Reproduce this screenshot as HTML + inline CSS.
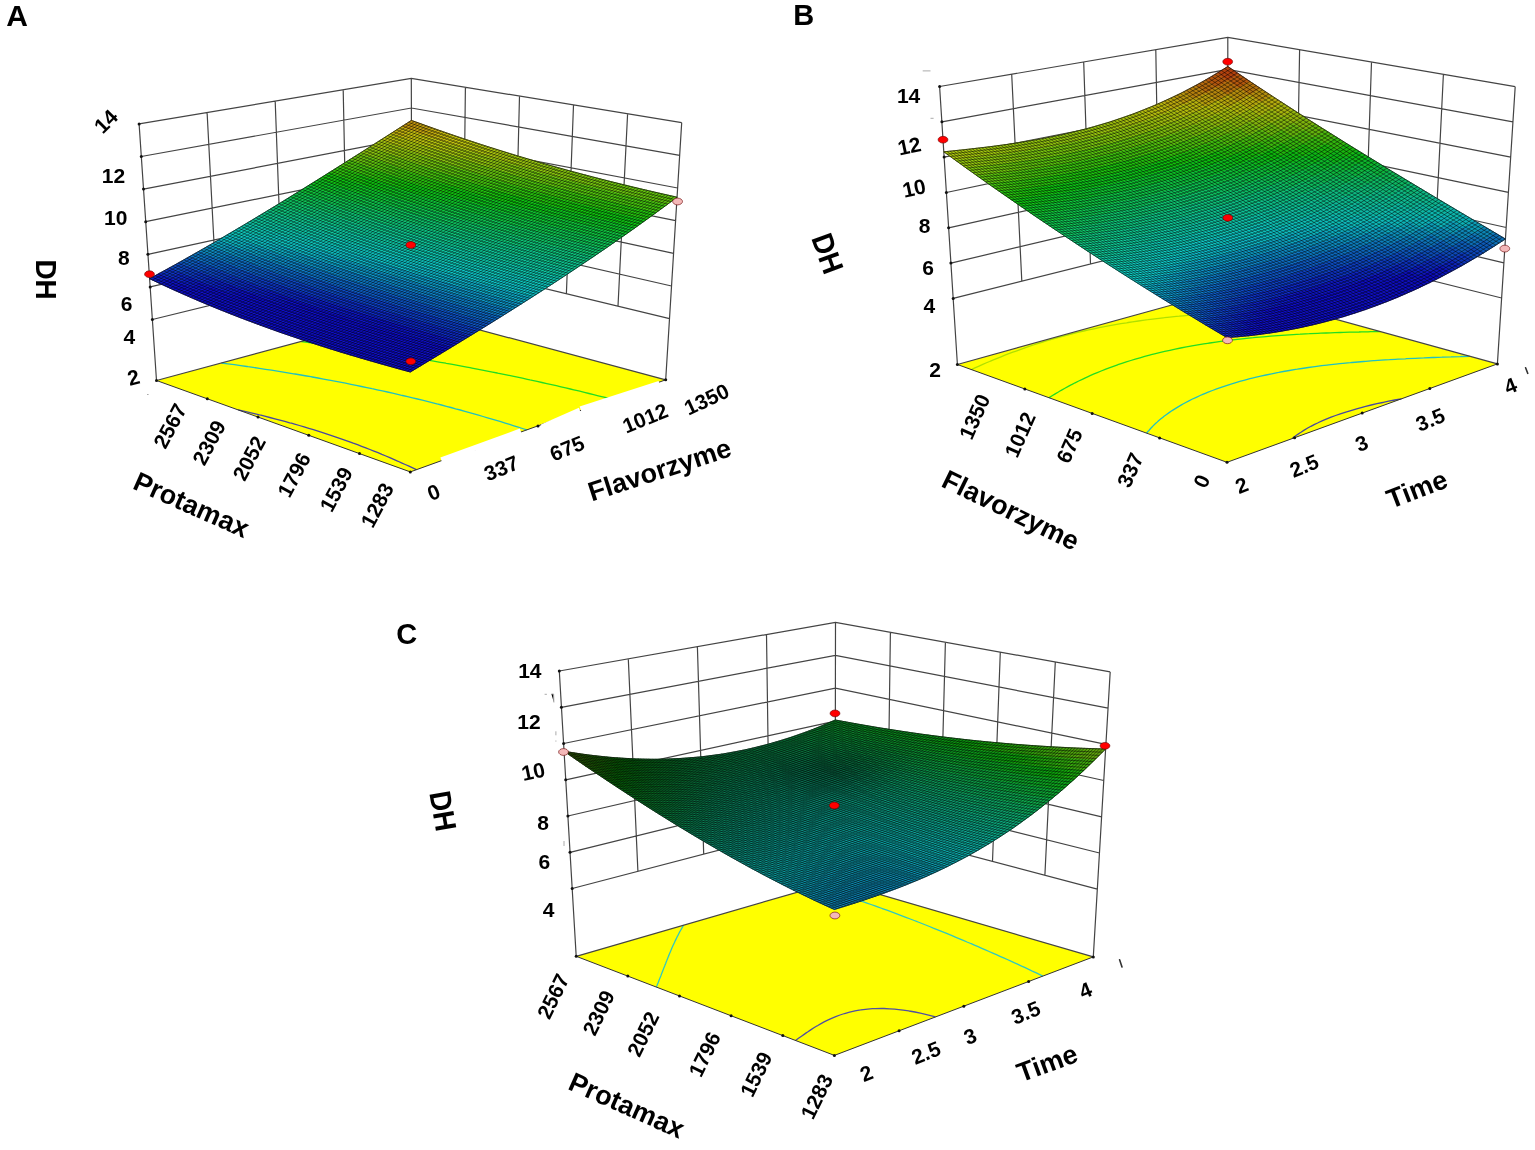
<!DOCTYPE html>
<html><head><meta charset="utf-8"><style>
html,body{margin:0;padding:0;background:#fff;}
body{width:1535px;height:1150px;overflow:hidden;position:relative;}
svg{position:absolute;left:0;top:0;}
.t{font-family:"Liberation Sans",Arial,sans-serif;font-weight:bold;fill:#000;}
</style></head><body>
<svg width="1535" height="1150" viewBox="0 0 1535 1150">
<polygon points="410.3,471.9 156.5,380.5 411.9,311.7 665.7,379.8" fill="#ffff00"/>
<path d="M238.2,409.9 L238.3,409.9 L243.7,411.1 L249,412.4 L254.3,413.6 L259.5,414.9 L260.9,415.2 L264.7,416.2 L269.8,417.5 L274.9,418.8 L279.9,420.1 L284.8,421.4 L289.7,422.8 L291.4,423.2 L294.6,424.1 L299.4,425.5 L304.1,426.9 L308.8,428.3 L313.4,429.7 L318,431.2 L322.6,432.6 L327.1,434.1 L331.6,435.6 L336,437.1 L340.4,438.6 L344.7,440.1 L349,441.6 L353.2,443.2 L357.5,444.7 L361.6,446.3 L365.8,447.9 L369.9,449.5 L373.9,451.1 L378,452.7 L381.9,454.4 L385.9,456 L389.8,457.7 L393.7,459.4 L397.6,461.1 L398.6,461.5 L401.4,462.8 L405.2,464.5 L409,466.2 L412.7,467.9 L416.4,469.7" fill="none" stroke="#4848a0" stroke-width="1.3"/>
<path d="M221.4,363 L227.9,363.9 L234.3,364.7 L234.5,364.7 L240.7,365.6 L246.9,366.5 L248.1,366.7 L253.1,367.4 L259.3,368.3 L262.4,368.8 L265.4,369.3 L271.4,370.2 L277.4,371.1 L277.5,371.1 L283.4,372.1 L289.3,373.1 L293.6,373.8 L295.1,374 L300.9,375 L306.6,376 L310.8,376.7 L312.3,377 L317.9,378 L323.5,379.1 L329.1,380.1 L329.4,380.1 L334.6,381.1 L340.1,382.2 L345.5,383.2 L349.9,384.1 L350.9,384.3 L356.2,385.4 L361.5,386.5 L366.8,387.6 L372,388.7 L373.2,388.9 L377.2,389.8 L382.4,390.9 L387.5,392 L392.6,393.2 L397.6,394.3 L400.8,395.1 L402.6,395.5 L407.6,396.6 L412.5,397.8 L417.5,399 L422.3,400.2 L427.2,401.4 L432,402.6 L436.8,403.8 L437.1,403.9 L441.5,405 L446.3,406.3 L451,407.5 L455.6,408.8 L460.3,410 L464.9,411.3 L469.5,412.6 L474,413.9 L478.5,415.2 L483,416.5 L487.5,417.8 L492,419.1 L496.4,420.4 L500.8,421.7 L505.2,423.1 L509.6,424.4 L513.9,425.8 L518.2,427.1 L522.5,428.5 L526.8,429.9" fill="none" stroke="#22c0c0" stroke-width="1.3"/>
<path d="M301.2,341.5 L307.5,342.3 L309.1,342.5 L313.7,343.1 L319.9,343.9 L323.2,344.3 L326.1,344.7 L332.2,345.5 L337.9,346.3 L338.2,346.3 L344.2,347.2 L350.2,348 L353.4,348.4 L356.1,348.8 L362,349.7 L367.9,350.5 L369.6,350.8 L373.7,351.4 L379.4,352.3 L385.1,353.2 L386.8,353.4 L390.8,354 L396.5,354.9 L402.1,355.8 L405.1,356.3 L407.7,356.7 L413.2,357.6 L418.7,358.6 L424.2,359.5 L424.7,359.6 L429.6,360.4 L435,361.3 L440.4,362.3 L445.8,363.2 L446.2,363.3 L451.1,364.2 L456.4,365.2 L461.6,366.1 L466.8,367.1 L470,367.7 L472,368.1 L477.2,369.1 L482.3,370.1 L487.4,371.1 L492.5,372.1 L497.3,373 L497.6,373.1 L502.6,374.1 L507.6,375.1 L512.6,376.2 L517.5,377.2 L522.4,378.2 L527.3,379.3 L530,379.9 L532.2,380.3 L537.1,381.4 L541.9,382.5 L546.7,383.6 L551.5,384.6 L556.3,385.7 L561,386.8 L565.7,387.9 L570.4,389 L573.8,389.8 L575.1,390.1 L579.8,391.2 L584.4,392.4 L589,393.5 L593.6,394.6 L598.2,395.8 L602.8,396.9 L607.4,398 L611.9,399.2" fill="none" stroke="#22dd22" stroke-width="1.3"/>
<path d="M139.1,123.9 L411.3,78.4 L681.7,122.6 M141.3,156.5 L411.4,108 L679.7,155.3 M143.5,189.1 L411.5,137.7 L677.6,188 M145.7,221.7 L411.5,167.3 L675.6,220.6 M147.9,254.3 L411.6,197 L673.6,253.3 M150.2,286.9 L411.7,226.6 L671.5,286 M152.4,319.5 L411.8,256.2 L669.5,318.7 M156.5,380.5 L411.9,311.7 L665.7,379.8 M156.5,380.5 L139.1,123.9 M665.7,379.8 L681.7,122.6 M217.2,303.7 L207.1,112.5 M282.1,287.9 L275.2,101.2 M346.9,272.1 L343.2,89.8 M411.8,256.2 L411.3,78.4 M618,306.2 L627.6,113.8 M566.4,293.7 L573.5,104.9 M514.9,281.2 L519.5,96.1 M463.3,268.7 L465.4,87.2" fill="none" stroke="#444" stroke-width="1.2"/>
<path d="M156.5,380.5 L410.3,471.9 L665.7,379.8" fill="none" stroke="#333" stroke-width="1"/>
<g fill="#111"><circle cx="139.1" cy="123.9" r="1.5"/><circle cx="141.3" cy="156.5" r="1.5"/><circle cx="143.5" cy="189.1" r="1.5"/><circle cx="145.7" cy="221.7" r="1.5"/><circle cx="147.9" cy="254.3" r="1.5"/><circle cx="150.2" cy="286.9" r="1.5"/><circle cx="152.4" cy="319.5" r="1.5"/><circle cx="156.5" cy="380.5" r="1.5"/><circle cx="410.3" cy="471.9" r="1.5"/><circle cx="359.5" cy="453.6" r="1.5"/><circle cx="308.8" cy="435.3" r="1.5"/><circle cx="258" cy="417.1" r="1.5"/><circle cx="207.3" cy="398.8" r="1.5"/><circle cx="474.2" cy="448.9" r="1.5"/><circle cx="538" cy="425.9" r="1.5"/><circle cx="601.9" cy="402.8" r="1.5"/><circle cx="665.7" cy="379.8" r="1.5"/></g>
<polygon points="411.4,130.8 401.1,127 411.4,120.4 421.7,124.1" fill="#c3950e" stroke="#c3950e" stroke-width=".8"/>
<polygon points="401,137.5 390.8,133.6 401.1,127 411.4,130.8" fill="#c3b30e" stroke="#c3b30e" stroke-width=".8"/>
<polygon points="421.6,134.6 411.4,130.8 421.7,124.1 432,127.8" fill="#c3a10e" stroke="#c3a10e" stroke-width=".8"/>
<polygon points="431.9,138.2 421.6,134.6 432,127.8 442.2,131.4" fill="#c3ad0e" stroke="#c3ad0e" stroke-width=".8"/>
<polygon points="411.3,141.2 401,137.5 411.4,130.8 421.6,134.6" fill="#c3bf0e" stroke="#c3bf0e" stroke-width=".8"/>
<polygon points="390.8,144.1 380.5,140.1 390.8,133.6 401,137.5" fill="#b8c20e" stroke="#b8c20e" stroke-width=".8"/>
<polygon points="442.1,141.8 431.9,138.2 442.2,131.4 452.5,135" fill="#c3b80e" stroke="#c3b80e" stroke-width=".8"/>
<polygon points="421.6,145 411.3,141.2 421.6,134.6 431.9,138.2" fill="#bdc30e" stroke="#bdc30e" stroke-width=".8"/>
<polygon points="401,147.9 390.8,144.1 401,137.5 411.3,141.2" fill="#aec30e" stroke="#aec30e" stroke-width=".8"/>
<polygon points="380.5,150.6 370.2,146.7 380.5,140.1 390.8,144.1" fill="#a0c20e" stroke="#a0c20e" stroke-width=".8"/>
<polygon points="431.8,148.6 421.6,145 431.9,138.2 442.1,141.8" fill="#b5c30e" stroke="#b5c30e" stroke-width=".8"/>
<polygon points="411.3,151.7 401,147.9 411.3,141.2 421.6,145" fill="#a6c30e" stroke="#a6c30e" stroke-width=".8"/>
<polygon points="452.4,145.3 442.1,141.8 452.5,135 462.7,138.4" fill="#c3c20e" stroke="#c3c20e" stroke-width=".8"/>
<polygon points="390.8,154.5 380.5,150.6 390.8,144.1 401,147.9" fill="#97c20e" stroke="#97c20e" stroke-width=".8"/>
<polygon points="370.3,157.2 360,153.2 370.2,146.7 380.5,150.6" fill="#89c20e" stroke="#89c20e" stroke-width=".8"/>
<polygon points="462.6,148.8 452.4,145.3 462.7,138.4 473,141.8" fill="#bdc40e" stroke="#bdc40e" stroke-width=".8"/>
<polygon points="380.5,161.1 370.3,157.2 380.5,150.6 390.8,154.5" fill="#7ec20e" stroke="#7ec20e" stroke-width=".8"/>
<polygon points="442,152.2 431.8,148.6 442.1,141.8 452.4,145.3" fill="#adc30e" stroke="#adc30e" stroke-width=".8"/>
<polygon points="421.5,155.4 411.3,151.7 421.6,145 431.8,148.6" fill="#9dc30e" stroke="#9dc30e" stroke-width=".8"/>
<polygon points="401,158.3 390.8,154.5 401,147.9 411.3,151.7" fill="#8ec30e" stroke="#8ec30e" stroke-width=".8"/>
<polygon points="360.1,163.7 349.8,159.6 360,153.2 370.3,157.2" fill="#6cc20e" stroke="#6cc20e" stroke-width=".8"/>
<polygon points="472.8,152.2 462.6,148.8 473,141.8 483.2,145.2" fill="#b6c40e" stroke="#b6c40e" stroke-width=".8"/>
<polygon points="452.3,155.7 442,152.2 452.4,145.3 462.6,148.8" fill="#a5c30e" stroke="#a5c30e" stroke-width=".8"/>
<polygon points="431.7,159 421.5,155.4 431.8,148.6 442,152.2" fill="#95c30e" stroke="#95c30e" stroke-width=".8"/>
<polygon points="411.2,162.1 401,158.3 411.3,151.7 421.5,155.4" fill="#85c30e" stroke="#85c30e" stroke-width=".8"/>
<polygon points="390.7,165 380.5,161.1 390.8,154.5 401,158.3" fill="#72c30e" stroke="#72c30e" stroke-width=".8"/>
<polygon points="370.3,167.7 360.1,163.7 370.3,157.2 380.5,161.1" fill="#60c20e" stroke="#60c20e" stroke-width=".8"/>
<polygon points="349.9,170.2 339.6,166.1 349.8,159.6 360.1,163.7" fill="#4ec20e" stroke="#4ec20e" stroke-width=".8"/>
<polygon points="462.5,159.1 452.3,155.7 462.6,148.8 472.8,152.2" fill="#9ec40e" stroke="#9ec40e" stroke-width=".8"/>
<polygon points="441.9,162.5 431.7,159 442,152.2 452.3,155.7" fill="#8dc30e" stroke="#8dc30e" stroke-width=".8"/>
<polygon points="380.5,171.6 370.3,167.7 380.5,161.1 390.7,165" fill="#54c30e" stroke="#54c30e" stroke-width=".8"/>
<polygon points="339.7,176.6 329.5,172.4 339.6,166.1 349.9,170.2" fill="#31c20e" stroke="#31c20e" stroke-width=".8"/>
<polygon points="483.1,155.5 472.8,152.2 483.2,145.2 493.4,148.4" fill="#afc40e" stroke="#afc40e" stroke-width=".8"/>
<polygon points="421.4,165.7 411.2,162.1 421.5,155.4 431.7,159" fill="#7bc30e" stroke="#7bc30e" stroke-width=".8"/>
<polygon points="401,168.8 390.7,165 401,158.3 411.2,162.1" fill="#67c30e" stroke="#67c30e" stroke-width=".8"/>
<polygon points="360.1,174.2 349.9,170.2 360.1,163.7 370.3,167.7" fill="#42c20e" stroke="#42c20e" stroke-width=".8"/>
<polygon points="493.3,158.7 483.1,155.5 493.4,148.4 503.7,151.6" fill="#a9c40e" stroke="#a9c40e" stroke-width=".8"/>
<polygon points="431.6,169.3 421.4,165.7 431.7,159 441.9,162.5" fill="#71c30e" stroke="#71c30e" stroke-width=".8"/>
<polygon points="411.2,172.5 401,168.8 411.2,162.1 421.4,165.7" fill="#5cc30e" stroke="#5cc30e" stroke-width=".8"/>
<polygon points="472.7,162.5 462.5,159.1 472.8,152.2 483.1,155.5" fill="#97c40e" stroke="#97c40e" stroke-width=".8"/>
<polygon points="452.2,166 441.9,162.5 452.3,155.7 462.5,159.1" fill="#86c40e" stroke="#86c40e" stroke-width=".8"/>
<polygon points="390.7,175.4 380.5,171.6 390.7,165 401,168.8" fill="#49c30e" stroke="#49c30e" stroke-width=".8"/>
<polygon points="370.3,178.1 360.1,174.2 370.3,167.7 380.5,171.6" fill="#36c30e" stroke="#36c30e" stroke-width=".8"/>
<polygon points="349.9,180.6 339.7,176.6 349.9,170.2 360.1,174.2" fill="#25c20e" stroke="#25c20e" stroke-width=".8"/>
<polygon points="329.6,183 319.3,178.8 329.5,172.4 339.7,176.6" fill="#14c20e" stroke="#14c20e" stroke-width=".8"/>
<polygon points="421.4,176.1 411.2,172.5 421.4,165.7 431.6,169.3" fill="#52c30e" stroke="#52c30e" stroke-width=".8"/>
<polygon points="503.5,161.9 493.3,158.7 503.7,151.6 513.9,154.8" fill="#a3c40e" stroke="#a3c40e" stroke-width=".8"/>
<polygon points="482.9,165.8 472.7,162.5 483.1,155.5 493.3,158.7" fill="#91c40e" stroke="#91c40e" stroke-width=".8"/>
<polygon points="462.4,169.4 452.2,166 462.5,159.1 472.7,162.5" fill="#7dc40e" stroke="#7dc40e" stroke-width=".8"/>
<polygon points="441.9,172.8 431.6,169.3 441.9,162.5 452.2,166" fill="#67c40e" stroke="#67c40e" stroke-width=".8"/>
<polygon points="400.9,179.1 390.7,175.4 401,168.8 411.2,172.5" fill="#3ec30e" stroke="#3ec30e" stroke-width=".8"/>
<polygon points="380.5,182 370.3,178.1 380.5,171.6 390.7,175.4" fill="#2bc30e" stroke="#2bc30e" stroke-width=".8"/>
<polygon points="360.1,184.6 349.9,180.6 360.1,174.2 370.3,178.1" fill="#19c30e" stroke="#19c30e" stroke-width=".8"/>
<polygon points="339.8,187.1 329.6,183 339.7,176.6 349.9,180.6" fill="#0ec212" stroke="#0ec212" stroke-width=".8"/>
<polygon points="319.4,189.3 309.2,185.1 319.3,178.8 329.6,183" fill="#0ec21f" stroke="#0ec21f" stroke-width=".8"/>
<polygon points="493.1,169 482.9,165.8 493.3,158.7 503.5,161.9" fill="#8bc40e" stroke="#8bc40e" stroke-width=".8"/>
<polygon points="472.6,172.7 462.4,169.4 472.7,162.5 482.9,165.8" fill="#74c40e" stroke="#74c40e" stroke-width=".8"/>
<polygon points="411.1,182.8 400.9,179.1 411.2,172.5 421.4,176.1" fill="#34c30e" stroke="#34c30e" stroke-width=".8"/>
<polygon points="370.3,188.5 360.1,184.6 370.3,178.1 380.5,182" fill="#0ec30e" stroke="#0ec30e" stroke-width=".8"/>
<polygon points="350,191.1 339.8,187.1 349.9,180.6 360.1,184.6" fill="#0ec31b" stroke="#0ec31b" stroke-width=".8"/>
<polygon points="513.7,165 503.5,161.9 513.9,154.8 524.1,157.8" fill="#9dc40e" stroke="#9dc40e" stroke-width=".8"/>
<polygon points="452,176.3 441.9,172.8 452.2,166 462.4,169.4" fill="#5ec40e" stroke="#5ec40e" stroke-width=".8"/>
<polygon points="431.6,179.6 421.4,176.1 431.6,169.3 441.9,172.8" fill="#48c40e" stroke="#48c40e" stroke-width=".8"/>
<polygon points="390.7,185.8 380.5,182 390.7,175.4 400.9,179.1" fill="#20c30e" stroke="#20c30e" stroke-width=".8"/>
<polygon points="329.6,193.5 319.4,189.3 329.6,183 339.8,187.1" fill="#0ec228" stroke="#0ec228" stroke-width=".8"/>
<polygon points="309.3,195.6 299.1,191.4 309.2,185.1 319.4,189.3" fill="#0ec235" stroke="#0ec235" stroke-width=".8"/>
<polygon points="523.9,168.1 513.7,165 524.1,157.8 534.3,160.8" fill="#98c50e" stroke="#98c50e" stroke-width=".8"/>
<polygon points="503.3,172.1 493.1,169 503.5,161.9 513.7,165" fill="#84c40e" stroke="#84c40e" stroke-width=".8"/>
<polygon points="462.2,179.7 452,176.3 462.4,169.4 472.6,172.7" fill="#55c40e" stroke="#55c40e" stroke-width=".8"/>
<polygon points="441.8,183.1 431.6,179.6 441.9,172.8 452,176.3" fill="#3fc40e" stroke="#3fc40e" stroke-width=".8"/>
<polygon points="400.9,189.5 390.7,185.8 400.9,179.1 411.1,182.8" fill="#17c30e" stroke="#17c30e" stroke-width=".8"/>
<polygon points="339.8,197.5 329.6,193.5 339.8,187.1 350,191.1" fill="#0ec332" stroke="#0ec332" stroke-width=".8"/>
<polygon points="319.5,199.8 309.3,195.6 319.4,189.3 329.6,193.5" fill="#0ec23e" stroke="#0ec23e" stroke-width=".8"/>
<polygon points="482.7,176 472.6,172.7 482.9,165.8 493.1,169" fill="#6cc40e" stroke="#6cc40e" stroke-width=".8"/>
<polygon points="421.3,186.4 411.1,182.8 421.4,176.1 431.6,179.6" fill="#2ac40e" stroke="#2ac40e" stroke-width=".8"/>
<polygon points="380.5,192.3 370.3,188.5 380.5,182 390.7,185.8" fill="#0ec316" stroke="#0ec316" stroke-width=".8"/>
<polygon points="360.2,195 350,191.1 360.1,184.6 370.3,188.5" fill="#0ec324" stroke="#0ec324" stroke-width=".8"/>
<polygon points="299.2,201.9 289,197.6 299.1,191.4 309.3,195.6" fill="#0ec24a" stroke="#0ec24a" stroke-width=".8"/>
<polygon points="451.9,186.5 441.8,183.1 452,176.3 462.2,179.7" fill="#37c40e" stroke="#37c40e" stroke-width=".8"/>
<polygon points="534.1,171.1 523.9,168.1 534.3,160.8 544.5,163.8" fill="#93c50e" stroke="#93c50e" stroke-width=".8"/>
<polygon points="513.5,175.2 503.3,172.1 513.7,165 523.9,168.1" fill="#7dc50e" stroke="#7dc50e" stroke-width=".8"/>
<polygon points="492.9,179.2 482.7,176 493.1,169 503.3,172.1" fill="#65c40e" stroke="#65c40e" stroke-width=".8"/>
<polygon points="472.4,183 462.2,179.7 472.6,172.7 482.7,176" fill="#4dc40e" stroke="#4dc40e" stroke-width=".8"/>
<polygon points="431.5,189.9 421.3,186.4 431.6,179.6 441.8,183.1" fill="#22c40e" stroke="#22c40e" stroke-width=".8"/>
<polygon points="411.1,193.1 400.9,189.5 411.1,182.8 421.3,186.4" fill="#0ec40e" stroke="#0ec40e" stroke-width=".8"/>
<polygon points="390.7,196.1 380.5,192.3 390.7,185.8 400.9,189.5" fill="#0ec31e" stroke="#0ec31e" stroke-width=".8"/>
<polygon points="370.4,198.9 360.2,195 370.3,188.5 380.5,192.3" fill="#0ec32c" stroke="#0ec32c" stroke-width=".8"/>
<polygon points="350,201.5 339.8,197.5 350,191.1 360.2,195" fill="#0ec33a" stroke="#0ec33a" stroke-width=".8"/>
<polygon points="329.7,203.9 319.5,199.8 329.6,193.5 339.8,197.5" fill="#0ec347" stroke="#0ec347" stroke-width=".8"/>
<polygon points="309.4,206.1 299.2,201.9 309.3,195.6 319.5,199.8" fill="#0ec254" stroke="#0ec254" stroke-width=".8"/>
<polygon points="289.2,208.1 279,203.8 289,197.6 299.2,201.9" fill="#0ec260" stroke="#0ec260" stroke-width=".8"/>
<polygon points="544.3,174 534.1,171.1 544.5,163.8 554.7,166.7" fill="#8ec50e" stroke="#8ec50e" stroke-width=".8"/>
<polygon points="503.1,182.3 492.9,179.2 503.3,172.1 513.5,175.2" fill="#5dc50e" stroke="#5dc50e" stroke-width=".8"/>
<polygon points="441.7,193.3 431.5,189.9 441.8,183.1 451.9,186.5" fill="#19c40e" stroke="#19c40e" stroke-width=".8"/>
<polygon points="400.9,199.7 390.7,196.1 400.9,189.5 411.1,193.1" fill="#0ec425" stroke="#0ec425" stroke-width=".8"/>
<polygon points="380.5,202.6 370.4,198.9 380.5,192.3 390.7,196.1" fill="#0ec434" stroke="#0ec434" stroke-width=".8"/>
<polygon points="319.6,210.2 309.4,206.1 319.5,199.8 329.7,203.9" fill="#0ec35d" stroke="#0ec35d" stroke-width=".8"/>
<polygon points="279.1,214.2 268.9,209.9 279,203.8 289.2,208.1" fill="#0ec274" stroke="#0ec274" stroke-width=".8"/>
<polygon points="523.7,178.3 513.5,175.2 523.9,168.1 534.1,171.1" fill="#76c50e" stroke="#76c50e" stroke-width=".8"/>
<polygon points="482.6,186.2 472.4,183 482.7,176 492.9,179.2" fill="#46c50e" stroke="#46c50e" stroke-width=".8"/>
<polygon points="462.1,189.9 451.9,186.5 462.2,179.7 472.4,183" fill="#2fc40e" stroke="#2fc40e" stroke-width=".8"/>
<polygon points="421.3,196.6 411.1,193.1 421.3,186.4 431.5,189.9" fill="#0ec415" stroke="#0ec415" stroke-width=".8"/>
<polygon points="360.2,205.3 350,201.5 360.2,195 370.4,198.9" fill="#0ec342" stroke="#0ec342" stroke-width=".8"/>
<polygon points="339.9,207.9 329.7,203.9 339.8,197.5 350,201.5" fill="#0ec350" stroke="#0ec350" stroke-width=".8"/>
<polygon points="299.4,212.3 289.2,208.1 299.2,201.9 309.4,206.1" fill="#0ec369" stroke="#0ec369" stroke-width=".8"/>
<polygon points="554.5,176.9 544.3,174 554.7,166.7 564.9,169.5" fill="#89c50e" stroke="#89c50e" stroke-width=".8"/>
<polygon points="533.9,181.2 523.7,178.3 534.1,171.1 544.3,174" fill="#70c50e" stroke="#70c50e" stroke-width=".8"/>
<polygon points="492.8,189.4 482.6,186.2 492.9,179.2 503.1,182.3" fill="#3fc50e" stroke="#3fc50e" stroke-width=".8"/>
<polygon points="472.3,193.1 462.1,189.9 472.4,183 482.6,186.2" fill="#27c50e" stroke="#27c50e" stroke-width=".8"/>
<polygon points="431.4,200.1 421.3,196.6 431.5,189.9 441.7,193.3" fill="#0ec41c" stroke="#0ec41c" stroke-width=".8"/>
<polygon points="370.4,209.1 360.2,205.3 370.4,198.9 380.5,202.6" fill="#0ec44a" stroke="#0ec44a" stroke-width=".8"/>
<polygon points="350.1,211.8 339.9,207.9 350,201.5 360.2,205.3" fill="#0ec358" stroke="#0ec358" stroke-width=".8"/>
<polygon points="289.3,218.5 279.1,214.2 289.2,208.1 299.4,212.3" fill="#0ec37e" stroke="#0ec37e" stroke-width=".8"/>
<polygon points="269.1,220.3 258.9,215.9 268.9,209.9 279.1,214.2" fill="#0ec287" stroke="#0ec287" stroke-width=".8"/>
<polygon points="513.3,185.4 503.1,182.3 513.5,175.2 523.7,178.3" fill="#57c50e" stroke="#57c50e" stroke-width=".8"/>
<polygon points="451.8,196.7 441.7,193.3 451.9,186.5 462.1,189.9" fill="#11c40e" stroke="#11c40e" stroke-width=".8"/>
<polygon points="411,203.3 400.9,199.7 411.1,193.1 421.3,196.6" fill="#0ec42c" stroke="#0ec42c" stroke-width=".8"/>
<polygon points="390.7,206.3 380.5,202.6 390.7,196.1 400.9,199.7" fill="#0ec43c" stroke="#0ec43c" stroke-width=".8"/>
<polygon points="329.8,214.2 319.6,210.2 329.7,203.9 339.9,207.9" fill="#0ec366" stroke="#0ec366" stroke-width=".8"/>
<polygon points="309.5,216.5 299.4,212.3 309.4,206.1 319.6,210.2" fill="#0ec372" stroke="#0ec372" stroke-width=".8"/>
<polygon points="360.2,215.6 350.1,211.8 360.2,205.3 370.4,209.1" fill="#0ec460" stroke="#0ec460" stroke-width=".8"/>
<polygon points="564.7,179.7 554.5,176.9 564.9,169.5 575.1,172.3" fill="#84c50e" stroke="#84c50e" stroke-width=".8"/>
<polygon points="544,184.2 533.9,181.2 544.3,174 554.5,176.9" fill="#6ac50e" stroke="#6ac50e" stroke-width=".8"/>
<polygon points="523.5,188.4 513.3,185.4 523.7,178.3 533.9,181.2" fill="#50c50e" stroke="#50c50e" stroke-width=".8"/>
<polygon points="502.9,192.5 492.8,189.4 503.1,182.3 513.3,185.4" fill="#38c50e" stroke="#38c50e" stroke-width=".8"/>
<polygon points="482.5,196.3 472.3,193.1 482.6,186.2 492.8,189.4" fill="#20c50e" stroke="#20c50e" stroke-width=".8"/>
<polygon points="462,200 451.8,196.7 462.1,189.9 472.3,193.1" fill="#0ec511" stroke="#0ec511" stroke-width=".8"/>
<polygon points="441.6,203.5 431.4,200.1 441.7,193.3 451.8,196.7" fill="#0ec522" stroke="#0ec522" stroke-width=".8"/>
<polygon points="421.2,206.8 411,203.3 421.3,196.6 431.4,200.1" fill="#0ec433" stroke="#0ec433" stroke-width=".8"/>
<polygon points="400.9,209.9 390.7,206.3 400.9,199.7 411,203.3" fill="#0ec442" stroke="#0ec442" stroke-width=".8"/>
<polygon points="380.5,212.8 370.4,209.1 380.5,202.6 390.7,206.3" fill="#0ec452" stroke="#0ec452" stroke-width=".8"/>
<polygon points="340,218.1 329.8,214.2 339.9,207.9 350.1,211.8" fill="#0ec46e" stroke="#0ec46e" stroke-width=".8"/>
<polygon points="319.7,220.5 309.5,216.5 319.6,210.2 329.8,214.2" fill="#0ec37b" stroke="#0ec37b" stroke-width=".8"/>
<polygon points="299.5,222.7 289.3,218.5 299.4,212.3 309.5,216.5" fill="#0ec386" stroke="#0ec386" stroke-width=".8"/>
<polygon points="279.3,224.6 269.1,220.3 279.1,214.2 289.3,218.5" fill="#0ec38f" stroke="#0ec38f" stroke-width=".8"/>
<polygon points="259.1,226.4 248.9,222 258.9,215.9 269.1,220.3" fill="#0ec298" stroke="#0ec298" stroke-width=".8"/>
<polygon points="574.8,182.4 564.7,179.7 575.1,172.3 585.3,175" fill="#7fc50e" stroke="#7fc50e" stroke-width=".8"/>
<polygon points="554.2,187 544,184.2 554.5,176.9 564.7,179.7" fill="#64c50e" stroke="#64c50e" stroke-width=".8"/>
<polygon points="533.6,191.4 523.5,188.4 533.9,181.2 544,184.2" fill="#4bc50e" stroke="#4bc50e" stroke-width=".8"/>
<polygon points="513.1,195.5 502.9,192.5 513.3,185.4 523.5,188.4" fill="#32c50e" stroke="#32c50e" stroke-width=".8"/>
<polygon points="472.2,203.2 462,200 472.3,193.1 482.5,196.3" fill="#0ec517" stroke="#0ec517" stroke-width=".8"/>
<polygon points="411,213.4 400.9,209.9 411,203.3 421.2,206.8" fill="#0ec549" stroke="#0ec549" stroke-width=".8"/>
<polygon points="350.1,222 340,218.1 350.1,211.8 360.2,215.6" fill="#0ec475" stroke="#0ec475" stroke-width=".8"/>
<polygon points="309.6,226.7 299.5,222.7 309.5,216.5 319.7,220.5" fill="#0ec38d" stroke="#0ec38d" stroke-width=".8"/>
<polygon points="289.4,228.8 279.3,224.6 289.3,218.5 299.5,222.7" fill="#0ec396" stroke="#0ec396" stroke-width=".8"/>
<polygon points="249.1,232.4 238.9,227.9 248.9,222 259.1,226.4" fill="#0ec3a8" stroke="#0ec3a8" stroke-width=".8"/>
<polygon points="492.6,199.5 482.5,196.3 492.8,189.4 502.9,192.5" fill="#1ac50e" stroke="#1ac50e" stroke-width=".8"/>
<polygon points="451.7,206.8 441.6,203.5 451.8,196.7 462,200" fill="#0ec528" stroke="#0ec528" stroke-width=".8"/>
<polygon points="431.4,210.2 421.2,206.8 431.4,200.1 441.6,203.5" fill="#0ec539" stroke="#0ec539" stroke-width=".8"/>
<polygon points="390.7,216.5 380.5,212.8 390.7,206.3 400.9,209.9" fill="#0ec458" stroke="#0ec458" stroke-width=".8"/>
<polygon points="370.4,219.3 360.2,215.6 370.4,209.1 380.5,212.8" fill="#0ec467" stroke="#0ec467" stroke-width=".8"/>
<polygon points="329.9,224.5 319.7,220.5 329.8,214.2 340,218.1" fill="#0ec482" stroke="#0ec482" stroke-width=".8"/>
<polygon points="269.3,230.7 259.1,226.4 269.1,220.3 279.3,224.6" fill="#0ec39f" stroke="#0ec39f" stroke-width=".8"/>
<polygon points="585,185.2 574.8,182.4 585.3,175 595.5,177.7" fill="#7bc50e" stroke="#7bc50e" stroke-width=".8"/>
<polygon points="564.4,189.8 554.2,187 564.7,179.7 574.8,182.4" fill="#5fc60e" stroke="#5fc60e" stroke-width=".8"/>
<polygon points="543.8,194.3 533.6,191.4 544,184.2 554.2,187" fill="#45c60e" stroke="#45c60e" stroke-width=".8"/>
<polygon points="523.3,198.5 513.1,195.5 523.5,188.4 533.6,191.4" fill="#2cc50e" stroke="#2cc50e" stroke-width=".8"/>
<polygon points="502.8,202.6 492.6,199.5 502.9,192.5 513.1,195.5" fill="#14c50e" stroke="#14c50e" stroke-width=".8"/>
<polygon points="461.9,210.1 451.7,206.8 462,200 472.2,203.2" fill="#0ec52d" stroke="#0ec52d" stroke-width=".8"/>
<polygon points="441.5,213.6 431.4,210.2 441.6,203.5 451.7,206.8" fill="#0ec53f" stroke="#0ec53f" stroke-width=".8"/>
<polygon points="400.8,220 390.7,216.5 400.9,209.9 411,213.4" fill="#0ec55f" stroke="#0ec55f" stroke-width=".8"/>
<polygon points="340,228.3 329.9,224.5 340,218.1 350.1,222" fill="#0ec488" stroke="#0ec488" stroke-width=".8"/>
<polygon points="319.8,230.7 309.6,226.7 319.7,220.5 329.9,224.5" fill="#0ec493" stroke="#0ec493" stroke-width=".8"/>
<polygon points="299.6,232.9 289.4,228.8 299.5,222.7 309.6,226.7" fill="#0ec49d" stroke="#0ec49d" stroke-width=".8"/>
<polygon points="279.4,234.9 269.3,230.7 279.3,224.6 289.4,228.8" fill="#0ec3a6" stroke="#0ec3a6" stroke-width=".8"/>
<polygon points="259.3,236.7 249.1,232.4 259.1,226.4 269.3,230.7" fill="#0ec3af" stroke="#0ec3af" stroke-width=".8"/>
<polygon points="239.1,238.3 228.9,233.8 238.9,227.9 249.1,232.4" fill="#0ec3b7" stroke="#0ec3b7" stroke-width=".8"/>
<polygon points="482.3,206.4 472.2,203.2 482.5,196.3 492.6,199.5" fill="#0ec51c" stroke="#0ec51c" stroke-width=".8"/>
<polygon points="421.2,216.9 411,213.4 421.2,206.8 431.4,210.2" fill="#0ec54f" stroke="#0ec54f" stroke-width=".8"/>
<polygon points="380.5,223 370.4,219.3 380.5,212.8 390.7,216.5" fill="#0ec56e" stroke="#0ec56e" stroke-width=".8"/>
<polygon points="360.3,225.7 350.1,222 360.2,215.6 370.4,219.3" fill="#0ec47c" stroke="#0ec47c" stroke-width=".8"/>
<polygon points="574.6,192.6 564.4,189.8 574.8,182.4 585,185.2" fill="#5bc60e" stroke="#5bc60e" stroke-width=".8"/>
<polygon points="329.9,234.6 319.8,230.7 329.9,224.5 340,228.3" fill="#0ec499" stroke="#0ec499" stroke-width=".8"/>
<polygon points="249.3,242.7 239.1,238.3 249.1,232.4 259.3,236.7" fill="#0ec3bf" stroke="#0ec3bf" stroke-width=".8"/>
<polygon points="595.2,187.8 585,185.2 595.5,177.7 605.7,180.3" fill="#76c60e" stroke="#76c60e" stroke-width=".8"/>
<polygon points="554,197.1 543.8,194.3 554.2,187 564.4,189.8" fill="#40c60e" stroke="#40c60e" stroke-width=".8"/>
<polygon points="533.4,201.4 523.3,198.5 533.6,191.4 543.8,194.3" fill="#27c60e" stroke="#27c60e" stroke-width=".8"/>
<polygon points="512.9,205.6 502.8,202.6 513.1,195.5 523.3,198.5" fill="#0ec60e" stroke="#0ec60e" stroke-width=".8"/>
<polygon points="492.5,209.5 482.3,206.4 492.6,199.5 502.8,202.6" fill="#0ec620" stroke="#0ec620" stroke-width=".8"/>
<polygon points="472,213.3 461.9,210.1 472.2,203.2 482.3,206.4" fill="#0ec533" stroke="#0ec533" stroke-width=".8"/>
<polygon points="451.7,216.9 441.5,213.6 451.7,206.8 461.9,210.1" fill="#0ec544" stroke="#0ec544" stroke-width=".8"/>
<polygon points="431.3,220.3 421.2,216.9 431.4,210.2 441.5,213.6" fill="#0ec555" stroke="#0ec555" stroke-width=".8"/>
<polygon points="411,223.5 400.8,220 411,213.4 421.2,216.9" fill="#0ec565" stroke="#0ec565" stroke-width=".8"/>
<polygon points="390.7,226.6 380.5,223 390.7,216.5 400.8,220" fill="#0ec574" stroke="#0ec574" stroke-width=".8"/>
<polygon points="370.4,229.4 360.3,225.7 370.4,219.3 380.5,223" fill="#0ec583" stroke="#0ec583" stroke-width=".8"/>
<polygon points="350.2,232.1 340,228.3 350.1,222 360.3,225.7" fill="#0ec48e" stroke="#0ec48e" stroke-width=".8"/>
<polygon points="309.7,237 299.6,232.9 309.6,226.7 319.8,230.7" fill="#0ec4a4" stroke="#0ec4a4" stroke-width=".8"/>
<polygon points="289.6,239.1 279.4,234.9 289.4,228.8 299.6,232.9" fill="#0ec4ad" stroke="#0ec4ad" stroke-width=".8"/>
<polygon points="269.4,241 259.3,236.7 269.3,230.7 279.4,234.9" fill="#0ec3b6" stroke="#0ec3b6" stroke-width=".8"/>
<polygon points="229.1,244.2 219,239.7 228.9,233.8 239.1,238.3" fill="#0ebfc3" stroke="#0ebfc3" stroke-width=".8"/>
<polygon points="605.4,190.4 595.2,187.8 605.7,180.3 615.9,182.8" fill="#72c60e" stroke="#72c60e" stroke-width=".8"/>
<polygon points="584.8,195.2 574.6,192.6 585,185.2 595.2,187.8" fill="#56c60e" stroke="#56c60e" stroke-width=".8"/>
<polygon points="564.2,199.9 554,197.1 564.4,189.8 574.6,192.6" fill="#3bc60e" stroke="#3bc60e" stroke-width=".8"/>
<polygon points="543.6,204.3 533.4,201.4 543.8,194.3 554,197.1" fill="#22c60e" stroke="#22c60e" stroke-width=".8"/>
<polygon points="523.1,208.5 512.9,205.6 523.3,198.5 533.4,201.4" fill="#0ec612" stroke="#0ec612" stroke-width=".8"/>
<polygon points="502.6,212.6 492.5,209.5 502.8,202.6 512.9,205.6" fill="#0ec625" stroke="#0ec625" stroke-width=".8"/>
<polygon points="482.2,216.4 472,213.3 482.3,206.4 492.5,209.5" fill="#0ec637" stroke="#0ec637" stroke-width=".8"/>
<polygon points="441.4,223.6 431.3,220.3 441.5,213.6 451.7,216.9" fill="#0ec65a" stroke="#0ec65a" stroke-width=".8"/>
<polygon points="421.1,226.9 411,223.5 421.2,216.9 431.3,220.3" fill="#0ec56a" stroke="#0ec56a" stroke-width=".8"/>
<polygon points="400.8,230.1 390.7,226.6 400.8,220 411,223.5" fill="#0ec57a" stroke="#0ec57a" stroke-width=".8"/>
<polygon points="380.5,233 370.4,229.4 380.5,223 390.7,226.6" fill="#0ec588" stroke="#0ec588" stroke-width=".8"/>
<polygon points="340.1,238.4 329.9,234.6 340,228.3 350.2,232.1" fill="#0ec59f" stroke="#0ec59f" stroke-width=".8"/>
<polygon points="319.9,240.9 309.7,237 319.8,230.7 329.9,234.6" fill="#0ec4aa" stroke="#0ec4aa" stroke-width=".8"/>
<polygon points="279.6,245.2 269.4,241 279.4,234.9 289.6,239.1" fill="#0ec4bd" stroke="#0ec4bd" stroke-width=".8"/>
<polygon points="259.4,247 249.3,242.7 259.3,236.7 269.4,241" fill="#0ec1c4" stroke="#0ec1c4" stroke-width=".8"/>
<polygon points="239.3,248.6 229.1,244.2 239.1,238.3 249.3,242.7" fill="#0eb5c3" stroke="#0eb5c3" stroke-width=".8"/>
<polygon points="219.2,250 209,245.5 219,239.7 229.1,244.2" fill="#0ea8c3" stroke="#0ea8c3" stroke-width=".8"/>
<polygon points="461.8,220.1 451.7,216.9 461.9,210.1 472,213.3" fill="#0ec649" stroke="#0ec649" stroke-width=".8"/>
<polygon points="360.3,235.8 350.2,232.1 360.3,225.7 370.4,229.4" fill="#0ec594" stroke="#0ec594" stroke-width=".8"/>
<polygon points="299.7,243.1 289.6,239.1 299.6,232.9 309.7,237" fill="#0ec4b4" stroke="#0ec4b4" stroke-width=".8"/>
<polygon points="512.8,215.5 502.6,212.6 512.9,205.6 523.1,208.5" fill="#0ec629" stroke="#0ec629" stroke-width=".8"/>
<polygon points="249.4,252.9 239.3,248.6 249.3,242.7 259.4,247" fill="#0eaac4" stroke="#0eaac4" stroke-width=".8"/>
<polygon points="209.3,255.8 199.1,251.2 209,245.5 219.2,250" fill="#0e8fc3" stroke="#0e8fc3" stroke-width=".8"/>
<polygon points="615.6,193 605.4,190.4 615.9,182.8 626.1,185.3" fill="#6ec60e" stroke="#6ec60e" stroke-width=".8"/>
<polygon points="594.9,197.9 584.8,195.2 595.2,187.8 605.4,190.4" fill="#52c60e" stroke="#52c60e" stroke-width=".8"/>
<polygon points="574.3,202.6 564.2,199.9 574.6,192.6 584.8,195.2" fill="#37c60e" stroke="#37c60e" stroke-width=".8"/>
<polygon points="553.8,207.1 543.6,204.3 554,197.1 564.2,199.9" fill="#1dc60e" stroke="#1dc60e" stroke-width=".8"/>
<polygon points="533.2,211.4 523.1,208.5 533.4,201.4 543.6,204.3" fill="#0ec616" stroke="#0ec616" stroke-width=".8"/>
<polygon points="492.3,219.5 482.2,216.4 492.5,209.5 502.6,212.6" fill="#0ec63c" stroke="#0ec63c" stroke-width=".8"/>
<polygon points="471.9,223.2 461.8,220.1 472,213.3 482.2,216.4" fill="#0ec64e" stroke="#0ec64e" stroke-width=".8"/>
<polygon points="431.2,230.2 421.1,226.9 431.3,220.3 441.4,223.6" fill="#0ec670" stroke="#0ec670" stroke-width=".8"/>
<polygon points="410.9,233.5 400.8,230.1 411,223.5 421.1,226.9" fill="#0ec680" stroke="#0ec680" stroke-width=".8"/>
<polygon points="370.4,239.4 360.3,235.8 370.4,229.4 380.5,233" fill="#0ec599" stroke="#0ec599" stroke-width=".8"/>
<polygon points="350.2,242.2 340.1,238.4 350.2,232.1 360.3,235.8" fill="#0ec5a4" stroke="#0ec5a4" stroke-width=".8"/>
<polygon points="330,244.7 319.9,240.9 329.9,234.6 340.1,238.4" fill="#0ec5af" stroke="#0ec5af" stroke-width=".8"/>
<polygon points="309.8,247.1 299.7,243.1 309.7,237 319.9,240.9" fill="#0ec5ba" stroke="#0ec5ba" stroke-width=".8"/>
<polygon points="289.7,249.2 279.6,245.2 289.6,239.1 299.7,243.1" fill="#0ec4c3" stroke="#0ec4c3" stroke-width=".8"/>
<polygon points="269.6,251.2 259.4,247 269.4,241 279.6,245.2" fill="#0ebac4" stroke="#0ebac4" stroke-width=".8"/>
<polygon points="229.3,254.5 219.2,250 229.1,244.2 239.3,248.6" fill="#0e9cc3" stroke="#0e9cc3" stroke-width=".8"/>
<polygon points="451.6,226.8 441.4,223.6 451.7,216.9 461.8,220.1" fill="#0ec65f" stroke="#0ec65f" stroke-width=".8"/>
<polygon points="390.7,236.6 380.5,233 390.7,226.6 400.8,230.1" fill="#0ec58d" stroke="#0ec58d" stroke-width=".8"/>
<polygon points="605.1,200.5 594.9,197.9 605.4,190.4 615.6,193" fill="#4fc60e" stroke="#4fc60e" stroke-width=".8"/>
<polygon points="543.4,214.3 533.2,211.4 543.6,204.3 553.8,207.1" fill="#0ec619" stroke="#0ec619" stroke-width=".8"/>
<polygon points="360.3,245.8 350.2,242.2 360.3,235.8 370.4,239.4" fill="#0ec5a9" stroke="#0ec5a9" stroke-width=".8"/>
<polygon points="299.8,253.2 289.7,249.2 299.7,243.1 309.8,247.1" fill="#0ec0c5" stroke="#0ec0c5" stroke-width=".8"/>
<polygon points="219.4,260.2 209.3,255.8 219.2,250 229.3,254.5" fill="#0e84c4" stroke="#0e84c4" stroke-width=".8"/>
<polygon points="199.3,261.4 189.2,256.8 199.1,251.2 209.3,255.8" fill="#0e77c3" stroke="#0e77c3" stroke-width=".8"/>
<polygon points="625.8,195.5 615.6,193 626.1,185.3 636.3,187.8" fill="#6bc60e" stroke="#6bc60e" stroke-width=".8"/>
<polygon points="584.5,205.3 574.3,202.6 584.8,195.2 594.9,197.9" fill="#33c60e" stroke="#33c60e" stroke-width=".8"/>
<polygon points="563.9,209.9 553.8,207.1 564.2,199.9 574.3,202.6" fill="#19c60e" stroke="#19c60e" stroke-width=".8"/>
<polygon points="522.9,218.5 512.8,215.5 523.1,208.5 533.2,211.4" fill="#0ec62d" stroke="#0ec62d" stroke-width=".8"/>
<polygon points="502.5,222.5 492.3,219.5 502.6,212.6 512.8,215.5" fill="#0ec640" stroke="#0ec640" stroke-width=".8"/>
<polygon points="482.1,226.3 471.9,223.2 482.2,216.4 492.3,219.5" fill="#0ec652" stroke="#0ec652" stroke-width=".8"/>
<polygon points="461.7,230 451.6,226.8 461.8,220.1 471.9,223.2" fill="#0ec664" stroke="#0ec664" stroke-width=".8"/>
<polygon points="441.4,233.5 431.2,230.2 441.4,223.6 451.6,226.8" fill="#0ec675" stroke="#0ec675" stroke-width=".8"/>
<polygon points="421,236.8 410.9,233.5 421.1,226.9 431.2,230.2" fill="#0ec684" stroke="#0ec684" stroke-width=".8"/>
<polygon points="400.8,240 390.7,236.6 400.8,230.1 410.9,233.5" fill="#0ec691" stroke="#0ec691" stroke-width=".8"/>
<polygon points="380.5,243 370.4,239.4 380.5,233 390.7,236.6" fill="#0ec69d" stroke="#0ec69d" stroke-width=".8"/>
<polygon points="340.1,248.4 330,244.7 340.1,238.4 350.2,242.2" fill="#0ec5b5" stroke="#0ec5b5" stroke-width=".8"/>
<polygon points="319.9,250.9 309.8,247.1 319.9,240.9 330,244.7" fill="#0ec5bf" stroke="#0ec5bf" stroke-width=".8"/>
<polygon points="279.7,255.3 269.6,251.2 279.6,245.2 289.7,249.2" fill="#0eb0c4" stroke="#0eb0c4" stroke-width=".8"/>
<polygon points="259.6,257.1 249.4,252.9 259.4,247 269.6,251.2" fill="#0ea0c4" stroke="#0ea0c4" stroke-width=".8"/>
<polygon points="239.5,258.8 229.3,254.5 239.3,248.6 249.4,252.9" fill="#0e91c4" stroke="#0e91c4" stroke-width=".8"/>
<polygon points="635.9,197.9 625.8,195.5 636.3,187.8 646.5,190.2" fill="#68c60e" stroke="#68c60e" stroke-width=".8"/>
<polygon points="615.3,203 605.1,200.5 615.6,193 625.8,195.5" fill="#4bc60e" stroke="#4bc60e" stroke-width=".8"/>
<polygon points="594.7,207.9 584.5,205.3 594.9,197.9 605.1,200.5" fill="#30c60e" stroke="#30c60e" stroke-width=".8"/>
<polygon points="574.1,212.6 563.9,209.9 574.3,202.6 584.5,205.3" fill="#15c70e" stroke="#15c70e" stroke-width=".8"/>
<polygon points="553.5,217 543.4,214.3 553.8,207.1 563.9,209.9" fill="#0ec71d" stroke="#0ec71d" stroke-width=".8"/>
<polygon points="533.1,221.3 522.9,218.5 533.2,211.4 543.4,214.3" fill="#0ec730" stroke="#0ec730" stroke-width=".8"/>
<polygon points="512.6,225.4 502.5,222.5 512.8,215.5 522.9,218.5" fill="#0ec743" stroke="#0ec743" stroke-width=".8"/>
<polygon points="492.2,229.4 482.1,226.3 492.3,219.5 502.5,222.5" fill="#0ec756" stroke="#0ec756" stroke-width=".8"/>
<polygon points="471.8,233.1 461.7,230 471.9,223.2 482.1,226.3" fill="#0ec768" stroke="#0ec768" stroke-width=".8"/>
<polygon points="451.5,236.7 441.4,233.5 451.6,226.8 461.7,230" fill="#0ec679" stroke="#0ec679" stroke-width=".8"/>
<polygon points="431.2,240.1 421,236.8 431.2,230.2 441.4,233.5" fill="#0ec688" stroke="#0ec688" stroke-width=".8"/>
<polygon points="410.9,243.4 400.8,240 410.9,233.5 421,236.8" fill="#0ec695" stroke="#0ec695" stroke-width=".8"/>
<polygon points="390.6,246.5 380.5,243 390.7,236.6 400.8,240" fill="#0ec6a2" stroke="#0ec6a2" stroke-width=".8"/>
<polygon points="370.4,249.4 360.3,245.8 370.4,239.4 380.5,243" fill="#0ec6ae" stroke="#0ec6ae" stroke-width=".8"/>
<polygon points="350.2,252.1 340.1,248.4 350.2,242.2 360.3,245.8" fill="#0ec6b9" stroke="#0ec6b9" stroke-width=".8"/>
<polygon points="309.9,257.1 299.8,253.2 309.8,247.1 319.9,250.9" fill="#0eb9c5" stroke="#0eb9c5" stroke-width=".8"/>
<polygon points="289.8,259.3 279.7,255.3 289.7,249.2 299.8,253.2" fill="#0ea7c5" stroke="#0ea7c5" stroke-width=".8"/>
<polygon points="269.7,261.3 259.6,257.1 269.6,251.2 279.7,255.3" fill="#0e97c5" stroke="#0e97c5" stroke-width=".8"/>
<polygon points="249.6,263 239.5,258.8 249.4,252.9 259.6,257.1" fill="#0e88c4" stroke="#0e88c4" stroke-width=".8"/>
<polygon points="229.5,264.6 219.4,260.2 229.3,254.5 239.5,258.8" fill="#0e79c4" stroke="#0e79c4" stroke-width=".8"/>
<polygon points="209.5,266 199.3,261.4 209.3,255.8 219.4,260.2" fill="#0e6cc4" stroke="#0e6cc4" stroke-width=".8"/>
<polygon points="189.4,267.1 179.3,262.4 189.2,256.8 199.3,261.4" fill="#0e60c4" stroke="#0e60c4" stroke-width=".8"/>
<polygon points="330.1,254.7 319.9,250.9 330,244.7 340.1,248.4" fill="#0ec5c4" stroke="#0ec5c4" stroke-width=".8"/>
<polygon points="646.1,200.3 635.9,197.9 646.5,190.2 656.7,192.6" fill="#65c60e" stroke="#65c60e" stroke-width=".8"/>
<polygon points="625.4,205.5 615.3,203 625.8,195.5 635.9,197.9" fill="#49c60e" stroke="#49c60e" stroke-width=".8"/>
<polygon points="604.8,210.5 594.7,207.9 605.1,200.5 615.3,203" fill="#2dc70e" stroke="#2dc70e" stroke-width=".8"/>
<polygon points="543.2,224.1 533.1,221.3 543.4,214.3 553.5,217" fill="#0ec734" stroke="#0ec734" stroke-width=".8"/>
<polygon points="481.9,236.2 471.8,233.1 482.1,226.3 492.2,229.4" fill="#0ec76c" stroke="#0ec76c" stroke-width=".8"/>
<polygon points="279.8,265.3 269.7,261.3 279.7,255.3 289.8,259.3" fill="#0e8ec5" stroke="#0e8ec5" stroke-width=".8"/>
<polygon points="219.6,270.4 209.5,266 219.4,260.2 229.5,264.6" fill="#0e61c4" stroke="#0e61c4" stroke-width=".8"/>
<polygon points="179.5,272.6 169.4,267.9 179.3,262.4 189.4,267.1" fill="#0e4ac4" stroke="#0e4ac4" stroke-width=".8"/>
<polygon points="584.2,215.2 574.1,212.6 584.5,205.3 594.7,207.9" fill="#12c70e" stroke="#12c70e" stroke-width=".8"/>
<polygon points="563.7,219.8 553.5,217 563.9,209.9 574.1,212.6" fill="#0ec720" stroke="#0ec720" stroke-width=".8"/>
<polygon points="522.7,228.3 512.6,225.4 522.9,218.5 533.1,221.3" fill="#0ec747" stroke="#0ec747" stroke-width=".8"/>
<polygon points="502.3,232.3 492.2,229.4 502.5,222.5 512.6,225.4" fill="#0ec75a" stroke="#0ec75a" stroke-width=".8"/>
<polygon points="461.6,239.8 451.5,236.7 461.7,230 471.8,233.1" fill="#0ec77d" stroke="#0ec77d" stroke-width=".8"/>
<polygon points="441.3,243.3 431.2,240.1 441.4,233.5 451.5,236.7" fill="#0ec78c" stroke="#0ec78c" stroke-width=".8"/>
<polygon points="400.7,249.8 390.6,246.5 400.8,240 410.9,243.4" fill="#0ec6a6" stroke="#0ec6a6" stroke-width=".8"/>
<polygon points="380.5,252.8 370.4,249.4 380.5,243 390.6,246.5" fill="#0ec6b2" stroke="#0ec6b2" stroke-width=".8"/>
<polygon points="360.3,255.7 350.2,252.1 360.3,245.8 370.4,249.4" fill="#0ec6be" stroke="#0ec6be" stroke-width=".8"/>
<polygon points="340.2,258.4 330.1,254.7 340.1,248.4 350.2,252.1" fill="#0ec2c6" stroke="#0ec2c6" stroke-width=".8"/>
<polygon points="320,260.8 309.9,257.1 319.9,250.9 330.1,254.7" fill="#0eb1c6" stroke="#0eb1c6" stroke-width=".8"/>
<polygon points="299.9,263.2 289.8,259.3 299.8,253.2 309.9,257.1" fill="#0e9fc5" stroke="#0e9fc5" stroke-width=".8"/>
<polygon points="259.7,267.2 249.6,263 259.6,257.1 269.7,261.3" fill="#0e7ec5" stroke="#0e7ec5" stroke-width=".8"/>
<polygon points="239.6,268.9 229.5,264.6 239.5,258.8 249.6,263" fill="#0e6fc5" stroke="#0e6fc5" stroke-width=".8"/>
<polygon points="199.5,271.6 189.4,267.1 199.3,261.4 209.5,266" fill="#0e55c4" stroke="#0e55c4" stroke-width=".8"/>
<polygon points="421,246.7 410.9,243.4 421,236.8 431.2,240.1" fill="#0ec799" stroke="#0ec799" stroke-width=".8"/>
<polygon points="635.6,208 625.4,205.5 635.9,197.9 646.1,200.3" fill="#46c70e" stroke="#46c70e" stroke-width=".8"/>
<polygon points="573.8,222.5 563.7,219.8 574.1,212.6 584.2,215.2" fill="#0ec722" stroke="#0ec722" stroke-width=".8"/>
<polygon points="512.4,235.2 502.3,232.3 512.6,225.4 522.7,228.3" fill="#0ec75d" stroke="#0ec75d" stroke-width=".8"/>
<polygon points="471.7,242.9 461.6,239.8 471.8,233.1 481.9,236.2" fill="#0ec781" stroke="#0ec781" stroke-width=".8"/>
<polygon points="390.6,256.3 380.5,252.8 390.6,246.5 400.7,249.8" fill="#0ec7b6" stroke="#0ec7b6" stroke-width=".8"/>
<polygon points="370.4,259.2 360.3,255.7 370.4,249.4 380.5,252.8" fill="#0ec6c2" stroke="#0ec6c2" stroke-width=".8"/>
<polygon points="330.1,264.5 320,260.8 330.1,254.7 340.2,258.4" fill="#0eabc6" stroke="#0eabc6" stroke-width=".8"/>
<polygon points="269.8,271.2 259.7,267.2 269.7,261.3 279.8,265.3" fill="#0e76c5" stroke="#0e76c5" stroke-width=".8"/>
<polygon points="229.7,274.7 219.6,270.4 229.5,264.6 239.6,268.9" fill="#0e58c5" stroke="#0e58c5" stroke-width=".8"/>
<polygon points="209.7,276 199.5,271.6 209.5,266 219.6,270.4" fill="#0e4ac4" stroke="#0e4ac4" stroke-width=".8"/>
<polygon points="169.6,278.1 159.5,273.3 169.4,267.9 179.5,272.6" fill="#0e34c4" stroke="#0e34c4" stroke-width=".8"/>
<polygon points="656.3,202.7 646.1,200.3 656.7,192.6 666.9,194.9" fill="#63c60e" stroke="#63c60e" stroke-width=".8"/>
<polygon points="615,213 604.8,210.5 615.3,203 625.4,205.5" fill="#2ac70e" stroke="#2ac70e" stroke-width=".8"/>
<polygon points="594.4,217.8 584.2,215.2 594.7,207.9 604.8,210.5" fill="#0fc70e" stroke="#0fc70e" stroke-width=".8"/>
<polygon points="553.3,226.9 543.2,224.1 553.5,217 563.7,219.8" fill="#0ec736" stroke="#0ec736" stroke-width=".8"/>
<polygon points="532.9,231.2 522.7,228.3 533.1,221.3 543.2,224.1" fill="#0ec74a" stroke="#0ec74a" stroke-width=".8"/>
<polygon points="492.1,239.1 481.9,236.2 492.2,229.4 502.3,232.3" fill="#0ec76f" stroke="#0ec76f" stroke-width=".8"/>
<polygon points="451.4,246.5 441.3,243.3 451.5,236.7 461.6,239.8" fill="#0ec78f" stroke="#0ec78f" stroke-width=".8"/>
<polygon points="431.1,249.9 421,246.7 431.2,240.1 441.3,243.3" fill="#0ec79d" stroke="#0ec79d" stroke-width=".8"/>
<polygon points="410.8,253.2 400.7,249.8 410.9,243.4 421,246.7" fill="#0ec7aa" stroke="#0ec7aa" stroke-width=".8"/>
<polygon points="350.3,262 340.2,258.4 350.2,252.1 360.3,255.7" fill="#0ebec6" stroke="#0ebec6" stroke-width=".8"/>
<polygon points="310,267 299.9,263.2 309.9,257.1 320,260.8" fill="#0e98c6" stroke="#0e98c6" stroke-width=".8"/>
<polygon points="289.9,269.2 279.8,265.3 289.8,259.3 299.9,263.2" fill="#0e86c6" stroke="#0e86c6" stroke-width=".8"/>
<polygon points="249.7,273.1 239.6,268.9 249.6,263 259.7,267.2" fill="#0e66c5" stroke="#0e66c5" stroke-width=".8"/>
<polygon points="189.6,277.2 179.5,272.6 189.4,267.1 199.5,271.6" fill="#0e3ec4" stroke="#0e3ec4" stroke-width=".8"/>
<polygon points="666.5,205 656.3,202.7 666.9,194.9 677.1,197.2" fill="#61c60e" stroke="#61c60e" stroke-width=".8"/>
<polygon points="645.8,210.4 635.6,208 646.1,200.3 656.3,202.7" fill="#43c70e" stroke="#43c70e" stroke-width=".8"/>
<polygon points="625.1,215.5 615,213 625.4,205.5 635.6,208" fill="#27c70e" stroke="#27c70e" stroke-width=".8"/>
<polygon points="604.5,220.4 594.4,217.8 604.8,210.5 615,213" fill="#0ec710" stroke="#0ec710" stroke-width=".8"/>
<polygon points="584,225.1 573.8,222.5 584.2,215.2 594.4,217.8" fill="#0ec725" stroke="#0ec725" stroke-width=".8"/>
<polygon points="563.5,229.6 553.3,226.9 563.7,219.8 573.8,222.5" fill="#0ec739" stroke="#0ec739" stroke-width=".8"/>
<polygon points="543,233.9 532.9,231.2 543.2,224.1 553.3,226.9" fill="#0ec74d" stroke="#0ec74d" stroke-width=".8"/>
<polygon points="522.6,238.1 512.4,235.2 522.7,228.3 532.9,231.2" fill="#0ec760" stroke="#0ec760" stroke-width=".8"/>
<polygon points="502.2,242.1 492.1,239.1 502.3,232.3 512.4,235.2" fill="#0ec772" stroke="#0ec772" stroke-width=".8"/>
<polygon points="481.8,245.9 471.7,242.9 481.9,236.2 492.1,239.1" fill="#0ec784" stroke="#0ec784" stroke-width=".8"/>
<polygon points="461.5,249.6 451.4,246.5 461.6,239.8 471.7,242.9" fill="#0ec792" stroke="#0ec792" stroke-width=".8"/>
<polygon points="420.9,256.4 410.8,253.2 421,246.7 431.1,249.9" fill="#0ec7ad" stroke="#0ec7ad" stroke-width=".8"/>
<polygon points="400.7,259.6 390.6,256.3 400.7,249.8 410.8,253.2" fill="#0ec7ba" stroke="#0ec7ba" stroke-width=".8"/>
<polygon points="380.5,262.6 370.4,259.2 380.5,252.8 390.6,256.3" fill="#0ec7c6" stroke="#0ec7c6" stroke-width=".8"/>
<polygon points="360.3,265.5 350.3,262 360.3,255.7 370.4,259.2" fill="#0eb8c7" stroke="#0eb8c7" stroke-width=".8"/>
<polygon points="340.2,268.2 330.1,264.5 340.2,258.4 350.3,262" fill="#0ea4c7" stroke="#0ea4c7" stroke-width=".8"/>
<polygon points="320.1,270.7 310,267 320,260.8 330.1,264.5" fill="#0e91c6" stroke="#0e91c6" stroke-width=".8"/>
<polygon points="279.9,275.2 269.8,271.2 279.8,265.3 289.9,269.2" fill="#0e6ec6" stroke="#0e6ec6" stroke-width=".8"/>
<polygon points="259.8,277.1 249.7,273.1 259.7,267.2 269.8,271.2" fill="#0e5ec5" stroke="#0e5ec5" stroke-width=".8"/>
<polygon points="219.8,280.4 209.7,276 219.6,270.4 229.7,274.7" fill="#0e41c5" stroke="#0e41c5" stroke-width=".8"/>
<polygon points="199.8,281.7 189.6,277.2 199.5,271.6 209.7,276" fill="#0e34c5" stroke="#0e34c5" stroke-width=".8"/>
<polygon points="179.7,282.7 169.6,278.1 179.5,272.6 189.6,277.2" fill="#0e28c4" stroke="#0e28c4" stroke-width=".8"/>
<polygon points="159.7,283.5 149.6,278.7 159.5,273.3 169.6,278.1" fill="#0e1ec4" stroke="#0e1ec4" stroke-width=".8"/>
<polygon points="441.2,253.1 431.1,249.9 441.3,243.3 451.4,246.5" fill="#0ec7a0" stroke="#0ec7a0" stroke-width=".8"/>
<polygon points="300,273 289.9,269.2 299.9,263.2 310,267" fill="#0e7fc6" stroke="#0e7fc6" stroke-width=".8"/>
<polygon points="239.8,278.9 229.7,274.7 239.6,268.9 249.7,273.1" fill="#0e4fc5" stroke="#0e4fc5" stroke-width=".8"/>
<polygon points="594.1,227.7 584,225.1 594.4,217.8 604.5,220.4" fill="#0ec727" stroke="#0ec727" stroke-width=".8"/>
<polygon points="656,212.7 645.8,210.4 656.3,202.7 666.5,205" fill="#41c70e" stroke="#41c70e" stroke-width=".8"/>
<polygon points="635.3,217.9 625.1,215.5 635.6,208 645.8,210.4" fill="#25c70e" stroke="#25c70e" stroke-width=".8"/>
<polygon points="614.7,222.9 604.5,220.4 615,213 625.1,215.5" fill="#0ec712" stroke="#0ec712" stroke-width=".8"/>
<polygon points="573.6,232.3 563.5,229.6 573.8,222.5 584,225.1" fill="#0ec83b" stroke="#0ec83b" stroke-width=".8"/>
<polygon points="512.3,244.9 502.2,242.1 512.4,235.2 522.6,238.1" fill="#0ec875" stroke="#0ec875" stroke-width=".8"/>
<polygon points="471.6,252.6 461.5,249.6 471.7,242.9 481.8,245.9" fill="#0ec895" stroke="#0ec895" stroke-width=".8"/>
<polygon points="451.3,256.2 441.2,253.1 451.4,246.5 461.5,249.6" fill="#0ec8a3" stroke="#0ec8a3" stroke-width=".8"/>
<polygon points="410.8,262.8 400.7,259.6 410.8,253.2 420.9,256.4" fill="#0ec8bd" stroke="#0ec8bd" stroke-width=".8"/>
<polygon points="370.4,268.9 360.3,265.5 370.4,259.2 380.5,262.6" fill="#0eb3c7" stroke="#0eb3c7" stroke-width=".8"/>
<polygon points="310.1,276.8 300,273 310,267 320.1,270.7" fill="#0e79c7" stroke="#0e79c7" stroke-width=".8"/>
<polygon points="269.9,281.1 259.8,277.1 269.8,271.2 279.9,275.2" fill="#0e56c6" stroke="#0e56c6" stroke-width=".8"/>
<polygon points="249.9,283 239.8,278.9 249.7,273.1 259.8,277.1" fill="#0e46c6" stroke="#0e46c6" stroke-width=".8"/>
<polygon points="209.9,286 199.8,281.7 209.7,276 219.8,280.4" fill="#0e2ac5" stroke="#0e2ac5" stroke-width=".8"/>
<polygon points="189.9,287.2 179.7,282.7 189.6,277.2 199.8,281.7" fill="#0e1ec5" stroke="#0e1ec5" stroke-width=".8"/>
<polygon points="169.9,288.2 159.7,283.5 169.6,278.1 179.7,282.7" fill="#0e13c5" stroke="#0e13c5" stroke-width=".8"/>
<polygon points="553.1,236.7 543,233.9 553.3,226.9 563.5,229.6" fill="#0ec84f" stroke="#0ec84f" stroke-width=".8"/>
<polygon points="532.7,240.9 522.6,238.1 532.9,231.2 543,233.9" fill="#0ec863" stroke="#0ec863" stroke-width=".8"/>
<polygon points="491.9,248.8 481.8,245.9 492.1,239.1 502.2,242.1" fill="#0ec887" stroke="#0ec887" stroke-width=".8"/>
<polygon points="431,259.6 420.9,256.4 431.1,249.9 441.2,253.1" fill="#0ec8b0" stroke="#0ec8b0" stroke-width=".8"/>
<polygon points="390.6,266 380.5,262.6 390.6,256.3 400.7,259.6" fill="#0ec5c7" stroke="#0ec5c7" stroke-width=".8"/>
<polygon points="350.3,271.7 340.2,268.2 350.3,262 360.3,265.5" fill="#0e9fc7" stroke="#0e9fc7" stroke-width=".8"/>
<polygon points="330.2,274.3 320.1,270.7 330.1,264.5 340.2,268.2" fill="#0e8bc7" stroke="#0e8bc7" stroke-width=".8"/>
<polygon points="290,279 279.9,275.2 289.9,269.2 300,273" fill="#0e67c6" stroke="#0e67c6" stroke-width=".8"/>
<polygon points="229.9,284.6 219.8,280.4 229.7,274.7 239.8,278.9" fill="#0e38c5" stroke="#0e38c5" stroke-width=".8"/>
<polygon points="645.5,220.3 635.3,217.9 645.8,210.4 656,212.7" fill="#23c70e" stroke="#23c70e" stroke-width=".8"/>
<polygon points="624.9,225.4 614.7,222.9 625.1,215.5 635.3,217.9" fill="#0ec713" stroke="#0ec713" stroke-width=".8"/>
<polygon points="604.3,230.2 594.1,227.7 604.5,220.4 614.7,222.9" fill="#0ec829" stroke="#0ec829" stroke-width=".8"/>
<polygon points="583.7,234.9 573.6,232.3 584,225.1 594.1,227.7" fill="#0ec83e" stroke="#0ec83e" stroke-width=".8"/>
<polygon points="563.3,239.3 553.1,236.7 563.5,229.6 573.6,232.3" fill="#0ec852" stroke="#0ec852" stroke-width=".8"/>
<polygon points="542.8,243.6 532.7,240.9 543,233.9 553.1,236.7" fill="#0ec865" stroke="#0ec865" stroke-width=".8"/>
<polygon points="502,251.7 491.9,248.8 502.2,242.1 512.3,244.9" fill="#0ec889" stroke="#0ec889" stroke-width=".8"/>
<polygon points="481.7,255.5 471.6,252.6 481.8,245.9 491.9,248.8" fill="#0ec897" stroke="#0ec897" stroke-width=".8"/>
<polygon points="441.1,262.7 431,259.6 441.2,253.1 451.3,256.2" fill="#0ec8b3" stroke="#0ec8b3" stroke-width=".8"/>
<polygon points="420.9,266 410.8,262.8 420.9,256.4 431,259.6" fill="#0ec8c0" stroke="#0ec8c0" stroke-width=".8"/>
<polygon points="400.7,269.2 390.6,266 400.7,259.6 410.8,262.8" fill="#0ec3c8" stroke="#0ec3c8" stroke-width=".8"/>
<polygon points="360.4,275.1 350.3,271.7 360.3,265.5 370.4,268.9" fill="#0e9ac7" stroke="#0e9ac7" stroke-width=".8"/>
<polygon points="340.2,277.9 330.2,274.3 340.2,268.2 350.3,271.7" fill="#0e86c7" stroke="#0e86c7" stroke-width=".8"/>
<polygon points="300.1,282.8 290,279 300,273 310.1,276.8" fill="#0e61c7" stroke="#0e61c7" stroke-width=".8"/>
<polygon points="239.9,288.7 229.9,284.6 239.8,278.9 249.9,283" fill="#0e30c6" stroke="#0e30c6" stroke-width=".8"/>
<polygon points="199.9,291.6 189.9,287.2 199.8,281.7 209.9,286" fill="#0e14c5" stroke="#0e14c5" stroke-width=".8"/>
<polygon points="180,292.7 169.9,288.2 179.7,282.7 189.9,287.2" fill="#0e0ec5" stroke="#0e0ec5" stroke-width=".8"/>
<polygon points="522.4,247.8 512.3,244.9 522.6,238.1 532.7,240.9" fill="#0ec878" stroke="#0ec878" stroke-width=".8"/>
<polygon points="461.4,259.2 451.3,256.2 461.5,249.6 471.6,252.6" fill="#0ec8a5" stroke="#0ec8a5" stroke-width=".8"/>
<polygon points="380.5,272.3 370.4,268.9 380.5,262.6 390.6,266" fill="#0eaec8" stroke="#0eaec8" stroke-width=".8"/>
<polygon points="320.1,280.4 310.1,276.8 320.1,270.7 330.2,274.3" fill="#0e73c7" stroke="#0e73c7" stroke-width=".8"/>
<polygon points="280,285 269.9,281.1 279.9,275.2 290,279" fill="#0e4fc6" stroke="#0e4fc6" stroke-width=".8"/>
<polygon points="260,286.9 249.9,283 259.8,277.1 269.9,281.1" fill="#0e3fc6" stroke="#0e3fc6" stroke-width=".8"/>
<polygon points="219.9,290.3 209.9,286 219.8,280.4 229.9,284.6" fill="#0e21c6" stroke="#0e21c6" stroke-width=".8"/>
<polygon points="532.5,250.5 522.4,247.8 532.7,240.9 542.8,243.6" fill="#0ec87a" stroke="#0ec87a" stroke-width=".8"/>
<polygon points="390.6,275.5 380.5,272.3 390.6,266 400.7,269.2" fill="#0eaac8" stroke="#0eaac8" stroke-width=".8"/>
<polygon points="290.1,288.7 280,285 290,279 300.1,282.8" fill="#0e49c7" stroke="#0e49c7" stroke-width=".8"/>
<polygon points="230,294.4 219.9,290.3 229.9,284.6 239.9,288.7" fill="#0e19c6" stroke="#0e19c6" stroke-width=".8"/>
<polygon points="190.1,297.1 180,292.7 189.9,287.2 199.9,291.6" fill="#0e0ec6" stroke="#0e0ec6" stroke-width=".8"/>
<polygon points="635,227.8 624.9,225.4 635.3,217.9 645.5,220.3" fill="#0ec715" stroke="#0ec715" stroke-width=".8"/>
<polygon points="614.4,232.7 604.3,230.2 614.7,222.9 624.9,225.4" fill="#0ec82b" stroke="#0ec82b" stroke-width=".8"/>
<polygon points="593.9,237.4 583.7,234.9 594.1,227.7 604.3,230.2" fill="#0ec83f" stroke="#0ec83f" stroke-width=".8"/>
<polygon points="573.4,242 563.3,239.3 573.6,232.3 583.7,234.9" fill="#0ec854" stroke="#0ec854" stroke-width=".8"/>
<polygon points="552.9,246.3 542.8,243.6 553.1,236.7 563.3,239.3" fill="#0ec867" stroke="#0ec867" stroke-width=".8"/>
<polygon points="512.1,254.6 502,251.7 512.3,244.9 522.4,247.8" fill="#0ec88b" stroke="#0ec88b" stroke-width=".8"/>
<polygon points="491.8,258.4 481.7,255.5 491.9,248.8 502,251.7" fill="#0ec89a" stroke="#0ec89a" stroke-width=".8"/>
<polygon points="471.5,262.2 461.4,259.2 471.6,252.6 481.7,255.5" fill="#0ec8a8" stroke="#0ec8a8" stroke-width=".8"/>
<polygon points="451.2,265.7 441.1,262.7 451.3,256.2 461.4,259.2" fill="#0ec8b6" stroke="#0ec8b6" stroke-width=".8"/>
<polygon points="431,269.2 420.9,266 431,259.6 441.1,262.7" fill="#0ec8c3" stroke="#0ec8c3" stroke-width=".8"/>
<polygon points="410.8,272.4 400.7,269.2 410.8,262.8 420.9,266" fill="#0ec0c8" stroke="#0ec0c8" stroke-width=".8"/>
<polygon points="370.4,278.5 360.4,275.1 370.4,268.9 380.5,272.3" fill="#0e95c8" stroke="#0e95c8" stroke-width=".8"/>
<polygon points="350.3,281.3 340.2,277.9 350.3,271.7 360.4,275.1" fill="#0e81c8" stroke="#0e81c8" stroke-width=".8"/>
<polygon points="330.2,284 320.1,280.4 330.2,274.3 340.2,277.9" fill="#0e6dc7" stroke="#0e6dc7" stroke-width=".8"/>
<polygon points="310.1,286.4 300.1,282.8 310.1,276.8 320.1,280.4" fill="#0e5bc7" stroke="#0e5bc7" stroke-width=".8"/>
<polygon points="250,292.7 239.9,288.7 249.9,283 260,286.9" fill="#0e28c6" stroke="#0e28c6" stroke-width=".8"/>
<polygon points="210,295.9 199.9,291.6 209.9,286 219.9,290.3" fill="#0e0ec6" stroke="#0e0ec6" stroke-width=".8"/>
<polygon points="270,290.8 260,286.9 269.9,281.1 280,285" fill="#0e38c7" stroke="#0e38c7" stroke-width=".8"/>
<polygon points="604,240 593.9,237.4 604.3,230.2 614.4,232.7" fill="#0ec841" stroke="#0ec841" stroke-width=".8"/>
<polygon points="522.2,257.3 512.1,254.6 522.4,247.8 532.5,250.5" fill="#0ec98d" stroke="#0ec98d" stroke-width=".8"/>
<polygon points="441.1,272.2 431,269.2 441.1,262.7 451.2,265.7" fill="#0ec9c5" stroke="#0ec9c5" stroke-width=".8"/>
<polygon points="420.8,275.6 410.8,272.4 420.9,266 431,269.2" fill="#0ebcc9" stroke="#0ebcc9" stroke-width=".8"/>
<polygon points="220.1,300.1 210,295.9 219.9,290.3 230,294.4" fill="#0e0ec6" stroke="#0e0ec6" stroke-width=".8"/>
<polygon points="624.6,235.2 614.4,232.7 624.9,225.4 635,227.8" fill="#0ec82c" stroke="#0ec82c" stroke-width=".8"/>
<polygon points="583.5,244.6 573.4,242 583.7,234.9 593.9,237.4" fill="#0ec855" stroke="#0ec855" stroke-width=".8"/>
<polygon points="563.1,249 552.9,246.3 563.3,239.3 573.4,242" fill="#0ec969" stroke="#0ec969" stroke-width=".8"/>
<polygon points="542.6,253.2 532.5,250.5 542.8,243.6 552.9,246.3" fill="#0ec97c" stroke="#0ec97c" stroke-width=".8"/>
<polygon points="501.9,261.3 491.8,258.4 502,251.7 512.1,254.6" fill="#0ec99c" stroke="#0ec99c" stroke-width=".8"/>
<polygon points="481.6,265.1 471.5,262.2 481.7,255.5 491.8,258.4" fill="#0ec9aa" stroke="#0ec9aa" stroke-width=".8"/>
<polygon points="400.7,278.8 390.6,275.5 400.7,269.2 410.8,272.4" fill="#0ea6c8" stroke="#0ea6c8" stroke-width=".8"/>
<polygon points="380.5,281.8 370.4,278.5 380.5,272.3 390.6,275.5" fill="#0e91c8" stroke="#0e91c8" stroke-width=".8"/>
<polygon points="340.3,287.5 330.2,284 340.2,277.9 350.3,281.3" fill="#0e69c8" stroke="#0e69c8" stroke-width=".8"/>
<polygon points="320.2,290 310.1,286.4 320.1,280.4 330.2,284" fill="#0e56c8" stroke="#0e56c8" stroke-width=".8"/>
<polygon points="300.1,292.4 290.1,288.7 300.1,282.8 310.1,286.4" fill="#0e43c7" stroke="#0e43c7" stroke-width=".8"/>
<polygon points="280.1,294.6 270,290.8 280,285 290.1,288.7" fill="#0e32c7" stroke="#0e32c7" stroke-width=".8"/>
<polygon points="240.1,298.5 230,294.4 239.9,288.7 250,292.7" fill="#0e12c7" stroke="#0e12c7" stroke-width=".8"/>
<polygon points="200.1,301.5 190.1,297.1 199.9,291.6 210,295.9" fill="#0e0ec6" stroke="#0e0ec6" stroke-width=".8"/>
<polygon points="461.3,268.7 451.2,265.7 461.4,259.2 471.5,262.2" fill="#0ec9b8" stroke="#0ec9b8" stroke-width=".8"/>
<polygon points="360.4,284.7 350.3,281.3 360.4,275.1 370.4,278.5" fill="#0e7dc8" stroke="#0e7dc8" stroke-width=".8"/>
<polygon points="260.1,296.7 250,292.7 260,286.9 270,290.8" fill="#0e21c7" stroke="#0e21c7" stroke-width=".8"/>
<polygon points="210.2,305.7 200.1,301.5 210,295.9 220.1,300.1" fill="#0e0ec6" stroke="#0e0ec6" stroke-width=".8"/>
<polygon points="614.2,242.4 604,240 614.4,232.7 624.6,235.2" fill="#0ec842" stroke="#0ec842" stroke-width=".8"/>
<polygon points="593.6,247.1 583.5,244.6 593.9,237.4 604,240" fill="#0ec957" stroke="#0ec957" stroke-width=".8"/>
<polygon points="573.2,251.6 563.1,249 573.4,242 583.5,244.6" fill="#0ec96b" stroke="#0ec96b" stroke-width=".8"/>
<polygon points="552.7,255.9 542.6,253.2 552.9,246.3 563.1,249" fill="#0ec97e" stroke="#0ec97e" stroke-width=".8"/>
<polygon points="532.4,260.1 522.2,257.3 532.5,250.5 542.6,253.2" fill="#0ec98f" stroke="#0ec98f" stroke-width=".8"/>
<polygon points="512,264.1 501.9,261.3 512.1,254.6 522.2,257.3" fill="#0ec99d" stroke="#0ec99d" stroke-width=".8"/>
<polygon points="471.4,271.6 461.3,268.7 471.5,262.2 481.6,265.1" fill="#0ec9ba" stroke="#0ec9ba" stroke-width=".8"/>
<polygon points="451.1,275.2 441.1,272.2 451.2,265.7 461.3,268.7" fill="#0ec9c8" stroke="#0ec9c8" stroke-width=".8"/>
<polygon points="430.9,278.6 420.8,275.6 431,269.2 441.1,272.2" fill="#0eb9c9" stroke="#0eb9c9" stroke-width=".8"/>
<polygon points="410.7,281.9 400.7,278.8 410.8,272.4 420.8,275.6" fill="#0ea3c9" stroke="#0ea3c9" stroke-width=".8"/>
<polygon points="390.6,285 380.5,281.8 390.6,275.5 400.7,278.8" fill="#0e8ec9" stroke="#0e8ec9" stroke-width=".8"/>
<polygon points="370.4,288 360.4,284.7 370.4,278.5 380.5,281.8" fill="#0e79c9" stroke="#0e79c9" stroke-width=".8"/>
<polygon points="330.2,293.5 320.2,290 330.2,284 340.3,287.5" fill="#0e51c8" stroke="#0e51c8" stroke-width=".8"/>
<polygon points="310.2,296 300.1,292.4 310.1,286.4 320.2,290" fill="#0e3ec8" stroke="#0e3ec8" stroke-width=".8"/>
<polygon points="270.1,300.5 260.1,296.7 270,290.8 280.1,294.6" fill="#0e1bc7" stroke="#0e1bc7" stroke-width=".8"/>
<polygon points="230.2,304.2 220.1,300.1 230,294.4 240.1,298.5" fill="#0e0ec7" stroke="#0e0ec7" stroke-width=".8"/>
<polygon points="491.7,267.9 481.6,265.1 491.8,258.4 501.9,261.3" fill="#0ec9ac" stroke="#0ec9ac" stroke-width=".8"/>
<polygon points="350.3,290.9 340.3,287.5 350.3,281.3 360.4,284.7" fill="#0e65c8" stroke="#0e65c8" stroke-width=".8"/>
<polygon points="290.1,298.3 280.1,294.6 290.1,288.7 300.1,292.4" fill="#0e2cc8" stroke="#0e2cc8" stroke-width=".8"/>
<polygon points="250.1,302.4 240.1,298.5 250,292.7 260.1,296.7" fill="#0e0ec7" stroke="#0e0ec7" stroke-width=".8"/>
<polygon points="542.5,262.7 532.4,260.1 542.6,253.2 552.7,255.9" fill="#0ec990" stroke="#0ec990" stroke-width=".8"/>
<polygon points="420.8,285 410.7,281.9 420.8,275.6 430.9,278.6" fill="#0ea0c9" stroke="#0ea0c9" stroke-width=".8"/>
<polygon points="360.4,294.2 350.3,290.9 360.4,284.7 370.4,288" fill="#0e61c9" stroke="#0e61c9" stroke-width=".8"/>
<polygon points="320.2,299.5 310.2,296 320.2,290 330.2,293.5" fill="#0e3ac8" stroke="#0e3ac8" stroke-width=".8"/>
<polygon points="300.2,302 290.1,298.3 300.1,292.4 310.2,296" fill="#0e27c8" stroke="#0e27c8" stroke-width=".8"/>
<polygon points="260.2,306.3 250.1,302.4 260.1,296.7 270.1,300.5" fill="#0e0ec8" stroke="#0e0ec8" stroke-width=".8"/>
<polygon points="220.2,309.8 210.2,305.7 220.1,300.1 230.2,304.2" fill="#0e0ec7" stroke="#0e0ec7" stroke-width=".8"/>
<polygon points="603.8,249.6 593.6,247.1 604,240 614.2,242.4" fill="#0ec958" stroke="#0ec958" stroke-width=".8"/>
<polygon points="583.3,254.1 573.2,251.6 583.5,244.6 593.6,247.1" fill="#0ec96c" stroke="#0ec96c" stroke-width=".8"/>
<polygon points="562.9,258.5 552.7,255.9 563.1,249 573.2,251.6" fill="#0ec980" stroke="#0ec980" stroke-width=".8"/>
<polygon points="522.1,266.8 512,264.1 522.2,257.3 532.4,260.1" fill="#0ec99f" stroke="#0ec99f" stroke-width=".8"/>
<polygon points="501.8,270.7 491.7,267.9 501.9,261.3 512,264.1" fill="#0ec9ad" stroke="#0ec9ad" stroke-width=".8"/>
<polygon points="481.5,274.5 471.4,271.6 481.6,265.1 491.7,267.9" fill="#0ec9bc" stroke="#0ec9bc" stroke-width=".8"/>
<polygon points="461.2,278.1 451.1,275.2 461.3,268.7 471.4,271.6" fill="#0ec9c9" stroke="#0ec9c9" stroke-width=".8"/>
<polygon points="441,281.6 430.9,278.6 441.1,272.2 451.1,275.2" fill="#0eb7c9" stroke="#0eb7c9" stroke-width=".8"/>
<polygon points="400.6,288.2 390.6,285 400.7,278.8 410.7,281.9" fill="#0e8bc9" stroke="#0e8bc9" stroke-width=".8"/>
<polygon points="380.5,291.3 370.4,288 380.5,281.8 390.6,285" fill="#0e75c9" stroke="#0e75c9" stroke-width=".8"/>
<polygon points="340.3,296.9 330.2,293.5 340.3,287.5 350.3,290.9" fill="#0e4dc9" stroke="#0e4dc9" stroke-width=".8"/>
<polygon points="280.2,304.2 270.1,300.5 280.1,294.6 290.1,298.3" fill="#0e16c8" stroke="#0e16c8" stroke-width=".8"/>
<polygon points="240.2,308.1 230.2,304.2 240.1,298.5 250.1,302.4" fill="#0e0ec7" stroke="#0e0ec7" stroke-width=".8"/>
<polygon points="573,261.1 562.9,258.5 573.2,251.6 583.3,254.1" fill="#0ec981" stroke="#0ec981" stroke-width=".8"/>
<polygon points="552.6,265.4 542.5,262.7 552.7,255.9 562.9,258.5" fill="#0eca91" stroke="#0eca91" stroke-width=".8"/>
<polygon points="532.2,269.5 522.1,266.8 532.4,260.1 542.5,262.7" fill="#0ecaa0" stroke="#0ecaa0" stroke-width=".8"/>
<polygon points="491.6,277.3 481.5,274.5 491.7,267.9 501.8,270.7" fill="#0ecabd" stroke="#0ecabd" stroke-width=".8"/>
<polygon points="471.3,281 461.2,278.1 471.4,271.6 481.5,274.5" fill="#0ec8ca" stroke="#0ec8ca" stroke-width=".8"/>
<polygon points="451.1,284.6 441,281.6 451.1,275.2 461.2,278.1" fill="#0eb5ca" stroke="#0eb5ca" stroke-width=".8"/>
<polygon points="430.9,288 420.8,285 430.9,278.6 441,281.6" fill="#0e9eca" stroke="#0e9eca" stroke-width=".8"/>
<polygon points="410.7,291.3 400.6,288.2 410.7,281.9 420.8,285" fill="#0e88ca" stroke="#0e88ca" stroke-width=".8"/>
<polygon points="390.5,294.4 380.5,291.3 390.6,285 400.6,288.2" fill="#0e73ca" stroke="#0e73ca" stroke-width=".8"/>
<polygon points="290.2,307.9 280.2,304.2 290.1,298.3 300.2,302" fill="#0e11c8" stroke="#0e11c8" stroke-width=".8"/>
<polygon points="250.2,312 240.2,308.1 250.1,302.4 260.2,306.3" fill="#0e0ec8" stroke="#0e0ec8" stroke-width=".8"/>
<polygon points="593.4,256.7 583.3,254.1 593.6,247.1 603.8,249.6" fill="#0ec96d" stroke="#0ec96d" stroke-width=".8"/>
<polygon points="511.9,273.5 501.8,270.7 512,264.1 522.1,266.8" fill="#0ecaaf" stroke="#0ecaaf" stroke-width=".8"/>
<polygon points="370.4,297.4 360.4,294.2 370.4,288 380.5,291.3" fill="#0e5ec9" stroke="#0e5ec9" stroke-width=".8"/>
<polygon points="350.3,300.3 340.3,296.9 350.3,290.9 360.4,294.2" fill="#0e4ac9" stroke="#0e4ac9" stroke-width=".8"/>
<polygon points="330.3,303 320.2,299.5 330.2,293.5 340.3,296.9" fill="#0e36c9" stroke="#0e36c9" stroke-width=".8"/>
<polygon points="310.2,305.5 300.2,302 310.2,296 320.2,299.5" fill="#0e23c9" stroke="#0e23c9" stroke-width=".8"/>
<polygon points="270.2,310 260.2,306.3 270.1,300.5 280.2,304.2" fill="#0e0ec8" stroke="#0e0ec8" stroke-width=".8"/>
<polygon points="230.3,313.8 220.2,309.8 230.2,304.2 240.2,308.1" fill="#0e0ec7" stroke="#0e0ec7" stroke-width=".8"/>
<polygon points="340.3,306.3 330.3,303 340.3,296.9 350.3,300.3" fill="#0e33c9" stroke="#0e33c9" stroke-width=".8"/>
<polygon points="240.3,317.7 230.3,313.8 240.2,308.1 250.2,312" fill="#0e0ec8" stroke="#0e0ec8" stroke-width=".8"/>
<polygon points="583.1,263.6 573,261.1 583.3,254.1 593.4,256.7" fill="#0eca82" stroke="#0eca82" stroke-width=".8"/>
<polygon points="562.7,268 552.6,265.4 562.9,258.5 573,261.1" fill="#0eca92" stroke="#0eca92" stroke-width=".8"/>
<polygon points="542.3,272.2 532.2,269.5 542.5,262.7 552.6,265.4" fill="#0ecaa1" stroke="#0ecaa1" stroke-width=".8"/>
<polygon points="522,276.2 511.9,273.5 522.1,266.8 532.2,269.5" fill="#0ecab0" stroke="#0ecab0" stroke-width=".8"/>
<polygon points="501.6,280.1 491.6,277.3 501.8,270.7 511.9,273.5" fill="#0ecabf" stroke="#0ecabf" stroke-width=".8"/>
<polygon points="481.4,283.8 471.3,281 481.5,274.5 491.6,277.3" fill="#0ec8ca" stroke="#0ec8ca" stroke-width=".8"/>
<polygon points="461.1,287.5 451.1,284.6 461.2,278.1 471.3,281" fill="#0eb3ca" stroke="#0eb3ca" stroke-width=".8"/>
<polygon points="440.9,291 430.9,288 441,281.6 451.1,284.6" fill="#0e9cca" stroke="#0e9cca" stroke-width=".8"/>
<polygon points="420.7,294.3 410.7,291.3 420.8,285 430.9,288" fill="#0e86ca" stroke="#0e86ca" stroke-width=".8"/>
<polygon points="400.6,297.5 390.5,294.4 400.6,288.2 410.7,291.3" fill="#0e70ca" stroke="#0e70ca" stroke-width=".8"/>
<polygon points="380.5,300.6 370.4,297.4 380.5,291.3 390.5,294.4" fill="#0e5bca" stroke="#0e5bca" stroke-width=".8"/>
<polygon points="360.4,303.5 350.3,300.3 360.4,294.2 370.4,297.4" fill="#0e47ca" stroke="#0e47ca" stroke-width=".8"/>
<polygon points="300.3,311.4 290.2,307.9 300.2,302 310.2,305.5" fill="#0e0ec9" stroke="#0e0ec9" stroke-width=".8"/>
<polygon points="280.3,313.7 270.2,310 280.2,304.2 290.2,307.9" fill="#0e0ec9" stroke="#0e0ec9" stroke-width=".8"/>
<polygon points="260.3,315.8 250.2,312 260.2,306.3 270.2,310" fill="#0e0ec8" stroke="#0e0ec8" stroke-width=".8"/>
<polygon points="320.3,309 310.2,305.5 320.2,299.5 330.3,303" fill="#0e1fc9" stroke="#0e1fc9" stroke-width=".8"/>
<polygon points="471.2,290.3 461.1,287.5 471.3,281 481.4,283.8" fill="#0eb2cb" stroke="#0eb2cb" stroke-width=".8"/>
<polygon points="572.8,270.5 562.7,268 573,261.1 583.1,263.6" fill="#0eca93" stroke="#0eca93" stroke-width=".8"/>
<polygon points="552.4,274.8 542.3,272.2 552.6,265.4 562.7,268" fill="#0ecaa2" stroke="#0ecaa2" stroke-width=".8"/>
<polygon points="511.7,282.8 501.6,280.1 511.9,273.5 522,276.2" fill="#0ecac0" stroke="#0ecac0" stroke-width=".8"/>
<polygon points="491.4,286.6 481.4,283.8 491.6,277.3 501.6,280.1" fill="#0ec7cb" stroke="#0ec7cb" stroke-width=".8"/>
<polygon points="451,293.9 440.9,291 451.1,284.6 461.1,287.5" fill="#0e9bcb" stroke="#0e9bcb" stroke-width=".8"/>
<polygon points="430.8,297.3 420.7,294.3 430.9,288 440.9,291" fill="#0e85ca" stroke="#0e85ca" stroke-width=".8"/>
<polygon points="410.6,300.6 400.6,297.5 410.7,291.3 420.7,294.3" fill="#0e6fca" stroke="#0e6fca" stroke-width=".8"/>
<polygon points="390.5,303.7 380.5,300.6 390.5,294.4 400.6,297.5" fill="#0e59ca" stroke="#0e59ca" stroke-width=".8"/>
<polygon points="370.4,306.7 360.4,303.5 370.4,297.4 380.5,300.6" fill="#0e44ca" stroke="#0e44ca" stroke-width=".8"/>
<polygon points="350.3,309.6 340.3,306.3 350.3,300.3 360.4,303.5" fill="#0e30ca" stroke="#0e30ca" stroke-width=".8"/>
<polygon points="330.3,312.3 320.3,309 330.3,303 340.3,306.3" fill="#0e1cca" stroke="#0e1cca" stroke-width=".8"/>
<polygon points="290.3,317.3 280.3,313.7 290.2,307.9 300.3,311.4" fill="#0e0ec9" stroke="#0e0ec9" stroke-width=".8"/>
<polygon points="270.3,319.5 260.3,315.8 270.2,310 280.3,313.7" fill="#0e0ec9" stroke="#0e0ec9" stroke-width=".8"/>
<polygon points="250.4,321.5 240.3,317.7 250.2,312 260.3,315.8" fill="#0e0ec8" stroke="#0e0ec8" stroke-width=".8"/>
<polygon points="532,278.9 522,276.2 532.2,269.5 542.3,272.2" fill="#0ecab1" stroke="#0ecab1" stroke-width=".8"/>
<polygon points="310.3,314.9 300.3,311.4 310.2,305.5 320.3,309" fill="#0e0ec9" stroke="#0e0ec9" stroke-width=".8"/>
<polygon points="562.5,277.3 552.4,274.8 562.7,268 572.8,270.5" fill="#0ecaa3" stroke="#0ecaa3" stroke-width=".8"/>
<polygon points="542.1,281.5 532,278.9 542.3,272.2 552.4,274.8" fill="#0ecbb2" stroke="#0ecbb2" stroke-width=".8"/>
<polygon points="521.8,285.5 511.7,282.8 522,276.2 532,278.9" fill="#0ecbc1" stroke="#0ecbc1" stroke-width=".8"/>
<polygon points="501.5,289.3 491.4,286.6 501.6,280.1 511.7,282.8" fill="#0ec7cb" stroke="#0ec7cb" stroke-width=".8"/>
<polygon points="481.3,293.1 471.2,290.3 481.4,283.8 491.4,286.6" fill="#0eb1cb" stroke="#0eb1cb" stroke-width=".8"/>
<polygon points="461,296.7 451,293.9 461.1,287.5 471.2,290.3" fill="#0e9acb" stroke="#0e9acb" stroke-width=".8"/>
<polygon points="440.8,300.2 430.8,297.3 440.9,291 451,293.9" fill="#0e83cb" stroke="#0e83cb" stroke-width=".8"/>
<polygon points="420.7,303.5 410.6,300.6 420.7,294.3 430.8,297.3" fill="#0e6dcb" stroke="#0e6dcb" stroke-width=".8"/>
<polygon points="400.6,306.8 390.5,303.7 400.6,297.5 410.6,300.6" fill="#0e57cb" stroke="#0e57cb" stroke-width=".8"/>
<polygon points="380.5,309.9 370.4,306.7 380.5,300.6 390.5,303.7" fill="#0e42cb" stroke="#0e42cb" stroke-width=".8"/>
<polygon points="360.4,312.8 350.3,309.6 360.4,303.5 370.4,306.7" fill="#0e2eca" stroke="#0e2eca" stroke-width=".8"/>
<polygon points="320.3,318.3 310.3,314.9 320.3,309 330.3,312.3" fill="#0e0eca" stroke="#0e0eca" stroke-width=".8"/>
<polygon points="280.3,323.1 270.3,319.5 280.3,313.7 290.3,317.3" fill="#0e0ec9" stroke="#0e0ec9" stroke-width=".8"/>
<polygon points="260.4,325.2 250.4,321.5 260.3,315.8 270.3,319.5" fill="#0e0ec9" stroke="#0e0ec9" stroke-width=".8"/>
<polygon points="340.3,315.6 330.3,312.3 340.3,306.3 350.3,309.6" fill="#0e1aca" stroke="#0e1aca" stroke-width=".8"/>
<polygon points="300.3,320.8 290.3,317.3 300.3,311.4 310.3,314.9" fill="#0e0eca" stroke="#0e0eca" stroke-width=".8"/>
<polygon points="471.1,299.5 461,296.7 471.2,290.3 481.3,293.1" fill="#0e99cb" stroke="#0e99cb" stroke-width=".8"/>
<polygon points="450.9,303 440.8,300.2 451,293.9 461,296.7" fill="#0e82cb" stroke="#0e82cb" stroke-width=".8"/>
<polygon points="370.4,315.9 360.4,312.8 370.4,306.7 380.5,309.9" fill="#0e2ccb" stroke="#0e2ccb" stroke-width=".8"/>
<polygon points="350.4,318.8 340.3,315.6 350.3,309.6 360.4,312.8" fill="#0e18cb" stroke="#0e18cb" stroke-width=".8"/>
<polygon points="310.3,324.2 300.3,320.8 310.3,314.9 320.3,318.3" fill="#0e0eca" stroke="#0e0eca" stroke-width=".8"/>
<polygon points="270.4,328.8 260.4,325.2 270.3,319.5 280.3,323.1" fill="#0e0ec9" stroke="#0e0ec9" stroke-width=".8"/>
<polygon points="552.2,284.1 542.1,281.5 552.4,274.8 562.5,277.3" fill="#0ecbb3" stroke="#0ecbb3" stroke-width=".8"/>
<polygon points="531.9,288.1 521.8,285.5 532,278.9 542.1,281.5" fill="#0ecbc1" stroke="#0ecbc1" stroke-width=".8"/>
<polygon points="511.6,292 501.5,289.3 511.7,282.8 521.8,285.5" fill="#0ec7cb" stroke="#0ec7cb" stroke-width=".8"/>
<polygon points="491.3,295.8 481.3,293.1 491.4,286.6 501.5,289.3" fill="#0eb0cb" stroke="#0eb0cb" stroke-width=".8"/>
<polygon points="430.7,306.5 420.7,303.5 430.8,297.3 440.8,300.2" fill="#0e6ccb" stroke="#0e6ccb" stroke-width=".8"/>
<polygon points="410.6,309.8 400.6,306.8 410.6,300.6 420.7,303.5" fill="#0e56cb" stroke="#0e56cb" stroke-width=".8"/>
<polygon points="390.5,312.9 380.5,309.9 390.5,303.7 400.6,306.8" fill="#0e41cb" stroke="#0e41cb" stroke-width=".8"/>
<polygon points="330.3,321.6 320.3,318.3 330.3,312.3 340.3,315.6" fill="#0e0eca" stroke="#0e0eca" stroke-width=".8"/>
<polygon points="290.3,326.6 280.3,323.1 290.3,317.3 300.3,320.8" fill="#0e0eca" stroke="#0e0eca" stroke-width=".8"/>
<polygon points="521.7,294.7 511.6,292 521.8,285.5 531.9,288.1" fill="#0ec7cb" stroke="#0ec7cb" stroke-width=".8"/>
<polygon points="501.4,298.5 491.3,295.8 501.5,289.3 511.6,292" fill="#0eb0cc" stroke="#0eb0cc" stroke-width=".8"/>
<polygon points="481.2,302.2 471.1,299.5 481.3,293.1 491.3,295.8" fill="#0e99cc" stroke="#0e99cc" stroke-width=".8"/>
<polygon points="440.8,309.3 430.7,306.5 440.8,300.2 450.9,303" fill="#0e6bcc" stroke="#0e6bcc" stroke-width=".8"/>
<polygon points="360.4,322 350.4,318.8 360.4,312.8 370.4,315.9" fill="#0e16cb" stroke="#0e16cb" stroke-width=".8"/>
<polygon points="340.3,324.8 330.3,321.6 340.3,315.6 350.4,318.8" fill="#0e0ecb" stroke="#0e0ecb" stroke-width=".8"/>
<polygon points="542,290.7 531.9,288.1 542.1,281.5 552.2,284.1" fill="#0ecbc2" stroke="#0ecbc2" stroke-width=".8"/>
<polygon points="461,305.8 450.9,303 461,296.7 471.1,299.5" fill="#0e82cc" stroke="#0e82cc" stroke-width=".8"/>
<polygon points="420.6,312.7 410.6,309.8 420.7,303.5 430.7,306.5" fill="#0e55cc" stroke="#0e55cc" stroke-width=".8"/>
<polygon points="400.5,315.9 390.5,312.9 400.6,306.8 410.6,309.8" fill="#0e40cb" stroke="#0e40cb" stroke-width=".8"/>
<polygon points="380.4,319 370.4,315.9 380.5,309.9 390.5,312.9" fill="#0e2bcb" stroke="#0e2bcb" stroke-width=".8"/>
<polygon points="320.3,327.5 310.3,324.2 320.3,318.3 330.3,321.6" fill="#0e0ecb" stroke="#0e0ecb" stroke-width=".8"/>
<polygon points="300.3,330 290.3,326.6 300.3,320.8 310.3,324.2" fill="#0e0eca" stroke="#0e0eca" stroke-width=".8"/>
<polygon points="280.4,332.4 270.4,328.8 280.3,323.1 290.3,326.6" fill="#0e0eca" stroke="#0e0eca" stroke-width=".8"/>
<polygon points="531.8,297.3 521.7,294.7 531.9,288.1 542,290.7" fill="#0ec7cc" stroke="#0ec7cc" stroke-width=".8"/>
<polygon points="511.5,301.2 501.4,298.5 511.6,292 521.7,294.7" fill="#0eb0cc" stroke="#0eb0cc" stroke-width=".8"/>
<polygon points="491.2,304.9 481.2,302.2 491.3,295.8 501.4,298.5" fill="#0e99cc" stroke="#0e99cc" stroke-width=".8"/>
<polygon points="471,308.6 461,305.8 471.1,299.5 481.2,302.2" fill="#0e82cc" stroke="#0e82cc" stroke-width=".8"/>
<polygon points="450.8,312.1 440.8,309.3 450.9,303 461,305.8" fill="#0e6bcc" stroke="#0e6bcc" stroke-width=".8"/>
<polygon points="430.7,315.5 420.6,312.7 430.7,306.5 440.8,309.3" fill="#0e55cc" stroke="#0e55cc" stroke-width=".8"/>
<polygon points="410.6,318.8 400.5,315.9 410.6,309.8 420.6,312.7" fill="#0e3fcc" stroke="#0e3fcc" stroke-width=".8"/>
<polygon points="390.5,322 380.4,319 390.5,312.9 400.5,315.9" fill="#0e2acc" stroke="#0e2acc" stroke-width=".8"/>
<polygon points="370.4,325.1 360.4,322 370.4,315.9 380.4,319" fill="#0e15cb" stroke="#0e15cb" stroke-width=".8"/>
<polygon points="350.4,328 340.3,324.8 350.4,318.8 360.4,322" fill="#0e0ecb" stroke="#0e0ecb" stroke-width=".8"/>
<polygon points="330.3,330.8 320.3,327.5 330.3,321.6 340.3,324.8" fill="#0e0ecb" stroke="#0e0ecb" stroke-width=".8"/>
<polygon points="310.4,333.4 300.3,330 310.3,324.2 320.3,327.5" fill="#0e0ecb" stroke="#0e0ecb" stroke-width=".8"/>
<polygon points="290.4,335.8 280.4,332.4 290.3,326.6 300.3,330" fill="#0e0eca" stroke="#0e0eca" stroke-width=".8"/>
<polygon points="521.5,303.8 511.5,301.2 521.7,294.7 531.8,297.3" fill="#0eb0cc" stroke="#0eb0cc" stroke-width=".8"/>
<polygon points="501.3,307.6 491.2,304.9 501.4,298.5 511.5,301.2" fill="#0e99cc" stroke="#0e99cc" stroke-width=".8"/>
<polygon points="481.1,311.3 471,308.6 481.2,302.2 491.2,304.9" fill="#0e82cc" stroke="#0e82cc" stroke-width=".8"/>
<polygon points="460.9,314.9 450.8,312.1 461,305.8 471,308.6" fill="#0e6bcc" stroke="#0e6bcc" stroke-width=".8"/>
<polygon points="440.7,318.4 430.7,315.5 440.8,309.3 450.8,312.1" fill="#0e55cc" stroke="#0e55cc" stroke-width=".8"/>
<polygon points="420.6,321.7 410.6,318.8 420.6,312.7 430.7,315.5" fill="#0e3fcc" stroke="#0e3fcc" stroke-width=".8"/>
<polygon points="400.5,325 390.5,322 400.5,315.9 410.6,318.8" fill="#0e29cc" stroke="#0e29cc" stroke-width=".8"/>
<polygon points="360.4,331.1 350.4,328 360.4,322 370.4,325.1" fill="#0e0ecc" stroke="#0e0ecc" stroke-width=".8"/>
<polygon points="340.4,333.9 330.3,330.8 340.3,324.8 350.4,328" fill="#0e0ecb" stroke="#0e0ecb" stroke-width=".8"/>
<polygon points="320.4,336.7 310.4,333.4 320.3,327.5 330.3,330.8" fill="#0e0ecb" stroke="#0e0ecb" stroke-width=".8"/>
<polygon points="380.4,328.1 370.4,325.1 380.4,319 390.5,322" fill="#0e14cc" stroke="#0e14cc" stroke-width=".8"/>
<polygon points="300.4,339.2 290.4,335.8 300.3,330 310.4,333.4" fill="#0e0ecb" stroke="#0e0ecb" stroke-width=".8"/>
<polygon points="511.4,310.2 501.3,307.6 511.5,301.2 521.5,303.8" fill="#0e9acd" stroke="#0e9acd" stroke-width=".8"/>
<polygon points="491.1,313.9 481.1,311.3 491.2,304.9 501.3,307.6" fill="#0e82cd" stroke="#0e82cd" stroke-width=".8"/>
<polygon points="450.8,321.1 440.7,318.4 450.8,312.1 460.9,314.9" fill="#0e55cd" stroke="#0e55cd" stroke-width=".8"/>
<polygon points="410.5,327.9 400.5,325 410.6,318.8 420.6,321.7" fill="#0e29cc" stroke="#0e29cc" stroke-width=".8"/>
<polygon points="350.4,337.1 340.4,333.9 350.4,328 360.4,331.1" fill="#0e0ecc" stroke="#0e0ecc" stroke-width=".8"/>
<polygon points="330.4,339.9 320.4,336.7 330.3,330.8 340.4,333.9" fill="#0e0ecc" stroke="#0e0ecc" stroke-width=".8"/>
<polygon points="470.9,317.6 460.9,314.9 471,308.6 481.1,311.3" fill="#0e6ccd" stroke="#0e6ccd" stroke-width=".8"/>
<polygon points="390.4,331 380.4,328.1 390.5,322 400.5,325" fill="#0e14cc" stroke="#0e14cc" stroke-width=".8"/>
<polygon points="370.4,334.1 360.4,331.1 370.4,325.1 380.4,328.1" fill="#0e0ecc" stroke="#0e0ecc" stroke-width=".8"/>
<polygon points="310.4,342.5 300.4,339.2 310.4,333.4 320.4,336.7" fill="#0e0ecb" stroke="#0e0ecb" stroke-width=".8"/>
<polygon points="430.6,324.5 420.6,321.7 430.7,315.5 440.7,318.4" fill="#0e3fcd" stroke="#0e3fcd" stroke-width=".8"/>
<polygon points="481,320.3 470.9,317.6 481.1,311.3 491.1,313.9" fill="#0e6ccd" stroke="#0e6ccd" stroke-width=".8"/>
<polygon points="460.8,323.8 450.8,321.1 460.9,314.9 470.9,317.6" fill="#0e56cd" stroke="#0e56cd" stroke-width=".8"/>
<polygon points="400.5,333.9 390.4,331 400.5,325 410.5,327.9" fill="#0e14cd" stroke="#0e14cd" stroke-width=".8"/>
<polygon points="380.4,337.1 370.4,334.1 380.4,328.1 390.4,331" fill="#0e0ecd" stroke="#0e0ecd" stroke-width=".8"/>
<polygon points="320.4,345.7 310.4,342.5 320.4,336.7 330.4,339.9" fill="#0e0ecc" stroke="#0e0ecc" stroke-width=".8"/>
<polygon points="501.2,316.6 491.1,313.9 501.3,307.6 511.4,310.2" fill="#0e83cd" stroke="#0e83cd" stroke-width=".8"/>
<polygon points="440.7,327.3 430.6,324.5 440.7,318.4 450.8,321.1" fill="#0e3fcd" stroke="#0e3fcd" stroke-width=".8"/>
<polygon points="420.5,330.7 410.5,327.9 420.6,321.7 430.6,324.5" fill="#0e2acd" stroke="#0e2acd" stroke-width=".8"/>
<polygon points="360.4,340.1 350.4,337.1 360.4,331.1 370.4,334.1" fill="#0e0ecc" stroke="#0e0ecc" stroke-width=".8"/>
<polygon points="340.4,343 330.4,339.9 340.4,333.9 350.4,337.1" fill="#0e0ecc" stroke="#0e0ecc" stroke-width=".8"/>
<polygon points="390.4,340 380.4,337.1 390.4,331 400.5,333.9" fill="#0e0ecd" stroke="#0e0ecd" stroke-width=".8"/>
<polygon points="491,322.9 481,320.3 491.1,313.9 501.2,316.6" fill="#0e6dcd" stroke="#0e6dcd" stroke-width=".8"/>
<polygon points="470.8,326.5 460.8,323.8 470.9,317.6 481,320.3" fill="#0e57cd" stroke="#0e57cd" stroke-width=".8"/>
<polygon points="450.7,330 440.7,327.3 450.8,321.1 460.8,323.8" fill="#0e40cd" stroke="#0e40cd" stroke-width=".8"/>
<polygon points="430.6,333.5 420.5,330.7 430.6,324.5 440.7,327.3" fill="#0e2acd" stroke="#0e2acd" stroke-width=".8"/>
<polygon points="410.5,336.8 400.5,333.9 410.5,327.9 420.5,330.7" fill="#0e14cd" stroke="#0e14cd" stroke-width=".8"/>
<polygon points="370.4,343.1 360.4,340.1 370.4,334.1 380.4,337.1" fill="#0e0ecd" stroke="#0e0ecd" stroke-width=".8"/>
<polygon points="350.4,346 340.4,343 350.4,337.1 360.4,340.1" fill="#0e0ecc" stroke="#0e0ecc" stroke-width=".8"/>
<polygon points="330.4,348.9 320.4,345.7 330.4,339.9 340.4,343" fill="#0e0ecc" stroke="#0e0ecc" stroke-width=".8"/>
<polygon points="480.9,329.2 470.8,326.5 481,320.3 491,322.9" fill="#0e58ce" stroke="#0e58ce" stroke-width=".8"/>
<polygon points="460.7,332.7 450.7,330 460.8,323.8 470.8,326.5" fill="#0e41ce" stroke="#0e41ce" stroke-width=".8"/>
<polygon points="440.6,336.2 430.6,333.5 440.7,327.3 450.7,330" fill="#0e2bce" stroke="#0e2bce" stroke-width=".8"/>
<polygon points="420.5,339.6 410.5,336.8 420.5,330.7 430.6,333.5" fill="#0e15cd" stroke="#0e15cd" stroke-width=".8"/>
<polygon points="400.4,342.9 390.4,340 400.5,333.9 410.5,336.8" fill="#0e0ecd" stroke="#0e0ecd" stroke-width=".8"/>
<polygon points="380.4,346 370.4,343.1 380.4,337.1 390.4,340" fill="#0e0ecd" stroke="#0e0ecd" stroke-width=".8"/>
<polygon points="360.4,349 350.4,346 360.4,340.1 370.4,343.1" fill="#0e0ecd" stroke="#0e0ecd" stroke-width=".8"/>
<polygon points="340.4,352 330.4,348.9 340.4,343 350.4,346" fill="#0e0ecd" stroke="#0e0ecd" stroke-width=".8"/>
<polygon points="470.8,335.4 460.7,332.7 470.8,326.5 480.9,329.2" fill="#0e43ce" stroke="#0e43ce" stroke-width=".8"/>
<polygon points="450.6,338.9 440.6,336.2 450.7,330 460.7,332.7" fill="#0e2cce" stroke="#0e2cce" stroke-width=".8"/>
<polygon points="410.4,345.7 400.4,342.9 410.5,336.8 420.5,339.6" fill="#0e0ece" stroke="#0e0ece" stroke-width=".8"/>
<polygon points="370.3,352 360.4,349 370.4,343.1 380.4,346" fill="#0e0ecd" stroke="#0e0ecd" stroke-width=".8"/>
<polygon points="430.5,342.3 420.5,339.6 430.6,333.5 440.6,336.2" fill="#0e16ce" stroke="#0e16ce" stroke-width=".8"/>
<polygon points="390.4,348.9 380.4,346 390.4,340 400.4,342.9" fill="#0e0ecd" stroke="#0e0ecd" stroke-width=".8"/>
<polygon points="350.4,355 340.4,352 350.4,346 360.4,349" fill="#0e0ecd" stroke="#0e0ecd" stroke-width=".8"/>
<polygon points="460.7,341.6 450.6,338.9 460.7,332.7 470.8,335.4" fill="#0e2ece" stroke="#0e2ece" stroke-width=".8"/>
<polygon points="440.5,345 430.5,342.3 440.6,336.2 450.6,338.9" fill="#0e18ce" stroke="#0e18ce" stroke-width=".8"/>
<polygon points="420.4,348.4 410.4,345.7 420.5,339.6 430.5,342.3" fill="#0e0ece" stroke="#0e0ece" stroke-width=".8"/>
<polygon points="400.4,351.7 390.4,348.9 400.4,342.9 410.4,345.7" fill="#0e0ece" stroke="#0e0ece" stroke-width=".8"/>
<polygon points="360.3,357.9 350.4,355 360.4,349 370.3,352" fill="#0e0ecd" stroke="#0e0ecd" stroke-width=".8"/>
<polygon points="380.3,354.9 370.3,352 380.4,346 390.4,348.9" fill="#0e0ece" stroke="#0e0ece" stroke-width=".8"/>
<polygon points="410.4,354.5 400.4,351.7 410.4,345.7 420.4,348.4" fill="#0e0ece" stroke="#0e0ece" stroke-width=".8"/>
<polygon points="450.6,347.7 440.5,345 450.6,338.9 460.7,341.6" fill="#0e1ace" stroke="#0e1ace" stroke-width=".8"/>
<polygon points="430.5,351.1 420.4,348.4 430.5,342.3 440.5,345" fill="#0e0ece" stroke="#0e0ece" stroke-width=".8"/>
<polygon points="390.3,357.7 380.3,354.9 390.4,348.9 400.4,351.7" fill="#0e0ece" stroke="#0e0ece" stroke-width=".8"/>
<polygon points="370.3,360.8 360.3,357.9 370.3,352 380.3,354.9" fill="#0e0ece" stroke="#0e0ece" stroke-width=".8"/>
<polygon points="440.5,353.8 430.5,351.1 440.5,345 450.6,347.7" fill="#0e0ece" stroke="#0e0ece" stroke-width=".8"/>
<polygon points="420.4,357.2 410.4,354.5 420.4,348.4 430.5,351.1" fill="#0e0ece" stroke="#0e0ece" stroke-width=".8"/>
<polygon points="400.3,360.5 390.3,357.7 400.4,351.7 410.4,354.5" fill="#0e0ece" stroke="#0e0ece" stroke-width=".8"/>
<polygon points="380.3,363.7 370.3,360.8 380.3,354.9 390.3,357.7" fill="#0e0ece" stroke="#0e0ece" stroke-width=".8"/>
<polygon points="430.4,359.9 420.4,357.2 430.5,351.1 440.5,353.8" fill="#0e0ecf" stroke="#0e0ecf" stroke-width=".8"/>
<polygon points="410.3,363.2 400.3,360.5 410.4,354.5 420.4,357.2" fill="#0e0ece" stroke="#0e0ece" stroke-width=".8"/>
<polygon points="390.3,366.5 380.3,363.7 390.3,357.7 400.3,360.5" fill="#0e0ece" stroke="#0e0ece" stroke-width=".8"/>
<polygon points="420.3,366 410.3,363.2 420.4,357.2 430.4,359.9" fill="#0e0ecf" stroke="#0e0ecf" stroke-width=".8"/>
<polygon points="400.3,369.3 390.3,366.5 400.3,360.5 410.3,363.2" fill="#0e0ece" stroke="#0e0ece" stroke-width=".8"/>
<polygon points="410.3,372 400.3,369.3 410.3,363.2 420.3,366" fill="#0e0ecf" stroke="#0e0ecf" stroke-width=".8"/>
<path d="M410.3,372 L432.1,358.9 L453.9,345.7 L475.8,332.3 L497.8,318.7 L519.8,304.8 L542,290.7 L564.2,276.2 L586.5,261.3 L609,246 L631.5,230.3 L654.2,214 L677.1,197.2 M410.3,372 L388.6,366 L367,359.9 L345.4,353.5 L323.7,346.8 L302.1,339.8 L280.4,332.4 L258.7,324.6 L237,316.4 L215.2,307.7 L193.4,298.6 L171.5,288.9 L149.6,278.7 M407.4,371.2 L429.2,358.1 L451,344.9 L472.9,331.5 L494.9,317.9 L516.9,304.1 L539.1,289.9 L561.3,275.5 L583.6,260.6 L606,245.3 L628.6,229.6 L651.3,213.3 L674.1,196.6 M413.2,370.3 L391.5,364.3 L369.9,358.2 L348.2,351.8 L326.6,345.1 L304.9,338.1 L283.3,330.7 L261.6,323 L239.8,314.8 L218.1,306.1 L196.3,297 L174.4,287.4 L152.4,277.2 M404.5,370.4 L426.3,357.3 L448.1,344.1 L470,330.7 L492,317.2 L514,303.3 L536.2,289.2 L558.4,274.7 L580.7,259.9 L603.1,244.6 L625.7,228.9 L648.3,212.6 L671.2,195.9 M416.1,368.5 L394.4,362.6 L372.8,356.4 L351.1,350.1 L329.5,343.4 L307.8,336.4 L286.1,329 L264.4,321.3 L242.7,313.1 L220.9,304.5 L199.1,295.4 L177.3,285.8 L155.3,275.6 M401.6,369.6 L423.4,356.6 L445.2,343.4 L467.1,330 L489.1,316.4 L511.1,302.6 L533.2,288.5 L555.5,274 L577.8,259.1 L600.2,243.9 L622.7,228.2 L645.4,212 L668.2,195.2 M419,366.8 L397.3,360.8 L375.7,354.7 L354,348.3 L332.4,341.7 L310.7,334.7 L289,327.4 L267.3,319.6 L245.6,311.5 L223.8,302.9 L202,293.8 L180.1,284.2 L158.2,274.1 M398.8,368.9 L420.5,355.8 L442.3,342.6 L464.2,329.2 L486.2,315.6 L508.2,301.8 L530.3,287.7 L552.5,273.2 L574.8,258.4 L597.3,243.1 L619.8,227.4 L642.5,211.3 L665.3,194.6 M421.9,365 L400.2,359.1 L378.6,353 L356.9,346.6 L335.2,340 L313.6,333 L291.9,325.7 L270.2,318 L248.4,309.8 L226.7,301.3 L204.9,292.2 L183,282.6 L161,272.5 M395.9,368.1 L417.6,355 L439.4,341.8 L461.3,328.4 L483.3,314.9 L505.3,301.1 L527.4,286.9 L549.6,272.5 L571.9,257.7 L594.3,242.4 L616.9,226.7 L639.5,210.6 L662.3,193.9 M424.8,363.3 L403.1,357.4 L381.5,351.3 L359.8,344.9 L338.1,338.3 L316.5,331.3 L294.8,324 L273.1,316.3 L251.3,308.2 L229.5,299.6 L207.7,290.6 L185.8,281 L163.9,270.9 M393,367.3 L414.7,354.2 L436.5,341 L458.4,327.7 L480.4,314.1 L502.4,300.3 L524.5,286.2 L546.7,271.7 L569,256.9 L591.4,241.7 L613.9,226 L636.6,209.9 L659.4,193.2 M427.7,361.5 L406,355.6 L384.4,349.5 L362.7,343.2 L341,336.6 L319.3,329.6 L297.6,322.3 L275.9,314.6 L254.2,306.5 L232.4,298 L210.6,289 L188.7,279.4 L166.7,269.4 M390.1,366.5 L411.8,353.4 L433.6,340.2 L455.5,326.9 L477.5,313.3 L499.5,299.5 L521.6,285.4 L543.8,271 L566.1,256.2 L588.5,240.9 L611,225.3 L633.6,209.2 L656.4,192.5 M430.6,359.8 L408.9,353.9 L387.3,347.8 L365.6,341.5 L343.9,334.9 L322.2,327.9 L300.5,320.6 L278.8,313 L257.1,304.9 L235.3,296.3 L213.4,287.3 L191.5,277.8 L169.6,267.8 M387.2,365.6 L408.9,352.6 L430.8,339.4 L452.6,326.1 L474.6,312.6 L496.6,298.8 L518.7,284.6 L540.9,270.2 L563.1,255.4 L585.5,240.2 L608.1,224.6 L630.7,208.5 L653.5,191.9 M433.5,358 L411.8,352.1 L390.2,346.1 L368.5,339.7 L346.8,333.1 L325.1,326.2 L303.4,318.9 L281.7,311.3 L259.9,303.2 L238.1,294.7 L216.3,285.7 L194.4,276.2 L172.4,266.2 M384.3,364.8 L406.1,351.8 L427.9,338.7 L449.7,325.3 L471.7,311.8 L493.7,298 L515.8,283.9 L537.9,269.5 L560.2,254.7 L582.6,239.5 L605.1,223.8 L627.8,207.8 L650.6,191.2 M436.4,356.2 L414.7,350.4 L393.1,344.3 L371.4,338 L349.7,331.4 L328,324.5 L306.3,317.2 L284.6,309.6 L262.8,301.5 L241,293 L219.2,284.1 L197.3,274.6 L175.3,264.6 M381.4,364 L403.2,351 L425,337.9 L446.8,324.5 L468.8,311 L490.8,297.2 L512.8,283.1 L535,268.7 L557.3,253.9 L579.7,238.7 L602.2,223.1 L624.8,207 L647.6,190.5 M439.4,354.5 L417.7,348.6 L396,342.6 L374.3,336.3 L352.6,329.7 L330.9,322.8 L309.2,315.5 L287.4,307.9 L265.7,299.9 L243.9,291.4 L222,282.4 L200.1,273 L178.2,263 M378.5,363.2 L400.3,350.2 L422.1,337.1 L443.9,323.7 L465.8,310.2 L487.8,296.4 L509.9,282.3 L532.1,267.9 L554.4,253.1 L576.8,238 L599.3,222.4 L621.9,206.3 L644.7,189.8 M442.3,352.7 L420.6,346.9 L398.9,340.8 L377.2,334.5 L355.5,328 L333.8,321.1 L312.1,313.8 L290.3,306.2 L268.6,298.2 L246.8,289.7 L224.9,280.8 L203,271.4 L181,261.4 M375.7,362.4 L397.4,349.4 L419.2,336.3 L441,322.9 L462.9,309.4 L484.9,295.6 L507,281.5 L529.2,267.1 L551.5,252.4 L573.8,237.2 L596.3,221.6 L619,205.6 L641.7,189.1 M445.2,351 L423.5,345.1 L401.8,339.1 L380.1,332.8 L358.4,326.2 L336.7,319.4 L314.9,312.1 L293.2,304.5 L271.4,296.5 L249.6,288.1 L227.8,279.1 L205.9,269.7 L183.9,259.8 M372.8,361.6 L394.5,348.6 L416.3,335.4 L438.1,322.1 L460,308.6 L482,294.8 L504.1,280.8 L526.3,266.4 L548.5,251.6 L570.9,236.5 L593.4,220.9 L616,204.9 L638.8,188.4 M448.1,349.2 L426.4,343.4 L404.7,337.3 L383,331.1 L361.3,324.5 L339.6,317.6 L317.8,310.4 L296.1,302.8 L274.3,294.8 L252.5,286.4 L230.6,277.5 L208.7,268.1 L186.7,258.2 M369.9,360.7 L391.6,347.7 L413.4,334.6 L435.2,321.3 L457.1,307.8 L479.1,294 L501.2,280 L523.4,265.6 L545.6,250.8 L568,235.7 L590.5,220.1 L613.1,204.2 L635.8,187.7 M451,347.4 L429.3,341.6 L407.6,335.6 L385.9,329.3 L364.2,322.8 L342.4,315.9 L320.7,308.7 L299,301.1 L277.2,293.1 L255.4,284.7 L233.5,275.8 L211.6,266.4 L189.6,256.6 M367,359.9 L388.7,346.9 L410.5,333.8 L432.3,320.5 L454.2,307 L476.2,293.2 L498.3,279.2 L520.4,264.8 L542.7,250 L565.1,234.9 L587.5,219.4 L610.1,203.4 L632.9,187 M453.9,345.7 L432.2,339.8 L410.5,333.8 L388.8,327.6 L367.1,321 L345.3,314.2 L323.6,307 L301.8,299.4 L280.1,291.4 L258.2,283 L236.4,274.2 L214.5,264.8 L192.5,254.9 M364.1,359 L385.8,346.1 L407.6,333 L429.4,319.7 L451.3,306.2 L473.3,292.4 L495.4,278.4 L517.5,264 L539.8,249.3 L562.1,234.2 L584.6,218.6 L607.2,202.7 L629.9,186.3 M456.8,343.9 L435.1,338.1 L413.4,332.1 L391.7,325.8 L370,319.3 L348.2,312.4 L326.5,305.2 L304.7,297.7 L282.9,289.7 L261.1,281.3 L239.3,272.5 L217.3,263.1 L195.3,253.3 M361.2,358.2 L382.9,345.3 L404.7,332.2 L426.5,318.9 L448.4,305.4 L470.4,291.6 L492.5,277.6 L514.6,263.2 L536.8,248.5 L559.2,233.4 L581.7,217.9 L604.3,201.9 L627,185.6 M459.8,342.1 L438,336.3 L416.3,330.3 L394.6,324 L372.9,317.5 L351.1,310.7 L329.4,303.5 L307.6,296 L285.8,288 L264,279.6 L242.1,270.8 L220.2,261.5 L198.2,251.7 M358.3,357.4 L380,344.4 L401.8,331.3 L423.6,318.1 L445.5,304.6 L467.5,290.8 L489.5,276.8 L511.7,262.4 L533.9,247.7 L556.3,232.6 L578.7,217.1 L601.3,201.2 L624,184.8 M462.7,340.3 L440.9,334.5 L419.2,328.5 L397.5,322.3 L375.8,315.8 L354,308.9 L332.3,301.8 L310.5,294.2 L288.7,286.3 L266.9,277.9 L245,269.1 L223.1,259.8 L201.1,250 M355.5,356.5 L377.1,343.6 L398.9,330.5 L420.7,317.2 L442.6,303.7 L464.6,290 L486.6,276 L508.8,261.6 L531,246.9 L553.3,231.8 L575.8,216.3 L598.4,200.5 L621.1,184.1 M465.6,338.5 L443.9,332.7 L422.1,326.8 L400.4,320.5 L378.7,314 L356.9,307.2 L335.2,300 L313.4,292.5 L291.6,284.6 L269.8,276.2 L247.9,267.4 L225.9,258.2 L203.9,248.4 M352.6,355.6 L374.3,342.7 L396,329.7 L417.8,316.4 L439.7,302.9 L461.7,289.2 L483.7,275.1 L505.8,260.8 L528.1,246.1 L550.4,231 L572.9,215.6 L595.4,199.7 L618.2,183.4 M468.5,336.8 L446.8,331 L425,325 L403.3,318.7 L381.6,312.2 L359.8,305.4 L338.1,298.3 L316.3,290.8 L294.5,282.9 L272.6,274.5 L250.8,265.7 L228.8,256.5 L206.8,246.7 M349.7,354.8 L371.4,341.9 L393.1,328.8 L414.9,315.6 L436.8,302.1 L458.8,288.3 L480.8,274.3 L502.9,260 L525.2,245.3 L547.5,230.2 L569.9,214.8 L592.5,199 L615.2,182.7 M471.4,335 L449.7,329.2 L427.9,323.2 L406.2,317 L384.5,310.5 L362.7,303.7 L341,296.5 L319.2,289 L297.4,281.1 L275.5,272.8 L253.6,264 L231.7,254.8 L209.7,245.1 M346.8,353.9 L368.5,341 L390.2,328 L412,314.7 L433.9,301.3 L455.9,287.5 L477.9,273.5 L500,259.2 L522.2,244.5 L544.6,229.4 L567,214 L589.6,198.2 L612.3,181.9 M474.4,333.2 L452.6,327.4 L430.9,321.4 L409.1,315.2 L387.4,308.7 L365.6,301.9 L343.9,294.8 L322.1,287.3 L300.3,279.4 L278.4,271.1 L256.5,262.3 L234.6,253.1 L212.6,243.4 M343.9,353 L365.6,340.2 L387.3,327.1 L409.1,313.9 L431,300.4 L452.9,286.7 L475,272.7 L497.1,258.3 L519.3,243.7 L541.6,228.6 L564.1,213.2 L586.6,197.4 L609.3,181.2 M477.3,331.4 L455.5,325.6 L433.8,319.6 L412,313.4 L390.3,306.9 L368.5,300.1 L346.7,293 L325,285.5 L303.1,277.7 L281.3,269.4 L259.4,260.6 L237.4,251.4 L215.4,241.7 M341,352.2 L362.7,339.3 L384.4,326.3 L406.2,313 L428.1,299.6 L450,285.8 L472.1,271.8 L494.2,257.5 L516.4,242.9 L538.7,227.8 L561.1,212.4 L583.7,196.7 L606.4,180.4 M480.2,329.6 L458.5,323.8 L436.7,317.8 L414.9,311.6 L393.2,305.2 L371.4,298.4 L349.6,291.3 L327.9,283.8 L306,275.9 L284.2,267.6 L262.3,258.9 L240.3,249.7 L218.3,240.1 M338.1,351.3 L359.8,338.4 L381.5,325.4 L403.3,312.2 L425.2,298.7 L447.1,285 L469.1,271 L491.3,256.7 L513.5,242 L535.8,227 L558.2,211.7 L580.8,195.9 L603.4,179.7 M483.1,327.8 L461.4,322 L439.6,316 L417.9,309.8 L396.1,303.4 L374.3,296.6 L352.5,289.5 L330.7,282 L308.9,274.2 L287.1,265.9 L265.2,257.2 L243.2,248 L221.2,238.4 M335.3,350.4 L356.9,337.6 L378.6,324.5 L400.4,311.3 L422.3,297.9 L444.2,284.1 L466.2,270.2 L488.3,255.8 L510.5,241.2 L532.8,226.2 L555.3,210.9 L577.8,195.1 L600.5,178.9 M486.1,326 L464.3,320.2 L442.5,314.2 L420.8,308.1 L399,301.6 L377.2,294.8 L355.5,287.7 L333.6,280.3 L311.8,272.4 L290,264.2 L268,255.5 L246.1,246.3 L224.1,236.7 M332.4,349.5 L354,336.7 L375.7,323.7 L397.5,310.5 L419.4,297 L441.3,283.3 L463.3,269.3 L485.4,255 L507.6,240.4 L529.9,225.4 L552.3,210.1 L574.9,194.3 L597.5,178.2 M489,324.1 L467.2,318.4 L445.5,312.4 L423.7,306.3 L401.9,299.8 L380.1,293 L358.4,285.9 L336.5,278.5 L314.7,270.7 L292.8,262.4 L270.9,253.7 L249,244.6 L226.9,235 M329.5,348.6 L351.1,335.8 L372.8,322.8 L394.6,309.6 L416.5,296.1 L438.4,282.4 L460.4,268.5 L482.5,254.2 L504.7,239.5 L527,224.6 L549.4,209.3 L571.9,193.5 L594.6,177.4 M491.9,322.3 L470.2,316.6 L448.4,310.6 L426.6,304.5 L404.8,298 L383.1,291.2 L361.3,284.2 L339.4,276.7 L317.6,268.9 L295.7,260.7 L273.8,252 L251.8,242.9 L229.8,233.3 M326.6,347.7 L348.2,334.9 L370,321.9 L391.7,308.7 L413.6,295.3 L435.5,281.6 L457.5,267.6 L479.6,253.3 L501.8,238.7 L524.1,223.8 L546.5,208.4 L569,192.8 L591.7,176.7 M494.9,320.5 L473.1,314.8 L451.3,308.8 L429.5,302.6 L407.7,296.2 L386,289.5 L364.2,282.4 L342.3,275 L320.5,267.1 L298.6,258.9 L276.7,250.3 L254.7,241.2 L232.7,231.6 M323.7,346.8 L345.4,334 L367.1,321 L388.8,307.8 L410.7,294.4 L432.6,280.7 L454.6,266.7 L476.7,252.5 L498.8,237.9 L521.1,222.9 L543.5,207.6 L566.1,192 L588.7,175.9 M497.8,318.7 L476,312.9 L454.2,307 L432.4,300.8 L410.7,294.4 L388.9,287.7 L367.1,280.6 L345.2,273.2 L323.4,265.4 L301.5,257.2 L279.6,248.5 L257.6,239.5 L235.6,229.9 M320.8,345.9 L342.5,333.1 L364.2,320.1 L385.9,306.9 L407.8,293.5 L429.7,279.8 L451.7,265.9 L473.7,251.6 L495.9,237 L518.2,222.1 L540.6,206.8 L563.1,191.2 L585.8,175.1 M500.7,316.8 L478.9,311.1 L457.2,305.2 L435.4,299 L413.6,292.6 L391.8,285.9 L370,278.8 L348.2,271.4 L326.3,263.6 L304.4,255.4 L282.5,246.8 L260.5,237.7 L238.5,228.2 M317.9,344.9 L339.6,332.2 L361.3,319.2 L383,306 L404.9,292.6 L426.8,278.9 L448.7,265 L470.8,250.7 L493,236.2 L515.3,221.2 L537.7,206 L560.2,190.4 L582.8,174.3 M503.7,315 L481.9,309.3 L460.1,303.4 L438.3,297.2 L416.5,290.8 L394.7,284 L372.9,277 L351.1,269.6 L329.2,261.8 L307.3,253.6 L285.4,245 L263.4,236 L241.3,226.5 M315.1,344 L336.7,331.3 L358.4,318.3 L380.1,305.1 L401.9,291.7 L423.9,278.1 L445.8,264.1 L467.9,249.9 L490.1,235.3 L512.3,220.4 L534.7,205.2 L557.2,189.5 L579.9,173.6 M506.6,313.2 L484.8,307.5 L463,301.5 L441.2,295.4 L419.4,288.9 L397.6,282.2 L375.8,275.2 L354,267.8 L332.1,260 L310.2,251.9 L288.3,243.3 L266.3,234.2 L244.2,224.8 M312.2,343.1 L333.8,330.3 L355.5,317.4 L377.2,304.2 L399,290.8 L420.9,277.2 L442.9,263.2 L465,249 L487.1,234.4 L509.4,219.5 L531.8,204.3 L554.3,188.7 L576.9,172.8 M509.5,311.3 L487.7,305.6 L465.9,299.7 L444.1,293.5 L422.3,287.1 L400.5,280.4 L378.7,273.4 L356.9,266 L335,258.2 L313.1,250.1 L291.2,241.5 L269.2,232.5 L247.1,223 M309.3,342.1 L330.9,329.4 L352.6,316.5 L374.3,303.3 L396.1,289.9 L418,276.3 L440,262.3 L462.1,248.1 L484.2,233.6 L506.5,218.7 L528.9,203.5 L551.4,187.9 L574,172 M512.5,309.5 L490.7,303.8 L468.9,297.9 L447.1,291.7 L425.3,285.3 L403.5,278.6 L381.6,271.6 L359.8,264.2 L337.9,256.4 L316,248.3 L294.1,239.8 L272.1,230.8 L250,221.3 M306.4,341.2 L328,328.5 L349.7,315.6 L371.4,302.4 L393.2,289 L415.1,275.4 L437.1,261.4 L459.1,247.2 L481.3,232.7 L503.6,217.8 L525.9,202.6 L548.4,187.1 L571,171.2 M515.4,307.6 L493.6,301.9 L471.8,296 L450,289.9 L428.2,283.5 L406.4,276.8 L384.5,269.7 L362.7,262.4 L340.8,254.6 L318.9,246.5 L297,238 L275,229 L252.9,219.6 M303.5,340.2 L325.1,327.5 L346.8,314.6 L368.5,301.5 L390.3,288.1 L412.2,274.5 L434.2,260.5 L456.2,246.3 L478.4,231.8 L500.6,217 L523,201.8 L545.5,186.3 L568.1,170.4 M518.4,305.8 L496.6,300.1 L474.7,294.2 L452.9,288 L431.1,281.6 L409.3,274.9 L387.5,267.9 L365.6,260.6 L343.7,252.8 L321.8,244.7 L299.9,236.2 L277.9,227.2 L255.8,217.8 M300.6,339.3 L322.2,326.6 L343.9,313.7 L365.6,300.6 L387.4,287.2 L409.3,273.6 L431.3,259.6 L453.3,245.4 L475.5,230.9 L497.7,216.1 L520.1,200.9 L542.5,185.4 L565.1,169.6 M521.3,303.9 L499.5,298.2 L477.7,292.3 L455.9,286.2 L434,279.8 L412.2,273.1 L390.4,266.1 L368.5,258.7 L346.6,251 L324.7,242.9 L302.8,234.4 L280.7,225.5 L258.7,216.1 M297.7,338.3 L319.3,325.6 L341,312.8 L362.7,299.6 L384.5,286.3 L406.4,272.6 L428.3,258.7 L450.4,244.5 L472.5,230 L494.8,215.2 L517.1,200.1 L539.6,184.6 L562.2,168.8 M524.3,302 L502.4,296.3 L480.6,290.4 L458.8,284.3 L437,277.9 L415.1,271.3 L393.3,264.3 L371.4,256.9 L349.5,249.2 L327.6,241.1 L305.7,232.6 L283.6,223.7 L261.6,214.3 M294.8,337.3 L316.4,324.7 L338.1,311.8 L359.8,298.7 L381.6,285.3 L403.5,271.7 L425.4,257.8 L447.5,243.6 L469.6,229.1 L491.8,214.3 L514.2,199.2 L536.7,183.8 L559.2,167.9 M527.2,300.2 L505.4,294.5 L483.6,288.6 L461.7,282.5 L439.9,276.1 L418.1,269.4 L396.2,262.4 L374.3,255.1 L352.5,247.4 L330.5,239.3 L308.6,230.8 L286.5,221.9 L264.5,212.6 M291.9,336.4 L313.5,323.7 L335.2,310.9 L356.9,297.7 L378.7,284.4 L400.6,270.8 L422.5,256.9 L444.5,242.7 L466.7,228.2 L488.9,213.5 L511.2,198.3 L533.7,182.9 L556.3,167.1 M530.2,298.3 L508.3,292.6 L486.5,286.7 L464.7,280.6 L442.8,274.2 L421,267.6 L399.1,260.6 L377.3,253.3 L355.4,245.6 L333.4,237.5 L311.5,229.1 L289.4,220.2 L267.4,210.8 M289.1,335.4 L310.6,322.7 L332.3,309.9 L354,296.8 L375.8,283.5 L397.7,269.9 L419.6,256 L441.6,241.8 L463.7,227.3 L486,212.6 L508.3,197.5 L530.8,182.1 L553.4,166.3 M533.1,296.4 L511.3,290.7 L489.4,284.8 L467.6,278.7 L445.8,272.4 L423.9,265.7 L402.1,258.7 L380.2,251.4 L358.3,243.8 L336.3,235.7 L314.4,227.3 L292.3,218.4 L270.3,209.1 M286.2,334.4 L307.8,321.8 L329.4,308.9 L351.1,295.8 L372.9,282.5 L394.7,268.9 L416.7,255 L438.7,240.9 L460.8,226.4 L483,211.7 L505.4,196.6 L527.8,181.2 L550.4,165.5 M536.1,294.5 L514.2,288.8 L492.4,283 L470.5,276.8 L448.7,270.5 L426.9,263.8 L405,256.9 L383.1,249.6 L361.2,241.9 L339.3,233.9 L317.3,225.5 L295.3,216.6 L273.2,207.3 M283.3,333.4 L304.9,320.8 L326.5,307.9 L348.2,294.9 L370,281.6 L391.8,268 L413.8,254.1 L435.8,240 L457.9,225.5 L480.1,210.8 L502.4,195.7 L524.9,180.3 L547.5,164.6 M539,292.6 L517.2,286.9 L495.3,281.1 L473.5,275 L451.6,268.6 L429.8,262 L407.9,255 L386,247.7 L364.1,240.1 L342.2,232.1 L320.2,223.6 L298.2,214.8 L276.1,205.5 M280.4,332.4 L302,319.8 L323.6,307 L345.3,293.9 L367.1,280.6 L388.9,267 L410.8,253.2 L432.9,239 L455,224.6 L477.2,209.9 L499.5,194.8 L521.9,179.5 L544.5,163.8 M542,290.7 L520.1,285 L498.3,279.2 L476.4,273.1 L454.6,266.7 L432.7,260.1 L410.8,253.2 L389,245.9 L367,238.2 L345.1,230.2 L323.1,221.8 L301.1,213 L279,203.8 M277.5,331.4 L299.1,318.8 L320.7,306 L342.4,292.9 L364.2,279.6 L386,266 L407.9,252.2 L429.9,238.1 L452,223.7 L474.2,208.9 L496.6,193.9 L519,178.6 L541.6,162.9 M544.9,288.8 L523.1,283.1 L501.2,277.3 L479.4,271.2 L457.5,264.8 L435.7,258.2 L413.8,251.3 L391.9,244 L370,236.4 L348,228.4 L326,220 L304,211.2 L281.9,202 M274.6,330.4 L296.2,317.8 L317.8,305 L339.5,291.9 L361.3,278.6 L383.1,265.1 L405,251.2 L427,237.1 L449.1,222.7 L471.3,208 L493.6,193 L516.1,177.7 L538.6,162.1 M547.9,286.9 L526,281.2 L504.2,275.4 L482.3,269.3 L460.5,263 L438.6,256.3 L416.7,249.4 L394.8,242.2 L372.9,234.6 L350.9,226.6 L328.9,218.2 L306.9,209.4 L284.8,200.2 M271.7,329.3 L293.3,316.8 L314.9,304 L336.6,291 L358.3,277.7 L380.2,264.1 L402.1,250.3 L424.1,236.2 L446.2,221.8 L468.4,207.1 L490.7,192.1 L513.1,176.8 L535.7,161.2 M550.9,284.9 L529,279.3 L507.1,273.5 L485.3,267.4 L463.4,261.1 L441.5,254.4 L419.6,247.5 L397.7,240.3 L375.8,232.7 L353.8,224.7 L331.8,216.4 L309.8,207.6 L287.7,198.4 M268.8,328.3 L290.4,315.8 L312,303 L333.7,290 L355.4,276.7 L377.3,263.1 L399.2,249.3 L421.2,235.2 L443.3,220.8 L465.5,206.2 L487.8,191.2 L510.2,175.9 L532.7,160.4 M553.8,283 L532,277.4 L510.1,271.5 L488.2,265.5 L466.3,259.2 L444.5,252.6 L422.6,245.7 L400.7,238.4 L378.7,230.8 L356.8,222.9 L334.8,214.5 L312.7,205.8 L290.6,196.6 M265.9,327.2 L287.5,314.7 L309.1,302 L330.8,289 L352.5,275.7 L374.3,262.1 L396.3,248.3 L418.2,234.3 L440.3,219.9 L462.5,205.2 L484.8,190.3 L507.2,175.1 L529.8,159.5 M556.8,281.1 L534.9,275.4 L513,269.6 L491.2,263.6 L469.3,257.2 L447.4,250.7 L425.5,243.8 L403.6,236.5 L381.7,229 L359.7,221 L337.7,212.7 L315.6,204 L293.5,194.8 M263,326.2 L284.6,313.7 L306.2,300.9 L327.9,287.9 L349.6,274.7 L371.4,261.2 L393.3,247.4 L415.3,233.3 L437.4,218.9 L459.6,204.3 L481.9,189.4 L504.3,174.2 L526.8,158.6 M559.8,279.1 L537.9,273.5 L516,267.7 L494.1,261.6 L472.2,255.3 L450.3,248.8 L428.4,241.9 L406.5,234.7 L384.6,227.1 L362.6,219.2 L340.6,210.9 L318.5,202.2 L296.4,193 M260.1,325.1 L281.7,312.7 L303.3,299.9 L325,286.9 L346.7,273.7 L368.5,260.2 L390.4,246.4 L412.4,232.3 L434.5,218 L456.6,203.4 L478.9,188.4 L501.3,173.3 L523.9,157.8 M562.7,277.2 L540.8,271.6 L519,265.8 L497.1,259.7 L475.2,253.4 L453.3,246.8 L431.4,240 L409.5,232.8 L387.5,225.2 L365.5,217.3 L343.5,209 L321.5,200.3 L299.3,191.2 M257.3,324.1 L278.8,311.6 L300.4,298.9 L322.1,285.9 L343.8,272.7 L365.6,259.2 L387.5,245.4 L409.5,231.3 L431.5,217 L453.7,202.4 L476,187.5 L498.4,172.3 L520.9,156.9 M565.7,275.2 L543.8,269.6 L521.9,263.8 L500,257.8 L478.1,251.5 L456.2,244.9 L434.3,238.1 L412.4,230.9 L390.4,223.3 L368.5,215.5 L346.4,207.2 L324.4,198.5 L302.2,189.4 M254.4,323 L275.9,310.5 L297.5,297.8 L319.2,284.9 L340.9,271.6 L362.7,258.1 L384.6,244.4 L406.5,230.3 L428.6,216 L450.8,201.4 L473.1,186.6 L495.5,171.4 L518,156 M568.7,273.3 L546.8,267.7 L524.9,261.9 L503,255.8 L481.1,249.6 L459.2,243 L437.3,236.2 L415.3,229 L393.4,221.5 L371.4,213.6 L349.4,205.3 L327.3,196.7 L305.2,187.6 M251.5,321.9 L273,309.5 L294.6,296.8 L316.2,283.8 L338,270.6 L359.8,257.1 L381.6,243.4 L403.6,229.4 L425.7,215.1 L447.8,200.5 L470.1,185.6 L492.5,170.5 L515,155.1 M571.6,271.3 L549.7,265.7 L527.8,259.9 L505.9,253.9 L484,247.6 L462.1,241.1 L440.2,234.2 L418.3,227.1 L396.3,219.6 L374.3,211.7 L352.3,203.5 L330.2,194.8 L308.1,185.8 M248.6,320.8 L270.1,308.4 L291.7,295.7 L313.3,282.8 L335.1,269.6 L356.9,256.1 L378.7,242.4 L400.7,228.4 L422.7,214.1 L444.9,199.5 L467.2,184.7 L489.6,169.6 L512.1,154.2 M574.6,269.3 L552.7,263.7 L530.8,258 L508.9,251.9 L487,245.7 L465.1,239.2 L443.2,232.3 L421.2,225.2 L399.3,217.7 L377.3,209.8 L355.2,201.6 L333.1,193 L311,184 M245.7,319.7 L267.2,307.3 L288.8,294.7 L310.4,281.7 L332.1,268.5 L353.9,255.1 L375.8,241.3 L397.8,227.3 L419.8,213.1 L442,198.5 L464.2,183.7 L486.6,168.7 L509.1,153.3 M577.6,267.3 L555.7,261.8 L533.8,256 L511.9,250 L490,243.7 L468,237.2 L446.1,230.4 L424.2,223.3 L402.2,215.8 L380.2,208 L358.2,199.8 L336.1,191.2 L313.9,182.2 M242.8,318.6 L264.3,306.2 L285.9,293.6 L307.5,280.7 L329.2,267.5 L351,254 L372.9,240.3 L394.8,226.3 L416.9,212.1 L439,197.6 L461.3,182.8 L483.7,167.7 L506.2,152.4 M580.6,265.3 L558.7,259.8 L536.7,254 L514.8,248 L492.9,241.8 L471,235.3 L449.1,228.5 L427.1,221.3 L405.1,213.9 L383.1,206.1 L361.1,197.9 L339,189.3 L316.9,180.3 M239.9,317.5 L261.4,305.2 L283,292.5 L304.6,279.6 L326.3,266.4 L348.1,253 L370,239.3 L391.9,225.3 L414,211.1 L436.1,196.6 L458.4,181.8 L480.7,166.8 L503.2,151.5 M583.6,263.3 L561.6,257.8 L539.7,252 L517.8,246.1 L495.9,239.8 L474,233.3 L452,226.5 L430.1,219.4 L408.1,212 L386.1,204.2 L364,196 L341.9,187.5 L319.8,178.5 M237,316.4 L258.5,304 L280.1,291.4 L301.7,278.5 L323.4,265.4 L345.2,251.9 L367,238.2 L389,224.3 L411,210.1 L433.2,195.6 L455.4,180.8 L477.8,165.8 L500.3,150.6 M586.5,261.3 L564.6,255.8 L542.7,250 L520.8,244.1 L498.8,237.9 L476.9,231.4 L455,224.6 L433,217.5 L411,210.1 L389,202.3 L367,194.1 L344.9,185.6 L322.7,176.7 M234.1,315.3 L255.6,302.9 L277.2,290.3 L298.8,277.4 L320.5,264.3 L342.3,250.9 L364.1,237.2 L386.1,223.3 L408.1,209.1 L430.2,194.6 L452.5,179.9 L474.8,164.9 L497.3,149.7 M589.5,259.3 L567.6,253.8 L545.7,248.1 L523.7,242.1 L501.8,235.9 L479.9,229.4 L457.9,222.6 L436,215.6 L414,208.2 L391.9,200.4 L369.9,192.3 L347.8,183.8 L325.6,174.8 M231.2,314.1 L252.7,301.8 L274.2,289.2 L295.9,276.4 L317.6,263.2 L339.3,249.8 L361.2,236.2 L383.1,222.2 L405.2,208 L427.3,193.6 L449.5,178.9 L471.9,163.9 L494.4,148.7 M592.5,257.3 L570.6,251.8 L548.6,246.1 L526.7,240.1 L504.8,233.9 L482.8,227.4 L460.9,220.7 L438.9,213.6 L416.9,206.2 L394.9,198.5 L372.8,190.4 L350.7,181.9 L328.6,173 M228.3,313 L249.8,300.7 L271.3,288.1 L293,275.3 L314.7,262.1 L336.4,248.7 L358.3,235.1 L380.2,221.2 L402.2,207 L424.3,192.6 L446.6,177.9 L468.9,163 L491.4,147.8 M595.5,255.3 L573.6,249.8 L551.6,244 L529.7,238.1 L507.7,231.9 L485.8,225.5 L463.8,218.7 L441.9,211.7 L419.9,204.3 L397.8,196.6 L375.8,188.5 L353.7,180 L331.5,171.2 M225.4,311.8 L246.9,299.6 L268.4,287 L290,274.2 L311.7,261 L333.5,247.7 L355.3,234 L377.3,220.1 L399.3,206 L421.4,191.6 L443.6,176.9 L466,162 L488.4,146.9 M598.5,253.2 L576.5,247.7 L554.6,242 L532.7,236.1 L510.7,229.9 L488.8,223.5 L466.8,216.8 L444.8,209.7 L422.8,202.4 L400.8,194.7 L378.7,186.6 L356.6,178.2 L334.4,169.3 M222.5,310.7 L244,298.4 L265.5,285.9 L287.1,273 L308.8,259.9 L330.6,246.6 L352.4,233 L374.3,219.1 L396.3,204.9 L418.5,190.5 L440.7,175.9 L463,161 L485.5,145.9 M601.5,251.2 L579.5,245.7 L557.6,240 L535.6,234.1 L513.7,227.9 L491.7,221.5 L469.8,214.8 L447.8,207.8 L425.8,200.4 L403.7,192.8 L381.7,184.7 L359.5,176.3 L337.4,167.5 M219.6,309.5 L241.1,297.3 L262.6,284.7 L284.2,271.9 L305.9,258.8 L327.6,245.5 L349.5,231.9 L371.4,218 L393.4,203.9 L415.5,189.5 L437.7,174.9 L460.1,160 L482.5,145 M604.5,249.1 L582.5,243.7 L560.6,238 L538.6,232.1 L516.7,225.9 L494.7,219.5 L472.7,212.8 L450.7,205.8 L428.7,198.5 L406.7,190.8 L384.6,182.8 L362.5,174.4 L340.3,165.6 M216.7,308.3 L238.2,296.1 L259.7,283.6 L281.3,270.8 L303,257.7 L324.7,244.4 L346.6,230.8 L368.5,216.9 L390.5,202.8 L412.6,188.5 L434.8,173.9 L457.1,159 L479.6,144 M607.5,247.1 L585.5,241.6 L563.6,235.9 L541.6,230.1 L519.6,223.9 L497.7,217.5 L475.7,210.9 L453.7,203.9 L431.7,196.6 L409.6,188.9 L387.5,180.9 L365.4,172.5 L343.2,163.8 M213.8,307.1 L235.3,294.9 L256.8,282.4 L278.4,269.7 L300.1,256.6 L321.8,243.3 L343.6,229.7 L365.5,215.8 L387.5,201.8 L409.6,187.4 L431.8,172.9 L454.2,158.1 L476.6,143 M610.5,245 L588.5,239.5 L566.5,233.9 L544.6,228 L522.6,221.9 L500.7,215.5 L478.7,208.9 L456.7,201.9 L434.6,194.6 L412.6,187 L390.5,179 L368.4,170.6 L346.2,161.9 M210.9,306 L232.3,293.8 L253.9,281.3 L275.5,268.5 L297.1,255.5 L318.9,242.2 L340.7,228.6 L362.6,214.8 L384.6,200.7 L406.7,186.4 L428.9,171.8 L451.2,157.1 L473.7,142.1 M613.5,242.9 L591.5,237.5 L569.5,231.9 L547.6,226 L525.6,219.9 L503.6,213.5 L481.6,206.9 L459.6,199.9 L437.6,192.7 L415.5,185 L393.5,177.1 L371.3,168.8 L349.1,160.1 M208,304.7 L229.4,292.6 L251,280.1 L272.6,267.4 L294.2,254.3 L315.9,241 L337.8,227.5 L359.7,213.7 L381.7,199.6 L403.8,185.3 L426,170.8 L448.3,156.1 L470.7,141.1 M616.5,240.8 L594.5,235.4 L572.5,229.8 L550.6,224 L528.6,217.9 L506.6,211.5 L484.6,204.9 L462.6,197.9 L440.6,190.7 L418.5,183.1 L396.4,175.2 L374.3,166.9 L352.1,158.2 M205.1,303.5 L226.5,291.4 L248,278.9 L269.6,266.2 L291.3,253.2 L313,239.9 L334.8,226.4 L356.7,212.6 L378.7,198.5 L400.8,184.3 L423,169.8 L445.3,155 L467.7,140.1 M619.5,238.7 L597.5,233.3 L575.5,227.7 L553.6,221.9 L531.6,215.8 L509.6,209.5 L487.6,202.9 L465.6,196 L443.5,188.7 L421.5,181.2 L399.4,173.3 L377.2,165 L355,156.3 M202.1,302.3 L223.6,290.2 L245.1,277.8 L266.7,265 L288.4,252 L310.1,238.8 L331.9,225.2 L353.8,211.5 L375.8,197.4 L397.9,183.2 L420.1,168.7 L442.4,154 L464.8,139.1 M622.5,236.6 L600.5,231.2 L578.5,225.7 L556.5,219.8 L534.6,213.8 L512.6,207.5 L490.6,200.9 L468.5,194 L446.5,186.8 L424.4,179.2 L402.3,171.3 L380.2,163.1 L358,154.5 M199.2,301.1 L220.7,289 L242.2,276.6 L263.8,263.9 L285.4,250.9 L307.2,237.6 L329,224.1 L350.9,210.4 L372.8,196.4 L394.9,182.1 L417.1,167.7 L439.4,153 L461.8,138.1 M625.5,234.5 L603.5,229.1 L581.5,223.6 L559.5,217.8 L537.5,211.7 L515.5,205.4 L493.5,198.9 L471.5,192 L449.5,184.8 L427.4,177.3 L405.3,169.4 L383.1,161.2 L360.9,152.6 M196.3,299.8 L217.8,287.8 L239.3,275.4 L260.9,262.7 L282.5,249.7 L304.2,236.5 L326,223 L347.9,209.2 L369.9,195.2 L392,181 L414.2,166.6 L436.5,152 L458.9,137.1 M628.5,232.4 L606.5,227 L584.5,221.5 L562.5,215.7 L540.5,209.7 L518.5,203.4 L496.5,196.8 L474.5,190 L452.4,182.8 L430.4,175.3 L408.2,167.5 L386.1,159.3 L363.9,150.7 M193.4,298.6 L214.9,286.5 L236.4,274.2 L258,261.5 L279.6,248.5 L301.3,235.3 L323.1,221.8 L345,208.1 L367,194.1 L389,180 L411.2,165.5 L433.5,150.9 L455.9,136.1 M631.5,230.3 L609.5,224.9 L587.5,219.4 L565.5,213.6 L543.5,207.6 L521.5,201.4 L499.5,194.8 L477.5,188 L455.4,180.8 L433.3,173.4 L411.2,165.5 L389,157.4 L366.8,148.8 M190.5,297.3 L212,285.3 L233.5,272.9 L255,260.3 L276.7,247.4 L298.4,234.1 L320.2,220.7 L342,207 L364,193 L386.1,178.9 L408.3,164.5 L430.5,149.9 L452.9,135.1 M634.5,228.1 L612.5,222.8 L590.5,217.3 L568.5,211.5 L546.5,205.6 L524.5,199.3 L502.5,192.8 L480.4,186 L458.4,178.9 L436.3,171.4 L414.2,163.6 L392,155.5 L369.8,147 M187.6,296.1 L209,284 L230.5,271.7 L252.1,259.1 L273.7,246.2 L295.4,233 L317.2,219.5 L339.1,205.8 L361.1,191.9 L383.1,177.8 L405.3,163.4 L427.6,148.9 L450,134.1 M637.6,226 L615.6,220.7 L593.5,215.2 L571.5,209.5 L549.5,203.5 L527.5,197.3 L505.5,190.8 L483.4,184 L461.4,176.9 L439.3,169.4 L417.1,161.7 L395,153.6 L372.8,145.1 M184.7,294.8 L206.1,282.8 L227.6,270.5 L249.2,257.9 L270.8,245 L292.5,231.8 L314.3,218.4 L336.2,204.7 L358.1,190.8 L380.2,176.7 L402.3,162.3 L424.6,147.8 L447,133.1 M640.6,223.8 L618.6,218.5 L596.6,213.1 L574.5,207.4 L552.5,201.4 L530.5,195.2 L508.5,188.7 L486.4,181.9 L464.3,174.9 L442.2,167.5 L420.1,159.7 L397.9,151.6 L375.7,143.2 M181.8,293.5 L203.2,281.5 L224.7,269.2 L246.3,256.6 L267.9,243.7 L289.6,230.6 L311.4,217.2 L333.2,203.5 L355.2,189.6 L377.2,175.5 L399.4,161.2 L421.7,146.7 L444.1,132.1 M643.6,221.7 L621.6,216.4 L599.6,210.9 L577.6,205.2 L555.5,199.3 L533.5,193.1 L511.5,186.7 L489.4,179.9 L467.3,172.9 L445.2,165.5 L423.1,157.8 L400.9,149.7 L378.7,141.3 M178.8,292.2 L200.3,280.2 L221.8,268 L243.3,255.4 L264.9,242.5 L286.6,229.4 L308.4,216 L330.3,202.4 L352.2,188.5 L374.3,174.4 L396.4,160.1 L418.7,145.7 L441.1,131 M646.6,219.5 L624.6,214.2 L602.6,208.8 L580.6,203.1 L558.5,197.2 L536.5,191.1 L514.5,184.6 L492.4,177.9 L470.3,170.9 L448.2,163.5 L426.1,155.8 L403.9,147.8 L381.6,139.4 M175.9,290.9 L197.4,279 L218.9,266.7 L240.4,254.2 L262,241.3 L283.7,228.2 L305.5,214.8 L327.3,201.2 L349.3,187.3 L371.3,173.3 L393.5,159 L415.7,144.6 L438.1,130 M649.7,217.3 L627.6,212.1 L605.6,206.7 L583.6,201 L561.5,195.1 L539.5,189 L517.4,182.6 L495.4,175.9 L473.3,168.9 L451.2,161.5 L429,153.9 L406.8,145.9 L384.6,137.5 M173,289.6 L194.4,277.7 L215.9,265.4 L237.5,252.9 L259.1,240.1 L280.8,227 L302.5,213.6 L324.4,200 L346.3,186.2 L368.4,172.2 L390.5,157.9 L412.8,143.5 L435.2,129 M652.7,215.1 L630.7,209.9 L608.6,204.5 L586.6,198.9 L564.5,193 L542.5,186.9 L520.4,180.5 L498.4,173.8 L476.3,166.8 L454.2,159.5 L432,151.9 L409.8,144 L387.6,135.6 M170.1,288.3 L191.5,276.4 L213,264.2 L234.5,251.6 L256.1,238.8 L277.8,225.7 L299.6,212.4 L321.4,198.8 L343.4,185 L365.4,171 L387.6,156.8 L409.8,142.4 L432.2,127.9 M655.7,212.9 L633.7,207.7 L611.6,202.3 L589.6,196.7 L567.6,190.9 L545.5,184.8 L523.4,178.4 L501.4,171.8 L479.3,164.8 L457.1,157.6 L435,150 L412.8,142 L390.5,133.7 M167.2,286.9 L188.6,275.1 L210.1,262.9 L231.6,250.4 L253.2,237.6 L274.9,224.5 L296.6,211.2 L318.5,197.6 L340.4,183.9 L362.5,169.9 L384.6,155.7 L406.9,141.4 L429.2,126.9 M658.8,210.7 L636.7,205.5 L614.7,200.2 L592.6,194.6 L570.6,188.8 L548.5,182.7 L526.4,176.4 L504.4,169.7 L482.3,162.8 L460.1,155.6 L438,148 L415.8,140.1 L393.5,131.8 M164.2,285.6 L185.7,273.7 L207.1,261.6 L228.7,249.1 L250.3,236.3 L272,223.3 L293.7,210 L315.5,196.4 L337.5,182.7 L359.5,168.7 L381.6,154.6 L403.9,140.3 L426.3,125.8 M661.8,208.5 L639.8,203.3 L617.7,198 L595.6,192.4 L573.6,186.6 L551.5,180.6 L529.5,174.3 L507.4,167.7 L485.3,160.8 L463.1,153.6 L441,146 L418.7,138.2 L396.5,129.9 M161.3,284.2 L182.7,272.4 L204.2,260.3 L225.7,247.8 L247.3,235.1 L269,222 L290.8,208.7 L312.6,195.2 L334.5,181.5 L356.6,167.6 L378.7,153.4 L400.9,139.2 L423.3,124.7 M664.9,206.2 L642.8,201.1 L620.7,195.8 L598.7,190.3 L576.6,184.5 L554.5,178.5 L532.5,172.2 L510.4,165.6 L488.3,158.7 L466.1,151.6 L443.9,144.1 L421.7,136.2 L399.5,128 M158.4,282.9 L179.8,271.1 L201.3,258.9 L222.8,246.5 L244.4,233.8 L266.1,220.8 L287.8,207.5 L309.6,194 L331.6,180.3 L353.6,166.4 L375.7,152.3 L398,138 L420.3,123.7 M667.9,204 L645.8,198.9 L623.8,193.6 L601.7,188.1 L579.6,182.4 L557.6,176.4 L535.5,170.1 L513.4,163.6 L491.2,156.7 L469.1,149.6 L446.9,142.1 L424.7,134.3 L402.5,126.1 M155.5,281.5 L176.9,269.7 L198.3,257.6 L219.9,245.2 L241.5,232.5 L263.1,219.5 L284.9,206.3 L306.7,192.8 L328.6,179.1 L350.6,165.2 L372.8,151.2 L395,136.9 L417.4,122.6 M671,201.7 L648.9,196.7 L626.8,191.4 L604.7,185.9 L582.7,180.2 L560.6,174.2 L538.5,168 L516.4,161.5 L494.2,154.7 L472.1,147.5 L449.9,140.1 L427.7,132.3 L405.4,124.2 M152.5,280.1 L173.9,268.4 L195.4,256.3 L216.9,243.9 L238.5,231.2 L260.2,218.2 L281.9,205 L303.7,191.6 L325.7,177.9 L347.7,164 L369.8,150 L392,135.8 L414.4,121.5 M674,199.5 L651.9,194.5 L629.8,189.2 L607.8,183.8 L585.7,178.1 L563.6,172.1 L541.5,165.9 L519.4,159.4 L497.3,152.6 L475.1,145.5 L452.9,138.1 L430.7,130.4 L408.4,122.3 M149.6,278.7 L171,267 L192.5,254.9 L214,242.6 L235.6,229.9 L257.2,217 L279,203.8 L300.8,190.3 L322.7,176.7 L344.7,162.8 L366.8,148.8 L389.1,134.7 L411.4,120.4 M677.1,197.2 L655,192.2 L632.9,187 L610.8,181.6 L588.7,175.9 L566.6,170 L544.5,163.8 L522.4,157.3 L500.3,150.6 L478.1,143.5 L455.9,136.1 L433.7,128.4 L411.4,120.4" fill="none" stroke="#000" stroke-opacity="0.6" stroke-width="0.8"/>
<path d="M410.3,372 L396.6,368.3 L383,364.4 L369.3,360.5 L355.6,356.5 L341.9,352.4 L328.3,348.2 L314.6,343.9 L300.9,339.4 L287.2,334.8 L273.5,330 L259.8,325 L246.1,319.9 L232.4,314.6 L218.7,309.1 L204.9,303.5 L191.1,297.6 L177.3,291.5 L163.5,285.2 L149.6,278.7 L149.6,278.7 L163.1,271.3 L176.7,263.9 L190.2,256.2 L203.8,248.5 L217.4,240.6 L231,232.6 L244.7,224.5 L258.4,216.3 L272.1,207.9 L285.9,199.5 L299.6,191 L313.5,182.4 L327.3,173.8 L341.2,165 L355.2,156.2 L369.2,147.4 L383.2,138.4 L397.3,129.4 L411.4,120.4 L411.4,120.4 L425.5,125.5 L439.5,130.5 L453.6,135.3 L467.6,140.1 L481.6,144.7 L495.6,149.1 L509.6,153.5 L523.6,157.7 L537.5,161.8 L551.5,165.8 L565.5,169.7 L579.4,173.4 L593.4,177.1 L607.3,180.7 L621.3,184.2 L635.2,187.6 L649.2,190.9 L663.1,194.1 L677.1,197.2 L677.1,197.2 L662.6,207.9 L648.2,218.3 L633.9,228.6 L619.6,238.6 L605.4,248.5 L591.2,258.1 L577.1,267.6 L563,277 L549,286.2 L535,295.2 L521,304.1 L507.1,312.9 L493.2,321.6 L479.3,330.1 L465.4,338.6 L451.6,347.1 L437.8,355.4 L424,363.7 L410.3,372Z" fill="none" stroke="#111" stroke-opacity=".5" stroke-width=".8"/>
<g fill="#fff"><polygon points="442.2,462.7 521.7,434 519.8,428.6 440.4,457.6"/><polygon points="541.7,426.8 580.7,412.8 578.9,407.7 540.9,424.5"/><polygon points="581.7,412.4 659.7,384.3 658.6,381.1 579.6,406.6"/></g>
<polygon points="1227,462.3 957.4,364.5 1227.8,289.5 1497.4,363.9" fill="#ffff00"/>
<path d="M1292.2,438.6 L1294.4,436.8 L1297.4,434.6 L1300.5,432.5 L1301,432.2 L1303.8,430.4 L1307.3,428.3 L1310.9,426.3 L1314.6,424.4 L1317.6,423 L1318.5,422.5 L1322.6,420.7 L1326.8,418.9 L1331.1,417.2 L1335.6,415.5 L1340.3,413.9 L1345,412.3 L1350,410.8 L1355,409.3 L1357.5,408.6 L1360.3,407.8 L1365.7,406.4 L1371.2,405 L1376.9,403.7 L1382.7,402.5 L1383.3,402.3 L1388.7,401.2 L1394.8,400 L1401.1,398.9 L1401.4,398.8" fill="none" stroke="#4848a0" stroke-width="1.3"/>
<path d="M1146.6,433.1 L1148.1,431.3 L1148.7,430.7 L1150.8,428.3 L1152.3,426.7 L1153.1,425.9 L1155.5,423.6 L1157.4,421.9 L1158,421.3 L1160.6,419.1 L1163.3,416.9 L1163.7,416.6 L1166.2,414.7 L1169.1,412.6 L1171.8,410.8 L1172.1,410.6 L1175.3,408.6 L1178.5,406.6 L1181.9,404.6 L1183,404 L1185.3,402.7 L1188.9,400.9 L1192.5,399 L1196.3,397.3 L1200.1,395.5 L1202.1,394.7 L1204.1,393.8 L1208.2,392.1 L1212.4,390.5 L1216.7,388.9 L1221.1,387.3 L1225.6,385.8 L1230.2,384.3 L1235,382.9 L1239.8,381.4 L1244.8,380.1 L1249.9,378.7 L1252.3,378.1 L1255.2,377.4 L1260.6,376.2 L1266,375 L1271.7,373.8 L1277.4,372.6 L1278.7,372.4 L1283.3,371.5 L1289.4,370.5 L1295.6,369.4 L1297.3,369.2 L1301.9,368.5 L1308.3,367.5 L1313,366.9 L1315,366.6 L1321.7,365.7 L1327,365.1 L1328.6,364.9 L1335.7,364.1 L1339.9,363.7 L1342.9,363.4 L1350.3,362.7 L1352,362.5 L1357.9,362 L1363.5,361.5 L1365.6,361.3 L1373.4,360.7 L1374.5,360.7 L1381.4,360.2 L1385.1,359.9 L1389.6,359.7 L1395.4,359.3 L1397.9,359.2 L1405.4,358.8 L1406.4,358.7 L1415,358.3 L1415.1,358.3 L1423.8,357.9 L1424.7,357.8 L1432.7,357.5 L1434,357.5 L1441.8,357.2 L1443.3,357.1 L1451,356.9 L1452.3,356.8 L1460.3,356.6 L1461.3,356.5 L1469.8,356.3" fill="none" stroke="#22c0c0" stroke-width="1.3"/>
<path d="M1049.1,397.8 L1049.6,397.4 L1052.1,395.8 L1055.2,393.9 L1058.4,392 L1059.5,391.3 L1061.6,390.1 L1064.9,388.2 L1068.3,386.4 L1071.5,384.7 L1071.7,384.6 L1075.1,382.8 L1078.7,381 L1082.3,379.3 L1085.9,377.6 L1087.6,376.8 L1089.6,375.9 L1093.4,374.2 L1097.3,372.6 L1101.2,371 L1105.2,369.4 L1109.2,367.9 L1113.4,366.3 L1117.6,364.8 L1117.9,364.7 L1121.9,363.4 L1126.3,361.9 L1130.8,360.5 L1135.3,359.1 L1140,357.8 L1144.7,356.4 L1149.6,355.1 L1151.2,354.7 L1154.5,353.9 L1159.5,352.6 L1164.7,351.4 L1169.9,350.3 L1175.2,349.1 L1180.7,348 L1186.3,346.9 L1186.5,346.9 L1192,345.9 L1197.8,344.9 L1203.7,343.9 L1207.6,343.3 L1209.8,343 L1215.9,342.1 L1222.3,341.2 L1224.7,340.9 L1228.7,340.4 L1235.3,339.6 L1239.7,339.1 L1242,338.8 L1248.9,338.1 L1253.3,337.7 L1255.9,337.4 L1263.1,336.8 L1266,336.6 L1270.4,336.2 L1277.9,335.6 L1277.9,335.6 L1285.5,335.1 L1289.2,334.8 L1293.3,334.6 L1300.1,334.2 L1301.3,334.1 L1309.4,333.7 L1310.6,333.6 L1317.7,333.3 L1320.8,333.2 L1326.1,333 L1330.6,332.8 L1334.8,332.7 L1340.3,332.5 L1343.5,332.4 L1349.7,332.2 L1352.5,332.1 L1359,332 L1361.6,331.9 L1368,331.8 L1370.9,331.7 L1376.9,331.7 L1380.4,331.6" fill="none" stroke="#22dd22" stroke-width="1.3"/>
<path d="M971.3,369.5 L971.8,369.3 L974.9,367.9 L978.5,366.3 L982.2,364.7 L985.9,363 L989.6,361.5 L990.5,361.1 L993.4,359.9 L997.2,358.3 L1001,356.8 L1004.9,355.2 L1008.8,353.7 L1012.8,352.2 L1015.4,351.3 L1016.8,350.8 L1020.8,349.3 L1024.9,347.8 L1029.1,346.4 L1033.3,345 L1037.5,343.6 L1041.8,342.3 L1046.2,340.9 L1050.6,339.6 L1055.1,338.3 L1059.7,337 L1064.4,335.8 L1069.1,334.5 L1073.9,333.3 L1078.7,332.2 L1083.7,331 L1088.7,329.9 L1093.9,328.8 L1099.1,327.7 L1101.9,327.1 L1104.4,326.7 L1109.8,325.6 L1115.3,324.6 L1120.9,323.7 L1126.6,322.8 L1128.2,322.5 L1132.4,321.8 L1138.4,321 L1144.4,320.1 L1147.8,319.7 L1150.6,319.3 L1156.8,318.6 L1163.2,317.8 L1164.4,317.7 L1169.8,317.1 L1176.4,316.4 L1179.2,316.2 L1183.2,315.8 L1190.1,315.2 L1192.7,315 L1197.2,314.6 L1204.4,314 L1205.4,314 L1211.8,313.5 L1217.3,313.2 L1219.3,313.1 L1226.9,312.6 L1228.7,312.5 L1234.8,312.2 L1239.6,312 L1242.7,311.9 L1250.2,311.6 L1250.9,311.5 L1259.2,311.2 L1260.4,311.2 L1267.6,311 L1270.3,310.9 L1276.3,310.8 L1279.9,310.7 L1285.1,310.6 L1289.4,310.5 L1294,310.4 L1298.6,310.4 L1303.2,310.3" fill="none" stroke="#b0e000" stroke-width="1.3"/>
<path d="M939.6,86.5 L1227.8,37.4 L1515.2,86.6 M941.9,121.8 L1227.8,69.4 L1512.9,121.8 M944.1,157.1 L1227.8,101.5 L1510.7,157.1 M946.4,192.5 L1227.8,133.5 L1508.4,192.3 M948.6,227.8 L1227.8,165.5 L1506.2,227.5 M950.9,263.1 L1227.8,197.6 L1503.9,262.8 M953.2,298.4 L1227.8,229.6 L1501.6,298 M957.4,364.5 L1227.8,289.5 L1497.4,363.9 M957.4,364.5 L939.6,86.5 M1497.4,363.9 L1515.2,86.6 M1021.8,281.2 L1011.7,74.2 M1090.5,264 L1083.7,61.9 M1159.1,246.8 L1155.8,49.7 M1227.8,229.6 L1227.8,37.4 M1433.2,280.9 L1443.4,74.3 M1364.7,263.8 L1371.5,62 M1296.3,246.7 L1299.6,49.7" fill="none" stroke="#444" stroke-width="1.2"/>
<path d="M957.4,364.5 L1227,462.3 L1497.4,363.9" fill="none" stroke="#333" stroke-width="1"/>
<g fill="#111"><circle cx="939.6" cy="86.5" r="1.5"/><circle cx="941.9" cy="121.8" r="1.5"/><circle cx="944.1" cy="157.1" r="1.5"/><circle cx="946.4" cy="192.5" r="1.5"/><circle cx="948.6" cy="227.8" r="1.5"/><circle cx="950.9" cy="263.1" r="1.5"/><circle cx="953.2" cy="298.4" r="1.5"/><circle cx="957.4" cy="364.5" r="1.5"/><circle cx="1227" cy="462.3" r="1.5"/><circle cx="1159.6" cy="437.9" r="1.5"/><circle cx="1092.2" cy="413.4" r="1.5"/><circle cx="1024.8" cy="388.9" r="1.5"/><circle cx="1294.6" cy="437.7" r="1.5"/><circle cx="1362.2" cy="413.1" r="1.5"/><circle cx="1429.8" cy="388.5" r="1.5"/><circle cx="1497.4" cy="363.9" r="1.5"/></g>
<polygon points="1227.8,80.8 1216.8,73.4 1227.8,66.5 1238.8,73.9" fill="#b3410d" stroke="#b3410d" stroke-width=".8"/>
<polygon points="1216.8,87.3 1205.8,79.9 1216.8,73.4 1227.8,80.8" fill="#b4550d" stroke="#b4550d" stroke-width=".8"/>
<polygon points="1238.7,88.2 1227.8,80.8 1238.8,73.9 1249.7,81.3" fill="#b3570d" stroke="#b3570d" stroke-width=".8"/>
<polygon points="1249.6,95.4 1238.7,88.2 1249.7,81.3 1260.6,88.5" fill="#b3720d" stroke="#b3720d" stroke-width=".8"/>
<polygon points="1227.7,94.7 1216.8,87.3 1227.8,80.8 1238.7,88.2" fill="#b46f0d" stroke="#b46f0d" stroke-width=".8"/>
<polygon points="1205.9,93.4 1194.9,86 1205.8,79.9 1216.8,87.3" fill="#b5690d" stroke="#b5690d" stroke-width=".8"/>
<polygon points="1260.5,102.6 1249.6,95.4 1260.6,88.5 1271.5,95.7" fill="#b48e0d" stroke="#b48e0d" stroke-width=".8"/>
<polygon points="1238.6,102 1227.7,94.7 1238.7,88.2 1249.6,95.4" fill="#b48c0d" stroke="#b48c0d" stroke-width=".8"/>
<polygon points="1216.8,100.8 1205.9,93.4 1216.8,87.3 1227.7,94.7" fill="#b5870d" stroke="#b5870d" stroke-width=".8"/>
<polygon points="1194.9,99.2 1184,91.7 1194.9,86 1205.9,93.4" fill="#b6800d" stroke="#b6800d" stroke-width=".8"/>
<polygon points="1249.5,109.2 1238.6,102 1249.6,95.4 1260.5,102.6" fill="#b5a80d" stroke="#b5a80d" stroke-width=".8"/>
<polygon points="1227.7,108.1 1216.8,100.8 1227.7,94.7 1238.6,102" fill="#b5a40d" stroke="#b5a40d" stroke-width=".8"/>
<polygon points="1271.3,109.7 1260.5,102.6 1271.5,95.7 1282.3,102.7" fill="#b4aa0d" stroke="#b4aa0d" stroke-width=".8"/>
<polygon points="1205.9,106.6 1194.9,99.2 1205.9,93.4 1216.8,100.8" fill="#b69d0d" stroke="#b69d0d" stroke-width=".8"/>
<polygon points="1184,104.6 1173,97.1 1184,91.7 1194.9,99.2" fill="#b7940d" stroke="#b7940d" stroke-width=".8"/>
<polygon points="1282.2,116.7 1271.3,109.7 1282.3,102.7 1293.2,109.7" fill="#a7b40d" stroke="#a7b40d" stroke-width=".8"/>
<polygon points="1195,112.1 1184,104.6 1194.9,99.2 1205.9,106.6" fill="#b7b20d" stroke="#b7b20d" stroke-width=".8"/>
<polygon points="1260.4,116.3 1249.5,109.2 1260.5,102.6 1271.3,109.7" fill="#aab50d" stroke="#aab50d" stroke-width=".8"/>
<polygon points="1238.6,115.4 1227.7,108.1 1238.6,102 1249.5,109.2" fill="#aeb60d" stroke="#aeb60d" stroke-width=".8"/>
<polygon points="1216.8,114 1205.9,106.6 1216.8,100.8 1227.7,108.1" fill="#b5b60d" stroke="#b5b60d" stroke-width=".8"/>
<polygon points="1173.1,109.7 1162.1,102.1 1173,97.1 1184,104.6" fill="#b8a60d" stroke="#b8a60d" stroke-width=".8"/>
<polygon points="1293,123.7 1282.2,116.7 1293.2,109.7 1304,116.7" fill="#93b40d" stroke="#93b40d" stroke-width=".8"/>
<polygon points="1271.2,123.3 1260.4,116.3 1271.3,109.7 1282.2,116.7" fill="#95b50d" stroke="#95b50d" stroke-width=".8"/>
<polygon points="1249.4,122.5 1238.6,115.4 1249.5,109.2 1260.4,116.3" fill="#99b60d" stroke="#99b60d" stroke-width=".8"/>
<polygon points="1227.7,121.2 1216.8,114 1227.7,108.1 1238.6,115.4" fill="#9fb70d" stroke="#9fb70d" stroke-width=".8"/>
<polygon points="1205.9,119.4 1195,112.1 1205.9,106.6 1216.8,114" fill="#a7b80d" stroke="#a7b80d" stroke-width=".8"/>
<polygon points="1184.1,117.2 1173.1,109.7 1184,104.6 1195,112.1" fill="#b1b90d" stroke="#b1b90d" stroke-width=".8"/>
<polygon points="1162.2,114.4 1151.2,106.8 1162.1,102.1 1173.1,109.7" fill="#b9b60d" stroke="#b9b60d" stroke-width=".8"/>
<polygon points="1282,130.3 1271.2,123.3 1282.2,116.7 1293,123.7" fill="#80b50d" stroke="#80b50d" stroke-width=".8"/>
<polygon points="1260.3,129.6 1249.4,122.5 1260.4,116.3 1271.2,123.3" fill="#84b60d" stroke="#84b60d" stroke-width=".8"/>
<polygon points="1195,124.6 1184.1,117.2 1195,112.1 1205.9,119.4" fill="#9ab90d" stroke="#9ab90d" stroke-width=".8"/>
<polygon points="1151.4,118.9 1140.4,111.2 1151.2,106.8 1162.2,114.4" fill="#b3bb0d" stroke="#b3bb0d" stroke-width=".8"/>
<polygon points="1303.8,130.5 1293,123.7 1304,116.7 1314.7,123.5" fill="#7eb40d" stroke="#7eb40d" stroke-width=".8"/>
<polygon points="1238.5,128.4 1227.7,121.2 1238.6,115.4 1249.4,122.5" fill="#89b70d" stroke="#89b70d" stroke-width=".8"/>
<polygon points="1216.8,126.7 1205.9,119.4 1216.8,114 1227.7,121.2" fill="#91b80d" stroke="#91b80d" stroke-width=".8"/>
<polygon points="1173.2,121.9 1162.2,114.4 1173.1,109.7 1184.1,117.2" fill="#a5ba0d" stroke="#a5ba0d" stroke-width=".8"/>
<polygon points="1314.5,137.4 1303.8,130.5 1314.7,123.5 1325.5,130.3" fill="#64b40d" stroke="#64b40d" stroke-width=".8"/>
<polygon points="1249.4,135.5 1238.5,128.4 1249.4,122.5 1260.3,129.6" fill="#71b70d" stroke="#71b70d" stroke-width=".8"/>
<polygon points="1227.6,133.9 1216.8,126.7 1227.7,121.2 1238.5,128.4" fill="#7ab80d" stroke="#7ab80d" stroke-width=".8"/>
<polygon points="1292.8,137.2 1282,130.3 1293,123.7 1303.8,130.5" fill="#66b50d" stroke="#66b50d" stroke-width=".8"/>
<polygon points="1271.1,136.6 1260.3,129.6 1271.2,123.3 1282,130.3" fill="#6ab60d" stroke="#6ab60d" stroke-width=".8"/>
<polygon points="1205.9,131.9 1195,124.6 1205.9,119.4 1216.8,126.7" fill="#84b90d" stroke="#84b90d" stroke-width=".8"/>
<polygon points="1184.1,129.4 1173.2,121.9 1184.1,117.2 1195,124.6" fill="#8fba0d" stroke="#8fba0d" stroke-width=".8"/>
<polygon points="1162.3,126.4 1151.4,118.9 1162.2,114.4 1173.2,121.9" fill="#9cbb0d" stroke="#9cbb0d" stroke-width=".8"/>
<polygon points="1140.5,123 1129.5,115.3 1140.4,111.2 1151.4,118.9" fill="#aabc0d" stroke="#aabc0d" stroke-width=".8"/>
<polygon points="1238.5,141 1227.6,133.9 1238.5,128.4 1249.4,135.5" fill="#5eb80d" stroke="#5eb80d" stroke-width=".8"/>
<polygon points="1325.2,144.1 1314.5,137.4 1325.5,130.3 1336.2,137.1" fill="#4ab50d" stroke="#4ab50d" stroke-width=".8"/>
<polygon points="1303.6,144 1292.8,137.2 1303.8,130.5 1314.5,137.4" fill="#4cb50d" stroke="#4cb50d" stroke-width=".8"/>
<polygon points="1281.9,143.5 1271.1,136.6 1282,130.3 1292.8,137.2" fill="#4fb60d" stroke="#4fb60d" stroke-width=".8"/>
<polygon points="1260.2,142.5 1249.4,135.5 1260.3,129.6 1271.1,136.6" fill="#55b70d" stroke="#55b70d" stroke-width=".8"/>
<polygon points="1216.8,139.1 1205.9,131.9 1216.8,126.7 1227.6,133.9" fill="#69b90d" stroke="#69b90d" stroke-width=".8"/>
<polygon points="1195,136.7 1184.1,129.4 1195,124.6 1205.9,131.9" fill="#76ba0d" stroke="#76ba0d" stroke-width=".8"/>
<polygon points="1173.3,133.9 1162.3,126.4 1173.2,121.9 1184.1,129.4" fill="#85bb0d" stroke="#85bb0d" stroke-width=".8"/>
<polygon points="1151.5,130.6 1140.5,123 1151.4,118.9 1162.3,126.4" fill="#93bc0d" stroke="#93bc0d" stroke-width=".8"/>
<polygon points="1129.6,126.8 1118.6,119.1 1129.5,115.3 1140.5,123" fill="#a3bd0d" stroke="#a3bd0d" stroke-width=".8"/>
<polygon points="1314.3,150.8 1303.6,144 1314.5,137.4 1325.2,144.1" fill="#32b60d" stroke="#32b60d" stroke-width=".8"/>
<polygon points="1292.6,150.3 1281.9,143.5 1292.8,137.2 1303.6,144" fill="#35b60d" stroke="#35b60d" stroke-width=".8"/>
<polygon points="1227.6,146.3 1216.8,139.1 1227.6,133.9 1238.5,141" fill="#4db90d" stroke="#4db90d" stroke-width=".8"/>
<polygon points="1184.2,141.3 1173.3,133.9 1184.1,129.4 1195,136.7" fill="#69bb0d" stroke="#69bb0d" stroke-width=".8"/>
<polygon points="1162.4,138.1 1151.5,130.6 1162.3,126.4 1173.3,133.9" fill="#7bbc0d" stroke="#7bbc0d" stroke-width=".8"/>
<polygon points="1336,150.8 1325.2,144.1 1336.2,137.1 1346.9,143.8" fill="#31b50d" stroke="#31b50d" stroke-width=".8"/>
<polygon points="1271,149.4 1260.2,142.5 1271.1,136.6 1281.9,143.5" fill="#3bb70d" stroke="#3bb70d" stroke-width=".8"/>
<polygon points="1249.3,148.1 1238.5,141 1249.4,135.5 1260.2,142.5" fill="#42b80d" stroke="#42b80d" stroke-width=".8"/>
<polygon points="1205.9,144 1195,136.7 1205.9,131.9 1216.8,139.1" fill="#5aba0d" stroke="#5aba0d" stroke-width=".8"/>
<polygon points="1140.6,134.4 1129.6,126.8 1140.5,123 1151.5,130.6" fill="#8cbd0d" stroke="#8cbd0d" stroke-width=".8"/>
<polygon points="1118.7,130.4 1107.7,122.6 1118.6,119.1 1129.6,126.8" fill="#9ebe0d" stroke="#9ebe0d" stroke-width=".8"/>
<polygon points="1346.7,157.4 1336,150.8 1346.9,143.8 1357.6,150.4" fill="#18b50d" stroke="#18b50d" stroke-width=".8"/>
<polygon points="1325,157.5 1314.3,150.8 1325.2,144.1 1336,150.8" fill="#18b60d" stroke="#18b60d" stroke-width=".8"/>
<polygon points="1281.7,156.3 1271,149.4 1281.9,143.5 1292.6,150.3" fill="#20b70d" stroke="#20b70d" stroke-width=".8"/>
<polygon points="1260.1,155 1249.3,148.1 1260.2,142.5 1271,149.4" fill="#28b80d" stroke="#28b80d" stroke-width=".8"/>
<polygon points="1216.8,151.2 1205.9,144 1216.8,139.1 1227.6,146.3" fill="#3eba0d" stroke="#3eba0d" stroke-width=".8"/>
<polygon points="1151.5,142 1140.6,134.4 1151.5,130.6 1162.4,138.1" fill="#71bd0d" stroke="#71bd0d" stroke-width=".8"/>
<polygon points="1129.7,138 1118.7,130.4 1129.6,126.8 1140.6,134.4" fill="#86be0d" stroke="#86be0d" stroke-width=".8"/>
<polygon points="1303.4,157.1 1292.6,150.3 1303.6,144 1314.3,150.8" fill="#1bb70d" stroke="#1bb70d" stroke-width=".8"/>
<polygon points="1238.4,153.3 1227.6,146.3 1238.5,141 1249.3,148.1" fill="#31b90d" stroke="#31b90d" stroke-width=".8"/>
<polygon points="1195.1,148.6 1184.2,141.3 1195,136.7 1205.9,144" fill="#4cbb0d" stroke="#4cbb0d" stroke-width=".8"/>
<polygon points="1173.3,145.5 1162.4,138.1 1173.3,133.9 1184.2,141.3" fill="#5dbc0d" stroke="#5dbc0d" stroke-width=".8"/>
<polygon points="1107.9,133.7 1096.8,125.9 1107.7,122.6 1118.7,130.4" fill="#99bf0d" stroke="#99bf0d" stroke-width=".8"/>
<polygon points="1270.9,162 1260.1,155 1271,149.4 1281.7,156.3" fill="#0db90d" stroke="#0db90d" stroke-width=".8"/>
<polygon points="1357.3,164 1346.7,157.4 1357.6,150.4 1368.3,156.9" fill="#0db517" stroke="#0db517" stroke-width=".8"/>
<polygon points="1335.7,164.1 1325,157.5 1336,150.8 1346.7,157.4" fill="#0db617" stroke="#0db617" stroke-width=".8"/>
<polygon points="1314.1,163.8 1303.4,157.1 1314.3,150.8 1325,157.5" fill="#0db716" stroke="#0db716" stroke-width=".8"/>
<polygon points="1292.5,163.1 1281.7,156.3 1292.6,150.3 1303.4,157.1" fill="#0db812" stroke="#0db812" stroke-width=".8"/>
<polygon points="1249.2,160.3 1238.4,153.3 1249.3,148.1 1260.1,155" fill="#16b90d" stroke="#16b90d" stroke-width=".8"/>
<polygon points="1227.6,158.3 1216.8,151.2 1227.6,146.3 1238.4,153.3" fill="#22ba0d" stroke="#22ba0d" stroke-width=".8"/>
<polygon points="1205.9,155.8 1195.1,148.6 1205.9,144 1216.8,151.2" fill="#30bb0d" stroke="#30bb0d" stroke-width=".8"/>
<polygon points="1184.2,152.8 1173.3,145.5 1184.2,141.3 1195.1,148.6" fill="#41bc0d" stroke="#41bc0d" stroke-width=".8"/>
<polygon points="1162.5,149.4 1151.5,142 1162.4,138.1 1173.3,145.5" fill="#53be0d" stroke="#53be0d" stroke-width=".8"/>
<polygon points="1140.7,145.6 1129.7,138 1140.6,134.4 1151.5,142" fill="#69bf0d" stroke="#69bf0d" stroke-width=".8"/>
<polygon points="1118.9,141.4 1107.9,133.7 1118.7,130.4 1129.7,138" fill="#81c00d" stroke="#81c00d" stroke-width=".8"/>
<polygon points="1097,136.7 1085.9,128.9 1096.8,125.9 1107.9,133.7" fill="#96c10d" stroke="#96c10d" stroke-width=".8"/>
<polygon points="1368,170.5 1357.3,164 1368.3,156.9 1379,163.4" fill="#0db52b" stroke="#0db52b" stroke-width=".8"/>
<polygon points="1324.8,170.5 1314.1,163.8 1325,157.5 1335.7,164.1" fill="#0db729" stroke="#0db729" stroke-width=".8"/>
<polygon points="1260,167.3 1249.2,160.3 1260.1,155 1270.9,162" fill="#0dba1a" stroke="#0dba1a" stroke-width=".8"/>
<polygon points="1216.7,162.9 1205.9,155.8 1216.8,151.2 1227.6,158.3" fill="#14bc0d" stroke="#14bc0d" stroke-width=".8"/>
<polygon points="1195.1,160.1 1184.2,152.8 1195.1,148.6 1205.9,155.8" fill="#24bd0d" stroke="#24bd0d" stroke-width=".8"/>
<polygon points="1129.8,149 1118.9,141.4 1129.7,138 1140.7,145.6" fill="#62c00d" stroke="#62c00d" stroke-width=".8"/>
<polygon points="1086.1,139.5 1075.1,131.6 1085.9,128.9 1097,136.7" fill="#93c20e" stroke="#93c20e" stroke-width=".8"/>
<polygon points="1346.4,170.7 1335.7,164.1 1346.7,157.4 1357.3,164" fill="#0db62b" stroke="#0db62b" stroke-width=".8"/>
<polygon points="1303.2,169.9 1292.5,163.1 1303.4,157.1 1314.1,163.8" fill="#0db826" stroke="#0db826" stroke-width=".8"/>
<polygon points="1281.6,168.8 1270.9,162 1281.7,156.3 1292.5,163.1" fill="#0db921" stroke="#0db921" stroke-width=".8"/>
<polygon points="1238.4,165.3 1227.6,158.3 1238.4,153.3 1249.2,160.3" fill="#0dbb12" stroke="#0dbb12" stroke-width=".8"/>
<polygon points="1173.4,156.8 1162.5,149.4 1173.3,145.5 1184.2,152.8" fill="#37be0d" stroke="#37be0d" stroke-width=".8"/>
<polygon points="1151.6,153.1 1140.7,145.6 1151.5,142 1162.5,149.4" fill="#4bbf0d" stroke="#4bbf0d" stroke-width=".8"/>
<polygon points="1108,144.4 1097,136.7 1107.9,133.7 1118.9,141.4" fill="#7cc10d" stroke="#7cc10d" stroke-width=".8"/>
<polygon points="1378.6,177 1368,170.5 1379,163.4 1389.6,169.9" fill="#0db53d" stroke="#0db53d" stroke-width=".8"/>
<polygon points="1357,177.3 1346.4,170.7 1357.3,164 1368,170.5" fill="#0db63e" stroke="#0db63e" stroke-width=".8"/>
<polygon points="1313.9,176.6 1303.2,169.9 1314.1,163.8 1324.8,170.5" fill="#0db83a" stroke="#0db83a" stroke-width=".8"/>
<polygon points="1292.3,175.6 1281.6,168.8 1292.5,163.1 1303.2,169.9" fill="#0db935" stroke="#0db935" stroke-width=".8"/>
<polygon points="1249.2,172.3 1238.4,165.3 1249.2,160.3 1260,167.3" fill="#0dbb27" stroke="#0dbb27" stroke-width=".8"/>
<polygon points="1184.2,164.1 1173.4,156.8 1184.2,152.8 1195.1,160.1" fill="#1abe0d" stroke="#1abe0d" stroke-width=".8"/>
<polygon points="1162.5,160.5 1151.6,153.1 1162.5,149.4 1173.4,156.8" fill="#2ebf0d" stroke="#2ebf0d" stroke-width=".8"/>
<polygon points="1097.1,147.3 1086.1,139.5 1097,136.7 1108,144.4" fill="#78c20e" stroke="#78c20e" stroke-width=".8"/>
<polygon points="1075.2,142.1 1064.2,134.2 1075.1,131.6 1086.1,139.5" fill="#92c30e" stroke="#92c30e" stroke-width=".8"/>
<polygon points="1335.5,177.1 1324.8,170.5 1335.7,164.1 1346.4,170.7" fill="#0db73d" stroke="#0db73d" stroke-width=".8"/>
<polygon points="1270.8,174.1 1260,167.3 1270.9,162 1281.6,168.8" fill="#0dba2f" stroke="#0dba2f" stroke-width=".8"/>
<polygon points="1227.6,170 1216.7,162.9 1227.6,158.3 1238.4,165.3" fill="#0dbc1d" stroke="#0dbc1d" stroke-width=".8"/>
<polygon points="1205.9,167.3 1195.1,160.1 1205.9,155.8 1216.7,162.9" fill="#0dbd11" stroke="#0dbd11" stroke-width=".8"/>
<polygon points="1140.8,156.5 1129.8,149 1140.7,145.6 1151.6,153.1" fill="#44c00d" stroke="#44c00d" stroke-width=".8"/>
<polygon points="1119,152.1 1108,144.4 1118.9,141.4 1129.8,149" fill="#5dc10e" stroke="#5dc10e" stroke-width=".8"/>
<polygon points="1173.4,167.8 1162.5,160.5 1173.4,156.8 1184.2,164.1" fill="#12bf0d" stroke="#12bf0d" stroke-width=".8"/>
<polygon points="1389.2,183.4 1378.6,177 1389.6,169.9 1400.2,176.3" fill="#0db550" stroke="#0db550" stroke-width=".8"/>
<polygon points="1367.7,183.8 1357,177.3 1368,170.5 1378.6,177" fill="#0db650" stroke="#0db650" stroke-width=".8"/>
<polygon points="1346.1,183.7 1335.5,177.1 1346.4,170.7 1357,177.3" fill="#0db74f" stroke="#0db74f" stroke-width=".8"/>
<polygon points="1324.6,183.2 1313.9,176.6 1324.8,170.5 1335.5,177.1" fill="#0db84d" stroke="#0db84d" stroke-width=".8"/>
<polygon points="1303,182.3 1292.3,175.6 1303.2,169.9 1313.9,176.6" fill="#0db949" stroke="#0db949" stroke-width=".8"/>
<polygon points="1281.5,180.9 1270.8,174.1 1281.6,168.8 1292.3,175.6" fill="#0dba43" stroke="#0dba43" stroke-width=".8"/>
<polygon points="1259.9,179.2 1249.2,172.3 1260,167.3 1270.8,174.1" fill="#0dbb3b" stroke="#0dbb3b" stroke-width=".8"/>
<polygon points="1238.3,177 1227.6,170 1238.4,165.3 1249.2,172.3" fill="#0dbc32" stroke="#0dbc32" stroke-width=".8"/>
<polygon points="1216.7,174.4 1205.9,167.3 1216.7,162.9 1227.6,170" fill="#0dbd26" stroke="#0dbd26" stroke-width=".8"/>
<polygon points="1195.1,171.3 1184.2,164.1 1195.1,160.1 1205.9,167.3" fill="#0dbe19" stroke="#0dbe19" stroke-width=".8"/>
<polygon points="1151.7,164 1140.8,156.5 1151.6,153.1 1162.5,160.5" fill="#27c00d" stroke="#27c00d" stroke-width=".8"/>
<polygon points="1129.9,159.7 1119,152.1 1129.8,149 1140.8,156.5" fill="#3fc10e" stroke="#3fc10e" stroke-width=".8"/>
<polygon points="1108.1,155 1097.1,147.3 1108,144.4 1119,152.1" fill="#59c20e" stroke="#59c20e" stroke-width=".8"/>
<polygon points="1086.3,149.9 1075.2,142.1 1086.1,139.5 1097.1,147.3" fill="#76c30e" stroke="#76c30e" stroke-width=".8"/>
<polygon points="1064.3,144.4 1053.3,136.5 1064.2,134.2 1075.2,142.1" fill="#91c40e" stroke="#91c40e" stroke-width=".8"/>
<polygon points="1399.8,189.8 1389.2,183.4 1400.2,176.3 1410.8,182.7" fill="#0db662" stroke="#0db662" stroke-width=".8"/>
<polygon points="1378.3,190.2 1367.7,183.8 1378.6,177 1389.2,183.4" fill="#0db663" stroke="#0db663" stroke-width=".8"/>
<polygon points="1356.8,190.2 1346.1,183.7 1357,177.3 1367.7,183.8" fill="#0db762" stroke="#0db762" stroke-width=".8"/>
<polygon points="1335.3,189.8 1324.6,183.2 1335.5,177.1 1346.1,183.7" fill="#0db860" stroke="#0db860" stroke-width=".8"/>
<polygon points="1292.2,187.7 1281.5,180.9 1292.3,175.6 1303,182.3" fill="#0dba56" stroke="#0dba56" stroke-width=".8"/>
<polygon points="1227.5,181.4 1216.7,174.4 1227.6,170 1238.3,177" fill="#0dbd3b" stroke="#0dbd3b" stroke-width=".8"/>
<polygon points="1162.6,171.3 1151.7,164 1162.5,160.5 1173.4,167.8" fill="#0dc010" stroke="#0dc010" stroke-width=".8"/>
<polygon points="1119.1,162.6 1108.1,155 1119,152.1 1129.9,159.7" fill="#3bc20e" stroke="#3bc20e" stroke-width=".8"/>
<polygon points="1097.3,157.6 1086.3,149.9 1097.1,147.3 1108.1,155" fill="#57c30e" stroke="#57c30e" stroke-width=".8"/>
<polygon points="1053.4,146.6 1042.4,138.7 1053.3,136.5 1064.3,144.4" fill="#92c50e" stroke="#92c50e" stroke-width=".8"/>
<polygon points="1313.7,188.9 1303,182.3 1313.9,176.6 1324.6,183.2" fill="#0db95c" stroke="#0db95c" stroke-width=".8"/>
<polygon points="1270.7,186 1259.9,179.2 1270.8,174.1 1281.5,180.9" fill="#0dbb4f" stroke="#0dbb4f" stroke-width=".8"/>
<polygon points="1249.1,183.9 1238.3,177 1249.2,172.3 1259.9,179.2" fill="#0dbc46" stroke="#0dbc46" stroke-width=".8"/>
<polygon points="1205.9,178.5 1195.1,171.3 1205.9,167.3 1216.7,174.4" fill="#0dbe2f" stroke="#0dbe2f" stroke-width=".8"/>
<polygon points="1184.3,175.1 1173.4,167.8 1184.2,164.1 1195.1,171.3" fill="#0dbf20" stroke="#0dbf20" stroke-width=".8"/>
<polygon points="1140.9,167.1 1129.9,159.7 1140.8,156.5 1151.7,164" fill="#22c10e" stroke="#22c10e" stroke-width=".8"/>
<polygon points="1075.4,152.3 1064.3,144.4 1075.2,142.1 1086.3,149.9" fill="#75c40e" stroke="#75c40e" stroke-width=".8"/>
<polygon points="1410.4,196.2 1399.8,189.8 1410.8,182.7 1421.4,189.1" fill="#0db674" stroke="#0db674" stroke-width=".8"/>
<polygon points="1388.9,196.6 1378.3,190.2 1389.2,183.4 1399.8,189.8" fill="#0db775" stroke="#0db775" stroke-width=".8"/>
<polygon points="1367.4,196.6 1356.8,190.2 1367.7,183.8 1378.3,190.2" fill="#0db774" stroke="#0db774" stroke-width=".8"/>
<polygon points="1345.9,196.3 1335.3,189.8 1346.1,183.7 1356.8,190.2" fill="#0db872" stroke="#0db872" stroke-width=".8"/>
<polygon points="1324.4,195.5 1313.7,188.9 1324.6,183.2 1335.3,189.8" fill="#0db96f" stroke="#0db96f" stroke-width=".8"/>
<polygon points="1281.4,192.8 1270.7,186 1281.5,180.9 1292.2,187.7" fill="#0dbb63" stroke="#0dbb63" stroke-width=".8"/>
<polygon points="1259.8,190.8 1249.1,183.9 1259.9,179.2 1270.7,186" fill="#0dbc5a" stroke="#0dbc5a" stroke-width=".8"/>
<polygon points="1216.7,185.5 1205.9,178.5 1216.7,174.4 1227.5,181.4" fill="#0dbe44" stroke="#0dbe44" stroke-width=".8"/>
<polygon points="1151.8,174.6 1140.9,167.1 1151.7,164 1162.6,171.3" fill="#0ec214" stroke="#0ec214" stroke-width=".8"/>
<polygon points="1130,170.1 1119.1,162.6 1129.9,159.7 1140.9,167.1" fill="#1ec30e" stroke="#1ec30e" stroke-width=".8"/>
<polygon points="1108.3,165.3 1097.3,157.6 1108.1,155 1119.1,162.6" fill="#39c40e" stroke="#39c40e" stroke-width=".8"/>
<polygon points="1086.4,160.1 1075.4,152.3 1086.3,149.9 1097.3,157.6" fill="#56c50e" stroke="#56c50e" stroke-width=".8"/>
<polygon points="1064.5,154.5 1053.4,146.6 1064.3,144.4 1075.4,152.3" fill="#75c60e" stroke="#75c60e" stroke-width=".8"/>
<polygon points="1042.5,148.6 1031.4,140.6 1042.4,138.7 1053.4,146.6" fill="#93c60e" stroke="#93c60e" stroke-width=".8"/>
<polygon points="1302.9,194.4 1292.2,187.7 1303,182.3 1313.7,188.9" fill="#0dba6a" stroke="#0dba6a" stroke-width=".8"/>
<polygon points="1238.3,188.4 1227.5,181.4 1238.3,177 1249.1,183.9" fill="#0dbd50" stroke="#0dbd50" stroke-width=".8"/>
<polygon points="1195.1,182.3 1184.3,175.1 1195.1,171.3 1205.9,178.5" fill="#0dbf36" stroke="#0dbf36" stroke-width=".8"/>
<polygon points="1173.5,178.6 1162.6,171.3 1173.4,167.8 1184.3,175.1" fill="#0dc026" stroke="#0dc026" stroke-width=".8"/>
<polygon points="1399.5,203 1388.9,196.6 1399.8,189.8 1410.4,196.2" fill="#0db784" stroke="#0db784" stroke-width=".8"/>
<polygon points="1141,177.5 1130,170.1 1140.9,167.1 1151.8,174.6" fill="#0ec317" stroke="#0ec317" stroke-width=".8"/>
<polygon points="1053.6,156.5 1042.5,148.6 1053.4,146.6 1064.5,154.5" fill="#77c70e" stroke="#77c70e" stroke-width=".8"/>
<polygon points="1421,202.5 1410.4,196.2 1421.4,189.1 1432,195.4" fill="#0db683" stroke="#0db683" stroke-width=".8"/>
<polygon points="1378,203.1 1367.4,196.6 1378.3,190.2 1388.9,196.6" fill="#0db784" stroke="#0db784" stroke-width=".8"/>
<polygon points="1356.5,202.8 1345.9,196.3 1356.8,190.2 1367.4,196.6" fill="#0db882" stroke="#0db882" stroke-width=".8"/>
<polygon points="1335,202.1 1324.4,195.5 1335.3,189.8 1345.9,196.3" fill="#0db980" stroke="#0db980" stroke-width=".8"/>
<polygon points="1313.6,201 1302.9,194.4 1313.7,188.9 1324.4,195.5" fill="#0dba7c" stroke="#0dba7c" stroke-width=".8"/>
<polygon points="1292.1,199.5 1281.4,192.8 1292.2,187.7 1302.9,194.4" fill="#0dbb76" stroke="#0dbb76" stroke-width=".8"/>
<polygon points="1270.6,197.6 1259.8,190.8 1270.7,186 1281.4,192.8" fill="#0dbc6e" stroke="#0dbc6e" stroke-width=".8"/>
<polygon points="1249,195.3 1238.3,188.4 1249.1,183.9 1259.8,190.8" fill="#0dbd64" stroke="#0dbd64" stroke-width=".8"/>
<polygon points="1227.5,192.5 1216.7,185.5 1227.5,181.4 1238.3,188.4" fill="#0dbe58" stroke="#0dbe58" stroke-width=".8"/>
<polygon points="1205.9,189.4 1195.1,182.3 1205.9,178.5 1216.7,185.5" fill="#0dbf4b" stroke="#0dbf4b" stroke-width=".8"/>
<polygon points="1184.3,185.8 1173.5,178.6 1184.3,175.1 1195.1,182.3" fill="#0dc13b" stroke="#0dc13b" stroke-width=".8"/>
<polygon points="1162.6,181.9 1151.8,174.6 1162.6,171.3 1173.5,178.6" fill="#0ec22a" stroke="#0ec22a" stroke-width=".8"/>
<polygon points="1119.2,172.8 1108.3,165.3 1119.1,162.6 1130,170.1" fill="#1bc40e" stroke="#1bc40e" stroke-width=".8"/>
<polygon points="1097.4,167.7 1086.4,160.1 1097.3,157.6 1108.3,165.3" fill="#38c50e" stroke="#38c50e" stroke-width=".8"/>
<polygon points="1075.5,162.3 1064.5,154.5 1075.4,152.3 1086.4,160.1" fill="#56c60e" stroke="#56c60e" stroke-width=".8"/>
<polygon points="1031.6,150.4 1020.5,142.4 1031.4,140.6 1042.5,148.6" fill="#95c70e" stroke="#95c70e" stroke-width=".8"/>
<polygon points="1431.5,208.8 1421,202.5 1432,195.4 1442.5,201.7" fill="#0db691" stroke="#0db691" stroke-width=".8"/>
<polygon points="1410.1,209.3 1399.5,203 1410.4,196.2 1421,202.5" fill="#0db792" stroke="#0db792" stroke-width=".8"/>
<polygon points="1388.6,209.4 1378,203.1 1388.9,196.6 1399.5,203" fill="#0db892" stroke="#0db892" stroke-width=".8"/>
<polygon points="1367.1,209.2 1356.5,202.8 1367.4,196.6 1378,203.1" fill="#0db891" stroke="#0db891" stroke-width=".8"/>
<polygon points="1345.7,208.6 1335,202.1 1345.9,196.3 1356.5,202.8" fill="#0db98f" stroke="#0db98f" stroke-width=".8"/>
<polygon points="1324.2,207.6 1313.6,201 1324.4,195.5 1335,202.1" fill="#0dba8b" stroke="#0dba8b" stroke-width=".8"/>
<polygon points="1302.7,206.2 1292.1,199.5 1302.9,194.4 1313.6,201" fill="#0dbb86" stroke="#0dbb86" stroke-width=".8"/>
<polygon points="1259.8,202.1 1249,195.3 1259.8,190.8 1270.6,197.6" fill="#0dbd77" stroke="#0dbd77" stroke-width=".8"/>
<polygon points="1238.2,199.5 1227.5,192.5 1238.3,188.4 1249,195.3" fill="#0dbf6c" stroke="#0dbf6c" stroke-width=".8"/>
<polygon points="1216.7,196.4 1205.9,189.4 1216.7,185.5 1227.5,192.5" fill="#0dc05f" stroke="#0dc05f" stroke-width=".8"/>
<polygon points="1195.1,193 1184.3,185.8 1195.1,182.3 1205.9,189.4" fill="#0dc150" stroke="#0dc150" stroke-width=".8"/>
<polygon points="1151.8,184.9 1141,177.5 1151.8,174.6 1162.6,181.9" fill="#0ec32e" stroke="#0ec32e" stroke-width=".8"/>
<polygon points="1130.1,180.3 1119.2,172.8 1130,170.1 1141,177.5" fill="#0ec41a" stroke="#0ec41a" stroke-width=".8"/>
<polygon points="1086.5,170 1075.5,162.3 1086.4,160.1 1097.4,167.7" fill="#38c60e" stroke="#38c60e" stroke-width=".8"/>
<polygon points="1064.7,164.3 1053.6,156.5 1064.5,154.5 1075.5,162.3" fill="#58c70e" stroke="#58c70e" stroke-width=".8"/>
<polygon points="1042.7,158.4 1031.6,150.4 1042.5,148.6 1053.6,156.5" fill="#79c80e" stroke="#79c80e" stroke-width=".8"/>
<polygon points="1020.7,152.1 1009.6,144.1 1020.5,142.4 1031.6,150.4" fill="#98c80e" stroke="#98c80e" stroke-width=".8"/>
<polygon points="1281.3,204.4 1270.6,197.6 1281.4,192.8 1292.1,199.5" fill="#0dbc80" stroke="#0dbc80" stroke-width=".8"/>
<polygon points="1173.5,189.1 1162.6,181.9 1173.5,178.6 1184.3,185.8" fill="#0ec240" stroke="#0ec240" stroke-width=".8"/>
<polygon points="1108.4,175.3 1097.4,167.7 1108.3,165.3 1119.2,172.8" fill="#1ac50e" stroke="#1ac50e" stroke-width=".8"/>
<polygon points="1334.8,214.1 1324.2,207.6 1335,202.1 1345.7,208.6" fill="#0dba9a" stroke="#0dba9a" stroke-width=".8"/>
<polygon points="1053.8,166.2 1042.7,158.4 1053.6,156.5 1064.7,164.3" fill="#5ac80e" stroke="#5ac80e" stroke-width=".8"/>
<polygon points="1009.8,153.7 998.6,145.6 1009.6,144.1 1020.7,152.1" fill="#9bc90e" stroke="#9bc90e" stroke-width=".8"/>
<polygon points="1442.1,215 1431.5,208.8 1442.5,201.7 1453,207.9" fill="#0db69f" stroke="#0db69f" stroke-width=".8"/>
<polygon points="1420.6,215.6 1410.1,209.3 1421,202.5 1431.5,208.8" fill="#0db7a0" stroke="#0db7a0" stroke-width=".8"/>
<polygon points="1399.2,215.8 1388.6,209.4 1399.5,203 1410.1,209.3" fill="#0db8a0" stroke="#0db8a0" stroke-width=".8"/>
<polygon points="1377.7,215.6 1367.1,209.2 1378,203.1 1388.6,209.4" fill="#0db99f" stroke="#0db99f" stroke-width=".8"/>
<polygon points="1356.3,215 1345.7,208.6 1356.5,202.8 1367.1,209.2" fill="#0db99d" stroke="#0db99d" stroke-width=".8"/>
<polygon points="1313.4,212.8 1302.7,206.2 1313.6,201 1324.2,207.6" fill="#0dbb95" stroke="#0dbb95" stroke-width=".8"/>
<polygon points="1291.9,211 1281.3,204.4 1292.1,199.5 1302.7,206.2" fill="#0dbc8f" stroke="#0dbc8f" stroke-width=".8"/>
<polygon points="1249,206.4 1238.2,199.5 1249,195.3 1259.8,202.1" fill="#0dbf7f" stroke="#0dbf7f" stroke-width=".8"/>
<polygon points="1227.5,203.4 1216.7,196.4 1227.5,192.5 1238.2,199.5" fill="#0dc073" stroke="#0dc073" stroke-width=".8"/>
<polygon points="1184.3,196.3 1173.5,189.1 1184.3,185.8 1195.1,193" fill="#0ec255" stroke="#0ec255" stroke-width=".8"/>
<polygon points="1162.7,192.2 1151.8,184.9 1162.6,181.9 1173.5,189.1" fill="#0ec344" stroke="#0ec344" stroke-width=".8"/>
<polygon points="1141,187.7 1130.1,180.3 1141,177.5 1151.8,184.9" fill="#0ec430" stroke="#0ec430" stroke-width=".8"/>
<polygon points="1119.3,182.8 1108.4,175.3 1119.2,172.8 1130.1,180.3" fill="#0ec51b" stroke="#0ec51b" stroke-width=".8"/>
<polygon points="1097.5,177.6 1086.5,170 1097.4,167.7 1108.4,175.3" fill="#1ac60e" stroke="#1ac60e" stroke-width=".8"/>
<polygon points="1075.7,172.1 1064.7,164.3 1075.5,162.3 1086.5,170" fill="#39c70e" stroke="#39c70e" stroke-width=".8"/>
<polygon points="1031.8,160.1 1020.7,152.1 1031.6,150.4 1042.7,158.4" fill="#7cc90e" stroke="#7cc90e" stroke-width=".8"/>
<polygon points="1270.5,208.9 1259.8,202.1 1270.6,197.6 1281.3,204.4" fill="#0dbe88" stroke="#0dbe88" stroke-width=".8"/>
<polygon points="1205.9,200.1 1195.1,193 1205.9,189.4 1216.7,196.4" fill="#0ec165" stroke="#0ec165" stroke-width=".8"/>
<polygon points="1431.1,221.8 1420.6,215.6 1431.5,208.8 1442.1,215" fill="#0db7ae" stroke="#0db7ae" stroke-width=".8"/>
<polygon points="1366.9,221.5 1356.3,215 1367.1,209.2 1377.7,215.6" fill="#0dbaab" stroke="#0dbaab" stroke-width=".8"/>
<polygon points="1173.5,199.4 1162.7,192.2 1173.5,189.1 1184.3,196.3" fill="#0ec359" stroke="#0ec359" stroke-width=".8"/>
<polygon points="1108.5,185.2 1097.5,177.6 1108.4,175.3 1119.3,182.8" fill="#0ec61b" stroke="#0ec61b" stroke-width=".8"/>
<polygon points="1020.9,161.6 1009.8,153.7 1020.7,152.1 1031.8,160.1" fill="#81ca0e" stroke="#81ca0e" stroke-width=".8"/>
<polygon points="998.8,155.1 987.7,147 998.6,145.6 1009.8,153.7" fill="#9fca0e" stroke="#9fca0e" stroke-width=".8"/>
<polygon points="1452.6,221.3 1442.1,215 1453,207.9 1463.5,214.2" fill="#0db6ad" stroke="#0db6ad" stroke-width=".8"/>
<polygon points="1409.7,222.1 1399.2,215.8 1410.1,209.3 1420.6,215.6" fill="#0db8ae" stroke="#0db8ae" stroke-width=".8"/>
<polygon points="1388.3,221.9 1377.7,215.6 1388.6,209.4 1399.2,215.8" fill="#0db9ad" stroke="#0db9ad" stroke-width=".8"/>
<polygon points="1345.5,220.6 1334.8,214.1 1345.7,208.6 1356.3,215" fill="#0dbba8" stroke="#0dbba8" stroke-width=".8"/>
<polygon points="1324,219.3 1313.4,212.8 1324.2,207.6 1334.8,214.1" fill="#0dbca4" stroke="#0dbca4" stroke-width=".8"/>
<polygon points="1302.6,217.7 1291.9,211 1302.7,206.2 1313.4,212.8" fill="#0dbd9e" stroke="#0dbd9e" stroke-width=".8"/>
<polygon points="1281.2,215.6 1270.5,208.9 1281.3,204.4 1291.9,211" fill="#0dbe97" stroke="#0dbe97" stroke-width=".8"/>
<polygon points="1259.7,213.2 1249,206.4 1259.8,202.1 1270.5,208.9" fill="#0dbf8f" stroke="#0dbf8f" stroke-width=".8"/>
<polygon points="1238.2,210.3 1227.5,203.4 1238.2,199.5 1249,206.4" fill="#0dc085" stroke="#0dc085" stroke-width=".8"/>
<polygon points="1216.7,207.1 1205.9,200.1 1216.7,196.4 1227.5,203.4" fill="#0ec179" stroke="#0ec179" stroke-width=".8"/>
<polygon points="1195.1,203.5 1184.3,196.3 1195.1,193 1205.9,200.1" fill="#0ec26a" stroke="#0ec26a" stroke-width=".8"/>
<polygon points="1151.9,195 1141,187.7 1151.8,184.9 1162.7,192.2" fill="#0ec446" stroke="#0ec446" stroke-width=".8"/>
<polygon points="1130.2,190.3 1119.3,182.8 1130.1,180.3 1141,187.7" fill="#0ec531" stroke="#0ec531" stroke-width=".8"/>
<polygon points="1086.7,179.7 1075.7,172.1 1086.5,170 1097.5,177.6" fill="#1bc70e" stroke="#1bc70e" stroke-width=".8"/>
<polygon points="1064.8,174 1053.8,166.2 1064.7,164.3 1075.7,172.1" fill="#3bc80e" stroke="#3bc80e" stroke-width=".8"/>
<polygon points="1042.9,168 1031.8,160.1 1042.7,158.4 1053.8,166.2" fill="#5dc90e" stroke="#5dc90e" stroke-width=".8"/>
<polygon points="1463.1,227.5 1452.6,221.3 1463.5,214.2 1474,220.4" fill="#0db2b6" stroke="#0db2b6" stroke-width=".8"/>
<polygon points="1441.7,228.1 1431.1,221.8 1442.1,215 1452.6,221.3" fill="#0db2b7" stroke="#0db2b7" stroke-width=".8"/>
<polygon points="1420.3,228.3 1409.7,222.1 1420.6,215.6 1431.1,221.8" fill="#0db4b8" stroke="#0db4b8" stroke-width=".8"/>
<polygon points="1398.9,228.3 1388.3,221.9 1399.2,215.8 1409.7,222.1" fill="#0db6b9" stroke="#0db6b9" stroke-width=".8"/>
<polygon points="1377.5,227.8 1366.9,221.5 1377.7,215.6 1388.3,221.9" fill="#0dbab9" stroke="#0dbab9" stroke-width=".8"/>
<polygon points="1356.1,227 1345.5,220.6 1356.3,215 1366.9,221.5" fill="#0dbbb6" stroke="#0dbbb6" stroke-width=".8"/>
<polygon points="1334.7,225.8 1324,219.3 1334.8,214.1 1345.5,220.6" fill="#0dbcb2" stroke="#0dbcb2" stroke-width=".8"/>
<polygon points="1313.3,224.3 1302.6,217.7 1313.4,212.8 1324,219.3" fill="#0dbdad" stroke="#0dbdad" stroke-width=".8"/>
<polygon points="1291.8,222.3 1281.2,215.6 1291.9,211 1302.6,217.7" fill="#0dbea6" stroke="#0dbea6" stroke-width=".8"/>
<polygon points="1270.4,219.9 1259.7,213.2 1270.5,208.9 1281.2,215.6" fill="#0dbf9e" stroke="#0dbf9e" stroke-width=".8"/>
<polygon points="1248.9,217.2 1238.2,210.3 1249,206.4 1259.7,213.2" fill="#0dc095" stroke="#0dc095" stroke-width=".8"/>
<polygon points="1227.4,214 1216.7,207.1 1227.5,203.4 1238.2,210.3" fill="#0ec18b" stroke="#0ec18b" stroke-width=".8"/>
<polygon points="1205.9,210.5 1195.1,203.5 1205.9,200.1 1216.7,207.1" fill="#0ec27e" stroke="#0ec27e" stroke-width=".8"/>
<polygon points="1184.3,206.6 1173.5,199.4 1184.3,196.3 1195.1,203.5" fill="#0ec36e" stroke="#0ec36e" stroke-width=".8"/>
<polygon points="1162.7,202.3 1151.9,195 1162.7,192.2 1173.5,199.4" fill="#0ec55b" stroke="#0ec55b" stroke-width=".8"/>
<polygon points="1119.4,192.7 1108.5,185.2 1119.3,182.8 1130.2,190.3" fill="#0ec732" stroke="#0ec732" stroke-width=".8"/>
<polygon points="1097.6,187.3 1086.7,179.7 1097.5,177.6 1108.5,185.2" fill="#0ec81a" stroke="#0ec81a" stroke-width=".8"/>
<polygon points="1075.8,181.7 1064.8,174 1075.7,172.1 1086.7,179.7" fill="#1ec90e" stroke="#1ec90e" stroke-width=".8"/>
<polygon points="1053.9,175.8 1042.9,168 1053.8,166.2 1064.8,174" fill="#3fc90e" stroke="#3fc90e" stroke-width=".8"/>
<polygon points="1032,169.5 1020.9,161.6 1031.8,160.1 1042.9,168" fill="#61ca0e" stroke="#61ca0e" stroke-width=".8"/>
<polygon points="1010,163.1 998.8,155.1 1009.8,153.7 1020.9,161.6" fill="#86ca0e" stroke="#86ca0e" stroke-width=".8"/>
<polygon points="987.9,156.4 976.7,148.3 987.7,147 998.8,155.1" fill="#a3cb0e" stroke="#a3cb0e" stroke-width=".8"/>
<polygon points="1141.1,197.7 1130.2,190.3 1141,187.7 1151.9,195" fill="#0ec647" stroke="#0ec647" stroke-width=".8"/>
<polygon points="1473.6,233.7 1463.1,227.5 1474,220.4 1484.5,226.6" fill="#0d9cb6" stroke="#0d9cb6" stroke-width=".8"/>
<polygon points="1452.2,234.3 1441.7,228.1 1452.6,221.3 1463.1,227.5" fill="#0d9cb7" stroke="#0d9cb7" stroke-width=".8"/>
<polygon points="1430.8,234.6 1420.3,228.3 1431.1,221.8 1441.7,228.1" fill="#0d9eb8" stroke="#0d9eb8" stroke-width=".8"/>
<polygon points="1366.6,233.4 1356.1,227 1366.9,221.5 1377.5,227.8" fill="#0dafbb" stroke="#0dafbb" stroke-width=".8"/>
<polygon points="1302.5,228.9 1291.8,222.3 1302.6,217.7 1313.3,224.3" fill="#0dbeb5" stroke="#0dbeb5" stroke-width=".8"/>
<polygon points="1086.8,189.3 1075.8,181.7 1086.7,179.7 1097.6,187.3" fill="#0ec919" stroke="#0ec919" stroke-width=".8"/>
<polygon points="1021.1,171 1010,163.1 1020.9,161.6 1032,169.5" fill="#66cb0e" stroke="#66cb0e" stroke-width=".8"/>
<polygon points="976.9,157.6 965.7,149.5 976.7,148.3 987.9,156.4" fill="#a8cb0e" stroke="#a8cb0e" stroke-width=".8"/>
<polygon points="1409.4,234.6 1398.9,228.3 1409.7,222.1 1420.3,228.3" fill="#0da2b9" stroke="#0da2b9" stroke-width=".8"/>
<polygon points="1388,234.2 1377.5,227.8 1388.3,221.9 1398.9,228.3" fill="#0da7ba" stroke="#0da7ba" stroke-width=".8"/>
<polygon points="1345.3,232.3 1334.7,225.8 1345.5,220.6 1356.1,227" fill="#0db7bc" stroke="#0db7bc" stroke-width=".8"/>
<polygon points="1323.9,230.8 1313.3,224.3 1324,219.3 1334.7,225.8" fill="#0dbdbb" stroke="#0dbdbb" stroke-width=".8"/>
<polygon points="1281.1,226.6 1270.4,219.9 1281.2,215.6 1291.8,222.3" fill="#0dbfad" stroke="#0dbfad" stroke-width=".8"/>
<polygon points="1259.6,224 1248.9,217.2 1259.7,213.2 1270.4,219.9" fill="#0dc0a5" stroke="#0dc0a5" stroke-width=".8"/>
<polygon points="1216.7,217.5 1205.9,210.5 1216.7,207.1 1227.4,214" fill="#0ec28f" stroke="#0ec28f" stroke-width=".8"/>
<polygon points="1195.1,213.7 1184.3,206.6 1195.1,203.5 1205.9,210.5" fill="#0ec482" stroke="#0ec482" stroke-width=".8"/>
<polygon points="1173.6,209.5 1162.7,202.3 1173.5,199.4 1184.3,206.6" fill="#0ec570" stroke="#0ec570" stroke-width=".8"/>
<polygon points="1151.9,204.9 1141.1,197.7 1151.9,195 1162.7,202.3" fill="#0ec65d" stroke="#0ec65d" stroke-width=".8"/>
<polygon points="1130.3,200.1 1119.4,192.7 1130.2,190.3 1141.1,197.7" fill="#0ec748" stroke="#0ec748" stroke-width=".8"/>
<polygon points="1108.6,194.8 1097.6,187.3 1108.5,185.2 1119.4,192.7" fill="#0ec831" stroke="#0ec831" stroke-width=".8"/>
<polygon points="1064.9,183.5 1053.9,175.8 1064.8,174 1075.8,181.7" fill="#21ca0e" stroke="#21ca0e" stroke-width=".8"/>
<polygon points="1043,177.4 1032,169.5 1042.9,168 1053.9,175.8" fill="#43ca0e" stroke="#43ca0e" stroke-width=".8"/>
<polygon points="999,164.4 987.9,156.4 998.8,155.1 1010,163.1" fill="#8bcb0e" stroke="#8bcb0e" stroke-width=".8"/>
<polygon points="1238.2,220.9 1227.4,214 1238.2,210.3 1248.9,217.2" fill="#0ec19a" stroke="#0ec19a" stroke-width=".8"/>
<polygon points="1462.6,240.5 1452.2,234.3 1463.1,227.5 1473.6,233.7" fill="#0d86b7" stroke="#0d86b7" stroke-width=".8"/>
<polygon points="1398.6,240.5 1388,234.2 1398.9,228.3 1409.4,234.6" fill="#0d90ba" stroke="#0d90ba" stroke-width=".8"/>
<polygon points="1334.5,237.3 1323.9,230.8 1334.7,225.8 1345.3,232.3" fill="#0dacbd" stroke="#0dacbd" stroke-width=".8"/>
<polygon points="1291.7,233.3 1281.1,226.6 1291.8,222.3 1302.5,228.9" fill="#0dbfbc" stroke="#0dbfbc" stroke-width=".8"/>
<polygon points="1205.9,220.7 1195.1,213.7 1205.9,210.5 1216.7,217.5" fill="#0ec492" stroke="#0ec492" stroke-width=".8"/>
<polygon points="1184.4,216.6 1173.6,209.5 1184.3,206.6 1195.1,213.7" fill="#0ec584" stroke="#0ec584" stroke-width=".8"/>
<polygon points="1141.1,207.4 1130.3,200.1 1141.1,197.7 1151.9,204.9" fill="#0ec75d" stroke="#0ec75d" stroke-width=".8"/>
<polygon points="1075.9,191.1 1064.9,183.5 1075.8,181.7 1086.8,189.3" fill="#0eca16" stroke="#0eca16" stroke-width=".8"/>
<polygon points="1032.1,178.8 1021.1,171 1032,169.5 1043,177.4" fill="#48cb0e" stroke="#48cb0e" stroke-width=".8"/>
<polygon points="1010.1,172.4 999,164.4 1010,163.1 1021.1,171" fill="#6ccc0e" stroke="#6ccc0e" stroke-width=".8"/>
<polygon points="966,158.8 954.8,150.7 965.7,149.5 976.9,157.6" fill="#accc0e" stroke="#accc0e" stroke-width=".8"/>
<polygon points="1484,239.9 1473.6,233.7 1484.5,226.6 1495,232.8" fill="#0d86b6" stroke="#0d86b6" stroke-width=".8"/>
<polygon points="1441.3,240.8 1430.8,234.6 1441.7,228.1 1452.2,234.3" fill="#0d88b8" stroke="#0d88b8" stroke-width=".8"/>
<polygon points="1419.9,240.8 1409.4,234.6 1420.3,228.3 1430.8,234.6" fill="#0d8bb9" stroke="#0d8bb9" stroke-width=".8"/>
<polygon points="1377.2,239.8 1366.6,233.4 1377.5,227.8 1388,234.2" fill="#0d98bb" stroke="#0d98bb" stroke-width=".8"/>
<polygon points="1355.8,238.7 1345.3,232.3 1356.1,227 1366.6,233.4" fill="#0da1bc" stroke="#0da1bc" stroke-width=".8"/>
<polygon points="1313.1,235.5 1302.5,228.9 1313.3,224.3 1323.9,230.8" fill="#0db8be" stroke="#0db8be" stroke-width=".8"/>
<polygon points="1270.3,230.7 1259.6,224 1270.4,219.9 1281.1,226.6" fill="#0dc0b4" stroke="#0dc0b4" stroke-width=".8"/>
<polygon points="1248.9,227.7 1238.2,220.9 1248.9,217.2 1259.6,224" fill="#0ec1aa" stroke="#0ec1aa" stroke-width=".8"/>
<polygon points="1227.4,224.4 1216.7,217.5 1227.4,214 1238.2,220.9" fill="#0ec39f" stroke="#0ec39f" stroke-width=".8"/>
<polygon points="1162.8,212.2 1151.9,204.9 1162.7,202.3 1173.6,209.5" fill="#0ec672" stroke="#0ec672" stroke-width=".8"/>
<polygon points="1119.5,202.3 1108.6,194.8 1119.4,192.7 1130.3,200.1" fill="#0ec847" stroke="#0ec847" stroke-width=".8"/>
<polygon points="1097.7,196.8 1086.8,189.3 1097.6,187.3 1108.6,194.8" fill="#0ec930" stroke="#0ec930" stroke-width=".8"/>
<polygon points="1054.1,185.1 1043,177.4 1053.9,175.8 1064.9,183.5" fill="#25cb0e" stroke="#25cb0e" stroke-width=".8"/>
<polygon points="988.1,165.7 976.9,157.6 987.9,156.4 999,164.4" fill="#90cc0e" stroke="#90cc0e" stroke-width=".8"/>
<polygon points="1494.5,246.1 1484,239.9 1495,232.8 1505.4,239" fill="#0d6fb6" stroke="#0d6fb6" stroke-width=".8"/>
<polygon points="1473.1,246.7 1462.6,240.5 1473.6,233.7 1484,239.9" fill="#0d70b7" stroke="#0d70b7" stroke-width=".8"/>
<polygon points="1451.8,247 1441.3,240.8 1452.2,234.3 1462.6,240.5" fill="#0d72b8" stroke="#0d72b8" stroke-width=".8"/>
<polygon points="1430.4,247.1 1419.9,240.8 1430.8,234.6 1441.3,240.8" fill="#0d75b9" stroke="#0d75b9" stroke-width=".8"/>
<polygon points="1409.1,246.7 1398.6,240.5 1409.4,234.6 1419.9,240.8" fill="#0d7aba" stroke="#0d7aba" stroke-width=".8"/>
<polygon points="1387.8,246.1 1377.2,239.8 1388,234.2 1398.6,240.5" fill="#0d81bb" stroke="#0d81bb" stroke-width=".8"/>
<polygon points="1366.4,245.1 1355.8,238.7 1366.6,233.4 1377.2,239.8" fill="#0d8abc" stroke="#0d8abc" stroke-width=".8"/>
<polygon points="1345.1,243.7 1334.5,237.3 1345.3,232.3 1355.8,238.7" fill="#0d94bd" stroke="#0d94bd" stroke-width=".8"/>
<polygon points="1323.7,242 1313.1,235.5 1323.9,230.8 1334.5,237.3" fill="#0da1be" stroke="#0da1be" stroke-width=".8"/>
<polygon points="1302.4,239.9 1291.7,233.3 1302.5,228.9 1313.1,235.5" fill="#0db0bf" stroke="#0db0bf" stroke-width=".8"/>
<polygon points="1281,237.4 1270.3,230.7 1281.1,226.6 1291.7,233.3" fill="#0dbec0" stroke="#0dbec0" stroke-width=".8"/>
<polygon points="1238.1,231.3 1227.4,224.4 1238.2,220.9 1248.9,227.7" fill="#0ec3ae" stroke="#0ec3ae" stroke-width=".8"/>
<polygon points="1216.6,227.6 1205.9,220.7 1216.7,217.5 1227.4,224.4" fill="#0ec4a2" stroke="#0ec4a2" stroke-width=".8"/>
<polygon points="1195.1,223.7 1184.4,216.6 1195.1,213.7 1205.9,220.7" fill="#0ec594" stroke="#0ec594" stroke-width=".8"/>
<polygon points="1173.6,219.3 1162.8,212.2 1173.6,209.5 1184.4,216.6" fill="#0ec686" stroke="#0ec686" stroke-width=".8"/>
<polygon points="1152,214.6 1141.1,207.4 1151.9,204.9 1162.8,212.2" fill="#0ec772" stroke="#0ec772" stroke-width=".8"/>
<polygon points="1130.3,209.6 1119.5,202.3 1130.3,200.1 1141.1,207.4" fill="#0ec85d" stroke="#0ec85d" stroke-width=".8"/>
<polygon points="1086.9,198.7 1075.9,191.1 1086.8,189.3 1097.7,196.8" fill="#0eca2d" stroke="#0eca2d" stroke-width=".8"/>
<polygon points="1065.1,192.8 1054.1,185.1 1064.9,183.5 1075.9,191.1" fill="#0ecb13" stroke="#0ecb13" stroke-width=".8"/>
<polygon points="1021.2,180.2 1010.1,172.4 1021.1,171 1032.1,178.8" fill="#4ecc0e" stroke="#4ecc0e" stroke-width=".8"/>
<polygon points="999.2,173.6 988.1,165.7 999,164.4 1010.1,172.4" fill="#72cc0e" stroke="#72cc0e" stroke-width=".8"/>
<polygon points="977.1,166.8 966,158.8 976.9,157.6 988.1,165.7" fill="#95cd0e" stroke="#95cd0e" stroke-width=".8"/>
<polygon points="955,159.9 943.8,151.8 954.8,150.7 966,158.8" fill="#b1cc0e" stroke="#b1cc0e" stroke-width=".8"/>
<polygon points="1259.6,234.5 1248.9,227.7 1259.6,224 1270.3,230.7" fill="#0ec1b9" stroke="#0ec1b9" stroke-width=".8"/>
<polygon points="1108.6,204.3 1097.7,196.8 1108.6,194.8 1119.5,202.3" fill="#0ec946" stroke="#0ec946" stroke-width=".8"/>
<polygon points="1043.2,186.6 1032.1,178.8 1043,177.4 1054.1,185.1" fill="#2acc0e" stroke="#2acc0e" stroke-width=".8"/>
<polygon points="1419.6,253 1409.1,246.7 1419.9,240.8 1430.4,247.1" fill="#0d64ba" stroke="#0d64ba" stroke-width=".8"/>
<polygon points="1483.6,252.9 1473.1,246.7 1484,239.9 1494.5,246.1" fill="#0d5ab7" stroke="#0d5ab7" stroke-width=".8"/>
<polygon points="1462.2,253.2 1451.8,247 1462.6,240.5 1473.1,246.7" fill="#0d5cb8" stroke="#0d5cb8" stroke-width=".8"/>
<polygon points="1440.9,253.3 1430.4,247.1 1441.3,240.8 1451.8,247" fill="#0d5fb9" stroke="#0d5fb9" stroke-width=".8"/>
<polygon points="1398.3,252.4 1387.8,246.1 1398.6,240.5 1409.1,246.7" fill="#0d6bbb" stroke="#0d6bbb" stroke-width=".8"/>
<polygon points="1334.3,248.4 1323.7,242 1334.5,237.3 1345.1,243.7" fill="#0d8abe" stroke="#0d8abe" stroke-width=".8"/>
<polygon points="1291.6,244 1281,237.4 1291.7,233.3 1302.4,239.9" fill="#0da9c0" stroke="#0da9c0" stroke-width=".8"/>
<polygon points="1270.2,241.2 1259.6,234.5 1270.3,230.7 1281,237.4" fill="#0ebcc2" stroke="#0ebcc2" stroke-width=".8"/>
<polygon points="1227.4,234.5 1216.6,227.6 1227.4,224.4 1238.1,231.3" fill="#0ec4b1" stroke="#0ec4b1" stroke-width=".8"/>
<polygon points="1184.4,226.4 1173.6,219.3 1184.4,216.6 1195.1,223.7" fill="#0ec696" stroke="#0ec696" stroke-width=".8"/>
<polygon points="1119.5,211.7 1108.6,204.3 1119.5,202.3 1130.3,209.6" fill="#0eca5b" stroke="#0eca5b" stroke-width=".8"/>
<polygon points="1076,200.3 1065.1,192.8 1075.9,191.1 1086.9,198.7" fill="#0ecb2a" stroke="#0ecb2a" stroke-width=".8"/>
<polygon points="1054.2,194.3 1043.2,186.6 1054.1,185.1 1065.1,192.8" fill="#0ecc0f" stroke="#0ecc0f" stroke-width=".8"/>
<polygon points="1010.3,181.5 999.2,173.6 1010.1,172.4 1021.2,180.2" fill="#54cd0e" stroke="#54cd0e" stroke-width=".8"/>
<polygon points="988.3,174.8 977.1,166.8 988.1,165.7 999.2,173.6" fill="#79cd0e" stroke="#79cd0e" stroke-width=".8"/>
<polygon points="966.2,168 955,159.9 966,158.8 977.1,166.8" fill="#9acd0e" stroke="#9acd0e" stroke-width=".8"/>
<polygon points="1377,251.4 1366.4,245.1 1377.2,239.8 1387.8,246.1" fill="#0d73bc" stroke="#0d73bc" stroke-width=".8"/>
<polygon points="1355.6,250.1 1345.1,243.7 1355.8,238.7 1366.4,245.1" fill="#0d7ebd" stroke="#0d7ebd" stroke-width=".8"/>
<polygon points="1313,246.4 1302.4,239.9 1313.1,235.5 1323.7,242" fill="#0d98bf" stroke="#0d98bf" stroke-width=".8"/>
<polygon points="1248.8,238 1238.1,231.3 1248.9,227.7 1259.6,234.5" fill="#0ec3bd" stroke="#0ec3bd" stroke-width=".8"/>
<polygon points="1205.9,230.6 1195.1,223.7 1205.9,220.7 1216.6,227.6" fill="#0ec5a4" stroke="#0ec5a4" stroke-width=".8"/>
<polygon points="1162.8,221.8 1152,214.6 1162.8,212.2 1173.6,219.3" fill="#0ec886" stroke="#0ec886" stroke-width=".8"/>
<polygon points="1141.2,216.9 1130.3,209.6 1141.1,207.4 1152,214.6" fill="#0ec972" stroke="#0ec972" stroke-width=".8"/>
<polygon points="1097.8,206.1 1086.9,198.7 1097.7,196.8 1108.6,204.3" fill="#0ecb43" stroke="#0ecb43" stroke-width=".8"/>
<polygon points="1032.3,188 1021.2,180.2 1032.1,178.8 1043.2,186.6" fill="#30cd0e" stroke="#30cd0e" stroke-width=".8"/>
<polygon points="1472.7,259.4 1462.2,253.2 1473.1,246.7 1483.6,252.9" fill="#0d46b8" stroke="#0d46b8" stroke-width=".8"/>
<polygon points="1451.4,259.5 1440.9,253.3 1451.8,247 1462.2,253.2" fill="#0d49b9" stroke="#0d49b9" stroke-width=".8"/>
<polygon points="1430.1,259.2 1419.6,253 1430.4,247.1 1440.9,253.3" fill="#0d4eba" stroke="#0d4eba" stroke-width=".8"/>
<polygon points="1408.8,258.6 1398.3,252.4 1409.1,246.7 1419.6,253" fill="#0d55bb" stroke="#0d55bb" stroke-width=".8"/>
<polygon points="1387.5,257.7 1377,251.4 1387.8,246.1 1398.3,252.4" fill="#0d5dbc" stroke="#0d5dbc" stroke-width=".8"/>
<polygon points="1366.2,256.5 1355.6,250.1 1366.4,245.1 1377,251.4" fill="#0d67bd" stroke="#0d67bd" stroke-width=".8"/>
<polygon points="1323.6,252.9 1313,246.4 1323.7,242 1334.3,248.4" fill="#0d81bf" stroke="#0d81bf" stroke-width=".8"/>
<polygon points="1302.2,250.6 1291.6,244 1302.4,239.9 1313,246.4" fill="#0d91c0" stroke="#0d91c0" stroke-width=".8"/>
<polygon points="1259.5,244.8 1248.8,238 1259.6,234.5 1270.2,241.2" fill="#0eb8c3" stroke="#0eb8c3" stroke-width=".8"/>
<polygon points="1238.1,241.4 1227.4,234.5 1238.1,231.3 1248.8,238" fill="#0ec4c1" stroke="#0ec4c1" stroke-width=".8"/>
<polygon points="1216.6,237.6 1205.9,230.6 1216.6,227.6 1227.4,234.5" fill="#0ec5b4" stroke="#0ec5b4" stroke-width=".8"/>
<polygon points="1173.6,228.9 1162.8,221.8 1173.6,219.3 1184.4,226.4" fill="#0ec897" stroke="#0ec897" stroke-width=".8"/>
<polygon points="1152,224.1 1141.2,216.9 1152,214.6 1162.8,221.8" fill="#0ec986" stroke="#0ec986" stroke-width=".8"/>
<polygon points="1108.7,213.5 1097.8,206.1 1108.6,204.3 1119.5,211.7" fill="#0ecb59" stroke="#0ecb59" stroke-width=".8"/>
<polygon points="1043.3,195.7 1032.3,188 1043.2,186.6 1054.2,194.3" fill="#13cd0e" stroke="#13cd0e" stroke-width=".8"/>
<polygon points="999.4,182.6 988.3,174.8 999.2,173.6 1010.3,181.5" fill="#5bce0e" stroke="#5bce0e" stroke-width=".8"/>
<polygon points="977.3,175.9 966.2,168 977.1,166.8 988.3,174.8" fill="#80ce0e" stroke="#80ce0e" stroke-width=".8"/>
<polygon points="1344.9,254.9 1334.3,248.4 1345.1,243.7 1355.6,250.1" fill="#0d73be" stroke="#0d73be" stroke-width=".8"/>
<polygon points="1280.9,247.9 1270.2,241.2 1281,237.4 1291.6,244" fill="#0ea3c2" stroke="#0ea3c2" stroke-width=".8"/>
<polygon points="1195.1,233.4 1184.4,226.4 1195.1,223.7 1205.9,230.6" fill="#0ec7a6" stroke="#0ec7a6" stroke-width=".8"/>
<polygon points="1130.4,219 1119.5,211.7 1130.3,209.6 1141.2,216.9" fill="#0eca71" stroke="#0eca71" stroke-width=".8"/>
<polygon points="1087,207.8 1076,200.3 1086.9,198.7 1097.8,206.1" fill="#0ecc40" stroke="#0ecc40" stroke-width=".8"/>
<polygon points="1065.2,201.9 1054.2,194.3 1065.1,192.8 1076,200.3" fill="#0ecc26" stroke="#0ecc26" stroke-width=".8"/>
<polygon points="1021.4,189.2 1010.3,181.5 1021.2,180.2 1032.3,188" fill="#36cd0e" stroke="#36cd0e" stroke-width=".8"/>
<polygon points="1355.5,261.3 1344.9,254.9 1355.6,250.1 1366.2,256.5" fill="#0d5dbe" stroke="#0d5dbe" stroke-width=".8"/>
<polygon points="1205.9,240.4 1195.1,233.4 1205.9,230.6 1216.6,237.6" fill="#0ec7b6" stroke="#0ec7b6" stroke-width=".8"/>
<polygon points="1097.9,215.3 1087,207.8 1097.8,206.1 1108.7,213.5" fill="#0ecc56" stroke="#0ecc56" stroke-width=".8"/>
<polygon points="1032.4,196.9 1021.4,189.2 1032.3,188 1043.3,195.7" fill="#19ce0e" stroke="#19ce0e" stroke-width=".8"/>
<polygon points="988.4,183.8 977.3,175.9 988.3,174.8 999.4,182.6" fill="#62ce0e" stroke="#62ce0e" stroke-width=".8"/>
<polygon points="1461.9,265.7 1451.4,259.5 1462.2,253.2 1472.7,259.4" fill="#0d34b9" stroke="#0d34b9" stroke-width=".8"/>
<polygon points="1440.6,265.4 1430.1,259.2 1440.9,253.3 1451.4,259.5" fill="#0d39ba" stroke="#0d39ba" stroke-width=".8"/>
<polygon points="1419.3,264.9 1408.8,258.6 1419.6,253 1430.1,259.2" fill="#0d3fbb" stroke="#0d3fbb" stroke-width=".8"/>
<polygon points="1398,264 1387.5,257.7 1398.3,252.4 1408.8,258.6" fill="#0d47bc" stroke="#0d47bc" stroke-width=".8"/>
<polygon points="1376.7,262.8 1366.2,256.5 1377,251.4 1387.5,257.7" fill="#0d51bd" stroke="#0d51bd" stroke-width=".8"/>
<polygon points="1334.2,259.4 1323.6,252.9 1334.3,248.4 1344.9,254.9" fill="#0d6abf" stroke="#0d6abf" stroke-width=".8"/>
<polygon points="1312.8,257.1 1302.2,250.6 1313,246.4 1323.6,252.9" fill="#0d7ac1" stroke="#0d7ac1" stroke-width=".8"/>
<polygon points="1291.5,254.5 1280.9,247.9 1291.6,244 1302.2,250.6" fill="#0e8cc2" stroke="#0e8cc2" stroke-width=".8"/>
<polygon points="1270.2,251.5 1259.5,244.8 1270.2,241.2 1280.9,247.9" fill="#0e9fc3" stroke="#0e9fc3" stroke-width=".8"/>
<polygon points="1248.8,248.1 1238.1,241.4 1248.8,238 1259.5,244.8" fill="#0eb5c4" stroke="#0eb5c4" stroke-width=".8"/>
<polygon points="1227.3,244.4 1216.6,237.6 1227.4,234.5 1238.1,241.4" fill="#0ec5c3" stroke="#0ec5c3" stroke-width=".8"/>
<polygon points="1184.4,236 1173.6,228.9 1184.4,226.4 1195.1,233.4" fill="#0ec8a7" stroke="#0ec8a7" stroke-width=".8"/>
<polygon points="1162.8,231.3 1152,224.1 1162.8,221.8 1173.6,228.9" fill="#0ec997" stroke="#0ec997" stroke-width=".8"/>
<polygon points="1141.2,226.2 1130.4,219 1141.2,216.9 1152,224.1" fill="#0eca85" stroke="#0eca85" stroke-width=".8"/>
<polygon points="1119.6,220.9 1108.7,213.5 1119.5,211.7 1130.4,219" fill="#0ecb6e" stroke="#0ecb6e" stroke-width=".8"/>
<polygon points="1054.3,203.3 1043.3,195.7 1054.2,194.3 1065.2,201.9" fill="#0ecd22" stroke="#0ecd22" stroke-width=".8"/>
<polygon points="1010.5,190.4 999.4,182.6 1010.3,181.5 1021.4,189.2" fill="#3dce0e" stroke="#3dce0e" stroke-width=".8"/>
<polygon points="1076.1,209.4 1065.2,201.9 1076,200.3 1087,207.8" fill="#0ecd3c" stroke="#0ecd3c" stroke-width=".8"/>
<polygon points="1429.8,271.1 1419.3,264.9 1430.1,259.2 1440.6,265.4" fill="#0d2abb" stroke="#0d2abb" stroke-width=".8"/>
<polygon points="1344.7,265.8 1334.2,259.4 1344.9,254.9 1355.5,261.3" fill="#0d54bf" stroke="#0d54bf" stroke-width=".8"/>
<polygon points="1259.4,254.8 1248.8,248.1 1259.5,244.8 1270.2,251.5" fill="#0e9dc4" stroke="#0e9dc4" stroke-width=".8"/>
<polygon points="1238,251.2 1227.3,244.4 1238.1,241.4 1248.8,248.1" fill="#0eb5c6" stroke="#0eb5c6" stroke-width=".8"/>
<polygon points="1021.5,198.1 1010.5,190.4 1021.4,189.2 1032.4,196.9" fill="#20cf0e" stroke="#20cf0e" stroke-width=".8"/>
<polygon points="1451,271.6 1440.6,265.4 1451.4,259.5 1461.9,265.7" fill="#0d23ba" stroke="#0d23ba" stroke-width=".8"/>
<polygon points="1408.5,270.3 1398,264 1408.8,258.6 1419.3,264.9" fill="#0d31bc" stroke="#0d31bc" stroke-width=".8"/>
<polygon points="1387.3,269.1 1376.7,262.8 1387.5,257.7 1398,264" fill="#0d3bbd" stroke="#0d3bbd" stroke-width=".8"/>
<polygon points="1366,267.6 1355.5,261.3 1366.2,256.5 1376.7,262.8" fill="#0d46be" stroke="#0d46be" stroke-width=".8"/>
<polygon points="1323.4,263.6 1312.8,257.1 1323.6,252.9 1334.2,259.4" fill="#0d63c1" stroke="#0d63c1" stroke-width=".8"/>
<polygon points="1302.1,261 1291.5,254.5 1302.2,250.6 1312.8,257.1" fill="#0e74c2" stroke="#0e74c2" stroke-width=".8"/>
<polygon points="1216.6,247.3 1205.9,240.4 1216.6,237.6 1227.3,244.4" fill="#0ec7c5" stroke="#0ec7c5" stroke-width=".8"/>
<polygon points="1195.1,243 1184.4,236 1195.1,233.4 1205.9,240.4" fill="#0ec8b7" stroke="#0ec8b7" stroke-width=".8"/>
<polygon points="1152.1,233.4 1141.2,226.2 1152,224.1 1162.8,231.3" fill="#0eca96" stroke="#0eca96" stroke-width=".8"/>
<polygon points="1130.4,228.1 1119.6,220.9 1130.4,219 1141.2,226.2" fill="#0ecb83" stroke="#0ecb83" stroke-width=".8"/>
<polygon points="1108.8,222.6 1097.9,215.3 1108.7,213.5 1119.6,220.9" fill="#0ecc6b" stroke="#0ecc6b" stroke-width=".8"/>
<polygon points="1087,216.8 1076.1,209.4 1087,207.8 1097.9,215.3" fill="#0ecd52" stroke="#0ecd52" stroke-width=".8"/>
<polygon points="1043.4,204.6 1032.4,196.9 1043.3,195.7 1054.3,203.3" fill="#0ece1c" stroke="#0ece1c" stroke-width=".8"/>
<polygon points="999.5,191.5 988.4,183.8 999.4,182.6 1010.5,190.4" fill="#45cf0e" stroke="#45cf0e" stroke-width=".8"/>
<polygon points="1280.8,258.1 1270.2,251.5 1280.9,247.9 1291.5,254.5" fill="#0e88c3" stroke="#0e88c3" stroke-width=".8"/>
<polygon points="1173.6,238.3 1162.8,231.3 1173.6,228.9 1184.4,236" fill="#0ec9a7" stroke="#0ec9a7" stroke-width=".8"/>
<polygon points="1065.3,210.8 1054.3,203.3 1065.2,201.9 1076.1,209.4" fill="#0ece38" stroke="#0ece38" stroke-width=".8"/>
<polygon points="1010.6,199.2 999.5,191.5 1010.5,190.4 1021.5,198.1" fill="#28cf0f" stroke="#28cf0f" stroke-width=".8"/>
<polygon points="1440.3,277.3 1429.8,271.1 1440.6,265.4 1451,271.6" fill="#0d14bb" stroke="#0d14bb" stroke-width=".8"/>
<polygon points="1419,276.5 1408.5,270.3 1419.3,264.9 1429.8,271.1" fill="#0d1cbc" stroke="#0d1cbc" stroke-width=".8"/>
<polygon points="1397.8,275.4 1387.3,269.1 1398,264 1408.5,270.3" fill="#0d26bd" stroke="#0d26bd" stroke-width=".8"/>
<polygon points="1376.5,273.9 1366,267.6 1376.7,262.8 1387.3,269.1" fill="#0d31be" stroke="#0d31be" stroke-width=".8"/>
<polygon points="1355.3,272.1 1344.7,265.8 1355.5,261.3 1366,267.6" fill="#0d3ebf" stroke="#0d3ebf" stroke-width=".8"/>
<polygon points="1334,270 1323.4,263.6 1334.2,259.4 1344.7,265.8" fill="#0d4dc1" stroke="#0d4dc1" stroke-width=".8"/>
<polygon points="1291.4,264.7 1280.8,258.1 1291.5,254.5 1302.1,261" fill="#0e70c3" stroke="#0e70c3" stroke-width=".8"/>
<polygon points="1270.1,261.5 1259.4,254.8 1270.2,251.5 1280.8,258.1" fill="#0e85c4" stroke="#0e85c4" stroke-width=".8"/>
<polygon points="1248.7,258 1238,251.2 1248.8,248.1 1259.4,254.8" fill="#0e9cc6" stroke="#0e9cc6" stroke-width=".8"/>
<polygon points="1227.3,254.1 1216.6,247.3 1227.3,244.4 1238,251.2" fill="#0eb5c7" stroke="#0eb5c7" stroke-width=".8"/>
<polygon points="1205.9,249.9 1195.1,243 1205.9,240.4 1216.6,247.3" fill="#0ec8c6" stroke="#0ec8c6" stroke-width=".8"/>
<polygon points="1184.4,245.3 1173.6,238.3 1184.4,236 1195.1,243" fill="#0ecab7" stroke="#0ecab7" stroke-width=".8"/>
<polygon points="1141.3,235.3 1130.4,228.1 1141.2,226.2 1152.1,233.4" fill="#0ecc94" stroke="#0ecc94" stroke-width=".8"/>
<polygon points="1119.6,229.9 1108.8,222.6 1119.6,220.9 1130.4,228.1" fill="#0ecd80" stroke="#0ecd80" stroke-width=".8"/>
<polygon points="1076.2,218.3 1065.3,210.8 1076.1,209.4 1087,216.8" fill="#0ece4e" stroke="#0ece4e" stroke-width=".8"/>
<polygon points="1032.5,205.7 1021.5,198.1 1032.4,196.9 1043.4,204.6" fill="#0fcf17" stroke="#0fcf17" stroke-width=".8"/>
<polygon points="1312.7,267.5 1302.1,261 1312.8,257.1 1323.4,263.6" fill="#0e5dc2" stroke="#0e5dc2" stroke-width=".8"/>
<polygon points="1162.8,240.5 1152.1,233.4 1162.8,231.3 1173.6,238.3" fill="#0ecba6" stroke="#0ecba6" stroke-width=".8"/>
<polygon points="1097.9,224.2 1087,216.8 1097.9,215.3 1108.8,222.6" fill="#0ece68" stroke="#0ece68" stroke-width=".8"/>
<polygon points="1054.4,212.1 1043.4,204.6 1054.3,203.3 1065.3,210.8" fill="#0ecf33" stroke="#0ecf33" stroke-width=".8"/>
<polygon points="1365.8,278.5 1355.3,272.1 1366,267.6 1376.5,273.9" fill="#0d28c0" stroke="#0d28c0" stroke-width=".8"/>
<polygon points="1238,260.9 1227.3,254.1 1238,251.2 1248.7,258" fill="#0e9dc7" stroke="#0e9dc7" stroke-width=".8"/>
<polygon points="1173.6,247.5 1162.8,240.5 1173.6,238.3 1184.4,245.3" fill="#0ecbb6" stroke="#0ecbb6" stroke-width=".8"/>
<polygon points="1130.5,237.1 1119.6,229.9 1130.4,228.1 1141.3,235.3" fill="#0ecd92" stroke="#0ecd92" stroke-width=".8"/>
<polygon points="1108.8,231.5 1097.9,224.2 1108.8,222.6 1119.6,229.9" fill="#0ece7c" stroke="#0ece7c" stroke-width=".8"/>
<polygon points="1065.3,219.6 1054.4,212.1 1065.3,210.8 1076.2,218.3" fill="#0fcf48" stroke="#0fcf48" stroke-width=".8"/>
<polygon points="1021.6,206.8 1010.6,199.2 1021.5,198.1 1032.5,205.7" fill="#0fd011" stroke="#0fd011" stroke-width=".8"/>
<polygon points="1429.5,282.7 1419,276.5 1429.8,271.1 1440.3,277.3" fill="#0d0dbc" stroke="#0d0dbc" stroke-width=".8"/>
<polygon points="1408.3,281.6 1397.8,275.4 1408.5,270.3 1419,276.5" fill="#0d10bd" stroke="#0d10bd" stroke-width=".8"/>
<polygon points="1387.1,280.2 1376.5,273.9 1387.3,269.1 1397.8,275.4" fill="#0d1bbe" stroke="#0d1bbe" stroke-width=".8"/>
<polygon points="1344.6,276.4 1334,270 1344.7,265.8 1355.3,272.1" fill="#0d37c1" stroke="#0d37c1" stroke-width=".8"/>
<polygon points="1323.3,274 1312.7,267.5 1323.4,263.6 1334,270" fill="#0e47c2" stroke="#0e47c2" stroke-width=".8"/>
<polygon points="1302,271.2 1291.4,264.7 1302.1,261 1312.7,267.5" fill="#0e59c3" stroke="#0e59c3" stroke-width=".8"/>
<polygon points="1280.7,268.1 1270.1,261.5 1280.8,258.1 1291.4,264.7" fill="#0e6ec5" stroke="#0e6ec5" stroke-width=".8"/>
<polygon points="1259.4,264.7 1248.7,258 1259.4,254.8 1270.1,261.5" fill="#0e84c6" stroke="#0e84c6" stroke-width=".8"/>
<polygon points="1216.6,256.7 1205.9,249.9 1216.6,247.3 1227.3,254.1" fill="#0eb8c9" stroke="#0eb8c9" stroke-width=".8"/>
<polygon points="1195.1,252.3 1184.4,245.3 1195.1,243 1205.9,249.9" fill="#0ecac6" stroke="#0ecac6" stroke-width=".8"/>
<polygon points="1152.1,242.4 1141.3,235.3 1152.1,233.4 1162.8,240.5" fill="#0ecca5" stroke="#0ecca5" stroke-width=".8"/>
<polygon points="1087.1,225.6 1076.2,218.3 1087,216.8 1097.9,224.2" fill="#0ecf63" stroke="#0ecf63" stroke-width=".8"/>
<polygon points="1043.5,213.3 1032.5,205.7 1043.4,204.6 1054.4,212.1" fill="#0fd02d" stroke="#0fd02d" stroke-width=".8"/>
<polygon points="1397.6,286.5 1387.1,280.2 1397.8,275.4 1408.3,281.6" fill="#0d0dbe" stroke="#0d0dbe" stroke-width=".8"/>
<polygon points="1376.3,284.8 1365.8,278.5 1376.5,273.9 1387.1,280.2" fill="#0d13c0" stroke="#0d13c0" stroke-width=".8"/>
<polygon points="1355.1,282.8 1344.6,276.4 1355.3,272.1 1365.8,278.5" fill="#0d21c1" stroke="#0d21c1" stroke-width=".8"/>
<polygon points="1312.6,277.7 1302,271.2 1312.7,267.5 1323.3,274" fill="#0e43c3" stroke="#0e43c3" stroke-width=".8"/>
<polygon points="1291.3,274.7 1280.7,268.1 1291.4,264.7 1302,271.2" fill="#0e57c5" stroke="#0e57c5" stroke-width=".8"/>
<polygon points="1270,271.3 1259.4,264.7 1270.1,261.5 1280.7,268.1" fill="#0e6dc6" stroke="#0e6dc6" stroke-width=".8"/>
<polygon points="1248.7,267.6 1238,260.9 1248.7,258 1259.4,264.7" fill="#0e85c7" stroke="#0e85c7" stroke-width=".8"/>
<polygon points="1227.3,263.5 1216.6,256.7 1227.3,254.1 1238,260.9" fill="#0e9fc9" stroke="#0e9fc9" stroke-width=".8"/>
<polygon points="1205.9,259.2 1195.1,252.3 1205.9,249.9 1216.6,256.7" fill="#0ebbca" stroke="#0ebbca" stroke-width=".8"/>
<polygon points="1098,232.9 1087.1,225.6 1097.9,224.2 1108.8,231.5" fill="#0fcf78" stroke="#0fcf78" stroke-width=".8"/>
<polygon points="1054.5,220.7 1043.5,213.3 1054.4,212.1 1065.3,219.6" fill="#0fd043" stroke="#0fd043" stroke-width=".8"/>
<polygon points="1418.8,287.9 1408.3,281.6 1419,276.5 1429.5,282.7" fill="#0d0dbd" stroke="#0d0dbd" stroke-width=".8"/>
<polygon points="1333.9,280.4 1323.3,274 1334,270 1344.6,276.4" fill="#0e31c2" stroke="#0e31c2" stroke-width=".8"/>
<polygon points="1184.4,254.5 1173.6,247.5 1184.4,245.3 1195.1,252.3" fill="#0ecbc6" stroke="#0ecbc6" stroke-width=".8"/>
<polygon points="1162.9,249.5 1152.1,242.4 1162.8,240.5 1173.6,247.5" fill="#0eccb5" stroke="#0eccb5" stroke-width=".8"/>
<polygon points="1141.3,244.2 1130.5,237.1 1141.3,235.3 1152.1,242.4" fill="#0ecea2" stroke="#0ecea2" stroke-width=".8"/>
<polygon points="1119.7,238.7 1108.8,231.5 1119.6,229.9 1130.5,237.1" fill="#0ece8f" stroke="#0ece8f" stroke-width=".8"/>
<polygon points="1076.3,226.9 1065.3,219.6 1076.2,218.3 1087.1,225.6" fill="#0fd05e" stroke="#0fd05e" stroke-width=".8"/>
<polygon points="1032.6,214.4 1021.6,206.8 1032.5,205.7 1043.5,213.3" fill="#0fd127" stroke="#0fd127" stroke-width=".8"/>
<polygon points="1152.1,251.3 1141.3,244.2 1152.1,242.4 1162.9,249.5" fill="#0eceb2" stroke="#0eceb2" stroke-width=".8"/>
<polygon points="1043.6,221.8 1032.6,214.4 1043.5,213.3 1054.5,220.7" fill="#0fd13c" stroke="#0fd13c" stroke-width=".8"/>
<polygon points="1408,292.7 1397.6,286.5 1408.3,281.6 1418.8,287.9" fill="#0d0dbe" stroke="#0d0dbe" stroke-width=".8"/>
<polygon points="1386.9,291.1 1376.3,284.8 1387.1,280.2 1397.6,286.5" fill="#0d0dc0" stroke="#0d0dc0" stroke-width=".8"/>
<polygon points="1365.7,289.1 1355.1,282.8 1365.8,278.5 1376.3,284.8" fill="#0e0ec1" stroke="#0e0ec1" stroke-width=".8"/>
<polygon points="1344.4,286.8 1333.9,280.4 1344.6,276.4 1355.1,282.8" fill="#0e1bc2" stroke="#0e1bc2" stroke-width=".8"/>
<polygon points="1323.2,284.2 1312.6,277.7 1323.3,274 1333.9,280.4" fill="#0e2dc3" stroke="#0e2dc3" stroke-width=".8"/>
<polygon points="1301.9,281.2 1291.3,274.7 1302,271.2 1312.6,277.7" fill="#0e40c5" stroke="#0e40c5" stroke-width=".8"/>
<polygon points="1280.6,277.9 1270,271.3 1280.7,268.1 1291.3,274.7" fill="#0e56c6" stroke="#0e56c6" stroke-width=".8"/>
<polygon points="1259.3,274.2 1248.7,267.6 1259.4,264.7 1270,271.3" fill="#0e6ec8" stroke="#0e6ec8" stroke-width=".8"/>
<polygon points="1238,270.3 1227.3,263.5 1238,260.9 1248.7,267.6" fill="#0e87c9" stroke="#0e87c9" stroke-width=".8"/>
<polygon points="1216.6,266 1205.9,259.2 1216.6,256.7 1227.3,263.5" fill="#0ea3ca" stroke="#0ea3ca" stroke-width=".8"/>
<polygon points="1195.1,261.4 1184.4,254.5 1195.1,252.3 1205.9,259.2" fill="#0ec0cb" stroke="#0ec0cb" stroke-width=".8"/>
<polygon points="1173.6,256.5 1162.9,249.5 1173.6,247.5 1184.4,254.5" fill="#0ecdc4" stroke="#0ecdc4" stroke-width=".8"/>
<polygon points="1108.9,240.2 1098,232.9 1108.8,231.5 1119.7,238.7" fill="#0fd08c" stroke="#0fd08c" stroke-width=".8"/>
<polygon points="1087.2,234.2 1076.3,226.9 1087.1,225.6 1098,232.9" fill="#0fd173" stroke="#0fd173" stroke-width=".8"/>
<polygon points="1065.4,228.1 1054.5,220.7 1065.3,219.6 1076.3,226.9" fill="#0fd158" stroke="#0fd158" stroke-width=".8"/>
<polygon points="1130.5,245.9 1119.7,238.7 1130.5,237.1 1141.3,244.2" fill="#0ecfa0" stroke="#0ecfa0" stroke-width=".8"/>
<polygon points="1291.2,284.4 1280.6,277.9 1291.3,274.7 1301.9,281.2" fill="#0e40c6" stroke="#0e40c6" stroke-width=".8"/>
<polygon points="1397.4,297.4 1386.9,291.1 1397.6,286.5 1408,292.7" fill="#0d0dc0" stroke="#0d0dc0" stroke-width=".8"/>
<polygon points="1376.2,295.4 1365.7,289.1 1376.3,284.8 1386.9,291.1" fill="#0e0ec1" stroke="#0e0ec1" stroke-width=".8"/>
<polygon points="1333.8,290.6 1323.2,284.2 1333.9,280.4 1344.4,286.8" fill="#0e17c4" stroke="#0e17c4" stroke-width=".8"/>
<polygon points="1312.5,287.7 1301.9,281.2 1312.6,277.7 1323.2,284.2" fill="#0e2ac5" stroke="#0e2ac5" stroke-width=".8"/>
<polygon points="1269.9,280.9 1259.3,274.2 1270,271.3 1280.6,277.9" fill="#0e57c8" stroke="#0e57c8" stroke-width=".8"/>
<polygon points="1248.6,277 1238,270.3 1248.7,267.6 1259.3,274.2" fill="#0e70c9" stroke="#0e70c9" stroke-width=".8"/>
<polygon points="1227.2,272.7 1216.6,266 1227.3,263.5 1238,270.3" fill="#0e8bca" stroke="#0e8bca" stroke-width=".8"/>
<polygon points="1205.8,268.2 1195.1,261.4 1205.9,259.2 1216.6,266" fill="#0ea8cc" stroke="#0ea8cc" stroke-width=".8"/>
<polygon points="1184.4,263.4 1173.6,256.5 1184.4,254.5 1195.1,261.4" fill="#0ec7cd" stroke="#0ec7cd" stroke-width=".8"/>
<polygon points="1162.9,258.3 1152.1,251.3 1162.9,249.5 1173.6,256.5" fill="#0ecec2" stroke="#0ecec2" stroke-width=".8"/>
<polygon points="1141.3,252.9 1130.5,245.9 1141.3,244.2 1152.1,251.3" fill="#0fcfb0" stroke="#0fcfb0" stroke-width=".8"/>
<polygon points="1098.1,241.5 1087.2,234.2 1098,232.9 1108.9,240.2" fill="#0fd187" stroke="#0fd187" stroke-width=".8"/>
<polygon points="1076.3,235.4 1065.4,228.1 1076.3,226.9 1087.2,234.2" fill="#0fd26d" stroke="#0fd26d" stroke-width=".8"/>
<polygon points="1054.6,229.2 1043.6,221.8 1054.5,220.7 1065.4,228.1" fill="#0fd252" stroke="#0fd252" stroke-width=".8"/>
<polygon points="1355,293.2 1344.4,286.8 1355.1,282.8 1365.7,289.1" fill="#0e0ec2" stroke="#0e0ec2" stroke-width=".8"/>
<polygon points="1119.7,247.3 1108.9,240.2 1119.7,238.7 1130.5,245.9" fill="#0fd09c" stroke="#0fd09c" stroke-width=".8"/>
<polygon points="1386.7,301.7 1376.2,295.4 1386.9,291.1 1397.4,297.4" fill="#0e0ec1" stroke="#0e0ec1" stroke-width=".8"/>
<polygon points="1365.5,299.5 1355,293.2 1365.7,289.1 1376.2,295.4" fill="#0e0ec2" stroke="#0e0ec2" stroke-width=".8"/>
<polygon points="1344.3,297 1333.8,290.6 1344.4,286.8 1355,293.2" fill="#0e0ec4" stroke="#0e0ec4" stroke-width=".8"/>
<polygon points="1323.1,294.1 1312.5,287.7 1323.2,284.2 1333.8,290.6" fill="#0e15c5" stroke="#0e15c5" stroke-width=".8"/>
<polygon points="1301.8,290.9 1291.2,284.4 1301.9,281.2 1312.5,287.7" fill="#0e29c6" stroke="#0e29c6" stroke-width=".8"/>
<polygon points="1280.6,287.4 1269.9,280.9 1280.6,277.9 1291.2,284.4" fill="#0e40c8" stroke="#0e40c8" stroke-width=".8"/>
<polygon points="1259.3,283.6 1248.6,277 1259.3,274.2 1269.9,280.9" fill="#0e59c9" stroke="#0e59c9" stroke-width=".8"/>
<polygon points="1237.9,279.4 1227.2,272.7 1238,270.3 1248.6,277" fill="#0e73cb" stroke="#0e73cb" stroke-width=".8"/>
<polygon points="1216.5,275 1205.8,268.2 1216.6,266 1227.2,272.7" fill="#0e90cc" stroke="#0e90cc" stroke-width=".8"/>
<polygon points="1195.1,270.3 1184.4,263.4 1195.1,261.4 1205.8,268.2" fill="#0eaecd" stroke="#0eaecd" stroke-width=".8"/>
<polygon points="1173.6,265.2 1162.9,258.3 1173.6,256.5 1184.4,263.4" fill="#0ecccf" stroke="#0ecccf" stroke-width=".8"/>
<polygon points="1130.5,254.4 1119.7,247.3 1130.5,245.9 1141.3,252.9" fill="#0fd1ac" stroke="#0fd1ac" stroke-width=".8"/>
<polygon points="1087.2,242.7 1076.3,235.4 1087.2,234.2 1098.1,241.5" fill="#0fd281" stroke="#0fd281" stroke-width=".8"/>
<polygon points="1065.5,236.5 1054.6,229.2 1065.4,228.1 1076.3,235.4" fill="#0fd366" stroke="#0fd366" stroke-width=".8"/>
<polygon points="1152.1,259.9 1141.3,252.9 1152.1,251.3 1162.9,258.3" fill="#0fd0bf" stroke="#0fd0bf" stroke-width=".8"/>
<polygon points="1108.9,248.6 1098.1,241.5 1108.9,240.2 1119.7,247.3" fill="#0fd298" stroke="#0fd298" stroke-width=".8"/>
<polygon points="1291.2,293.9 1280.6,287.4 1291.2,284.4 1301.8,290.9" fill="#0e2ac8" stroke="#0e2ac8" stroke-width=".8"/>
<polygon points="1269.9,290.2 1259.3,283.6 1269.9,280.9 1280.6,287.4" fill="#0e42c9" stroke="#0e42c9" stroke-width=".8"/>
<polygon points="1184.4,272.1 1173.6,265.2 1184.4,263.4 1195.1,270.3" fill="#0eb6cf" stroke="#0eb6cf" stroke-width=".8"/>
<polygon points="1162.9,266.9 1152.1,259.9 1162.9,258.3 1173.6,265.2" fill="#0fd0cf" stroke="#0fd0cf" stroke-width=".8"/>
<polygon points="1119.7,255.7 1108.9,248.6 1119.7,247.3 1130.5,254.4" fill="#0fd2a8" stroke="#0fd2a8" stroke-width=".8"/>
<polygon points="1076.4,243.7 1065.5,236.5 1076.3,235.4 1087.2,242.7" fill="#0fd47b" stroke="#0fd47b" stroke-width=".8"/>
<polygon points="1376,305.8 1365.5,299.5 1376.2,295.4 1386.7,301.7" fill="#0e0ec2" stroke="#0e0ec2" stroke-width=".8"/>
<polygon points="1354.8,303.3 1344.3,297 1355,293.2 1365.5,299.5" fill="#0e0ec4" stroke="#0e0ec4" stroke-width=".8"/>
<polygon points="1333.6,300.5 1323.1,294.1 1333.8,290.6 1344.3,297" fill="#0e0ec5" stroke="#0e0ec5" stroke-width=".8"/>
<polygon points="1312.4,297.4 1301.8,290.9 1312.5,287.7 1323.1,294.1" fill="#0e14c6" stroke="#0e14c6" stroke-width=".8"/>
<polygon points="1248.6,286.1 1237.9,279.4 1248.6,277 1259.3,283.6" fill="#0e5ccb" stroke="#0e5ccb" stroke-width=".8"/>
<polygon points="1227.2,281.7 1216.5,275 1227.2,272.7 1237.9,279.4" fill="#0e78cc" stroke="#0e78cc" stroke-width=".8"/>
<polygon points="1205.8,277.1 1195.1,270.3 1205.8,268.2 1216.5,275" fill="#0e96ce" stroke="#0e96ce" stroke-width=".8"/>
<polygon points="1141.3,261.4 1130.5,254.4 1141.3,252.9 1152.1,259.9" fill="#0fd1bc" stroke="#0fd1bc" stroke-width=".8"/>
<polygon points="1098.1,249.8 1087.2,242.7 1098.1,241.5 1108.9,248.6" fill="#0fd393" stroke="#0fd393" stroke-width=".8"/>
<polygon points="1344.2,306.9 1333.6,300.5 1344.3,297 1354.8,303.3" fill="#0e0ec5" stroke="#0e0ec5" stroke-width=".8"/>
<polygon points="1323,303.8 1312.4,297.4 1323.1,294.1 1333.6,300.5" fill="#0e0ec7" stroke="#0e0ec7" stroke-width=".8"/>
<polygon points="1301.8,300.4 1291.2,293.9 1301.8,290.9 1312.4,297.4" fill="#0e14c8" stroke="#0e14c8" stroke-width=".8"/>
<polygon points="1259.2,292.7 1248.6,286.1 1259.3,283.6 1269.9,290.2" fill="#0e46cb" stroke="#0e46cb" stroke-width=".8"/>
<polygon points="1173.6,273.8 1162.9,266.9 1173.6,265.2 1184.4,272.1" fill="#0fbfd1" stroke="#0fbfd1" stroke-width=".8"/>
<polygon points="1152.1,268.4 1141.3,261.4 1152.1,259.9 1162.9,266.9" fill="#0fd2cb" stroke="#0fd2cb" stroke-width=".8"/>
<polygon points="1365.3,309.6 1354.8,303.3 1365.5,299.5 1376,305.8" fill="#0e0ec4" stroke="#0e0ec4" stroke-width=".8"/>
<polygon points="1280.5,296.7 1269.9,290.2 1280.6,287.4 1291.2,293.9" fill="#0e2cca" stroke="#0e2cca" stroke-width=".8"/>
<polygon points="1237.9,288.4 1227.2,281.7 1237.9,279.4 1248.6,286.1" fill="#0e61cd" stroke="#0e61cd" stroke-width=".8"/>
<polygon points="1216.5,283.8 1205.8,277.1 1216.5,275 1227.2,281.7" fill="#0e7fce" stroke="#0e7fce" stroke-width=".8"/>
<polygon points="1195.1,278.9 1184.4,272.1 1195.1,270.3 1205.8,277.1" fill="#0f9ecf" stroke="#0f9ecf" stroke-width=".8"/>
<polygon points="1130.6,262.8 1119.7,255.7 1130.5,254.4 1141.3,261.4" fill="#0fd3b8" stroke="#0fd3b8" stroke-width=".8"/>
<polygon points="1108.9,256.9 1098.1,249.8 1108.9,248.6 1119.7,255.7" fill="#0fd4a4" stroke="#0fd4a4" stroke-width=".8"/>
<polygon points="1087.3,250.9 1076.4,243.7 1087.2,242.7 1098.1,249.8" fill="#0fd48e" stroke="#0fd48e" stroke-width=".8"/>
<polygon points="1354.7,313.2 1344.2,306.9 1354.8,303.3 1365.3,309.6" fill="#0e0ec5" stroke="#0e0ec5" stroke-width=".8"/>
<polygon points="1333.5,310.2 1323,303.8 1333.6,300.5 1344.2,306.9" fill="#0e0ec7" stroke="#0e0ec7" stroke-width=".8"/>
<polygon points="1312.3,306.8 1301.8,300.4 1312.4,297.4 1323,303.8" fill="#0e0ec8" stroke="#0e0ec8" stroke-width=".8"/>
<polygon points="1291.1,303.2 1280.5,296.7 1291.2,293.9 1301.8,300.4" fill="#0e16ca" stroke="#0e16ca" stroke-width=".8"/>
<polygon points="1269.8,299.3 1259.2,292.7 1269.9,290.2 1280.5,296.7" fill="#0e2fcb" stroke="#0e2fcb" stroke-width=".8"/>
<polygon points="1248.5,295 1237.9,288.4 1248.6,286.1 1259.2,292.7" fill="#0e4bcd" stroke="#0e4bcd" stroke-width=".8"/>
<polygon points="1227.2,290.5 1216.5,283.8 1227.2,281.7 1237.9,288.4" fill="#0e67ce" stroke="#0e67ce" stroke-width=".8"/>
<polygon points="1205.8,285.7 1195.1,278.9 1205.8,277.1 1216.5,283.8" fill="#0f86d0" stroke="#0f86d0" stroke-width=".8"/>
<polygon points="1184.4,280.6 1173.6,273.8 1184.4,272.1 1195.1,278.9" fill="#0fa7d1" stroke="#0fa7d1" stroke-width=".8"/>
<polygon points="1162.9,275.3 1152.1,268.4 1162.9,266.9 1173.6,273.8" fill="#0fc9d2" stroke="#0fc9d2" stroke-width=".8"/>
<polygon points="1141.4,269.7 1130.6,262.8 1141.3,261.4 1152.1,268.4" fill="#0fd3c7" stroke="#0fd3c7" stroke-width=".8"/>
<polygon points="1119.8,263.9 1108.9,256.9 1119.7,255.7 1130.6,262.8" fill="#0fd4b3" stroke="#0fd4b3" stroke-width=".8"/>
<polygon points="1098.1,258 1087.3,250.9 1098.1,249.8 1108.9,256.9" fill="#0fd59e" stroke="#0fd59e" stroke-width=".8"/>
<polygon points="1344.1,316.5 1333.5,310.2 1344.2,306.9 1354.7,313.2" fill="#0e0ec7" stroke="#0e0ec7" stroke-width=".8"/>
<polygon points="1322.9,313.2 1312.3,306.8 1323,303.8 1333.5,310.2" fill="#0e0ec8" stroke="#0e0ec8" stroke-width=".8"/>
<polygon points="1301.7,309.7 1291.1,303.2 1301.8,300.4 1312.3,306.8" fill="#0e0eca" stroke="#0e0eca" stroke-width=".8"/>
<polygon points="1280.4,305.8 1269.8,299.3 1280.5,296.7 1291.1,303.2" fill="#0e1acb" stroke="#0e1acb" stroke-width=".8"/>
<polygon points="1259.2,301.6 1248.5,295 1259.2,292.7 1269.8,299.3" fill="#0e34cd" stroke="#0e34cd" stroke-width=".8"/>
<polygon points="1237.8,297.1 1227.2,290.5 1237.9,288.4 1248.5,295" fill="#0e51cf" stroke="#0e51cf" stroke-width=".8"/>
<polygon points="1216.5,292.4 1205.8,285.7 1216.5,283.8 1227.2,290.5" fill="#0f6fd0" stroke="#0f6fd0" stroke-width=".8"/>
<polygon points="1173.6,282.1 1162.9,275.3 1173.6,273.8 1184.4,280.6" fill="#0fb1d3" stroke="#0fb1d3" stroke-width=".8"/>
<polygon points="1152.1,276.6 1141.4,269.7 1152.1,268.4 1162.9,275.3" fill="#0fd1d4" stroke="#0fd1d4" stroke-width=".8"/>
<polygon points="1130.6,270.9 1119.8,263.9 1130.6,262.8 1141.4,269.7" fill="#0fd5c3" stroke="#0fd5c3" stroke-width=".8"/>
<polygon points="1195.1,287.3 1184.4,280.6 1195.1,278.9 1205.8,285.7" fill="#0f8fd2" stroke="#0f8fd2" stroke-width=".8"/>
<polygon points="1109,265 1098.1,258 1108.9,256.9 1119.8,263.9" fill="#0fd6ae" stroke="#0fd6ae" stroke-width=".8"/>
<polygon points="1333.4,319.6 1322.9,313.2 1333.5,310.2 1344.1,316.5" fill="#0e0ec8" stroke="#0e0ec8" stroke-width=".8"/>
<polygon points="1312.2,316.1 1301.7,309.7 1312.3,306.8 1322.9,313.2" fill="#0e0eca" stroke="#0e0eca" stroke-width=".8"/>
<polygon points="1269.8,308.1 1259.2,301.6 1269.8,299.3 1280.4,305.8" fill="#0e1fcd" stroke="#0e1fcd" stroke-width=".8"/>
<polygon points="1227.2,299 1216.5,292.4 1227.2,290.5 1237.8,297.1" fill="#0f59d0" stroke="#0f59d0" stroke-width=".8"/>
<polygon points="1162.9,283.4 1152.1,276.6 1162.9,275.3 1173.6,282.1" fill="#0fbcd5" stroke="#0fbcd5" stroke-width=".8"/>
<polygon points="1141.4,277.8 1130.6,270.9 1141.4,269.7 1152.1,276.6" fill="#0fd6d2" stroke="#0fd6d2" stroke-width=".8"/>
<polygon points="1291,312.2 1280.4,305.8 1291.1,303.2 1301.7,309.7" fill="#0e0ecc" stroke="#0e0ecc" stroke-width=".8"/>
<polygon points="1205.8,294 1195.1,287.3 1205.8,285.7 1216.5,292.4" fill="#0f78d2" stroke="#0f78d2" stroke-width=".8"/>
<polygon points="1184.4,288.8 1173.6,282.1 1184.4,280.6 1195.1,287.3" fill="#0f9ad3" stroke="#0f9ad3" stroke-width=".8"/>
<polygon points="1119.8,271.9 1109,265 1119.8,263.9 1130.6,270.9" fill="#0fd7be" stroke="#0fd7be" stroke-width=".8"/>
<polygon points="1248.5,303.7 1237.8,297.1 1248.5,295 1259.2,301.6" fill="#0e3bcf" stroke="#0e3bcf" stroke-width=".8"/>
<polygon points="1301.6,318.6 1291,312.2 1301.7,309.7 1312.2,316.1" fill="#0e0ecc" stroke="#0e0ecc" stroke-width=".8"/>
<polygon points="1280.4,314.6 1269.8,308.1 1280.4,305.8 1291,312.2" fill="#0e0ece" stroke="#0e0ece" stroke-width=".8"/>
<polygon points="1216.5,300.7 1205.8,294 1216.5,292.4 1227.2,299" fill="#0f62d2" stroke="#0f62d2" stroke-width=".8"/>
<polygon points="1195.1,295.5 1184.4,288.8 1195.1,287.3 1205.8,294" fill="#0f83d4" stroke="#0f83d4" stroke-width=".8"/>
<polygon points="1130.6,278.8 1119.8,271.9 1130.6,270.9 1141.4,277.8" fill="#0fd8cd" stroke="#0fd8cd" stroke-width=".8"/>
<polygon points="1322.8,322.4 1312.2,316.1 1322.9,313.2 1333.4,319.6" fill="#0e0eca" stroke="#0e0eca" stroke-width=".8"/>
<polygon points="1259.1,310.2 1248.5,303.7 1259.2,301.6 1269.8,308.1" fill="#0f25cf" stroke="#0f25cf" stroke-width=".8"/>
<polygon points="1237.8,305.6 1227.2,299 1237.8,297.1 1248.5,303.7" fill="#0f43d1" stroke="#0f43d1" stroke-width=".8"/>
<polygon points="1173.6,290.2 1162.9,283.4 1173.6,282.1 1184.4,288.8" fill="#0fa5d5" stroke="#0fa5d5" stroke-width=".8"/>
<polygon points="1152.1,284.6 1141.4,277.8 1152.1,276.6 1162.9,283.4" fill="#0fc9d7" stroke="#0fc9d7" stroke-width=".8"/>
<polygon points="1205.8,302.2 1195.1,295.5 1205.8,294 1216.5,300.7" fill="#0f6cd4" stroke="#0f6cd4" stroke-width=".8"/>
<polygon points="1312.2,325 1301.6,318.6 1312.2,316.1 1322.8,322.4" fill="#0e0ecc" stroke="#0e0ecc" stroke-width=".8"/>
<polygon points="1291,321 1280.4,314.6 1291,312.2 1301.6,318.6" fill="#0e0ece" stroke="#0e0ece" stroke-width=".8"/>
<polygon points="1269.7,316.7 1259.1,310.2 1269.8,308.1 1280.4,314.6" fill="#0f10d0" stroke="#0f10d0" stroke-width=".8"/>
<polygon points="1248.4,312.1 1237.8,305.6 1248.5,303.7 1259.1,310.2" fill="#0f2dd1" stroke="#0f2dd1" stroke-width=".8"/>
<polygon points="1227.1,307.3 1216.5,300.7 1227.2,299 1237.8,305.6" fill="#0f4cd3" stroke="#0f4cd3" stroke-width=".8"/>
<polygon points="1184.3,296.8 1173.6,290.2 1184.4,288.8 1195.1,295.5" fill="#0f8fd6" stroke="#0f8fd6" stroke-width=".8"/>
<polygon points="1162.9,291.3 1152.1,284.6 1162.9,283.4 1173.6,290.2" fill="#0fb2d7" stroke="#0fb2d7" stroke-width=".8"/>
<polygon points="1141.4,285.6 1130.6,278.8 1141.4,277.8 1152.1,284.6" fill="#0fd5d8" stroke="#0fd5d8" stroke-width=".8"/>
<polygon points="1301.5,327.4 1291,321 1301.6,318.6 1312.2,325" fill="#0e0ece" stroke="#0e0ece" stroke-width=".8"/>
<polygon points="1280.3,323.1 1269.7,316.7 1280.4,314.6 1291,321" fill="#0f0fd0" stroke="#0f0fd0" stroke-width=".8"/>
<polygon points="1259.1,318.6 1248.4,312.1 1259.1,310.2 1269.7,316.7" fill="#0f18d2" stroke="#0f18d2" stroke-width=".8"/>
<polygon points="1237.8,313.8 1227.1,307.3 1237.8,305.6 1248.4,312.1" fill="#0f36d3" stroke="#0f36d3" stroke-width=".8"/>
<polygon points="1216.4,308.8 1205.8,302.2 1216.5,300.7 1227.1,307.3" fill="#0f57d5" stroke="#0f57d5" stroke-width=".8"/>
<polygon points="1195,303.5 1184.3,296.8 1195.1,295.5 1205.8,302.2" fill="#0f78d7" stroke="#0f78d7" stroke-width=".8"/>
<polygon points="1173.6,298 1162.9,291.3 1173.6,290.2 1184.3,296.8" fill="#0f9cd8" stroke="#0f9cd8" stroke-width=".8"/>
<polygon points="1152.1,292.3 1141.4,285.6 1152.1,284.6 1162.9,291.3" fill="#0fc0d9" stroke="#0fc0d9" stroke-width=".8"/>
<polygon points="1290.9,329.5 1280.3,323.1 1291,321 1301.5,327.4" fill="#0f0fd0" stroke="#0f0fd0" stroke-width=".8"/>
<polygon points="1269.7,325 1259.1,318.6 1269.7,316.7 1280.3,323.1" fill="#0f0fd2" stroke="#0f0fd2" stroke-width=".8"/>
<polygon points="1227.1,315.3 1216.4,308.8 1227.1,307.3 1237.8,313.8" fill="#0f41d6" stroke="#0f41d6" stroke-width=".8"/>
<polygon points="1184.3,304.6 1173.6,298 1184.3,296.8 1195,303.5" fill="#0f86d9" stroke="#0f86d9" stroke-width=".8"/>
<polygon points="1248.4,320.3 1237.8,313.8 1248.4,312.1 1259.1,318.6" fill="#0f21d4" stroke="#0f21d4" stroke-width=".8"/>
<polygon points="1205.7,310 1195,303.5 1205.8,302.2 1216.4,308.8" fill="#0f63d7" stroke="#0f63d7" stroke-width=".8"/>
<polygon points="1162.9,299 1152.1,292.3 1162.9,291.3 1173.6,298" fill="#0faada" stroke="#0faada" stroke-width=".8"/>
<polygon points="1280.3,331.4 1269.7,325 1280.3,323.1 1290.9,329.5" fill="#0f0fd3" stroke="#0f0fd3" stroke-width=".8"/>
<polygon points="1259,326.7 1248.4,320.3 1259.1,318.6 1269.7,325" fill="#0f0fd4" stroke="#0f0fd4" stroke-width=".8"/>
<polygon points="1237.7,321.7 1227.1,315.3 1237.8,313.8 1248.4,320.3" fill="#0f2cd6" stroke="#0f2cd6" stroke-width=".8"/>
<polygon points="1216.4,316.6 1205.7,310 1216.4,308.8 1227.1,315.3" fill="#0f4dd8" stroke="#0f4dd8" stroke-width=".8"/>
<polygon points="1173.6,305.5 1162.9,299 1173.6,298 1184.3,304.6" fill="#0f94db" stroke="#0f94db" stroke-width=".8"/>
<polygon points="1195,311.2 1184.3,304.6 1195,303.5 1205.7,310" fill="#0f70da" stroke="#0f70da" stroke-width=".8"/>
<polygon points="1227.1,323 1216.4,316.6 1227.1,315.3 1237.7,321.7" fill="#0f38d9" stroke="#0f38d9" stroke-width=".8"/>
<polygon points="1269.6,333.1 1259,326.7 1269.7,325 1280.3,331.4" fill="#0f0fd5" stroke="#0f0fd5" stroke-width=".8"/>
<polygon points="1248.4,328.2 1237.7,321.7 1248.4,320.3 1259,326.7" fill="#0f17d7" stroke="#0f17d7" stroke-width=".8"/>
<polygon points="1205.7,317.6 1195,311.2 1205.7,310 1216.4,316.6" fill="#0f5bdb" stroke="#0f5bdb" stroke-width=".8"/>
<polygon points="1184.3,312.1 1173.6,305.5 1184.3,304.6 1195,311.2" fill="#0f7fdc" stroke="#0f7fdc" stroke-width=".8"/>
<polygon points="1259,334.5 1248.4,328.2 1259,326.7 1269.6,333.1" fill="#0f0fd8" stroke="#0f0fd8" stroke-width=".8"/>
<polygon points="1237.7,329.4 1227.1,323 1237.7,321.7 1248.4,328.2" fill="#0f24da" stroke="#0f24da" stroke-width=".8"/>
<polygon points="1216.4,324.1 1205.7,317.6 1216.4,316.6 1227.1,323" fill="#0f46db" stroke="#0f46db" stroke-width=".8"/>
<polygon points="1195,318.5 1184.3,312.1 1195,311.2 1205.7,317.6" fill="#0f6add" stroke="#0f6add" stroke-width=".8"/>
<polygon points="1248.3,335.8 1237.7,329.4 1248.4,328.2 1259,334.5" fill="#0f0fda" stroke="#0f0fda" stroke-width=".8"/>
<polygon points="1227,330.5 1216.4,324.1 1227.1,323 1237.7,329.4" fill="#0f32dc" stroke="#0f32dc" stroke-width=".8"/>
<polygon points="1205.7,325 1195,318.5 1205.7,317.6 1216.4,324.1" fill="#1056de" stroke="#1056de" stroke-width=".8"/>
<polygon points="1237.7,336.8 1227,330.5 1237.7,329.4 1248.3,335.8" fill="#0f1edd" stroke="#0f1edd" stroke-width=".8"/>
<polygon points="1216.3,331.3 1205.7,325 1216.4,324.1 1227,330.5" fill="#1041df" stroke="#1041df" stroke-width=".8"/>
<polygon points="1227,337.6 1216.3,331.3 1227,330.5 1237.7,336.8" fill="#102de1" stroke="#102de1" stroke-width=".8"/>
<path d="M1227,337.6 L1250.1,335.6 L1273.2,332.5 L1296.2,328.5 L1319.2,323.3 L1342.3,317 L1365.3,309.6 L1388.4,301 L1411.6,291.2 L1434.9,280.1 L1458.2,267.7 L1481.8,254 L1505.4,239 M1227,337.6 L1203.9,323.9 L1180.7,309.9 L1157.5,295.6 L1134.2,281 L1110.8,266.1 L1087.3,250.9 L1063.7,235.3 L1039.9,219.4 L1016.1,203 L992.1,186.4 L968,169.3 L943.8,151.8 M1223.9,335.8 L1247,333.7 L1270.1,330.7 L1293.2,326.6 L1316.2,321.5 L1339.2,315.2 L1362.3,307.8 L1385.4,299.2 L1408.6,289.4 L1431.9,278.3 L1455.2,265.9 L1478.7,252.2 L1502.4,237.2 M1230.1,337.4 L1207,323.7 L1183.8,309.7 L1160.6,295.4 L1137.3,280.8 L1113.9,265.8 L1090.4,250.6 L1066.8,235 L1043.1,219 L1019.3,202.7 L995.3,186 L971.2,169 L947,151.5 M1220.8,334 L1244,331.9 L1267.1,328.9 L1290.1,324.8 L1313.1,319.6 L1336.2,313.4 L1359.3,306 L1382.4,297.4 L1405.6,287.5 L1428.8,276.5 L1452.2,264.1 L1475.7,250.4 L1499.4,235.4 M1233.2,337.1 L1210.1,323.4 L1186.9,309.4 L1163.7,295.1 L1140.4,280.5 L1117,265.5 L1093.5,250.3 L1069.9,234.7 L1046.2,218.7 L1022.4,202.4 L998.5,185.7 L974.4,168.6 L950.1,151.2 M1217.8,332.1 L1240.9,330.1 L1264,327 L1287,322.9 L1310.1,317.8 L1333.2,311.5 L1356.2,304.1 L1379.3,295.6 L1402.5,285.7 L1425.8,274.7 L1449.2,262.3 L1472.7,248.6 L1496.4,233.6 M1236.2,336.9 L1213.2,323.1 L1190,309.1 L1166.8,294.8 L1143.5,280.2 L1120.1,265.2 L1096.7,250 L1073.1,234.4 L1049.4,218.4 L1025.6,202.1 L1001.6,185.4 L977.5,168.3 L953.3,150.9 M1214.7,330.3 L1237.8,328.2 L1260.9,325.2 L1284,321.1 L1307,316 L1330.1,309.7 L1353.2,302.3 L1376.3,293.7 L1399.5,283.9 L1422.8,272.9 L1446.2,260.5 L1469.7,246.9 L1493.3,231.8 M1239.3,336.6 L1216.3,322.9 L1193.1,308.8 L1169.9,294.5 L1146.6,279.9 L1123.3,264.9 L1099.8,249.7 L1076.2,234 L1052.5,218.1 L1028.7,201.8 L1004.8,185.1 L980.7,168 L956.5,150.5 M1211.6,328.5 L1234.8,326.4 L1257.9,323.3 L1280.9,319.2 L1304,314.1 L1327.1,307.9 L1350.1,300.5 L1373.3,291.9 L1396.5,282.1 L1419.7,271.1 L1443.1,258.7 L1466.6,245.1 L1490.3,230 M1242.4,336.3 L1219.4,322.6 L1196.2,308.5 L1173,294.2 L1149.7,279.5 L1126.4,264.6 L1102.9,249.3 L1079.3,233.7 L1055.7,217.7 L1031.9,201.4 L1007.9,184.7 L983.9,167.7 L959.6,150.2 M1208.5,326.7 L1231.7,324.5 L1254.8,321.5 L1277.9,317.4 L1300.9,312.2 L1324,306 L1347.1,298.7 L1370.2,290.1 L1393.4,280.3 L1416.7,269.3 L1440.1,256.9 L1463.6,243.3 L1487.3,228.3 M1245.5,336 L1222.4,322.2 L1199.3,308.2 L1176.1,293.8 L1152.8,279.2 L1129.5,264.2 L1106,249 L1082.5,233.4 L1058.8,217.4 L1035,201.1 L1011.1,184.4 L987,167.3 L962.8,149.9 M1205.4,324.8 L1228.6,322.7 L1251.7,319.6 L1274.8,315.5 L1297.9,310.4 L1321,304.2 L1344.1,296.8 L1367.2,288.3 L1390.4,278.5 L1413.7,267.5 L1437.1,255.1 L1460.6,241.5 L1484.3,226.5 M1248.6,335.7 L1225.5,321.9 L1202.4,307.8 L1179.2,293.5 L1156,278.8 L1132.6,263.9 L1109.2,248.6 L1085.6,233 L1061.9,217 L1038.2,200.7 L1014.2,184 L990.2,167 L966,149.5 M1202.4,323 L1225.5,320.8 L1248.7,317.7 L1271.7,313.6 L1294.8,308.5 L1317.9,302.3 L1341,295 L1364.2,286.5 L1387.4,276.7 L1410.6,265.7 L1434,253.4 L1457.6,239.7 L1481.3,224.7 M1251.6,335.4 L1228.6,321.6 L1205.5,307.5 L1182.3,293.1 L1159.1,278.5 L1135.7,263.5 L1112.3,248.2 L1088.7,232.6 L1065.1,216.7 L1041.3,200.4 L1017.4,183.7 L993.4,166.6 L969.2,149.2 M1199.3,321.1 L1222.5,318.9 L1245.6,315.9 L1268.7,311.8 L1291.8,306.7 L1314.9,300.5 L1338,293.1 L1361.1,284.6 L1384.3,274.9 L1407.6,263.9 L1431,251.6 L1454.5,237.9 L1478.2,222.9 M1254.7,335 L1231.7,321.2 L1208.6,307.1 L1185.4,292.7 L1162.2,278.1 L1138.8,263.1 L1115.4,247.9 L1091.9,232.3 L1068.2,216.3 L1044.4,200 L1020.5,183.3 L996.5,166.3 L972.3,148.8 M1196.2,319.3 L1219.4,317.1 L1242.5,314 L1265.6,309.9 L1288.7,304.8 L1311.8,298.6 L1334.9,291.3 L1358.1,282.8 L1381.3,273.1 L1404.6,262.1 L1428,249.8 L1451.5,236.1 L1475.2,221.1 M1257.8,334.7 L1234.8,320.8 L1211.7,306.7 L1188.5,292.4 L1165.3,277.7 L1141.9,262.7 L1118.5,247.5 L1095,231.9 L1071.3,215.9 L1047.6,199.6 L1023.7,182.9 L999.7,165.9 L975.5,148.5 M1193.1,317.4 L1216.3,315.2 L1239.4,312.1 L1262.6,308 L1285.7,302.9 L1308.8,296.8 L1331.9,289.4 L1355,281 L1378.2,271.2 L1401.5,260.3 L1424.9,248 L1448.5,234.3 L1472.2,219.3 M1260.9,334.3 L1237.9,320.4 L1214.8,306.3 L1191.6,291.9 L1168.4,277.3 L1145.1,262.3 L1121.6,247.1 L1098.1,231.5 L1074.5,215.5 L1050.7,199.2 L1026.9,182.6 L1002.8,165.5 L978.7,148.1 M1190,315.5 L1213.2,313.3 L1236.4,310.2 L1259.5,306.1 L1282.6,301.1 L1305.7,294.9 L1328.8,287.6 L1352,279.1 L1375.2,269.4 L1398.5,258.4 L1421.9,246.2 L1445.4,232.5 L1469.1,217.5 M1264,333.9 L1240.9,320 L1217.9,305.9 L1194.7,291.5 L1171.5,276.9 L1148.2,261.9 L1124.8,246.7 L1101.2,231.1 L1077.6,215.1 L1053.9,198.8 L1030,182.2 L1006,165.1 L981.8,147.7 M1186.9,313.7 L1210.1,311.4 L1233.3,308.3 L1256.4,304.3 L1279.5,299.2 L1302.6,293 L1325.8,285.7 L1348.9,277.3 L1372.2,267.6 L1395.5,256.6 L1418.9,244.4 L1442.4,230.7 L1466.1,215.7 M1267,333.4 L1244,319.6 L1221,305.5 L1197.8,291.1 L1174.6,276.4 L1151.3,261.5 L1127.9,246.2 L1104.4,230.6 L1080.8,214.7 L1057,198.4 L1033.2,181.8 L1009.2,164.8 L985,147.3 M1183.8,311.8 L1207,309.6 L1230.2,306.4 L1253.3,302.4 L1276.5,297.3 L1299.6,291.2 L1322.7,283.9 L1345.9,275.4 L1369.1,265.8 L1392.4,254.8 L1415.8,242.5 L1439.4,228.9 L1463.1,213.9 M1270.1,333 L1247.1,319.1 L1224,305 L1200.9,290.6 L1177.7,276 L1154.4,261 L1131,245.8 L1107.5,230.2 L1083.9,214.3 L1060.2,198 L1036.3,181.4 L1012.3,164.4 L988.2,146.9 M1180.7,309.9 L1204,307.7 L1227.1,304.5 L1250.3,300.5 L1273.4,295.4 L1296.5,289.3 L1319.7,282 L1342.8,273.6 L1366.1,263.9 L1389.4,253 L1412.8,240.7 L1436.3,227.1 L1460,212.1 M1273.2,332.5 L1250.2,318.7 L1227.1,304.5 L1204,290.2 L1180.8,275.5 L1157.5,260.6 L1134.1,245.3 L1110.6,229.8 L1087,213.8 L1063.3,197.6 L1039.4,181 L1015.5,163.9 L991.3,146.5 M1177.6,308 L1200.9,305.8 L1224.1,302.6 L1247.2,298.6 L1270.3,293.5 L1293.5,287.4 L1316.6,280.2 L1339.8,271.7 L1363,262.1 L1386.3,251.2 L1409.8,238.9 L1433.3,225.3 L1457,210.3 M1276.2,332.1 L1253.3,318.2 L1230.2,304.1 L1207.1,289.7 L1183.9,275 L1160.6,260.1 L1137.2,244.9 L1113.7,229.3 L1090.1,213.4 L1066.4,197.1 L1042.6,180.5 L1018.6,163.5 L994.5,146.1 M1174.5,306.1 L1197.8,303.9 L1221,300.7 L1244.1,296.7 L1267.3,291.6 L1290.4,285.5 L1313.6,278.3 L1336.7,269.9 L1360,260.3 L1383.3,249.4 L1406.7,237.1 L1430.3,223.5 L1454,208.5 M1279.3,331.6 L1256.3,317.7 L1233.3,303.6 L1210.2,289.2 L1187,274.5 L1163.7,259.6 L1140.3,244.4 L1116.9,228.8 L1093.3,212.9 L1069.6,196.7 L1045.7,180.1 L1021.8,163.1 L997.7,145.7 M1171.5,304.2 L1194.7,302 L1217.9,298.8 L1241.1,294.8 L1264.2,289.7 L1287.3,283.6 L1310.5,276.4 L1333.7,268 L1356.9,258.4 L1380.3,247.5 L1403.7,235.3 L1427.2,221.7 L1450.9,206.7 M1282.4,331 L1259.4,317.1 L1236.4,303 L1213.3,288.7 L1190.1,274 L1166.8,259.1 L1143.5,243.9 L1120,228.3 L1096.4,212.5 L1072.7,196.2 L1048.9,179.6 L1024.9,162.7 L1000.8,145.3 M1168.4,302.3 L1191.6,300 L1214.8,296.9 L1238,292.9 L1261.1,287.8 L1284.3,281.7 L1307.4,274.6 L1330.6,266.2 L1353.9,256.6 L1377.2,245.7 L1400.6,233.5 L1424.2,219.9 L1447.9,204.9 M1285.5,330.5 L1262.5,316.6 L1239.5,302.5 L1216.4,288.1 L1193.2,273.5 L1169.9,258.6 L1146.6,243.4 L1123.1,227.8 L1099.5,212 L1075.8,195.8 L1052,179.2 L1028.1,162.2 L1004,144.9 M1165.3,300.4 L1188.5,298.1 L1211.7,295 L1234.9,290.9 L1258.1,285.9 L1281.2,279.9 L1304.4,272.7 L1327.6,264.3 L1350.8,254.7 L1374.2,243.9 L1397.6,231.7 L1421.1,218.1 L1444.8,203.1 M1288.5,329.9 L1265.6,316.1 L1242.6,301.9 L1219.5,287.6 L1196.3,273 L1173,258.1 L1149.7,242.9 L1126.2,227.3 L1102.7,211.5 L1079,195.3 L1055.2,178.7 L1031.2,161.8 L1007.1,144.4 M1162.2,298.5 L1185.4,296.2 L1208.6,293.1 L1231.8,289 L1255,284 L1278.1,278 L1301.3,270.8 L1324.5,262.5 L1347.8,252.9 L1371.1,242 L1394.5,229.8 L1418.1,216.3 L1441.8,201.2 M1291.6,329.4 L1268.7,315.5 L1245.7,301.4 L1222.6,287 L1199.4,272.4 L1176.1,257.5 L1152.8,242.3 L1129.3,226.8 L1105.8,211 L1082.1,194.8 L1058.3,178.2 L1034.4,161.3 L1010.3,144 M1159,296.6 L1182.3,294.3 L1205.5,291.1 L1228.7,287.1 L1251.9,282.1 L1275.1,276.1 L1298.3,268.9 L1321.5,260.6 L1344.7,251 L1368.1,240.2 L1391.5,228 L1415,214.4 L1438.8,199.4 M1294.7,328.8 L1271.7,314.9 L1248.7,300.8 L1225.7,286.4 L1202.5,271.8 L1179.2,256.9 L1155.9,241.8 L1132.5,226.3 L1108.9,210.4 L1085.3,194.3 L1061.5,177.7 L1037.5,160.8 L1013.5,143.5 M1155.9,294.7 L1179.2,292.3 L1202.5,289.2 L1225.7,285.2 L1248.8,280.2 L1272,274.2 L1295.2,267 L1318.4,258.7 L1341.7,249.2 L1365,238.4 L1388.4,226.2 L1412,212.6 L1435.7,197.6 M1297.8,328.2 L1274.8,314.3 L1251.8,300.2 L1228.7,285.8 L1205.6,271.2 L1182.4,256.4 L1159,241.2 L1135.6,225.7 L1112,209.9 L1088.4,193.7 L1064.6,177.2 L1040.7,160.3 L1016.6,143 M1152.8,292.7 L1176.1,290.4 L1199.4,287.3 L1222.6,283.2 L1245.8,278.3 L1268.9,272.2 L1292.1,265.1 L1315.3,256.8 L1338.6,247.3 L1361.9,236.5 L1385.4,224.4 L1408.9,210.8 L1432.7,195.8 M1300.8,327.5 L1277.9,313.6 L1254.9,299.5 L1231.8,285.2 L1208.7,270.6 L1185.5,255.8 L1162.1,240.6 L1138.7,225.1 L1115.2,209.3 L1091.5,193.2 L1067.7,176.7 L1043.8,159.8 L1019.8,142.5 M1149.7,290.8 L1173,288.5 L1196.3,285.3 L1219.5,281.3 L1242.7,276.3 L1265.9,270.3 L1289.1,263.2 L1312.3,255 L1335.5,245.5 L1358.9,234.7 L1382.3,222.5 L1405.9,209 L1429.6,194 M1303.9,326.9 L1281,313 L1258,298.9 L1234.9,284.6 L1211.8,270 L1188.6,255.2 L1165.2,240 L1141.8,224.6 L1118.3,208.8 L1094.7,192.7 L1070.9,176.2 L1047,159.3 L1022.9,142 M1146.6,288.9 L1169.9,286.5 L1193.2,283.4 L1216.4,279.4 L1239.6,274.4 L1262.8,268.4 L1286,261.3 L1309.2,253.1 L1332.5,243.6 L1355.8,232.8 L1379.3,220.7 L1402.8,207.2 L1426.6,192.2 M1307,326.2 L1284.1,312.3 L1261.1,298.2 L1238,283.9 L1214.9,269.4 L1191.7,254.5 L1168.4,239.4 L1144.9,224 L1121.4,208.2 L1097.8,192.1 L1074,175.6 L1050.1,158.8 L1026.1,141.5 M1143.5,286.9 L1166.8,284.6 L1190.1,281.4 L1213.3,277.4 L1236.5,272.5 L1259.7,266.5 L1282.9,259.4 L1306.1,251.2 L1329.4,241.7 L1352.8,231 L1376.2,218.9 L1399.8,205.3 L1423.5,190.3 M1310,325.5 L1287.1,311.6 L1264.2,297.6 L1241.1,283.3 L1218,268.7 L1194.8,253.9 L1171.5,238.8 L1148.1,223.3 L1124.5,207.6 L1100.9,191.5 L1077.2,175 L1053.3,158.2 L1029.3,141 M1140.4,285 L1163.7,282.6 L1187,279.5 L1210.2,275.5 L1233.4,270.5 L1256.6,264.6 L1279.8,257.5 L1303.1,249.3 L1326.4,239.9 L1349.7,229.1 L1373.2,217 L1396.7,203.5 L1420.5,188.5 M1313.1,324.8 L1290.2,310.9 L1267.2,296.9 L1244.2,282.6 L1221.1,268 L1197.9,253.2 L1174.6,238.1 L1151.2,222.7 L1127.7,207 L1104.1,190.9 L1080.3,174.5 L1056.4,157.7 L1032.4,140.5 M1137.3,283 L1160.6,280.6 L1183.9,277.5 L1207.1,273.5 L1230.4,268.6 L1253.6,262.6 L1276.8,255.6 L1300,247.4 L1323.3,238 L1346.7,227.3 L1370.1,215.2 L1393.7,201.7 L1417.4,186.7 M1316.2,324.1 L1293.3,310.2 L1270.3,296.1 L1247.3,281.9 L1224.2,267.3 L1201,252.5 L1177.7,237.5 L1154.3,222.1 L1130.8,206.4 L1107.2,190.3 L1083.4,173.9 L1059.6,157.1 L1035.6,139.9 M1134.2,281 L1157.5,278.7 L1180.8,275.5 L1204,271.5 L1227.3,266.6 L1250.5,260.7 L1273.7,253.7 L1296.9,245.5 L1320.2,236.1 L1343.6,225.4 L1367,213.3 L1390.6,199.8 L1414.3,184.8 M1319.2,323.3 L1296.4,309.5 L1273.4,295.4 L1250.4,281.1 L1227.3,266.6 L1204.1,251.8 L1180.8,236.8 L1157.4,221.4 L1133.9,205.7 L1110.3,189.7 L1086.6,173.3 L1062.7,156.5 L1038.7,139.3 M1131.1,279.1 L1154.4,276.7 L1177.7,273.5 L1200.9,269.6 L1224.2,264.7 L1247.4,258.8 L1270.6,251.8 L1293.9,243.6 L1317.2,234.2 L1340.5,223.5 L1364,211.5 L1387.6,198 L1411.3,183 M1322.3,322.5 L1299.4,308.7 L1276.5,294.7 L1253.5,280.4 L1230.4,265.9 L1207.2,251.1 L1183.9,236.1 L1160.5,220.7 L1137,205.1 L1113.4,189 L1089.7,172.7 L1065.9,155.9 L1041.9,138.8 M1127.9,277.1 L1151.3,274.7 L1174.6,271.6 L1197.9,267.6 L1221.1,262.7 L1244.3,256.8 L1267.5,249.8 L1290.8,241.7 L1314.1,232.3 L1337.5,221.7 L1360.9,209.6 L1384.5,196.1 L1408.2,181.2 M1325.4,321.8 L1302.5,307.9 L1279.6,293.9 L1256.6,279.6 L1233.5,265.1 L1210.3,250.4 L1187,235.4 L1163.6,220 L1140.2,204.4 L1116.6,188.4 L1092.9,172 L1069,155.3 L1045,138.2 M1124.8,275.1 L1148.2,272.7 L1171.5,269.6 L1194.8,265.6 L1218,260.7 L1241.2,254.9 L1264.5,247.9 L1287.7,239.8 L1311,230.4 L1334.4,219.8 L1357.9,207.8 L1381.4,194.3 L1405.2,179.3 M1328.5,320.9 L1305.6,307.1 L1282.7,293.1 L1259.6,278.9 L1236.6,264.4 L1213.4,249.6 L1190.1,234.6 L1166.8,219.3 L1143.3,203.7 L1119.7,187.7 L1096,171.4 L1072.2,154.6 L1048.2,137.5 M1121.7,273.1 L1145.1,270.7 L1168.4,267.6 L1191.7,263.6 L1214.9,258.8 L1238.1,252.9 L1261.4,246 L1284.7,237.9 L1308,228.5 L1331.3,217.9 L1354.8,205.9 L1378.4,192.4 L1402.1,177.5 M1331.5,320.1 L1308.7,306.3 L1285.7,292.3 L1262.7,278.1 L1239.6,263.6 L1216.5,248.9 L1193.2,233.9 L1169.9,218.6 L1146.4,203 L1122.8,187 L1099.1,170.7 L1075.3,154 L1051.3,136.9 M1118.6,271.1 L1142,268.7 L1165.3,265.6 L1188.6,261.6 L1211.8,256.8 L1235.1,251 L1258.3,244 L1281.6,236 L1304.9,226.7 L1328.3,216 L1351.7,204 L1375.3,190.6 L1399,175.6 M1334.6,319.3 L1311.7,305.4 L1288.8,291.4 L1265.8,277.2 L1242.7,262.8 L1219.6,248.1 L1196.3,233.1 L1173,217.8 L1149.5,202.2 L1126,186.3 L1102.3,170 L1078.4,153.3 L1054.5,136.3 M1115.5,269.1 L1138.8,266.7 L1162.2,263.6 L1185.5,259.7 L1208.7,254.8 L1232,249 L1255.2,242.1 L1278.5,234 L1301.8,224.7 L1325.2,214.1 L1348.7,202.2 L1372.2,188.7 L1396,173.8 M1337.7,318.4 L1314.8,304.6 L1291.9,290.6 L1268.9,276.4 L1245.8,262 L1222.7,247.3 L1199.4,232.3 L1176.1,217.1 L1152.6,201.5 L1129.1,185.6 L1105.4,169.3 L1081.6,152.7 L1057.6,135.6 M1112.3,267.1 L1135.7,264.7 L1159.1,261.6 L1182.4,257.7 L1205.6,252.8 L1228.9,247 L1252.1,240.2 L1275.4,232.1 L1298.7,222.8 L1322.1,212.3 L1345.6,200.3 L1369.2,186.9 L1392.9,171.9 M1340.7,317.5 L1317.9,303.7 L1295,289.7 L1272,275.5 L1248.9,261.1 L1225.8,246.5 L1202.5,231.5 L1179.2,216.3 L1155.8,200.7 L1132.2,184.8 L1108.5,168.6 L1084.7,152 L1060.8,134.9 M1109.2,265.1 L1132.6,262.7 L1155.9,259.6 L1179.2,255.7 L1202.5,250.8 L1225.8,245.1 L1249.1,238.2 L1272.3,230.2 L1295.7,220.9 L1319,210.4 L1342.5,198.4 L1366.1,185 L1389.8,170.1 M1343.8,316.6 L1321,302.8 L1298.1,288.8 L1275.1,274.7 L1252,260.3 L1228.9,245.6 L1205.6,230.7 L1182.3,215.5 L1158.9,199.9 L1135.3,184.1 L1111.7,167.8 L1087.9,151.2 L1063.9,134.2 M1106.1,263.1 L1129.5,260.7 L1152.8,257.6 L1176.1,253.6 L1199.4,248.9 L1222.7,243.1 L1246,236.2 L1269.3,228.2 L1292.6,219 L1316,208.5 L1339.4,196.5 L1363,183.1 L1386.8,168.2 M1346.9,315.7 L1324.1,301.9 L1301.2,287.9 L1278.2,273.8 L1255.1,259.4 L1232,244.8 L1208.8,229.9 L1185.4,214.7 L1162,199.1 L1138.5,183.3 L1114.8,167.1 L1091,150.5 L1067.1,133.5 M1102.9,261.1 L1126.4,258.6 L1149.7,255.5 L1173,251.6 L1196.3,246.9 L1219.6,241.1 L1242.9,234.3 L1266.2,226.3 L1289.5,217.1 L1312.9,206.6 L1336.4,194.6 L1360,181.2 L1383.7,166.3 M1350,314.7 L1327.1,300.9 L1304.2,287 L1281.3,272.8 L1258.2,258.5 L1235.1,243.9 L1211.9,229 L1188.5,213.8 L1165.1,198.3 L1141.6,182.5 L1117.9,166.3 L1094.1,149.8 L1070.2,132.8 M1099.8,259.1 L1123.2,256.6 L1146.6,253.5 L1169.9,249.6 L1193.2,244.9 L1216.5,239.1 L1239.8,232.3 L1263.1,224.4 L1286.4,215.2 L1309.8,204.7 L1333.3,192.7 L1356.9,179.4 L1380.6,164.5 M1353,313.7 L1330.2,300 L1307.3,286 L1284.4,271.9 L1261.3,257.6 L1238.2,243 L1215,228.1 L1191.7,213 L1168.2,197.5 L1144.7,181.7 L1121.1,165.5 L1097.3,149 L1073.4,132.1 M1096.7,257 L1120.1,254.6 L1143.5,251.5 L1166.8,247.6 L1190.1,242.8 L1213.4,237.1 L1236.7,230.3 L1260,222.4 L1283.3,213.2 L1306.7,202.7 L1330.2,190.8 L1353.8,177.5 L1377.5,162.6 M1356.1,312.7 L1333.3,299 L1310.4,285.1 L1287.4,271 L1264.4,256.6 L1241.3,242.1 L1218.1,227.2 L1194.8,212.1 L1171.4,196.6 L1147.8,180.9 L1124.2,164.7 L1100.4,148.2 L1076.5,131.3 M1093.5,255 L1117,252.5 L1140.4,249.4 L1163.7,245.6 L1187,240.8 L1210.3,235.1 L1233.6,228.4 L1256.9,220.5 L1280.2,211.3 L1303.6,200.8 L1327.1,189 L1350.7,175.6 L1374.5,160.7 M1359.2,311.7 L1336.4,298 L1313.5,284.1 L1290.5,270 L1267.5,255.7 L1244.4,241.1 L1221.2,226.3 L1197.9,211.2 L1174.5,195.8 L1151,180 L1127.3,163.9 L1103.6,147.4 L1079.7,130.5 M1090.4,252.9 L1113.8,250.5 L1137.2,247.4 L1160.6,243.5 L1183.9,238.8 L1207.2,233.1 L1230.5,226.4 L1253.8,218.5 L1277.2,209.4 L1300.6,198.9 L1324.1,187 L1347.6,173.7 L1371.4,158.8 M1362.3,310.7 L1339.5,296.9 L1316.6,283.1 L1293.6,269 L1270.6,254.7 L1247.5,240.2 L1224.3,225.4 L1201,210.3 L1177.6,194.9 L1154.1,179.1 L1130.5,163 L1106.7,146.6 L1082.8,129.7 M1087.3,250.9 L1110.7,248.4 L1134.1,245.3 L1157.5,241.5 L1180.8,236.8 L1204.1,231.1 L1227.4,224.4 L1250.7,216.5 L1274.1,207.4 L1297.5,197 L1321,185.1 L1344.6,171.8 L1368.3,156.9 M1365.3,309.6 L1342.5,295.9 L1319.7,282 L1296.7,268 L1273.7,253.7 L1250.6,239.2 L1227.4,224.4 L1204.1,209.3 L1180.7,193.9 L1157.2,178.2 L1133.6,162.2 L1109.8,145.7 L1085.9,128.9 M1084.1,248.8 L1107.6,246.4 L1131,243.3 L1154.3,239.4 L1177.7,234.7 L1201,229.1 L1224.3,222.4 L1247.6,214.6 L1271,205.5 L1294.4,195.1 L1317.9,183.2 L1341.5,169.9 L1365.2,155 M1368.4,308.5 L1345.6,294.8 L1322.8,281 L1299.8,266.9 L1276.8,252.7 L1253.7,238.2 L1230.5,223.4 L1207.2,208.4 L1183.8,193 L1160.3,177.3 L1136.7,161.3 L1113,144.9 L1089.1,128 M1081,246.8 L1104.4,244.3 L1127.9,241.2 L1151.2,237.4 L1174.6,232.7 L1197.9,227.1 L1221.2,220.4 L1244.5,212.6 L1267.9,203.5 L1291.3,193.1 L1314.8,181.3 L1338.4,168 L1362.1,153.1 M1371.5,307.4 L1348.7,293.7 L1325.8,279.9 L1302.9,265.9 L1279.9,251.6 L1256.8,237.2 L1233.6,222.4 L1210.3,207.4 L1187,192.1 L1163.5,176.4 L1139.9,160.4 L1116.1,144 L1092.2,127.2 M1077.8,244.7 L1101.3,242.2 L1124.7,239.1 L1148.1,235.3 L1171.4,230.7 L1194.8,225.1 L1218.1,218.4 L1241.4,210.6 L1264.8,201.6 L1288.2,191.2 L1311.7,179.4 L1335.3,166.1 L1359.1,151.2 M1374.6,306.3 L1351.8,292.6 L1328.9,278.8 L1306,264.8 L1283,250.6 L1259.9,236.1 L1236.7,221.4 L1213.5,206.4 L1190.1,191.1 L1166.6,175.4 L1143,159.4 L1119.3,143.1 L1095.4,126.3 M1074.7,242.6 L1098.2,240.1 L1121.6,237.1 L1145,233.3 L1168.3,228.6 L1191.7,223 L1215,216.4 L1238.3,208.6 L1261.7,199.6 L1285.1,189.2 L1308.6,177.5 L1332.2,164.2 L1356,149.3 M1377.7,305.2 L1354.9,291.5 L1332,277.7 L1309.1,263.7 L1286.1,249.5 L1263,235 L1239.8,220.3 L1216.6,205.4 L1193.2,190.1 L1169.7,174.5 L1146.1,158.5 L1122.4,142.1 L1098.5,125.4 M1071.5,240.5 L1095,238.1 L1118.5,235 L1141.9,231.2 L1165.2,226.6 L1188.6,221 L1211.9,214.4 L1235.2,206.6 L1258.6,197.6 L1282,187.3 L1305.5,175.5 L1329.1,162.3 L1352.9,147.4 M1380.7,304 L1358,290.3 L1335.1,276.5 L1312.2,262.6 L1289.2,248.4 L1266.1,234 L1242.9,219.3 L1219.7,204.3 L1196.3,189.1 L1172.8,173.5 L1149.2,157.5 L1125.5,141.2 L1101.7,124.5 M1068.4,238.4 L1091.9,236 L1115.3,232.9 L1138.7,229.1 L1162.1,224.5 L1185.4,219 L1208.8,212.4 L1232.1,204.6 L1255.5,195.6 L1278.9,185.3 L1302.4,173.6 L1326,160.4 L1349.8,145.5 M1383.8,302.8 L1361,289.2 L1338.2,275.4 L1315.3,261.4 L1292.3,247.2 L1269.2,232.9 L1246.1,218.2 L1222.8,203.3 L1199.4,188 L1176,172.4 L1152.4,156.5 L1128.7,140.2 L1104.8,123.5 M1065.2,236.3 L1088.7,233.9 L1112.2,230.8 L1135.6,227 L1159,222.4 L1182.3,216.9 L1205.7,210.3 L1229,202.6 L1252.4,193.7 L1275.8,183.4 L1299.3,171.7 L1323,158.4 L1346.7,143.6 M1386.9,301.6 L1364.1,288 L1341.3,274.2 L1318.4,260.2 L1295.4,246.1 L1272.3,231.7 L1249.2,217.1 L1225.9,202.2 L1202.6,187 L1179.1,171.4 L1155.5,155.5 L1131.8,139.2 L1108,122.6 M1062.1,234.2 L1085.6,231.8 L1109,228.7 L1132.5,225 L1155.8,220.4 L1179.2,214.9 L1202.6,208.3 L1225.9,200.6 L1249.3,191.7 L1272.7,181.4 L1296.2,169.7 L1319.9,156.5 L1343.6,141.7 M1390,300.4 L1367.2,286.8 L1344.4,273 L1321.5,259.1 L1298.5,244.9 L1275.4,230.6 L1252.3,216 L1229,201.1 L1205.7,185.9 L1182.2,170.3 L1158.6,154.5 L1134.9,138.2 L1111.1,121.6 M1058.9,232.1 L1082.4,229.7 L1105.9,226.6 L1129.3,222.9 L1152.7,218.3 L1176.1,212.8 L1199.4,206.3 L1222.8,198.6 L1246.2,189.7 L1269.6,179.4 L1293.2,167.8 L1316.8,154.6 L1340.5,139.8 M1393.1,299.1 L1370.3,285.5 L1347.5,271.8 L1324.6,257.8 L1301.6,243.7 L1278.5,229.4 L1255.4,214.8 L1232.1,199.9 L1208.8,184.8 L1185.3,169.3 L1161.8,153.4 L1138.1,137.2 L1114.2,120.6 M1055.8,230 L1079.3,227.5 L1102.8,224.5 L1126.2,220.8 L1149.6,216.2 L1173,210.7 L1196.3,204.2 L1219.7,196.6 L1243.1,187.7 L1266.5,177.5 L1290.1,165.8 L1313.7,152.6 L1337.4,137.8 M1396.2,297.9 L1373.4,284.2 L1350.6,270.5 L1327.7,256.6 L1304.7,242.5 L1281.6,228.2 L1258.5,213.6 L1235.3,198.8 L1211.9,183.6 L1188.5,168.2 L1164.9,152.3 L1141.2,136.1 L1117.4,119.5 M1052.6,227.9 L1076.1,225.4 L1099.6,222.4 L1123.1,218.7 L1146.5,214.1 L1169.8,208.7 L1193.2,202.2 L1216.6,194.6 L1240,185.7 L1263.4,175.5 L1286.9,163.8 L1310.6,150.7 L1334.3,135.9 M1399.3,296.6 L1376.5,283 L1353.7,269.2 L1330.8,255.4 L1307.8,241.3 L1284.8,227 L1261.6,212.4 L1238.4,197.6 L1215,182.5 L1191.6,167 L1168,151.2 L1144.4,135 L1120.5,118.5 M1049.4,225.8 L1073,223.3 L1096.5,220.3 L1119.9,216.5 L1143.3,212 L1166.7,206.6 L1190.1,200.1 L1213.5,192.5 L1236.9,183.7 L1260.3,173.5 L1283.8,161.9 L1307.5,148.7 L1331.2,133.9 M1402.3,295.2 L1379.6,281.7 L1356.8,267.9 L1333.9,254.1 L1310.9,240 L1287.9,225.7 L1264.7,211.2 L1241.5,196.4 L1218.2,181.3 L1194.7,165.9 L1171.2,150.1 L1147.5,133.9 L1123.7,117.4 M1046.3,223.6 L1069.8,221.2 L1093.3,218.1 L1116.8,214.4 L1140.2,209.9 L1163.6,204.5 L1187,198.1 L1210.4,190.5 L1233.8,181.7 L1257.2,171.5 L1280.7,159.9 L1304.4,146.8 L1328.1,132 M1405.4,293.9 L1382.7,280.3 L1359.9,266.6 L1337,252.8 L1314,238.7 L1291,224.5 L1267.8,210 L1244.6,195.2 L1221.3,180.1 L1197.9,164.7 L1174.3,148.9 L1150.6,132.8 L1126.8,116.3 M1043.1,221.5 L1066.7,219 L1090.2,216 L1113.6,212.3 L1137.1,207.8 L1160.5,202.4 L1183.8,196 L1207.2,188.5 L1230.6,179.7 L1254.1,169.5 L1277.6,157.9 L1301.3,144.8 L1325,130 M1408.5,292.5 L1385.8,279 L1363,265.3 L1340.1,251.5 L1317.1,237.4 L1294.1,223.2 L1271,208.7 L1247.7,193.9 L1224.4,178.9 L1201,163.5 L1177.4,147.8 L1153.8,131.6 L1130,115.1 M1039.9,219.4 L1063.5,216.9 L1087,213.8 L1110.5,210.2 L1133.9,205.7 L1157.3,200.3 L1180.7,193.9 L1204.1,186.4 L1227.5,177.6 L1251,167.5 L1274.5,155.9 L1298.2,142.8 L1321.9,128.1 M1411.6,291.2 L1388.9,277.6 L1366.1,263.9 L1343.2,250.1 L1320.2,236.1 L1297.2,221.9 L1274.1,207.4 L1250.9,192.7 L1227.5,177.6 L1204.1,162.3 L1180.6,146.6 L1156.9,130.5 L1133.1,114 M1036.8,217.2 L1060.3,214.7 L1083.9,211.7 L1107.3,208 L1130.8,203.6 L1154.2,198.2 L1177.6,191.9 L1201,184.4 L1224.4,175.6 L1247.9,165.5 L1271.4,153.9 L1295,140.9 L1318.8,126.1 M1414.7,289.7 L1392,276.2 L1369.2,262.6 L1346.3,248.7 L1323.3,234.8 L1300.3,220.6 L1277.2,206.1 L1254,191.4 L1230.7,176.4 L1207.2,161 L1183.7,145.3 L1160,129.3 L1136.2,112.8 M1033.6,215 L1057.2,212.6 L1080.7,209.5 L1104.2,205.9 L1127.6,201.5 L1151.1,196.1 L1174.5,189.8 L1197.9,182.3 L1221.3,173.6 L1244.8,163.5 L1268.3,152 L1291.9,138.9 L1315.7,124.2 M1417.8,288.3 L1395.1,274.8 L1372.3,261.1 L1349.4,247.4 L1326.5,233.4 L1303.4,219.2 L1280.3,204.8 L1257.1,190.1 L1233.8,175.1 L1210.4,159.8 L1186.8,144.1 L1163.2,128 L1139.4,111.6 M1030.4,212.9 L1054,210.4 L1077.5,207.4 L1101,203.7 L1124.5,199.3 L1147.9,194 L1171.3,187.7 L1194.7,180.2 L1218.2,171.5 L1241.7,161.5 L1265.2,150 L1288.8,136.9 L1312.6,122.2 M1420.9,286.9 L1398.2,273.3 L1375.4,259.7 L1352.5,245.9 L1329.6,232 L1306.5,217.8 L1283.4,203.4 L1260.2,188.7 L1236.9,173.8 L1213.5,158.5 L1190,142.8 L1166.3,126.8 L1142.5,110.4 M1027.3,210.7 L1050.8,208.2 L1074.4,205.2 L1097.9,201.6 L1121.3,197.2 L1144.8,191.9 L1168.2,185.6 L1191.6,178.2 L1215.1,169.5 L1238.5,159.4 L1262.1,147.9 L1285.7,134.9 L1309.5,120.2 M1424,285.4 L1401.3,271.9 L1378.5,258.3 L1355.6,244.5 L1332.7,230.6 L1309.7,216.4 L1286.5,202 L1263.3,187.4 L1240,172.4 L1216.6,157.1 L1193.1,141.5 L1169.5,125.5 L1145.7,109.1 M1024.1,208.5 L1047.7,206 L1071.2,203 L1094.7,199.4 L1118.2,195.1 L1141.6,189.8 L1165.1,183.5 L1188.5,176.1 L1211.9,167.4 L1235.4,157.4 L1259,145.9 L1282.6,132.9 L1306.4,118.2 M1427.1,283.9 L1404.4,270.4 L1381.6,256.8 L1358.7,243 L1335.8,229.1 L1312.8,215 L1289.7,200.6 L1266.5,186 L1243.2,171 L1219.8,155.8 L1196.2,140.2 L1172.6,124.2 L1148.8,107.8 M1020.9,206.3 L1044.5,203.8 L1068.1,200.9 L1091.6,197.3 L1115,192.9 L1138.5,187.7 L1161.9,181.4 L1185.4,174 L1208.8,165.4 L1232.3,155.4 L1255.8,143.9 L1279.5,130.9 L1303.2,116.2 M1430.2,282.4 L1407.5,268.9 L1384.7,255.3 L1361.9,241.6 L1338.9,227.6 L1315.9,213.5 L1292.8,199.2 L1269.6,184.6 L1246.3,169.6 L1222.9,154.4 L1199.4,138.8 L1175.7,122.9 L1152,106.5 M1017.7,204.1 L1041.3,201.6 L1064.9,198.7 L1088.4,195.1 L1111.9,190.8 L1135.3,185.5 L1158.8,179.3 L1182.2,171.9 L1205.7,163.3 L1229.2,153.3 L1252.7,141.9 L1276.4,128.9 L1300.1,114.2 M1433.3,280.8 L1410.6,267.4 L1387.8,253.8 L1365,240 L1342,226.2 L1319,212.1 L1295.9,197.7 L1272.7,183.1 L1249.4,168.2 L1226,153 L1202.5,137.5 L1178.9,121.5 L1155.1,105.2 M1014.5,201.9 L1038.1,199.4 L1061.7,196.5 L1085.2,192.9 L1108.7,188.6 L1132.2,183.4 L1155.6,177.2 L1179.1,169.8 L1202.5,161.2 L1226,151.3 L1249.6,139.9 L1273.2,126.9 L1297,112.2 M1436.4,279.3 L1413.7,265.8 L1390.9,252.2 L1368.1,238.5 L1345.2,224.6 L1322.1,210.6 L1299,196.2 L1275.9,181.7 L1252.6,166.8 L1229.2,151.6 L1205.7,136.1 L1182,120.1 L1158.3,103.8 M1011.3,199.7 L1035,197.2 L1058.5,194.3 L1082.1,190.7 L1105.6,186.4 L1129,181.2 L1152.5,175 L1175.9,167.7 L1199.4,159.2 L1222.9,149.2 L1246.5,137.8 L1270.1,124.9 L1293.9,110.2 M1439.5,277.7 L1416.8,264.2 L1394.1,250.7 L1371.2,237 L1348.3,223.1 L1325.3,209 L1302.2,194.7 L1279,180.2 L1255.7,165.3 L1232.3,150.1 L1208.8,134.6 L1185.2,118.7 L1161.4,102.5 M1008.1,197.5 L1031.8,195 L1055.4,192.1 L1078.9,188.5 L1102.4,184.2 L1125.9,179.1 L1149.4,172.9 L1172.8,165.6 L1196.3,157.1 L1219.8,147.2 L1243.3,135.8 L1267,122.8 L1290.7,108.2 M1442.7,276.1 L1420,262.6 L1397.2,249.1 L1374.3,235.4 L1351.4,221.5 L1328.4,207.5 L1305.3,193.2 L1282.1,178.7 L1258.8,163.8 L1235.4,148.7 L1211.9,133.2 L1188.3,117.3 L1164.6,101 M1004.9,195.3 L1028.6,192.8 L1052.2,189.9 L1075.7,186.3 L1099.3,182.1 L1122.7,176.9 L1146.2,170.8 L1169.7,163.5 L1193.1,155 L1216.6,145.1 L1240.2,133.7 L1263.9,120.8 L1287.6,106.2 M1445.8,274.4 L1423.1,261 L1400.3,247.4 L1377.4,233.8 L1354.5,219.9 L1331.5,205.9 L1308.4,191.6 L1285.2,177.1 L1262,162.3 L1238.6,147.2 L1215.1,131.7 L1191.5,115.8 L1167.7,99.6 M1001.7,193.1 L1025.4,190.6 L1049,187.7 L1072.6,184.1 L1096.1,179.9 L1119.6,174.8 L1143.1,168.6 L1166.5,161.4 L1190,152.9 L1213.5,143 L1237.1,131.7 L1260.7,118.8 L1284.5,104.1 M1448.9,272.8 L1426.2,259.3 L1403.4,245.8 L1380.6,232.1 L1357.7,218.3 L1334.6,204.3 L1311.6,190 L1288.4,175.5 L1265.1,160.7 L1241.7,145.6 L1218.2,130.2 L1194.6,114.3 L1170.9,98.1 M998.6,190.8 L1022.2,188.3 L1045.8,185.4 L1069.4,181.9 L1092.9,177.7 L1116.4,172.6 L1139.9,166.5 L1163.4,159.3 L1186.9,150.8 L1210.4,140.9 L1233.9,129.6 L1257.6,116.7 L1281.4,102.1 M1452,271.1 L1429.3,257.7 L1406.5,244.1 L1383.7,230.5 L1360.8,216.7 L1337.8,202.7 L1314.7,188.4 L1291.5,173.9 L1268.2,159.2 L1244.9,144.1 L1221.4,128.6 L1197.8,112.8 L1174,96.6 M995.3,188.6 L1019,186.1 L1042.6,183.2 L1066.2,179.7 L1089.8,175.5 L1113.3,170.4 L1136.7,164.3 L1160.2,157.1 L1183.7,148.7 L1207.2,138.9 L1230.8,127.6 L1254.5,114.7 L1278.2,100.1 M1455.1,269.4 L1432.4,256 L1409.7,242.5 L1386.8,228.8 L1363.9,215 L1340.9,201 L1317.8,186.8 L1294.7,172.3 L1271.4,157.6 L1248,142.5 L1224.5,127.1 L1200.9,111.3 L1177.2,95.1 M992.1,186.4 L1015.8,183.9 L1039.4,181 L1063,177.5 L1086.6,173.3 L1110.1,168.2 L1133.6,162.2 L1157.1,155 L1180.6,146.6 L1204.1,136.8 L1227.7,125.5 L1251.3,112.6 L1275.1,98 M1458.2,267.7 L1435.6,254.3 L1412.8,240.7 L1390,227.1 L1367,213.3 L1344,199.3 L1321,185.1 L1297.8,170.7 L1274.5,155.9 L1251.2,140.9 L1227.7,125.5 L1204.1,109.7 L1180.3,93.5 M988.9,184.1 L1012.6,181.6 L1036.3,178.7 L1059.9,175.2 L1083.4,171.1 L1106.9,166 L1130.4,160 L1153.9,152.8 L1177.4,144.4 L1200.9,134.7 L1224.5,123.4 L1248.2,110.5 L1272,96 M1461.4,265.9 L1438.7,252.5 L1415.9,239 L1393.1,225.4 L1370.2,211.6 L1347.2,197.6 L1324.1,183.4 L1300.9,169 L1277.7,154.3 L1254.3,139.2 L1230.8,123.9 L1207.2,108.1 L1183.5,92 M985.7,181.8 L1009.4,179.3 L1033.1,176.5 L1056.7,173 L1080.2,168.8 L1103.8,163.8 L1127.3,157.8 L1150.8,150.7 L1174.3,142.3 L1197.8,132.6 L1221.4,121.3 L1245,108.5 L1268.8,93.9 M1464.5,264.2 L1441.8,250.7 L1419.1,237.2 L1396.2,223.6 L1373.3,209.9 L1350.3,195.9 L1327.2,181.7 L1304.1,167.3 L1280.8,152.6 L1257.4,137.6 L1234,122.2 L1210.4,106.5 L1186.6,90.3 M982.5,179.6 L1006.2,177.1 L1029.9,174.2 L1053.5,170.8 L1077.1,166.6 L1100.6,161.6 L1124.1,155.6 L1147.6,148.5 L1171.1,140.2 L1194.7,130.4 L1218.2,119.2 L1241.9,106.4 L1265.7,91.8 M1467.6,262.4 L1445,248.9 L1422.2,235.5 L1399.4,221.8 L1376.5,208.1 L1353.5,194.2 L1330.4,180 L1307.2,165.6 L1284,150.9 L1260.6,135.9 L1237.1,120.5 L1213.5,104.8 L1189.8,88.7 M979.3,177.3 L1003,174.8 L1026.7,171.9 L1050.3,168.5 L1073.9,164.4 L1097.4,159.4 L1120.9,153.4 L1144.4,146.4 L1168,138 L1191.5,128.3 L1215.1,117.1 L1238.8,104.3 L1262.5,89.8 M1470.8,260.5 L1448.1,247.1 L1425.3,233.6 L1402.5,220 L1379.6,206.3 L1356.6,192.4 L1333.5,178.2 L1310.4,163.8 L1287.1,149.1 L1263.7,134.1 L1240.3,118.8 L1216.7,103.1 L1192.9,87 M976.1,175 L999.8,172.5 L1023.5,169.7 L1047.1,166.2 L1070.7,162.1 L1094.2,157.2 L1117.8,151.2 L1141.3,144.2 L1164.8,135.9 L1188.4,126.2 L1211.9,115 L1235.6,102.2 L1259.4,87.7 M1473.9,258.7 L1451.2,245.3 L1428.5,231.8 L1405.6,218.2 L1382.7,204.5 L1359.8,190.6 L1336.7,176.4 L1313.5,162 L1290.3,147.4 L1266.9,132.4 L1243.4,117.1 L1219.8,101.4 L1196.1,85.3 M972.9,172.7 L996.6,170.2 L1020.3,167.4 L1043.9,164 L1067.5,159.9 L1091.1,155 L1114.6,149 L1138.1,142 L1161.6,133.7 L1185.2,124.1 L1208.8,112.9 L1232.5,100.1 L1256.2,85.6 M1477,256.8 L1454.4,243.4 L1431.6,230 L1408.8,216.4 L1385.9,202.6 L1362.9,188.7 L1339.8,174.6 L1316.7,160.2 L1293.4,145.6 L1270.1,130.6 L1246.6,115.3 L1223,99.6 L1199.3,83.6 M969.7,170.4 L993.4,167.9 L1017.1,165.1 L1040.7,161.7 L1064.3,157.6 L1087.9,152.7 L1111.4,146.8 L1135,139.8 L1158.5,131.6 L1182,121.9 L1205.6,110.8 L1229.3,98 L1253.1,83.5 M1480.2,255 L1457.5,241.5 L1434.8,228.1 L1411.9,214.5 L1389,200.8 L1366.1,186.9 L1343,172.7 L1319.8,158.4 L1296.6,143.7 L1273.2,128.8 L1249.7,113.5 L1226.2,97.9 L1202.4,81.8 M966.4,168.1 L990.2,165.6 L1013.9,162.8 L1037.5,159.4 L1061.1,155.4 L1084.7,150.5 L1108.3,144.6 L1131.8,137.6 L1155.3,129.4 L1178.9,119.8 L1202.5,108.6 L1226.2,95.9 L1249.9,81.4 M1483.3,253 L1460.7,239.6 L1437.9,226.2 L1415.1,212.6 L1392.2,198.9 L1369.2,185 L1346.1,170.9 L1323,156.5 L1299.7,141.9 L1276.4,127 L1252.9,111.7 L1229.3,96 L1205.6,80 M963.2,165.8 L986.9,163.3 L1010.7,160.5 L1034.3,157.1 L1057.9,153.1 L1081.5,148.2 L1105.1,142.4 L1128.6,135.4 L1152.2,127.2 L1175.7,117.6 L1199.3,106.5 L1223,93.8 L1246.8,79.3 M1486.5,251.1 L1463.8,237.7 L1441.1,224.2 L1418.2,210.7 L1395.3,196.9 L1372.4,183.1 L1349.3,169 L1326.1,154.6 L1302.9,140 L1279.5,125.1 L1256.1,109.8 L1232.5,94.2 L1208.8,78.2 M960,163.5 L983.7,161 L1007.4,158.2 L1031.1,154.8 L1054.7,150.8 L1078.3,146 L1101.9,140.2 L1125.4,133.2 L1149,125 L1172.6,115.4 L1196.2,104.4 L1219.8,91.7 L1243.6,77.2 M1489.6,249.1 L1467,235.7 L1444.2,222.3 L1421.4,208.7 L1398.5,195 L1375.5,181.1 L1352.5,167 L1329.3,152.7 L1306.1,138.1 L1282.7,123.2 L1259.2,107.9 L1235.6,92.3 L1211.9,76.3 M956.7,161.2 L980.5,158.7 L1004.2,155.9 L1027.9,152.5 L1051.5,148.5 L1075.1,143.7 L1098.7,137.9 L1122.3,131 L1145.8,122.8 L1169.4,113.3 L1193,102.2 L1216.7,89.5 L1240.5,75.1 M1492.8,247.2 L1470.1,233.7 L1447.4,220.3 L1424.6,206.7 L1401.7,193 L1378.7,179.1 L1355.6,165.1 L1332.5,150.7 L1309.2,136.2 L1285.9,121.3 L1262.4,106 L1238.8,90.4 L1215.1,74.4 M953.5,158.8 L977.3,156.4 L1001,153.6 L1024.7,150.2 L1048.3,146.2 L1071.9,141.4 L1095.5,135.7 L1119.1,128.8 L1142.6,120.6 L1166.2,111.1 L1189.8,100.1 L1213.5,87.4 L1237.3,72.9 M1495.9,245.2 L1473.3,231.7 L1450.5,218.3 L1427.7,204.7 L1404.8,191 L1381.9,177.1 L1358.8,163.1 L1335.6,148.8 L1312.4,134.2 L1289,119.3 L1265.6,104.1 L1242,88.5 L1218.3,72.5 M950.3,156.5 L974,154 L997.8,151.2 L1021.5,147.9 L1045.1,143.9 L1068.7,139.2 L1092.3,133.4 L1115.9,126.5 L1139.5,118.4 L1163,108.9 L1186.7,97.9 L1210.4,85.2 L1234.1,70.8 M1499.1,243.1 L1476.4,229.7 L1453.7,216.2 L1430.9,202.7 L1408,189 L1385,175.1 L1362,161.1 L1338.8,146.8 L1315.6,132.2 L1292.2,117.3 L1268.7,102.1 L1245.2,86.5 L1221.4,70.5 M947,154.2 L970.8,151.7 L994.6,148.9 L1018.3,145.6 L1041.9,141.6 L1065.5,136.9 L1089.1,131.1 L1112.7,124.3 L1136.3,116.2 L1159.9,106.7 L1183.5,95.7 L1207.2,83.1 L1231,68.7 M1502.3,241.1 L1479.6,227.6 L1456.9,214.2 L1434.1,200.6 L1411.2,186.9 L1388.2,173.1 L1365.1,159 L1342,144.7 L1318.7,130.1 L1295.4,115.3 L1271.9,100.1 L1248.3,84.5 L1224.6,68.5 M943.8,151.8 L967.6,149.3 L991.3,146.5 L1015,143.3 L1038.7,139.3 L1062.3,134.6 L1085.9,128.9 L1109.5,122.1 L1133.1,114 L1156.7,104.5 L1180.3,93.5 L1204,80.9 L1227.8,66.5 M1505.4,239 L1482.8,225.6 L1460,212.1 L1437.2,198.5 L1414.3,184.8 L1391.4,171 L1368.3,156.9 L1345.2,142.6 L1321.9,128.1 L1298.6,113.2 L1275.1,98 L1251.5,82.5 L1227.8,66.5" fill="none" stroke="#000" stroke-opacity="0.6" stroke-width="0.8"/>
<path d="M1227,337.6 L1212.4,329 L1197.8,320.2 L1183.2,311.4 L1168.5,302.4 L1153.8,293.3 L1139.1,284.1 L1124.3,274.8 L1109.5,265.3 L1094.7,255.7 L1079.8,246 L1064.9,236.1 L1049.9,226.1 L1034.9,215.9 L1019.9,205.6 L1004.8,195.2 L989.6,184.6 L974.4,173.8 L959.1,162.9 L943.8,151.8 L943.8,151.8 L958.8,150.3 L973.8,148.6 L988.8,146.9 L1003.8,144.9 L1018.8,142.7 L1033.7,140.2 L1048.7,137.4 L1063.6,134.3 L1078.5,130.8 L1093.4,126.9 L1108.3,122.5 L1123.2,117.5 L1138.1,112.1 L1153,106.1 L1167.9,99.5 L1182.8,92.3 L1197.8,84.4 L1212.8,75.8 L1227.8,66.5 L1227.8,66.5 L1242.8,76.6 L1257.7,86.6 L1272.6,96.4 L1287.5,106.1 L1302.3,115.6 L1317,125 L1331.7,134.2 L1346.4,143.4 L1361,152.4 L1375.6,161.4 L1390.2,170.2 L1404.7,179 L1419.2,187.7 L1433.6,196.4 L1448,205 L1462.4,213.5 L1476.8,222 L1491.1,230.5 L1505.4,239 L1505.4,239 L1490.4,248.6 L1475.6,257.7 L1460.7,266.3 L1445.9,274.4 L1431.2,281.9 L1416.5,288.9 L1401.9,295.4 L1387.2,301.5 L1372.6,307 L1358.1,312.1 L1343.5,316.7 L1328.9,320.8 L1314.4,324.5 L1299.9,327.7 L1285.3,330.5 L1270.7,332.9 L1256.2,334.9 L1241.6,336.4 L1227,337.6Z" fill="none" stroke="#111" stroke-opacity=".5" stroke-width=".8"/>
<polygon points="834.4,1055.4 576.2,956.3 835.1,881.3 1093.3,956.9" fill="#ffff00"/>
<path d="M795.5,1040.5 L796.5,1039.7 L798.5,1038.3 L801.5,1036.2 L804.5,1034.1 L806.2,1032.9 L807.6,1032 L810.7,1029.9 L813.9,1027.8 L817.2,1025.8 L817.8,1025.5 L820.6,1023.9 L824.1,1021.9 L827.7,1020.1 L831.6,1018.3 L835.7,1016.6 L840,1015 L844.6,1013.5 L849.6,1012.1 L855,1010.9 L860.6,1009.9 L861,1009.8 L867.6,1009.1 L872.5,1008.7 L875.2,1008.6 L881.7,1008.5 L884,1008.5 L889.5,1008.8 L894.7,1009.1 L896.6,1009.3 L903.1,1010.1 L908.8,1010.9 L909.2,1011 L914.9,1012 L920.3,1013.1 L925.6,1014.3 L930.6,1015.6 L933.6,1016.4 L935.5,1016.9" fill="none" stroke="#5050a0" stroke-width="1.3"/>
<path d="M656.3,987 L656.8,986 L657.4,984.4 L658.2,982.5 L658.5,981.7 L659.5,979.1 L659.6,979 L660.6,976.5 L661,975.5 L661.6,973.8 L662.3,972.1 L662.6,971.2 L663.6,968.7 L663.6,968.6 L664.7,966 L664.9,965.3 L665.7,963.4 L666.2,961.9 L666.7,960.8 L667.6,958.6 L667.7,958.2 L668.8,955.6 L668.9,955.2 L669.8,953.1 L670.3,951.9 L670.9,950.5 L671.7,948.6 L671.9,948 L673,945.5 L673.2,945.2 L674.2,943.1 L674.7,941.9 L675.3,940.6 L676.3,938.6 L676.5,938.2 L677.7,935.7 L678,935.3 L679,933.3 L679.7,931.9 L680.2,931 L681.6,928.6 L681.6,928.6 L682.9,926.3 L683.6,925.2" fill="none" stroke="#30c8c0" stroke-width="1.3"/>
<path d="M815.5,887 L820.1,888.2 L824.6,889.5 L829,890.8 L833.4,892.1 L837.8,893.4 L842,894.8 L846.3,896.1 L850.5,897.5 L854.6,898.9 L858.7,900.3 L862.8,901.7 L866.9,903.1 L871,904.5 L875,905.9 L879,907.3 L880.9,908 L883,908.8 L886.9,910.2 L890.9,911.7 L894.8,913.1 L898.7,914.6 L902.6,916.1 L906.5,917.6 L910.3,919 L914.2,920.5 L917.2,921.7 L918.1,922 L921.9,923.5 L925.7,925 L929.5,926.5 L933.3,928.1 L937.1,929.6 L940.9,931.1 L944.6,932.6 L946,933.2 L948.4,934.2 L952.1,935.7 L955.9,937.3 L959.6,938.8 L963.3,940.4 L967,942 L970.7,943.5 L971.2,943.7 L974.4,945.1 L978.1,946.7 L981.8,948.3 L985.4,949.9 L989.1,951.5 L992.8,953.1 L993.9,953.6 L996.4,954.7 L1000,956.3 L1003.6,957.9 L1007.3,959.5 L1010.9,961.2 L1014.5,962.8 L1014.7,962.9 L1018,964.4 L1021.6,966.1 L1025.2,967.7 L1028.7,969.4 L1032.3,971.1 L1033.9,971.8 L1035.8,972.7 L1039.3,974.4 L1042.8,976.1" fill="none" stroke="#30c8c0" stroke-width="1.3"/>
<path d="M559.3,671 L835.5,622.4 L1110.2,671.9 M561.4,707.3 L835.4,655.3 L1108.1,708.1 M563.6,743.5 L835.4,688.2 L1105.9,744.3 M565.7,779.8 L835.3,721.1 L1103.8,780.5 M567.9,816 L835.3,754 L1101.6,816.8 M570,852.3 L835.2,786.9 L1099.5,853 M572.2,888.5 L835.2,819.8 L1097.3,889.2 M576.2,956.3 L835.1,881.3 L1093.3,956.9 M576.2,956.3 L559.3,671 M1093.3,956.9 L1110.2,671.9 M637.9,871.3 L628.3,658.9 M703.7,854.2 L697.4,646.7 M769.4,837 L766.5,634.5 M835.2,819.8 L835.5,622.4 M1044.9,875.3 L1055.3,662 M992.5,861.4 L1000.3,652.1 M940,847.6 L945.4,642.2 M887.6,833.7 L890.4,632.3" fill="none" stroke="#444" stroke-width="1.2"/>
<path d="M576.2,956.3 L834.4,1055.4 L1093.3,956.9" fill="none" stroke="#333" stroke-width="1"/>
<g fill="#111"><circle cx="559.3" cy="671" r="1.5"/><circle cx="561.4" cy="707.3" r="1.5"/><circle cx="563.6" cy="743.5" r="1.5"/><circle cx="565.7" cy="779.8" r="1.5"/><circle cx="567.9" cy="816" r="1.5"/><circle cx="570" cy="852.3" r="1.5"/><circle cx="572.2" cy="888.5" r="1.5"/><circle cx="576.2" cy="956.3" r="1.5"/><circle cx="834.4" cy="1055.4" r="1.5"/><circle cx="782.8" cy="1035.6" r="1.5"/><circle cx="731.1" cy="1015.8" r="1.5"/><circle cx="679.5" cy="995.9" r="1.5"/><circle cx="627.8" cy="976.1" r="1.5"/><circle cx="899.1" cy="1030.8" r="1.5"/><circle cx="963.8" cy="1006.2" r="1.5"/><circle cx="1028.6" cy="981.5" r="1.5"/><circle cx="1093.3" cy="956.9" r="1.5"/></g>
<polygon points="835.3,726.7 825,724.5 835.3,720 845.7,721.9" fill="#0a8e27" stroke="#0a8e27" stroke-width=".8"/>
<polygon points="824.9,731.2 814.6,728.8 825,724.5 835.3,726.7" fill="#0a8c2e" stroke="#0a8c2e" stroke-width=".8"/>
<polygon points="845.6,728.8 835.3,726.7 845.7,721.9 856,723.8" fill="#0a8e26" stroke="#0a8e26" stroke-width=".8"/>
<polygon points="855.9,730.9 845.6,728.8 856,723.8 866.3,725.6" fill="#0a8f25" stroke="#0a8f25" stroke-width=".8"/>
<polygon points="835.3,733.6 824.9,731.2 835.3,726.7 845.6,728.8" fill="#0a8c2e" stroke="#0a8c2e" stroke-width=".8"/>
<polygon points="814.6,735.4 804.3,732.7 814.6,728.8 824.9,731.2" fill="#0a8a34" stroke="#0a8a34" stroke-width=".8"/>
<polygon points="866.3,732.9 855.9,730.9 866.3,725.6 876.7,727.4" fill="#0a8f23" stroke="#0a8f23" stroke-width=".8"/>
<polygon points="845.6,735.9 835.3,733.6 845.6,728.8 855.9,730.9" fill="#0a8c2e" stroke="#0a8c2e" stroke-width=".8"/>
<polygon points="824.9,738 814.6,735.4 824.9,731.2 835.3,733.6" fill="#0a8a35" stroke="#0a8a35" stroke-width=".8"/>
<polygon points="804.2,739.3 793.9,736.3 804.3,732.7 814.6,735.4" fill="#0a8839" stroke="#0a8839" stroke-width=".8"/>
<polygon points="855.9,738.1 845.6,735.9 855.9,730.9 866.3,732.9" fill="#0a8c2d" stroke="#0a8c2d" stroke-width=".8"/>
<polygon points="835.2,740.6 824.9,738 835.3,733.6 845.6,735.9" fill="#0a8a35" stroke="#0a8a35" stroke-width=".8"/>
<polygon points="876.6,734.8 866.3,732.9 876.7,727.4 887,729" fill="#0a8f22" stroke="#0a8f22" stroke-width=".8"/>
<polygon points="814.5,742.1 804.2,739.3 814.6,735.4 824.9,738" fill="#09873a" stroke="#09873a" stroke-width=".8"/>
<polygon points="793.9,742.9 783.6,739.7 793.9,736.3 804.2,739.3" fill="#09863c" stroke="#09863c" stroke-width=".8"/>
<polygon points="886.9,736.7 876.6,734.8 887,729 897.4,730.6" fill="#0a8f20" stroke="#0a8f20" stroke-width=".8"/>
<polygon points="804.2,746 793.9,742.9 804.2,739.3 814.5,742.1" fill="#09853e" stroke="#09853e" stroke-width=".8"/>
<polygon points="866.2,740.3 855.9,738.1 866.3,732.9 876.6,734.8" fill="#0a8c2c" stroke="#0a8c2c" stroke-width=".8"/>
<polygon points="845.5,743 835.2,740.6 845.6,735.9 855.9,738.1" fill="#0a8934" stroke="#0a8934" stroke-width=".8"/>
<polygon points="824.9,744.9 814.5,742.1 824.9,738 835.2,740.6" fill="#09863a" stroke="#09863a" stroke-width=".8"/>
<polygon points="783.6,746.2 773.2,742.8 783.6,739.7 793.9,742.9" fill="#09843f" stroke="#09843f" stroke-width=".8"/>
<polygon points="897.3,738.5 886.9,736.7 897.4,730.6 907.7,732.2" fill="#0a8f1e" stroke="#0a8f1e" stroke-width=".8"/>
<polygon points="876.5,742.4 866.2,740.3 876.6,734.8 886.9,736.7" fill="#0a8b2b" stroke="#0a8b2b" stroke-width=".8"/>
<polygon points="855.8,745.5 845.5,743 855.9,738.1 866.2,740.3" fill="#098734" stroke="#098734" stroke-width=".8"/>
<polygon points="835.2,747.6 824.9,744.9 835.2,740.6 845.5,743" fill="#09843a" stroke="#09843a" stroke-width=".8"/>
<polygon points="814.5,749 804.2,746 814.5,742.1 824.9,744.9" fill="#09833e" stroke="#09833e" stroke-width=".8"/>
<polygon points="793.9,749.5 783.6,746.2 793.9,742.9 804.2,746" fill="#098241" stroke="#098241" stroke-width=".8"/>
<polygon points="773.2,749.2 762.9,745.6 773.2,742.8 783.6,746.2" fill="#098240" stroke="#098240" stroke-width=".8"/>
<polygon points="886.8,744.5 876.5,742.4 886.9,736.7 897.3,738.5" fill="#0a8c2a" stroke="#0a8c2a" stroke-width=".8"/>
<polygon points="866.1,747.8 855.8,745.5 866.2,740.3 876.5,742.4" fill="#098733" stroke="#098733" stroke-width=".8"/>
<polygon points="804.2,752.7 793.9,749.5 804.2,746 814.5,749" fill="#097f41" stroke="#097f41" stroke-width=".8"/>
<polygon points="762.9,752 752.6,748.2 762.9,745.6 773.2,749.2" fill="#098041" stroke="#098041" stroke-width=".8"/>
<polygon points="907.6,740.2 897.3,738.5 907.7,732.2 918.1,733.7" fill="#0a901c" stroke="#0a901c" stroke-width=".8"/>
<polygon points="845.5,750.3 835.2,747.6 845.5,743 855.8,745.5" fill="#09823a" stroke="#09823a" stroke-width=".8"/>
<polygon points="824.8,751.9 814.5,749 824.9,744.9 835.2,747.6" fill="#09803e" stroke="#09803e" stroke-width=".8"/>
<polygon points="783.5,752.7 773.2,749.2 783.6,746.2 793.9,749.5" fill="#098042" stroke="#098042" stroke-width=".8"/>
<polygon points="917.9,741.9 907.6,740.2 918.1,733.7 928.4,735.1" fill="#0a911a" stroke="#0a911a" stroke-width=".8"/>
<polygon points="855.8,752.9 845.5,750.3 855.8,745.5 866.1,747.8" fill="#098039" stroke="#098039" stroke-width=".8"/>
<polygon points="835.1,754.8 824.8,751.9 835.2,747.6 845.5,750.3" fill="#097c3d" stroke="#097c3d" stroke-width=".8"/>
<polygon points="897.2,746.4 886.8,744.5 897.3,738.5 907.6,740.2" fill="#0a8c28" stroke="#0a8c28" stroke-width=".8"/>
<polygon points="876.5,750.1 866.1,747.8 876.5,742.4 886.8,744.5" fill="#098632" stroke="#098632" stroke-width=".8"/>
<polygon points="814.5,755.9 804.2,752.7 814.5,749 824.8,751.9" fill="#097b41" stroke="#097b41" stroke-width=".8"/>
<polygon points="793.8,756.2 783.5,752.7 793.9,749.5 804.2,752.7" fill="#097d43" stroke="#097d43" stroke-width=".8"/>
<polygon points="773.2,755.7 762.9,752 773.2,749.2 783.5,752.7" fill="#097e44" stroke="#097e44" stroke-width=".8"/>
<polygon points="752.5,754.4 742.2,750.4 752.6,748.2 762.9,752" fill="#097f41" stroke="#097f41" stroke-width=".8"/>
<polygon points="845.4,757.6 835.1,754.8 845.5,750.3 855.8,752.9" fill="#08793d" stroke="#08793d" stroke-width=".8"/>
<polygon points="928.3,743.5 917.9,741.9 928.4,735.1 938.8,736.4" fill="#0a9217" stroke="#0a9217" stroke-width=".8"/>
<polygon points="907.5,748.4 897.2,746.4 907.6,740.2 917.9,741.9" fill="#0a8e27" stroke="#0a8e27" stroke-width=".8"/>
<polygon points="886.8,752.3 876.5,750.1 886.8,744.5 897.2,746.4" fill="#098732" stroke="#098732" stroke-width=".8"/>
<polygon points="866.1,755.4 855.8,752.9 866.1,747.8 876.5,750.1" fill="#097f39" stroke="#097f39" stroke-width=".8"/>
<polygon points="824.8,759 814.5,755.9 824.8,751.9 835.1,754.8" fill="#087640" stroke="#087640" stroke-width=".8"/>
<polygon points="804.1,759.6 793.8,756.2 804.2,752.7 814.5,755.9" fill="#087843" stroke="#087843" stroke-width=".8"/>
<polygon points="783.5,759.4 773.2,755.7 783.5,752.7 793.8,756.2" fill="#097b45" stroke="#097b45" stroke-width=".8"/>
<polygon points="762.9,758.4 752.5,754.4 762.9,752 773.2,755.7" fill="#097d44" stroke="#097d44" stroke-width=".8"/>
<polygon points="742.2,756.6 731.9,752.4 742.2,750.4 752.5,754.4" fill="#097e40" stroke="#097e40" stroke-width=".8"/>
<polygon points="917.8,750.2 907.5,748.4 917.9,741.9 928.3,743.5" fill="#0a8f25" stroke="#0a8f25" stroke-width=".8"/>
<polygon points="897.1,754.5 886.8,752.3 897.2,746.4 907.5,748.4" fill="#0a8932" stroke="#0a8932" stroke-width=".8"/>
<polygon points="835.1,762 824.8,759 835.1,754.8 845.4,757.6" fill="#08713e" stroke="#08713e" stroke-width=".8"/>
<polygon points="793.8,763 783.5,759.4 793.8,756.2 804.1,759.6" fill="#087645" stroke="#087645" stroke-width=".8"/>
<polygon points="773.2,762.3 762.9,758.4 773.2,755.7 783.5,759.4" fill="#097b46" stroke="#097b46" stroke-width=".8"/>
<polygon points="938.6,745 928.3,743.5 938.8,736.4 949.1,737.7" fill="#0a9414" stroke="#0a9414" stroke-width=".8"/>
<polygon points="876.4,757.8 866.1,755.4 876.5,750.1 886.8,752.3" fill="#098039" stroke="#098039" stroke-width=".8"/>
<polygon points="855.7,760.4 845.4,757.6 855.8,752.9 866.1,755.4" fill="#08773c" stroke="#08773c" stroke-width=".8"/>
<polygon points="814.4,762.9 804.1,759.6 814.5,755.9 824.8,759" fill="#087242" stroke="#087242" stroke-width=".8"/>
<polygon points="752.5,760.8 742.2,756.6 752.5,754.4 762.9,758.4" fill="#097d44" stroke="#097d44" stroke-width=".8"/>
<polygon points="731.8,758.6 721.5,754.2 731.9,752.4 742.2,756.6" fill="#097d3f" stroke="#097d3f" stroke-width=".8"/>
<polygon points="949,746.5 938.6,745 949.1,737.7 959.5,738.9" fill="#0a9511" stroke="#0a9511" stroke-width=".8"/>
<polygon points="928.2,752 917.8,750.2 928.3,743.5 938.6,745" fill="#0a9124" stroke="#0a9124" stroke-width=".8"/>
<polygon points="886.7,760.2 876.4,757.8 886.8,752.3 897.1,754.5" fill="#09823a" stroke="#09823a" stroke-width=".8"/>
<polygon points="866,763 855.7,760.4 866.1,755.4 876.4,757.8" fill="#08773d" stroke="#08773d" stroke-width=".8"/>
<polygon points="824.7,766.2 814.4,762.9 824.8,759 835.1,762" fill="#086c40" stroke="#086c40" stroke-width=".8"/>
<polygon points="762.8,764.9 752.5,760.8 762.9,758.4 773.2,762.3" fill="#097b47" stroke="#097b47" stroke-width=".8"/>
<polygon points="742.2,762.9 731.8,758.6 742.2,756.6 752.5,760.8" fill="#097d44" stroke="#097d44" stroke-width=".8"/>
<polygon points="907.4,756.5 897.1,754.5 907.5,748.4 917.8,750.2" fill="#0a8b31" stroke="#0a8b31" stroke-width=".8"/>
<polygon points="845.4,765 835.1,762 845.4,757.6 855.7,760.4" fill="#086f3e" stroke="#086f3e" stroke-width=".8"/>
<polygon points="804.1,766.5 793.8,763 804.1,759.6 814.4,762.9" fill="#087044" stroke="#087044" stroke-width=".8"/>
<polygon points="783.5,766.1 773.2,762.3 783.5,759.4 793.8,763" fill="#087647" stroke="#087647" stroke-width=".8"/>
<polygon points="721.5,760.3 711.1,755.6 721.5,754.2 731.8,758.6" fill="#097c3c" stroke="#097c3c" stroke-width=".8"/>
<polygon points="876.3,765.6 866,763 876.4,757.8 886.7,760.2" fill="#097b3f" stroke="#097b3f" stroke-width=".8"/>
<polygon points="959.4,747.9 949,746.5 959.5,738.9 969.9,740.1" fill="#0b960e" stroke="#0b960e" stroke-width=".8"/>
<polygon points="938.5,753.7 928.2,752 938.6,745 949,746.5" fill="#0a9322" stroke="#0a9322" stroke-width=".8"/>
<polygon points="917.7,758.6 907.4,756.5 917.8,750.2 928.2,752" fill="#0a8e31" stroke="#0a8e31" stroke-width=".8"/>
<polygon points="897,762.5 886.7,760.2 897.1,754.5 907.4,756.5" fill="#09863b" stroke="#09863b" stroke-width=".8"/>
<polygon points="855.7,767.9 845.4,765 855.7,760.4 866,763" fill="#086f3f" stroke="#086f3f" stroke-width=".8"/>
<polygon points="835,769.3 824.7,766.2 835.1,762 845.4,765" fill="#07693f" stroke="#07693f" stroke-width=".8"/>
<polygon points="814.4,770 804.1,766.5 814.4,762.9 824.7,766.2" fill="#076a42" stroke="#076a42" stroke-width=".8"/>
<polygon points="793.8,769.8 783.5,766.1 793.8,763 804.1,766.5" fill="#087147" stroke="#087147" stroke-width=".8"/>
<polygon points="773.2,768.9 762.8,764.9 773.2,762.3 783.5,766.1" fill="#087849" stroke="#087849" stroke-width=".8"/>
<polygon points="752.5,767.2 742.2,762.9 752.5,760.8 762.8,764.9" fill="#097c48" stroke="#097c48" stroke-width=".8"/>
<polygon points="731.8,764.8 721.5,760.3 731.8,758.6 742.2,762.9" fill="#097d42" stroke="#097d42" stroke-width=".8"/>
<polygon points="711.1,761.7 700.7,756.9 711.1,755.6 721.5,760.3" fill="#097b39" stroke="#097b39" stroke-width=".8"/>
<polygon points="969.7,749.2 959.4,747.9 969.9,740.1 980.3,741.2" fill="#0b980b" stroke="#0b980b" stroke-width=".8"/>
<polygon points="928,760.5 917.7,758.6 928.2,752 938.5,753.7" fill="#0a9130" stroke="#0a9130" stroke-width=".8"/>
<polygon points="866,770.7 855.7,767.9 866,763 876.3,765.6" fill="#087342" stroke="#087342" stroke-width=".8"/>
<polygon points="824.7,773.3 814.4,770 824.7,766.2 835,769.3" fill="#076742" stroke="#076742" stroke-width=".8"/>
<polygon points="804.1,773.5 793.8,769.8 804.1,766.5 814.4,770" fill="#086b46" stroke="#086b46" stroke-width=".8"/>
<polygon points="742.2,769.3 731.8,764.8 742.2,762.9 752.5,767.2" fill="#097d47" stroke="#097d47" stroke-width=".8"/>
<polygon points="700.7,762.8 690.3,757.8 700.7,756.9 711.1,761.7" fill="#097a36" stroke="#097a36" stroke-width=".8"/>
<polygon points="948.8,755.3 938.5,753.7 949,746.5 959.4,747.9" fill="#0a951f" stroke="#0a951f" stroke-width=".8"/>
<polygon points="907.3,764.8 897,762.5 907.4,756.5 917.7,758.6" fill="#0a8a3c" stroke="#0a8a3c" stroke-width=".8"/>
<polygon points="886.6,768.2 876.3,765.6 886.7,760.2 897,762.5" fill="#098041" stroke="#098041" stroke-width=".8"/>
<polygon points="845.3,772.4 835,769.3 845.4,765 855.7,767.9" fill="#076941" stroke="#076941" stroke-width=".8"/>
<polygon points="783.5,772.8 773.2,768.9 783.5,766.1 793.8,769.8" fill="#08744a" stroke="#08744a" stroke-width=".8"/>
<polygon points="762.8,771.4 752.5,767.2 762.8,764.9 773.2,768.9" fill="#097a4b" stroke="#097a4b" stroke-width=".8"/>
<polygon points="721.5,766.4 711.1,761.7 721.5,760.3 731.8,764.8" fill="#097c40" stroke="#097c40" stroke-width=".8"/>
<polygon points="980.1,750.5 969.7,749.2 980.3,741.2 990.7,742.2" fill="#10990b" stroke="#10990b" stroke-width=".8"/>
<polygon points="959.2,756.9 948.8,755.3 959.4,747.9 969.7,749.2" fill="#0b971d" stroke="#0b971d" stroke-width=".8"/>
<polygon points="917.6,766.9 907.3,764.8 917.7,758.6 928,760.5" fill="#0a8f3c" stroke="#0a8f3c" stroke-width=".8"/>
<polygon points="896.9,770.6 886.6,768.2 897,762.5 907.3,764.8" fill="#098644" stroke="#098644" stroke-width=".8"/>
<polygon points="855.6,775.5 845.3,772.4 855.7,767.9 866,770.7" fill="#086e45" stroke="#086e45" stroke-width=".8"/>
<polygon points="793.8,776.7 783.5,772.8 793.8,769.8 804.1,773.5" fill="#08704b" stroke="#08704b" stroke-width=".8"/>
<polygon points="773.1,775.6 762.8,771.4 773.2,768.9 783.5,772.8" fill="#08784e" stroke="#08784e" stroke-width=".8"/>
<polygon points="711.1,767.8 700.7,762.8 711.1,761.7 721.5,766.4" fill="#097b3d" stroke="#097b3d" stroke-width=".8"/>
<polygon points="690.3,763.7 679.9,758.5 690.3,757.8 700.7,762.8" fill="#087831" stroke="#087831" stroke-width=".8"/>
<polygon points="938.4,762.4 928,760.5 938.5,753.7 948.8,755.3" fill="#0a942f" stroke="#0a942f" stroke-width=".8"/>
<polygon points="876.2,773.5 866,770.7 876.3,765.6 886.6,768.2" fill="#097a46" stroke="#097a46" stroke-width=".8"/>
<polygon points="835,776.7 824.7,773.3 835,769.3 845.3,772.4" fill="#076744" stroke="#076744" stroke-width=".8"/>
<polygon points="814.4,777.1 804.1,773.5 814.4,770 824.7,773.3" fill="#076846" stroke="#076846" stroke-width=".8"/>
<polygon points="752.5,773.7 742.2,769.3 752.5,767.2 762.8,771.4" fill="#097c4c" stroke="#097c4c" stroke-width=".8"/>
<polygon points="731.8,771.1 721.5,766.4 731.8,764.8 742.2,769.3" fill="#097d46" stroke="#097d46" stroke-width=".8"/>
<polygon points="783.4,779.6 773.1,775.6 783.5,772.8 793.8,776.7" fill="#08754f" stroke="#08754f" stroke-width=".8"/>
<polygon points="990.5,751.7 980.1,750.5 990.7,742.2 1001.1,743.1" fill="#169a0b" stroke="#169a0b" stroke-width=".8"/>
<polygon points="969.5,758.4 959.2,756.9 969.7,749.2 980.1,750.5" fill="#0b981a" stroke="#0b981a" stroke-width=".8"/>
<polygon points="948.7,764.2 938.4,762.4 948.8,755.3 959.2,756.9" fill="#0a962d" stroke="#0a962d" stroke-width=".8"/>
<polygon points="927.9,769 917.6,766.9 928,760.5 938.4,762.4" fill="#0a923d" stroke="#0a923d" stroke-width=".8"/>
<polygon points="907.2,773 896.9,770.6 907.3,764.8 917.6,766.9" fill="#0a8c47" stroke="#0a8c47" stroke-width=".8"/>
<polygon points="886.5,776.1 876.2,773.5 886.6,768.2 896.9,770.6" fill="#09814b" stroke="#09814b" stroke-width=".8"/>
<polygon points="865.9,778.4 855.6,775.5 866,770.7 876.2,773.5" fill="#08754b" stroke="#08754b" stroke-width=".8"/>
<polygon points="845.3,779.9 835,776.7 845.3,772.4 855.6,775.5" fill="#086c48" stroke="#086c48" stroke-width=".8"/>
<polygon points="824.7,780.6 814.4,777.1 824.7,773.3 835,776.7" fill="#076948" stroke="#076948" stroke-width=".8"/>
<polygon points="804.1,780.5 793.8,776.7 804.1,773.5 814.4,777.1" fill="#086e4c" stroke="#086e4c" stroke-width=".8"/>
<polygon points="762.8,778 752.5,773.7 762.8,771.4 773.1,775.6" fill="#097b50" stroke="#097b50" stroke-width=".8"/>
<polygon points="742.2,775.7 731.8,771.1 742.2,769.3 752.5,773.7" fill="#097e4c" stroke="#097e4c" stroke-width=".8"/>
<polygon points="721.5,772.6 711.1,767.8 721.5,766.4 731.8,771.1" fill="#097d44" stroke="#097d44" stroke-width=".8"/>
<polygon points="700.7,768.9 690.3,763.7 700.7,762.8 711.1,767.8" fill="#097a39" stroke="#097a39" stroke-width=".8"/>
<polygon points="679.9,764.4 669.5,759 679.9,758.5 690.3,763.7" fill="#08772c" stroke="#08772c" stroke-width=".8"/>
<polygon points="1000.9,752.8 990.5,751.7 1001.1,743.1 1011.5,744" fill="#1c9b0b" stroke="#1c9b0b" stroke-width=".8"/>
<polygon points="979.9,759.8 969.5,758.4 980.1,750.5 990.5,751.7" fill="#0b9916" stroke="#0b9916" stroke-width=".8"/>
<polygon points="959,765.9 948.7,764.2 959.2,756.9 969.5,758.4" fill="#0b982b" stroke="#0b982b" stroke-width=".8"/>
<polygon points="938.2,771.1 927.9,769 938.4,762.4 948.7,764.2" fill="#0a953c" stroke="#0a953c" stroke-width=".8"/>
<polygon points="896.8,778.7 886.5,776.1 896.9,770.6 907.2,773" fill="#0a8950" stroke="#0a8950" stroke-width=".8"/>
<polygon points="835,784 824.7,780.6 835,776.7 845.3,779.9" fill="#086e4d" stroke="#086e4d" stroke-width=".8"/>
<polygon points="773.1,782.3 762.8,778 773.1,775.6 783.4,779.6" fill="#097a53" stroke="#097a53" stroke-width=".8"/>
<polygon points="731.8,777.4 721.5,772.6 731.8,771.1 742.2,775.7" fill="#097e4a" stroke="#097e4a" stroke-width=".8"/>
<polygon points="711.1,773.9 700.7,768.9 711.1,767.8 721.5,772.6" fill="#097c40" stroke="#097c40" stroke-width=".8"/>
<polygon points="669.5,764.8 659.1,759.3 669.5,759 679.9,764.4" fill="#087626" stroke="#087626" stroke-width=".8"/>
<polygon points="917.5,775.3 907.2,773 917.6,766.9 927.9,769" fill="#0a9048" stroke="#0a9048" stroke-width=".8"/>
<polygon points="876.2,781.3 865.9,778.4 876.2,773.5 886.5,776.1" fill="#097e51" stroke="#097e51" stroke-width=".8"/>
<polygon points="855.6,783.1 845.3,779.9 855.6,775.5 865.9,778.4" fill="#08744f" stroke="#08744f" stroke-width=".8"/>
<polygon points="814.4,784.2 804.1,780.5 814.4,777.1 824.7,780.6" fill="#086f4e" stroke="#086f4e" stroke-width=".8"/>
<polygon points="793.7,783.6 783.4,779.6 793.8,776.7 804.1,780.5" fill="#087452" stroke="#087452" stroke-width=".8"/>
<polygon points="752.5,780.2 742.2,775.7 752.5,773.7 762.8,778" fill="#097e51" stroke="#097e51" stroke-width=".8"/>
<polygon points="690.3,769.7 679.9,764.4 690.3,763.7 700.7,768.9" fill="#087934" stroke="#087934" stroke-width=".8"/>
<polygon points="1011.3,753.9 1000.9,752.8 1011.5,744 1021.9,744.8" fill="#229c0b" stroke="#229c0b" stroke-width=".8"/>
<polygon points="990.3,761.2 979.9,759.8 990.5,751.7 1000.9,752.8" fill="#0b9b13" stroke="#0b9b13" stroke-width=".8"/>
<polygon points="969.4,767.6 959,765.9 969.5,758.4 979.9,759.8" fill="#0b9929" stroke="#0b9929" stroke-width=".8"/>
<polygon points="948.6,773 938.2,771.1 948.7,764.2 959,765.9" fill="#0b973b" stroke="#0b973b" stroke-width=".8"/>
<polygon points="927.8,777.6 917.5,775.3 927.9,769 938.2,771.1" fill="#0a9449" stroke="#0a9449" stroke-width=".8"/>
<polygon points="886.5,784.1 876.2,781.3 886.5,776.1 896.8,778.7" fill="#098757" stroke="#098757" stroke-width=".8"/>
<polygon points="865.8,786.1 855.6,783.1 865.9,778.4 876.2,781.3" fill="#097d56" stroke="#097d56" stroke-width=".8"/>
<polygon points="824.6,787.8 814.4,784.2 824.7,780.6 835,784" fill="#087353" stroke="#087353" stroke-width=".8"/>
<polygon points="762.8,784.6 752.5,780.2 762.8,778 773.1,782.3" fill="#097e56" stroke="#097e56" stroke-width=".8"/>
<polygon points="742.1,782.1 731.8,777.4 742.2,775.7 752.5,780.2" fill="#097f51" stroke="#097f51" stroke-width=".8"/>
<polygon points="721.4,778.9 711.1,773.9 721.5,772.6 731.8,777.4" fill="#097e48" stroke="#097e48" stroke-width=".8"/>
<polygon points="700.7,775 690.3,769.7 700.7,768.9 711.1,773.9" fill="#097b3c" stroke="#097b3c" stroke-width=".8"/>
<polygon points="679.9,770.3 669.5,764.8 679.9,764.4 690.3,769.7" fill="#08782f" stroke="#08782f" stroke-width=".8"/>
<polygon points="659,765 648.6,759.3 659.1,759.3 669.5,764.8" fill="#087420" stroke="#087420" stroke-width=".8"/>
<polygon points="907.1,781.3 896.8,778.7 907.2,773 917.5,775.3" fill="#0a8f53" stroke="#0a8f53" stroke-width=".8"/>
<polygon points="845.2,787.4 835,784 845.3,779.9 855.6,783.1" fill="#087554" stroke="#087554" stroke-width=".8"/>
<polygon points="804,787.5 793.7,783.6 804.1,780.5 814.4,784.2" fill="#087655" stroke="#087655" stroke-width=".8"/>
<polygon points="783.4,786.4 773.1,782.3 783.4,779.6 793.7,783.6" fill="#097b57" stroke="#097b57" stroke-width=".8"/>
<polygon points="1000.6,762.5 990.3,761.2 1000.9,752.8 1011.3,753.9" fill="#0b9c0f" stroke="#0b9c0f" stroke-width=".8"/>
<polygon points="752.5,786.7 742.1,782.1 752.5,780.2 762.8,784.6" fill="#098157" stroke="#098157" stroke-width=".8"/>
<polygon points="669.5,770.7 659,765 669.5,764.8 679.9,770.3" fill="#087629" stroke="#087629" stroke-width=".8"/>
<polygon points="1021.7,754.9 1011.3,753.9 1021.9,744.8 1032.3,745.6" fill="#289d0b" stroke="#289d0b" stroke-width=".8"/>
<polygon points="979.7,769.2 969.4,767.6 979.9,759.8 990.3,761.2" fill="#0b9a26" stroke="#0b9a26" stroke-width=".8"/>
<polygon points="958.9,774.9 948.6,773 959,765.9 969.4,767.6" fill="#0b993a" stroke="#0b993a" stroke-width=".8"/>
<polygon points="938.1,779.7 927.8,777.6 938.2,771.1 948.6,773" fill="#0b9749" stroke="#0b9749" stroke-width=".8"/>
<polygon points="917.4,783.7 907.1,781.3 917.5,775.3 927.8,777.6" fill="#0a9355" stroke="#0a9355" stroke-width=".8"/>
<polygon points="896.7,786.8 886.5,784.1 896.8,778.7 907.1,781.3" fill="#0a8d5c" stroke="#0a8d5c" stroke-width=".8"/>
<polygon points="876.1,789.2 865.8,786.1 876.2,781.3 886.5,784.1" fill="#09865d" stroke="#09865d" stroke-width=".8"/>
<polygon points="855.5,790.7 845.2,787.4 855.6,783.1 865.8,786.1" fill="#097e5c" stroke="#097e5c" stroke-width=".8"/>
<polygon points="834.9,791.4 824.6,787.8 835,784 845.2,787.4" fill="#08795a" stroke="#08795a" stroke-width=".8"/>
<polygon points="814.3,791.3 804,787.5 814.4,784.2 824.6,787.8" fill="#08795a" stroke="#08795a" stroke-width=".8"/>
<polygon points="793.7,790.5 783.4,786.4 793.7,783.6 804,787.5" fill="#097c5b" stroke="#097c5b" stroke-width=".8"/>
<polygon points="773.1,789 762.8,784.6 773.1,782.3 783.4,786.4" fill="#097f5a" stroke="#097f5a" stroke-width=".8"/>
<polygon points="731.8,783.8 721.4,778.9 731.8,777.4 742.1,782.1" fill="#09804f" stroke="#09804f" stroke-width=".8"/>
<polygon points="711.1,780.1 700.7,775 711.1,773.9 721.4,778.9" fill="#097d44" stroke="#097d44" stroke-width=".8"/>
<polygon points="690.3,775.8 679.9,770.3 690.3,769.7 700.7,775" fill="#097a37" stroke="#097a37" stroke-width=".8"/>
<polygon points="648.6,765 638.1,759 648.6,759.3 659,765" fill="#08731a" stroke="#08731a" stroke-width=".8"/>
<polygon points="1032.1,755.8 1021.7,754.9 1032.3,745.6 1042.8,746.3" fill="#2f9e0b" stroke="#2f9e0b" stroke-width=".8"/>
<polygon points="1011,763.7 1000.6,762.5 1011.3,753.9 1021.7,754.9" fill="#0b9d0b" stroke="#0b9d0b" stroke-width=".8"/>
<polygon points="990.1,770.7 979.7,769.2 990.3,761.2 1000.6,762.5" fill="#0b9c23" stroke="#0b9c23" stroke-width=".8"/>
<polygon points="969.2,776.7 958.9,774.9 969.4,767.6 979.7,769.2" fill="#0b9a38" stroke="#0b9a38" stroke-width=".8"/>
<polygon points="948.4,781.8 938.1,779.7 948.6,773 958.9,774.9" fill="#0b9949" stroke="#0b9949" stroke-width=".8"/>
<polygon points="927.7,786.1 917.4,783.7 927.8,777.6 938.1,779.7" fill="#0b9656" stroke="#0b9656" stroke-width=".8"/>
<polygon points="907,789.5 896.7,786.8 907.1,781.3 917.4,783.7" fill="#0a925f" stroke="#0a925f" stroke-width=".8"/>
<polygon points="865.8,793.9 855.5,790.7 865.8,786.1 876.1,789.2" fill="#098663" stroke="#098663" stroke-width=".8"/>
<polygon points="845.2,794.9 834.9,791.4 845.2,787.4 855.5,790.7" fill="#098162" stroke="#098162" stroke-width=".8"/>
<polygon points="824.6,795.1 814.3,791.3 824.6,787.8 834.9,791.4" fill="#097f61" stroke="#097f61" stroke-width=".8"/>
<polygon points="804,794.5 793.7,790.5 804,787.5 814.3,791.3" fill="#097f60" stroke="#097f60" stroke-width=".8"/>
<polygon points="762.8,791.3 752.5,786.7 762.8,784.6 773.1,789" fill="#09825c" stroke="#09825c" stroke-width=".8"/>
<polygon points="742.1,788.6 731.8,783.8 742.1,782.1 752.5,786.7" fill="#098256" stroke="#098256" stroke-width=".8"/>
<polygon points="700.7,781.1 690.3,775.8 700.7,775 711.1,780.1" fill="#097c3f" stroke="#097c3f" stroke-width=".8"/>
<polygon points="679.9,776.3 669.5,770.7 679.9,770.3 690.3,775.8" fill="#087931" stroke="#087931" stroke-width=".8"/>
<polygon points="659,770.8 648.6,765 659,765 669.5,770.7" fill="#087522" stroke="#087522" stroke-width=".8"/>
<polygon points="638.1,764.7 627.6,758.6 638.1,759 648.6,765" fill="#087113" stroke="#087113" stroke-width=".8"/>
<polygon points="886.4,792.1 876.1,789.2 886.5,784.1 896.7,786.8" fill="#0a8d63" stroke="#0a8d63" stroke-width=".8"/>
<polygon points="783.4,793.3 773.1,789 783.4,786.4 793.7,790.5" fill="#09815f" stroke="#09815f" stroke-width=".8"/>
<polygon points="721.4,785.2 711.1,780.1 721.4,778.9 731.8,783.8" fill="#097f4c" stroke="#097f4c" stroke-width=".8"/>
<polygon points="938,788.4 927.7,786.1 938.1,779.7 948.4,781.8" fill="#0b9857" stroke="#0b9857" stroke-width=".8"/>
<polygon points="669.5,776.6 659,770.8 669.5,770.7 679.9,776.3" fill="#08782b" stroke="#08782b" stroke-width=".8"/>
<polygon points="627.6,764.2 617.1,757.9 627.6,758.6 638.1,764.7" fill="#086f0b" stroke="#086f0b" stroke-width=".8"/>
<polygon points="1042.5,756.7 1032.1,755.8 1042.8,746.3 1053.2,746.9" fill="#369f0b" stroke="#369f0b" stroke-width=".8"/>
<polygon points="1021.4,764.9 1011,763.7 1021.7,754.9 1032.1,755.8" fill="#119e0b" stroke="#119e0b" stroke-width=".8"/>
<polygon points="1000.4,772.1 990.1,770.7 1000.6,762.5 1011,763.7" fill="#0b9d20" stroke="#0b9d20" stroke-width=".8"/>
<polygon points="979.6,778.4 969.2,776.7 979.7,769.2 990.1,770.7" fill="#0b9c36" stroke="#0b9c36" stroke-width=".8"/>
<polygon points="958.7,783.9 948.4,781.8 958.9,774.9 969.2,776.7" fill="#0b9a48" stroke="#0b9a48" stroke-width=".8"/>
<polygon points="917.3,792.1 907,789.5 917.4,783.7 927.7,786.1" fill="#0a9662" stroke="#0a9662" stroke-width=".8"/>
<polygon points="896.7,794.9 886.4,792.1 896.7,786.8 907,789.5" fill="#0a9267" stroke="#0a9267" stroke-width=".8"/>
<polygon points="855.5,798.3 845.2,794.9 855.5,790.7 865.8,793.9" fill="#0a8869" stroke="#0a8869" stroke-width=".8"/>
<polygon points="834.9,798.7 824.6,795.1 834.9,791.4 845.2,794.9" fill="#098568" stroke="#098568" stroke-width=".8"/>
<polygon points="793.7,797.5 783.4,793.3 793.7,790.5 804,794.5" fill="#098465" stroke="#098465" stroke-width=".8"/>
<polygon points="773.1,795.8 762.8,791.3 773.1,789 783.4,793.3" fill="#098461" stroke="#098461" stroke-width=".8"/>
<polygon points="752.5,793.3 742.1,788.6 752.5,786.7 762.8,791.3" fill="#09835c" stroke="#09835c" stroke-width=".8"/>
<polygon points="731.8,790.2 721.4,785.2 731.8,783.8 742.1,788.6" fill="#098253" stroke="#098253" stroke-width=".8"/>
<polygon points="711.1,786.4 700.7,781.1 711.1,780.1 721.4,785.2" fill="#097f47" stroke="#097f47" stroke-width=".8"/>
<polygon points="690.3,781.8 679.9,776.3 690.3,775.8 700.7,781.1" fill="#097b3a" stroke="#097b3a" stroke-width=".8"/>
<polygon points="648.6,770.8 638.1,764.7 648.6,765 659,770.8" fill="#08741c" stroke="#08741c" stroke-width=".8"/>
<polygon points="876.1,797 865.8,793.9 876.1,789.2 886.4,792.1" fill="#0a8d69" stroke="#0a8d69" stroke-width=".8"/>
<polygon points="814.3,798.5 804,794.5 814.3,791.3 824.6,795.1" fill="#098366" stroke="#098366" stroke-width=".8"/>
<polygon points="1031.8,766 1021.4,764.9 1032.1,755.8 1042.5,756.7" fill="#17a00b" stroke="#17a00b" stroke-width=".8"/>
<polygon points="969.1,785.8 958.7,783.9 969.2,776.7 979.6,778.4" fill="#0b9c47" stroke="#0b9c47" stroke-width=".8"/>
<polygon points="783.4,800.2 773.1,795.8 783.4,793.3 793.7,797.5" fill="#098767" stroke="#098767" stroke-width=".8"/>
<polygon points="721.4,791.5 711.1,786.4 721.4,785.2 731.8,790.2" fill="#098150" stroke="#098150" stroke-width=".8"/>
<polygon points="638.1,770.5 627.6,764.2 638.1,764.7 648.6,770.8" fill="#087214" stroke="#087214" stroke-width=".8"/>
<polygon points="617.1,763.5 606.5,757 617.1,757.9 627.6,764.2" fill="#0d6d08" stroke="#0d6d08" stroke-width=".8"/>
<polygon points="1052.9,757.4 1042.5,756.7 1053.2,746.9 1063.7,747.4" fill="#3ea10b" stroke="#3ea10b" stroke-width=".8"/>
<polygon points="1010.8,773.5 1000.4,772.1 1011,763.7 1021.4,764.9" fill="#0b9e1c" stroke="#0b9e1c" stroke-width=".8"/>
<polygon points="989.9,780.1 979.6,778.4 990.1,770.7 1000.4,772.1" fill="#0b9d33" stroke="#0b9d33" stroke-width=".8"/>
<polygon points="948.3,790.6 938,788.4 948.4,781.8 958.7,783.9" fill="#0b9a56" stroke="#0b9a56" stroke-width=".8"/>
<polygon points="927.6,794.6 917.3,792.1 927.7,786.1 938,788.4" fill="#0b9863" stroke="#0b9863" stroke-width=".8"/>
<polygon points="906.9,797.7 896.7,794.9 907,789.5 917.3,792.1" fill="#0a966a" stroke="#0a966a" stroke-width=".8"/>
<polygon points="886.3,800 876.1,797 886.4,792.1 896.7,794.9" fill="#0a926e" stroke="#0a926e" stroke-width=".8"/>
<polygon points="865.7,801.6 855.5,798.3 865.8,793.9 876.1,797" fill="#0a8e6f" stroke="#0a8e6f" stroke-width=".8"/>
<polygon points="845.1,802.3 834.9,798.7 845.2,794.9 855.5,798.3" fill="#0a8a6e" stroke="#0a8a6e" stroke-width=".8"/>
<polygon points="824.6,802.3 814.3,798.5 824.6,795.1 834.9,798.7" fill="#0a886d" stroke="#0a886d" stroke-width=".8"/>
<polygon points="804,801.6 793.7,797.5 804,794.5 814.3,798.5" fill="#09876b" stroke="#09876b" stroke-width=".8"/>
<polygon points="762.8,798 752.5,793.3 762.8,791.3 773.1,795.8" fill="#098662" stroke="#098662" stroke-width=".8"/>
<polygon points="742.1,795.1 731.8,790.2 742.1,788.6 752.5,793.3" fill="#09845a" stroke="#09845a" stroke-width=".8"/>
<polygon points="700.7,787.3 690.3,781.8 700.7,781.1 711.1,786.4" fill="#097e43" stroke="#097e43" stroke-width=".8"/>
<polygon points="679.9,782.4 669.5,776.6 679.9,776.3 690.3,781.8" fill="#097a34" stroke="#097a34" stroke-width=".8"/>
<polygon points="659,776.8 648.6,770.8 659,770.8 669.5,776.6" fill="#087625" stroke="#087625" stroke-width=".8"/>
<polygon points="1063.4,758.2 1052.9,757.4 1063.7,747.4 1074.2,747.9" fill="#46a20b" stroke="#46a20b" stroke-width=".8"/>
<polygon points="1042.2,767 1031.8,766 1042.5,756.7 1052.9,757.4" fill="#1ea10b" stroke="#1ea10b" stroke-width=".8"/>
<polygon points="1021.2,774.8 1010.8,773.5 1021.4,764.9 1031.8,766" fill="#0ba018" stroke="#0ba018" stroke-width=".8"/>
<polygon points="1000.2,781.7 989.9,780.1 1000.4,772.1 1010.8,773.5" fill="#0b9f30" stroke="#0b9f30" stroke-width=".8"/>
<polygon points="979.4,787.7 969.1,785.8 979.6,778.4 989.9,780.1" fill="#0b9d45" stroke="#0b9d45" stroke-width=".8"/>
<polygon points="958.6,792.8 948.3,790.6 958.7,783.9 969.1,785.8" fill="#0b9c56" stroke="#0b9c56" stroke-width=".8"/>
<polygon points="937.9,797 927.6,794.6 938,788.4 948.3,790.6" fill="#0b9a64" stroke="#0b9a64" stroke-width=".8"/>
<polygon points="917.2,800.4 906.9,797.7 917.3,792.1 927.6,794.6" fill="#0b986c" stroke="#0b986c" stroke-width=".8"/>
<polygon points="896.6,803 886.3,800 896.7,794.9 906.9,797.7" fill="#0a9671" stroke="#0a9671" stroke-width=".8"/>
<polygon points="876,804.8 865.7,801.6 876.1,797 886.3,800" fill="#0a9374" stroke="#0a9374" stroke-width=".8"/>
<polygon points="855.4,805.8 845.1,802.3 855.5,798.3 865.7,801.6" fill="#0a8f74" stroke="#0a8f74" stroke-width=".8"/>
<polygon points="834.8,806.1 824.6,802.3 834.9,798.7 845.1,802.3" fill="#0a8d73" stroke="#0a8d73" stroke-width=".8"/>
<polygon points="814.3,805.7 804,801.6 814.3,798.5 824.6,802.3" fill="#0a8b71" stroke="#0a8b71" stroke-width=".8"/>
<polygon points="793.7,804.5 783.4,800.2 793.7,797.5 804,801.6" fill="#0a896d" stroke="#0a896d" stroke-width=".8"/>
<polygon points="773.1,802.6 762.8,798 773.1,795.8 783.4,800.2" fill="#0a8868" stroke="#0a8868" stroke-width=".8"/>
<polygon points="731.8,796.6 721.4,791.5 731.8,790.2 742.1,795.1" fill="#098358" stroke="#098358" stroke-width=".8"/>
<polygon points="711.1,792.7 700.7,787.3 711.1,786.4 721.4,791.5" fill="#09804b" stroke="#09804b" stroke-width=".8"/>
<polygon points="690.3,788 679.9,782.4 690.3,781.8 700.7,787.3" fill="#097d3d" stroke="#097d3d" stroke-width=".8"/>
<polygon points="669.5,782.7 659,776.8 669.5,776.6 679.9,782.4" fill="#08792e" stroke="#08792e" stroke-width=".8"/>
<polygon points="648.6,776.6 638.1,770.5 648.6,770.8 659,776.8" fill="#08751e" stroke="#08751e" stroke-width=".8"/>
<polygon points="627.6,770 617.1,763.5 627.6,764.2 638.1,770.5" fill="#08700d" stroke="#08700d" stroke-width=".8"/>
<polygon points="606.5,762.6 595.9,755.9 606.5,757 617.1,763.5" fill="#166c08" stroke="#166c08" stroke-width=".8"/>
<polygon points="752.4,799.9 742.1,795.1 752.5,793.3 762.8,798" fill="#098661" stroke="#098661" stroke-width=".8"/>
<polygon points="1073.8,758.8 1063.4,758.2 1074.2,747.9 1084.6,748.4" fill="#4ea30b" stroke="#4ea30b" stroke-width=".8"/>
<polygon points="1052.6,767.9 1042.2,767 1052.9,757.4 1063.4,758.2" fill="#25a20b" stroke="#25a20b" stroke-width=".8"/>
<polygon points="1031.6,776.1 1021.2,774.8 1031.8,766 1042.2,767" fill="#0ba114" stroke="#0ba114" stroke-width=".8"/>
<polygon points="968.9,794.9 958.6,792.8 969.1,785.8 979.4,787.7" fill="#0b9e55" stroke="#0b9e55" stroke-width=".8"/>
<polygon points="906.9,805.9 896.6,803 906.9,797.7 917.2,800.4" fill="#0b9874" stroke="#0b9874" stroke-width=".8"/>
<polygon points="700.7,793.5 690.3,788 700.7,787.3 711.1,792.7" fill="#097f46" stroke="#097f46" stroke-width=".8"/>
<polygon points="638.1,776.3 627.6,770 638.1,770.5 648.6,776.6" fill="#087316" stroke="#087316" stroke-width=".8"/>
<polygon points="595.9,761.5 585.3,754.6 595.9,755.9 606.5,762.6" fill="#206a07" stroke="#206a07" stroke-width=".8"/>
<polygon points="1010.6,783.2 1000.2,781.7 1010.8,773.5 1021.2,774.8" fill="#0ba02d" stroke="#0ba02d" stroke-width=".8"/>
<polygon points="989.7,789.5 979.4,787.7 989.9,780.1 1000.2,781.7" fill="#0b9f43" stroke="#0b9f43" stroke-width=".8"/>
<polygon points="948.2,799.4 937.9,797 948.3,790.6 958.6,792.8" fill="#0b9c64" stroke="#0b9c64" stroke-width=".8"/>
<polygon points="927.5,803.1 917.2,800.4 927.6,794.6 937.9,797" fill="#0b9a6e" stroke="#0b9a6e" stroke-width=".8"/>
<polygon points="886.3,808 876,804.8 886.3,800 896.6,803" fill="#0a9678" stroke="#0a9678" stroke-width=".8"/>
<polygon points="865.7,809.3 855.4,805.8 865.7,801.6 876,804.8" fill="#0a9379" stroke="#0a9379" stroke-width=".8"/>
<polygon points="824.5,809.6 814.3,805.7 824.6,802.3 834.8,806.1" fill="#0a8e77" stroke="#0a8e77" stroke-width=".8"/>
<polygon points="804,808.7 793.7,804.5 804,801.6 814.3,805.7" fill="#0a8c73" stroke="#0a8c73" stroke-width=".8"/>
<polygon points="783.4,807 773.1,802.6 783.4,800.2 793.7,804.5" fill="#0a8a6e" stroke="#0a8a6e" stroke-width=".8"/>
<polygon points="762.8,804.7 752.4,799.9 762.8,798 773.1,802.6" fill="#0a8867" stroke="#0a8867" stroke-width=".8"/>
<polygon points="742.1,801.7 731.8,796.6 742.1,795.1 752.4,799.9" fill="#09865e" stroke="#09865e" stroke-width=".8"/>
<polygon points="721.4,797.9 711.1,792.7 721.4,791.5 731.8,796.6" fill="#098354" stroke="#098354" stroke-width=".8"/>
<polygon points="679.9,788.5 669.5,782.7 679.9,782.4 690.3,788" fill="#097b37" stroke="#097b37" stroke-width=".8"/>
<polygon points="659,782.7 648.6,776.6 659,776.8 669.5,782.7" fill="#087727" stroke="#087727" stroke-width=".8"/>
<polygon points="617.1,769.2 606.5,762.6 617.1,763.5 627.6,770" fill="#0b6e08" stroke="#0b6e08" stroke-width=".8"/>
<polygon points="845.1,809.8 834.8,806.1 845.1,802.3 855.4,805.8" fill="#0a9179" stroke="#0a9179" stroke-width=".8"/>
<polygon points="1063,768.8 1052.6,767.9 1063.4,758.2 1073.8,758.8" fill="#2ca40b" stroke="#2ca40b" stroke-width=".8"/>
<polygon points="1000,791.2 989.7,789.5 1000.2,781.7 1010.6,783.2" fill="#0ba041" stroke="#0ba041" stroke-width=".8"/>
<polygon points="937.8,805.6 927.5,803.1 937.9,797 948.2,799.4" fill="#0b9c6f" stroke="#0b9c6f" stroke-width=".8"/>
<polygon points="896.5,811.1 886.3,808 896.6,803 906.9,805.9" fill="#0b997b" stroke="#0b997b" stroke-width=".8"/>
<polygon points="814.2,812.8 804,808.7 814.3,805.7 824.5,809.6" fill="#0a8f79" stroke="#0a8f79" stroke-width=".8"/>
<polygon points="793.7,811.4 783.4,807 793.7,804.5 804,808.7" fill="#0a8d74" stroke="#0a8d74" stroke-width=".8"/>
<polygon points="752.4,806.6 742.1,801.7 752.4,799.9 762.8,804.7" fill="#0a8865" stroke="#0a8865" stroke-width=".8"/>
<polygon points="690.3,794.2 679.9,788.5 690.3,788 700.7,793.5" fill="#097e40" stroke="#097e40" stroke-width=".8"/>
<polygon points="648.6,782.6 638.1,776.3 648.6,776.6 659,782.7" fill="#087620" stroke="#087620" stroke-width=".8"/>
<polygon points="627.6,775.8 617.1,769.2 627.6,770 638.1,776.3" fill="#08710e" stroke="#08710e" stroke-width=".8"/>
<polygon points="585.3,760.1 574.7,753 585.3,754.6 595.9,761.5" fill="#2a6807" stroke="#2a6807" stroke-width=".8"/>
<polygon points="1084.3,759.4 1073.8,758.8 1084.6,748.4 1095.1,748.7" fill="#57a40c" stroke="#57a40c" stroke-width=".8"/>
<polygon points="1041.9,777.2 1031.6,776.1 1042.2,767 1052.6,767.9" fill="#0ba310" stroke="#0ba310" stroke-width=".8"/>
<polygon points="1021,784.7 1010.6,783.2 1021.2,774.8 1031.6,776.1" fill="#0ba22a" stroke="#0ba22a" stroke-width=".8"/>
<polygon points="979.2,796.9 968.9,794.9 979.4,787.7 989.7,789.5" fill="#0b9f54" stroke="#0b9f54" stroke-width=".8"/>
<polygon points="958.5,801.7 948.2,799.4 958.6,792.8 968.9,794.9" fill="#0b9e64" stroke="#0b9e64" stroke-width=".8"/>
<polygon points="917.1,808.7 906.9,805.9 917.2,800.4 927.5,803.1" fill="#0b9b76" stroke="#0b9b76" stroke-width=".8"/>
<polygon points="875.9,812.6 865.7,809.3 876,804.8 886.3,808" fill="#0b967e" stroke="#0b967e" stroke-width=".8"/>
<polygon points="855.4,813.4 845.1,809.8 855.4,805.8 865.7,809.3" fill="#0a947e" stroke="#0a947e" stroke-width=".8"/>
<polygon points="834.8,813.5 824.5,809.6 834.8,806.1 845.1,809.8" fill="#0a917c" stroke="#0a917c" stroke-width=".8"/>
<polygon points="773.1,809.4 762.8,804.7 773.1,802.6 783.4,807" fill="#0a8b6e" stroke="#0a8b6e" stroke-width=".8"/>
<polygon points="731.8,803.1 721.4,797.9 731.8,796.6 742.1,801.7" fill="#09855b" stroke="#09855b" stroke-width=".8"/>
<polygon points="711,799 700.7,793.5 711.1,792.7 721.4,797.9" fill="#09824f" stroke="#09824f" stroke-width=".8"/>
<polygon points="669.5,788.7 659,782.7 669.5,782.7 679.9,788.5" fill="#097a30" stroke="#097a30" stroke-width=".8"/>
<polygon points="606.5,768.3 595.9,761.5 606.5,762.6 617.1,769.2" fill="#156d08" stroke="#156d08" stroke-width=".8"/>
<polygon points="1094.7,759.9 1084.3,759.4 1095.1,748.7 1105.6,749" fill="#60a60c" stroke="#60a60c" stroke-width=".8"/>
<polygon points="1073.5,769.6 1063,768.8 1073.8,758.8 1084.3,759.4" fill="#34a50c" stroke="#34a50c" stroke-width=".8"/>
<polygon points="1052.3,778.3 1041.9,777.2 1052.6,767.9 1063,768.8" fill="#0ca40b" stroke="#0ca40b" stroke-width=".8"/>
<polygon points="1031.3,786.1 1021,784.7 1031.6,776.1 1041.9,777.2" fill="#0ba326" stroke="#0ba326" stroke-width=".8"/>
<polygon points="1010.4,792.9 1000,791.2 1010.6,783.2 1021,784.7" fill="#0ba23e" stroke="#0ba23e" stroke-width=".8"/>
<polygon points="989.5,798.8 979.2,796.9 989.7,789.5 1000,791.2" fill="#0ba153" stroke="#0ba153" stroke-width=".8"/>
<polygon points="968.8,803.9 958.5,801.7 968.9,794.9 979.2,796.9" fill="#0ba063" stroke="#0ba063" stroke-width=".8"/>
<polygon points="948.1,808.1 937.8,805.6 948.2,799.4 958.5,801.7" fill="#0b9e6f" stroke="#0b9e6f" stroke-width=".8"/>
<polygon points="927.4,811.5 917.1,808.7 927.5,803.1 937.8,805.6" fill="#0b9d78" stroke="#0b9d78" stroke-width=".8"/>
<polygon points="906.8,814.1 896.5,811.1 906.9,805.9 917.1,808.7" fill="#0b9b7e" stroke="#0b9b7e" stroke-width=".8"/>
<polygon points="886.2,815.9 875.9,812.6 886.3,808 896.5,811.1" fill="#0b9981" stroke="#0b9981" stroke-width=".8"/>
<polygon points="845.1,817.3 834.8,813.5 845.1,809.8 855.4,813.4" fill="#0a9481" stroke="#0a9481" stroke-width=".8"/>
<polygon points="824.5,816.9 814.2,812.8 824.5,809.6 834.8,813.5" fill="#0a927f" stroke="#0a927f" stroke-width=".8"/>
<polygon points="803.9,815.8 793.7,811.4 804,808.7 814.2,812.8" fill="#0a907a" stroke="#0a907a" stroke-width=".8"/>
<polygon points="783.3,813.9 773.1,809.4 783.4,807 793.7,811.4" fill="#0a8d74" stroke="#0a8d74" stroke-width=".8"/>
<polygon points="762.7,811.4 752.4,806.6 762.8,804.7 773.1,809.4" fill="#0a8a6c" stroke="#0a8a6c" stroke-width=".8"/>
<polygon points="742.1,808.2 731.8,803.1 742.1,801.7 752.4,806.6" fill="#098763" stroke="#098763" stroke-width=".8"/>
<polygon points="700.7,799.9 690.3,794.2 700.7,793.5 711,799" fill="#098149" stroke="#098149" stroke-width=".8"/>
<polygon points="679.9,794.7 669.5,788.7 679.9,788.5 690.3,794.2" fill="#097d3a" stroke="#097d3a" stroke-width=".8"/>
<polygon points="638.1,782.3 627.6,775.8 638.1,776.3 648.6,782.6" fill="#087418" stroke="#087418" stroke-width=".8"/>
<polygon points="617,775.1 606.5,768.3 617.1,769.2 627.6,775.8" fill="#0a7008" stroke="#0a7008" stroke-width=".8"/>
<polygon points="595.9,767.2 585.3,760.1 595.9,761.5 606.5,768.3" fill="#1f6b07" stroke="#1f6b07" stroke-width=".8"/>
<polygon points="574.7,758.6 564.1,751.3 574.7,753 585.3,760.1" fill="#346507" stroke="#346507" stroke-width=".8"/>
<polygon points="865.6,817 855.4,813.4 865.7,809.3 875.9,812.6" fill="#0b9782" stroke="#0b9782" stroke-width=".8"/>
<polygon points="721.4,804.4 711,799 721.4,797.9 731.8,803.1" fill="#098458" stroke="#098458" stroke-width=".8"/>
<polygon points="659,788.8 648.6,782.6 659,782.7 669.5,788.7" fill="#087929" stroke="#087929" stroke-width=".8"/>
<polygon points="1020.7,794.5 1010.4,792.9 1021,784.7 1031.3,786.1" fill="#0ba43b" stroke="#0ba43b" stroke-width=".8"/>
<polygon points="1083.9,770.4 1073.5,769.6 1084.3,759.4 1094.7,759.9" fill="#3ca60c" stroke="#3ca60c" stroke-width=".8"/>
<polygon points="1062.7,779.3 1052.3,778.3 1063,768.8 1073.5,769.6" fill="#13a50c" stroke="#13a50c" stroke-width=".8"/>
<polygon points="1041.7,787.4 1031.3,786.1 1041.9,777.2 1052.3,778.3" fill="#0ca522" stroke="#0ca522" stroke-width=".8"/>
<polygon points="999.9,800.7 989.5,798.8 1000,791.2 1010.4,792.9" fill="#0ba251" stroke="#0ba251" stroke-width=".8"/>
<polygon points="937.7,814.1 927.4,811.5 937.8,805.6 948.1,808.1" fill="#0b9e79" stroke="#0b9e79" stroke-width=".8"/>
<polygon points="896.5,819.1 886.2,815.9 896.5,811.1 906.8,814.1" fill="#0b9b84" stroke="#0b9b84" stroke-width=".8"/>
<polygon points="875.9,820.4 865.6,817 875.9,812.6 886.2,815.9" fill="#0b9986" stroke="#0b9986" stroke-width=".8"/>
<polygon points="834.8,820.8 824.5,816.9 834.8,813.5 845.1,817.3" fill="#0a9584" stroke="#0a9584" stroke-width=".8"/>
<polygon points="793.6,818.4 783.3,813.9 793.7,811.4 803.9,815.8" fill="#0a907a" stroke="#0a907a" stroke-width=".8"/>
<polygon points="731.7,809.7 721.4,804.4 731.8,803.1 742.1,808.2" fill="#09875f" stroke="#09875f" stroke-width=".8"/>
<polygon points="690.3,800.5 679.9,794.7 690.3,794.2 700.7,799.9" fill="#097f43" stroke="#097f43" stroke-width=".8"/>
<polygon points="669.4,794.9 659,788.8 669.5,788.7 679.9,794.7" fill="#097b33" stroke="#097b33" stroke-width=".8"/>
<polygon points="627.6,781.7 617,775.1 627.6,775.8 638.1,782.3" fill="#087310" stroke="#087310" stroke-width=".8"/>
<polygon points="606.5,774.1 595.9,767.2 606.5,768.3 617,775.1" fill="#146e08" stroke="#146e08" stroke-width=".8"/>
<polygon points="585.3,765.9 574.7,758.6 585.3,760.1 595.9,767.2" fill="#296907" stroke="#296907" stroke-width=".8"/>
<polygon points="979.1,806 968.8,803.9 979.2,796.9 989.5,798.8" fill="#0ba163" stroke="#0ba163" stroke-width=".8"/>
<polygon points="958.4,810.5 948.1,808.1 958.5,801.7 968.8,803.9" fill="#0ba070" stroke="#0ba070" stroke-width=".8"/>
<polygon points="917.1,817 906.8,814.1 917.1,808.7 927.4,811.5" fill="#0b9d80" stroke="#0b9d80" stroke-width=".8"/>
<polygon points="855.3,821 845.1,817.3 855.4,813.4 865.6,817" fill="#0b9786" stroke="#0b9786" stroke-width=".8"/>
<polygon points="814.2,820 803.9,815.8 814.2,812.8 824.5,816.9" fill="#0a9280" stroke="#0a9280" stroke-width=".8"/>
<polygon points="773,816.2 762.7,811.4 773.1,809.4 783.3,813.9" fill="#0a8d73" stroke="#0a8d73" stroke-width=".8"/>
<polygon points="752.4,813.3 742.1,808.2 752.4,806.6 762.7,811.4" fill="#0a8a6a" stroke="#0a8a6a" stroke-width=".8"/>
<polygon points="711,805.4 700.7,799.9 711,799 721.4,804.4" fill="#098353" stroke="#098353" stroke-width=".8"/>
<polygon points="648.5,788.6 638.1,782.3 648.6,782.6 659,788.8" fill="#087722" stroke="#087722" stroke-width=".8"/>
<polygon points="1073.2,780.3 1062.7,779.3 1073.5,769.6 1083.9,770.4" fill="#1aa70c" stroke="#1aa70c" stroke-width=".8"/>
<polygon points="1052.1,788.6 1041.7,787.4 1052.3,778.3 1062.7,779.3" fill="#0ca61e" stroke="#0ca61e" stroke-width=".8"/>
<polygon points="1031.1,796 1020.7,794.5 1031.3,786.1 1041.7,787.4" fill="#0ca538" stroke="#0ca538" stroke-width=".8"/>
<polygon points="1010.2,802.4 999.9,800.7 1010.4,792.9 1020.7,794.5" fill="#0ba44f" stroke="#0ba44f" stroke-width=".8"/>
<polygon points="989.4,808 979.1,806 989.5,798.8 999.9,800.7" fill="#0ba362" stroke="#0ba362" stroke-width=".8"/>
<polygon points="968.6,812.8 958.4,810.5 968.8,803.9 979.1,806" fill="#0ba270" stroke="#0ba270" stroke-width=".8"/>
<polygon points="927.3,819.8 917.1,817 927.4,811.5 937.7,814.1" fill="#0b9f82" stroke="#0b9f82" stroke-width=".8"/>
<polygon points="906.7,822.2 896.5,819.1 906.8,814.1 917.1,817" fill="#0b9d87" stroke="#0b9d87" stroke-width=".8"/>
<polygon points="865.6,824.6 855.3,821 865.6,817 875.9,820.4" fill="#0b998b" stroke="#0b998b" stroke-width=".8"/>
<polygon points="845,824.7 834.8,820.8 845.1,817.3 855.3,821" fill="#0b9789" stroke="#0b9789" stroke-width=".8"/>
<polygon points="824.5,824.1 814.2,820 824.5,816.9 834.8,820.8" fill="#0a9586" stroke="#0a9586" stroke-width=".8"/>
<polygon points="783.3,820.9 773,816.2 783.3,813.9 793.6,818.4" fill="#0a8f79" stroke="#0a8f79" stroke-width=".8"/>
<polygon points="762.7,818.2 752.4,813.3 762.7,811.4 773,816.2" fill="#0a8c71" stroke="#0a8c71" stroke-width=".8"/>
<polygon points="721.4,810.9 711,805.4 721.4,804.4 731.7,809.7" fill="#09865b" stroke="#09865b" stroke-width=".8"/>
<polygon points="659,794.9 648.5,788.6 659,788.8 669.4,794.9" fill="#097a2c" stroke="#097a2c" stroke-width=".8"/>
<polygon points="617,781 606.5,774.1 617,775.1 627.6,781.7" fill="#087108" stroke="#087108" stroke-width=".8"/>
<polygon points="595.9,773 585.3,765.9 595.9,767.2 606.5,774.1" fill="#1e6c08" stroke="#1e6c08" stroke-width=".8"/>
<polygon points="948,816.7 937.7,814.1 948.1,808.1 958.4,810.5" fill="#0ba07a" stroke="#0ba07a" stroke-width=".8"/>
<polygon points="886.1,823.8 875.9,820.4 886.2,815.9 896.5,819.1" fill="#0b9b8a" stroke="#0b9b8a" stroke-width=".8"/>
<polygon points="803.9,822.8 793.6,818.4 803.9,815.8 814.2,820" fill="#0a9280" stroke="#0a9280" stroke-width=".8"/>
<polygon points="742.1,814.9 731.7,809.7 742.1,808.2 752.4,813.3" fill="#0a8967" stroke="#0a8967" stroke-width=".8"/>
<polygon points="700.7,806.2 690.3,800.5 700.7,799.9 711,805.4" fill="#09824d" stroke="#09824d" stroke-width=".8"/>
<polygon points="679.9,800.9 669.4,794.9 679.9,794.7 690.3,800.5" fill="#097e3d" stroke="#097e3d" stroke-width=".8"/>
<polygon points="638.1,788.3 627.6,781.7 638.1,782.3 648.5,788.6" fill="#08761a" stroke="#08761a" stroke-width=".8"/>
<polygon points="958.2,819.2 948,816.7 958.4,810.5 968.6,812.8" fill="#0ba27b" stroke="#0ba27b" stroke-width=".8"/>
<polygon points="814.2,827.2 803.9,822.8 814.2,820 824.5,824.1" fill="#0a9586" stroke="#0a9586" stroke-width=".8"/>
<polygon points="711,811.9 700.7,806.2 711,805.4 721.4,810.9" fill="#098557" stroke="#098557" stroke-width=".8"/>
<polygon points="648.5,794.8 638.1,788.3 648.5,788.6 659,794.9" fill="#087924" stroke="#087924" stroke-width=".8"/>
<polygon points="606.5,780.1 595.9,773 606.5,774.1 617,781" fill="#126f08" stroke="#126f08" stroke-width=".8"/>
<polygon points="1062.5,789.7 1052.1,788.6 1062.7,779.3 1073.2,780.3" fill="#0ca81a" stroke="#0ca81a" stroke-width=".8"/>
<polygon points="1041.4,797.4 1031.1,796 1041.7,787.4 1052.1,788.6" fill="#0ca735" stroke="#0ca735" stroke-width=".8"/>
<polygon points="1020.5,804.1 1010.2,802.4 1020.7,794.5 1031.1,796" fill="#0ca64c" stroke="#0ca64c" stroke-width=".8"/>
<polygon points="999.7,810 989.4,808 999.9,800.7 1010.2,802.4" fill="#0ca561" stroke="#0ca561" stroke-width=".8"/>
<polygon points="978.9,815 968.6,812.8 979.1,806 989.4,808" fill="#0ba470" stroke="#0ba470" stroke-width=".8"/>
<polygon points="937.6,822.6 927.3,819.8 937.7,814.1 948,816.7" fill="#0ba184" stroke="#0ba184" stroke-width=".8"/>
<polygon points="917,825.2 906.7,822.2 917.1,817 927.3,819.8" fill="#0b9f8a" stroke="#0b9f8a" stroke-width=".8"/>
<polygon points="896.4,827 886.1,823.8 896.5,819.1 906.7,822.2" fill="#0b9d8d" stroke="#0b9d8d" stroke-width=".8"/>
<polygon points="875.8,828.1 865.6,824.6 875.9,820.4 886.1,823.8" fill="#0b9b8f" stroke="#0b9b8f" stroke-width=".8"/>
<polygon points="855.3,828.5 845,824.7 855.3,821 865.6,824.6" fill="#0b998e" stroke="#0b998e" stroke-width=".8"/>
<polygon points="834.7,828.2 824.5,824.1 834.8,820.8 845,824.7" fill="#0b978b" stroke="#0b978b" stroke-width=".8"/>
<polygon points="793.6,825.4 783.3,820.9 793.6,818.4 803.9,822.8" fill="#0a9280" stroke="#0a9280" stroke-width=".8"/>
<polygon points="773,823 762.7,818.2 773,816.2 783.3,820.9" fill="#0a8f78" stroke="#0a8f78" stroke-width=".8"/>
<polygon points="752.4,820 742.1,814.9 752.4,813.3 762.7,818.2" fill="#0a8c6e" stroke="#0a8c6e" stroke-width=".8"/>
<polygon points="731.7,816.3 721.4,810.9 731.7,809.7 742.1,814.9" fill="#0a8963" stroke="#0a8963" stroke-width=".8"/>
<polygon points="669.4,801.1 659,794.9 669.4,794.9 679.9,800.9" fill="#097d36" stroke="#097d36" stroke-width=".8"/>
<polygon points="627.6,787.8 617,781 627.6,781.7 638.1,788.3" fill="#087412" stroke="#087412" stroke-width=".8"/>
<polygon points="690.3,806.8 679.9,800.9 690.3,800.5 700.7,806.2" fill="#098147" stroke="#098147" stroke-width=".8"/>
<polygon points="1030.9,805.7 1020.5,804.1 1031.1,796 1041.4,797.4" fill="#0ca84a" stroke="#0ca84a" stroke-width=".8"/>
<polygon points="947.8,825.2 937.6,822.6 948,816.7 958.2,819.2" fill="#0ba385" stroke="#0ba385" stroke-width=".8"/>
<polygon points="865.5,832.2 855.3,828.5 865.6,824.6 875.8,828.1" fill="#0b9c92" stroke="#0b9c92" stroke-width=".8"/>
<polygon points="845,832.1 834.7,828.2 845,824.7 855.3,828.5" fill="#0b9990" stroke="#0b9990" stroke-width=".8"/>
<polygon points="638.1,794.5 627.6,787.8 638.1,788.3 648.5,794.8" fill="#08771c" stroke="#08771c" stroke-width=".8"/>
<polygon points="1051.8,798.7 1041.4,797.4 1052.1,788.6 1062.5,789.7" fill="#0ca831" stroke="#0ca831" stroke-width=".8"/>
<polygon points="1010,811.9 999.7,810 1010.2,802.4 1020.5,804.1" fill="#0ca75f" stroke="#0ca75f" stroke-width=".8"/>
<polygon points="989.2,817.1 978.9,815 989.4,808 999.7,810" fill="#0ca570" stroke="#0ca570" stroke-width=".8"/>
<polygon points="968.5,821.6 958.2,819.2 968.6,812.8 978.9,815" fill="#0ba47c" stroke="#0ba47c" stroke-width=".8"/>
<polygon points="927.2,828.1 917,825.2 927.3,819.8 937.6,822.6" fill="#0ba18c" stroke="#0ba18c" stroke-width=".8"/>
<polygon points="906.6,830.2 896.4,827 906.7,822.2 917,825.2" fill="#0ba090" stroke="#0ba090" stroke-width=".8"/>
<polygon points="824.4,831.4 814.2,827.2 824.5,824.1 834.7,828.2" fill="#0b978c" stroke="#0b978c" stroke-width=".8"/>
<polygon points="803.9,829.9 793.6,825.4 803.9,822.8 814.2,827.2" fill="#0a9486" stroke="#0a9486" stroke-width=".8"/>
<polygon points="762.7,825 752.4,820 762.7,818.2 773,823" fill="#0a8f76" stroke="#0a8f76" stroke-width=".8"/>
<polygon points="742.1,821.6 731.7,816.3 742.1,814.9 752.4,820" fill="#0a8b6b" stroke="#0a8b6b" stroke-width=".8"/>
<polygon points="721.4,817.4 711,811.9 721.4,810.9 731.7,816.3" fill="#09885f" stroke="#09885f" stroke-width=".8"/>
<polygon points="700.7,812.7 690.3,806.8 700.7,806.2 711,811.9" fill="#098451" stroke="#098451" stroke-width=".8"/>
<polygon points="659,801.2 648.5,794.8 659,794.9 669.4,801.1" fill="#097c2f" stroke="#097c2f" stroke-width=".8"/>
<polygon points="617,787.1 606.5,780.1 617,781 627.6,787.8" fill="#08720a" stroke="#08720a" stroke-width=".8"/>
<polygon points="886.1,831.6 875.8,828.1 886.1,823.8 896.4,827" fill="#0b9e93" stroke="#0b9e93" stroke-width=".8"/>
<polygon points="783.3,827.8 773,823 783.3,820.9 793.6,825.4" fill="#0a927f" stroke="#0a927f" stroke-width=".8"/>
<polygon points="679.9,807.3 669.4,801.1 679.9,800.9 690.3,806.8" fill="#098040" stroke="#098040" stroke-width=".8"/>
<polygon points="627.6,793.9 617,787.1 627.6,787.8 638.1,794.5" fill="#087514" stroke="#087514" stroke-width=".8"/>
<polygon points="1041.2,807.3 1030.9,805.7 1041.4,797.4 1051.8,798.7" fill="#0ca947" stroke="#0ca947" stroke-width=".8"/>
<polygon points="1020.3,813.7 1010,811.9 1020.5,804.1 1030.9,805.7" fill="#0ca85d" stroke="#0ca85d" stroke-width=".8"/>
<polygon points="999.5,819.2 989.2,817.1 999.7,810 1010,811.9" fill="#0ca770" stroke="#0ca770" stroke-width=".8"/>
<polygon points="978.8,823.9 968.5,821.6 978.9,815 989.2,817.1" fill="#0ca67c" stroke="#0ca67c" stroke-width=".8"/>
<polygon points="958.1,827.8 947.8,825.2 958.2,819.2 968.5,821.6" fill="#0ca586" stroke="#0ca586" stroke-width=".8"/>
<polygon points="937.5,830.9 927.2,828.1 937.6,822.6 947.8,825.2" fill="#0ba38e" stroke="#0ba38e" stroke-width=".8"/>
<polygon points="896.3,834.9 886.1,831.6 896.4,827 906.6,830.2" fill="#0ba096" stroke="#0ba096" stroke-width=".8"/>
<polygon points="875.8,835.8 865.5,832.2 875.8,828.1 886.1,831.6" fill="#0b9e97" stroke="#0b9e97" stroke-width=".8"/>
<polygon points="855.2,836 845,832.1 855.3,828.5 865.5,832.2" fill="#0b9c95" stroke="#0b9c95" stroke-width=".8"/>
<polygon points="834.7,835.5 824.4,831.4 834.7,828.2 845,832.1" fill="#0b9a92" stroke="#0b9a92" stroke-width=".8"/>
<polygon points="814.2,834.3 803.9,829.9 814.2,827.2 824.4,831.4" fill="#0b978d" stroke="#0b978d" stroke-width=".8"/>
<polygon points="793.6,832.5 783.3,827.8 793.6,825.4 803.9,829.9" fill="#0a9486" stroke="#0a9486" stroke-width=".8"/>
<polygon points="752.4,826.7 742.1,821.6 752.4,820 762.7,825" fill="#0a8e73" stroke="#0a8e73" stroke-width=".8"/>
<polygon points="731.7,822.9 721.4,817.4 731.7,816.3 742.1,821.6" fill="#0a8a67" stroke="#0a8a67" stroke-width=".8"/>
<polygon points="690.3,813.3 679.9,807.3 690.3,806.8 700.7,812.7" fill="#09834a" stroke="#09834a" stroke-width=".8"/>
<polygon points="648.5,801 638.1,794.5 648.5,794.8 659,801.2" fill="#097a27" stroke="#097a27" stroke-width=".8"/>
<polygon points="916.9,833.3 906.6,830.2 917,825.2 927.2,828.1" fill="#0ba293" stroke="#0ba293" stroke-width=".8"/>
<polygon points="773,829.9 762.7,825 773,823 783.3,827.8" fill="#0a917d" stroke="#0a917d" stroke-width=".8"/>
<polygon points="711,818.4 700.7,812.7 711,811.9 721.4,817.4" fill="#09875a" stroke="#09875a" stroke-width=".8"/>
<polygon points="669.4,807.5 659,801.2 669.4,801.1 679.9,807.3" fill="#097e39" stroke="#097e39" stroke-width=".8"/>
<polygon points="968.4,830.3 958.1,827.8 968.5,821.6 978.8,823.9" fill="#0ca788" stroke="#0ca788" stroke-width=".8"/>
<polygon points="845,839.5 834.7,835.5 845,832.1 855.2,836" fill="#0b9c98" stroke="#0b9c98" stroke-width=".8"/>
<polygon points="783.3,834.8 773,829.9 783.3,827.8 793.6,832.5" fill="#0a9484" stroke="#0a9484" stroke-width=".8"/>
<polygon points="742.1,828.3 731.7,822.9 742.1,821.6 752.4,826.7" fill="#0a8d6f" stroke="#0a8d6f" stroke-width=".8"/>
<polygon points="721.4,824.1 711,818.4 721.4,817.4 731.7,822.9" fill="#0a8a63" stroke="#0a8a63" stroke-width=".8"/>
<polygon points="679.9,813.7 669.4,807.5 679.9,807.3 690.3,813.3" fill="#098143" stroke="#098143" stroke-width=".8"/>
<polygon points="638.1,800.7 627.6,793.9 638.1,794.5 648.5,801" fill="#08781f" stroke="#08781f" stroke-width=".8"/>
<polygon points="1030.7,815.4 1020.3,813.7 1030.9,805.7 1041.2,807.3" fill="#0caa5b" stroke="#0caa5b" stroke-width=".8"/>
<polygon points="1009.8,821.2 999.5,819.2 1010,811.9 1020.3,813.7" fill="#0ca96f" stroke="#0ca96f" stroke-width=".8"/>
<polygon points="989.1,826.1 978.8,823.9 989.2,817.1 999.5,819.2" fill="#0ca87d" stroke="#0ca87d" stroke-width=".8"/>
<polygon points="947.7,833.7 937.5,830.9 947.8,825.2 958.1,827.8" fill="#0ca590" stroke="#0ca590" stroke-width=".8"/>
<polygon points="927.1,836.3 916.9,833.3 927.2,828.1 937.5,830.9" fill="#0ba496" stroke="#0ba496" stroke-width=".8"/>
<polygon points="906.6,838.2 896.3,834.9 906.6,830.2 916.9,833.3" fill="#0ba29a" stroke="#0ba29a" stroke-width=".8"/>
<polygon points="886,839.3 875.8,835.8 886.1,831.6 896.3,834.9" fill="#0ba09b" stroke="#0ba09b" stroke-width=".8"/>
<polygon points="865.5,839.8 855.2,836 865.5,832.2 875.8,835.8" fill="#0b9e9a" stroke="#0b9e9a" stroke-width=".8"/>
<polygon points="824.4,838.6 814.2,834.3 824.4,831.4 834.7,835.5" fill="#0b9993" stroke="#0b9993" stroke-width=".8"/>
<polygon points="803.9,837 793.6,832.5 803.9,829.9 814.2,834.3" fill="#0b978c" stroke="#0b978c" stroke-width=".8"/>
<polygon points="762.7,831.8 752.4,826.7 762.7,825 773,829.9" fill="#0a917a" stroke="#0a917a" stroke-width=".8"/>
<polygon points="700.6,819.2 690.3,813.3 700.7,812.7 711,818.4" fill="#098654" stroke="#098654" stroke-width=".8"/>
<polygon points="659,807.5 648.5,801 659,801.2 669.4,807.5" fill="#097d31" stroke="#097d31" stroke-width=".8"/>
<polygon points="999.4,828.3 989.1,826.1 999.5,819.2 1009.8,821.2" fill="#0caa7d" stroke="#0caa7d" stroke-width=".8"/>
<polygon points="978.7,832.7 968.4,830.3 978.8,823.9 989.1,826.1" fill="#0ca988" stroke="#0ca988" stroke-width=".8"/>
<polygon points="958,836.3 947.7,833.7 958.1,827.8 968.4,830.3" fill="#0ca892" stroke="#0ca892" stroke-width=".8"/>
<polygon points="916.8,841.4 906.6,838.2 916.9,833.3 927.1,836.3" fill="#0ca59d" stroke="#0ca59d" stroke-width=".8"/>
<polygon points="896.3,842.8 886,839.3 896.3,834.9 906.6,838.2" fill="#0ba39f" stroke="#0ba39f" stroke-width=".8"/>
<polygon points="875.7,843.5 865.5,839.8 875.8,835.8 886,839.3" fill="#0ba19f" stroke="#0ba19f" stroke-width=".8"/>
<polygon points="855.2,843.5 845,839.5 855.2,836 865.5,839.8" fill="#0b9e9d" stroke="#0b9e9d" stroke-width=".8"/>
<polygon points="834.7,842.8 824.4,838.6 834.7,835.5 845,839.5" fill="#0b9c99" stroke="#0b9c99" stroke-width=".8"/>
<polygon points="814.1,841.5 803.9,837 814.2,834.3 824.4,838.6" fill="#0b9993" stroke="#0b9993" stroke-width=".8"/>
<polygon points="711,825 700.6,819.2 711,818.4 721.4,824.1" fill="#0a895e" stroke="#0a895e" stroke-width=".8"/>
<polygon points="669.4,814 659,807.5 669.4,807.5 679.9,813.7" fill="#09803c" stroke="#09803c" stroke-width=".8"/>
<polygon points="1020.2,823.1 1009.8,821.2 1020.3,813.7 1030.7,815.4" fill="#0cab6d" stroke="#0cab6d" stroke-width=".8"/>
<polygon points="937.4,839.2 927.1,836.3 937.5,830.9 947.7,833.7" fill="#0ca698" stroke="#0ca698" stroke-width=".8"/>
<polygon points="793.6,839.5 783.3,834.8 793.6,832.5 803.9,837" fill="#0b968b" stroke="#0b968b" stroke-width=".8"/>
<polygon points="773,836.8 762.7,831.8 773,829.9 783.3,834.8" fill="#0a9382" stroke="#0a9382" stroke-width=".8"/>
<polygon points="752.4,833.6 742.1,828.3 752.4,826.7 762.7,831.8" fill="#0a9077" stroke="#0a9077" stroke-width=".8"/>
<polygon points="731.7,829.6 721.4,824.1 731.7,822.9 742.1,828.3" fill="#0a8c6b" stroke="#0a8c6b" stroke-width=".8"/>
<polygon points="690.3,819.8 679.9,813.7 690.3,813.3 700.6,819.2" fill="#09844e" stroke="#09844e" stroke-width=".8"/>
<polygon points="648.5,807.4 638.1,800.7 648.5,801 659,807.5" fill="#097b2a" stroke="#097b2a" stroke-width=".8"/>
<polygon points="762.7,838.7 752.4,833.6 762.7,831.8 773,836.8" fill="#0a937f" stroke="#0a937f" stroke-width=".8"/>
<polygon points="659,814 648.5,807.4 659,807.5 669.4,814" fill="#097e34" stroke="#097e34" stroke-width=".8"/>
<polygon points="1009.7,830.4 999.4,828.3 1009.8,821.2 1020.2,823.1" fill="#0cac7c" stroke="#0cac7c" stroke-width=".8"/>
<polygon points="988.9,835 978.7,832.7 989.1,826.1 999.4,828.3" fill="#0cab89" stroke="#0cab89" stroke-width=".8"/>
<polygon points="968.3,838.9 958,836.3 968.4,830.3 978.7,832.7" fill="#0caa93" stroke="#0caa93" stroke-width=".8"/>
<polygon points="947.7,842 937.4,839.2 947.7,833.7 958,836.3" fill="#0ca89b" stroke="#0ca89b" stroke-width=".8"/>
<polygon points="927.1,844.4 916.8,841.4 927.1,836.3 937.4,839.2" fill="#0ca7a0" stroke="#0ca7a0" stroke-width=".8"/>
<polygon points="906.5,846.1 896.3,842.8 906.6,838.2 916.8,841.4" fill="#0ca5a3" stroke="#0ca5a3" stroke-width=".8"/>
<polygon points="886,847.1 875.7,843.5 886,839.3 896.3,842.8" fill="#0ba3a3" stroke="#0ba3a3" stroke-width=".8"/>
<polygon points="865.4,847.3 855.2,843.5 865.5,839.8 875.7,843.5" fill="#0ba0a1" stroke="#0ba0a1" stroke-width=".8"/>
<polygon points="844.9,846.9 834.7,842.8 845,839.5 855.2,843.5" fill="#0b9f9f" stroke="#0b9f9f" stroke-width=".8"/>
<polygon points="824.4,845.9 814.1,841.5 824.4,838.6 834.7,842.8" fill="#0b9c99" stroke="#0b9c99" stroke-width=".8"/>
<polygon points="803.8,844.1 793.6,839.5 803.9,837 814.1,841.5" fill="#0b9992" stroke="#0b9992" stroke-width=".8"/>
<polygon points="783.3,841.8 773,836.8 783.3,834.8 793.6,839.5" fill="#0b9689" stroke="#0b9689" stroke-width=".8"/>
<polygon points="721.4,830.8 711,825 721.4,824.1 731.7,829.6" fill="#0a8b66" stroke="#0a8b66" stroke-width=".8"/>
<polygon points="700.6,825.8 690.3,819.8 700.6,819.2 711,825" fill="#098758" stroke="#098758" stroke-width=".8"/>
<polygon points="679.8,820.3 669.4,814 679.9,813.7 690.3,819.8" fill="#098347" stroke="#098347" stroke-width=".8"/>
<polygon points="742,835.1 731.7,829.6 742.1,828.3 752.4,833.6" fill="#0a8f73" stroke="#0a8f73" stroke-width=".8"/>
<polygon points="896.2,850.6 886,847.1 896.3,842.8 906.5,846.1" fill="#0ca3a6" stroke="#0ca3a6" stroke-width=".8"/>
<polygon points="999.2,837.3 988.9,835 999.4,828.3 1009.7,830.4" fill="#0cad89" stroke="#0cad89" stroke-width=".8"/>
<polygon points="978.5,841.4 968.3,838.9 978.7,832.7 988.9,835" fill="#0cac94" stroke="#0cac94" stroke-width=".8"/>
<polygon points="937.3,847.4 927.1,844.4 937.4,839.2 947.7,842" fill="#0ca9a3" stroke="#0ca9a3" stroke-width=".8"/>
<polygon points="916.8,849.3 906.5,846.1 916.8,841.4 927.1,844.4" fill="#0ca8a6" stroke="#0ca8a6" stroke-width=".8"/>
<polygon points="875.7,851.1 865.4,847.3 875.7,843.5 886,847.1" fill="#0ba0a4" stroke="#0ba0a4" stroke-width=".8"/>
<polygon points="855.2,850.9 844.9,846.9 855.2,843.5 865.4,847.3" fill="#0b9ea1" stroke="#0b9ea1" stroke-width=".8"/>
<polygon points="834.6,850.1 824.4,845.9 834.7,842.8 844.9,846.9" fill="#0b9e9f" stroke="#0b9e9f" stroke-width=".8"/>
<polygon points="814.1,848.7 803.8,844.1 814.1,841.5 824.4,845.9" fill="#0b9c99" stroke="#0b9c99" stroke-width=".8"/>
<polygon points="793.5,846.6 783.3,841.8 793.6,839.5 803.8,844.1" fill="#0b9991" stroke="#0b9991" stroke-width=".8"/>
<polygon points="773,843.8 762.7,838.7 773,836.8 783.3,841.8" fill="#0a9687" stroke="#0a9687" stroke-width=".8"/>
<polygon points="752.4,840.4 742,835.1 752.4,833.6 762.7,838.7" fill="#0a927c" stroke="#0a927c" stroke-width=".8"/>
<polygon points="711,831.8 700.6,825.8 711,825 721.4,830.8" fill="#0a8a61" stroke="#0a8a61" stroke-width=".8"/>
<polygon points="690.2,826.5 679.8,820.3 690.3,819.8 700.6,825.8" fill="#098652" stroke="#098652" stroke-width=".8"/>
<polygon points="669.4,820.5 659,814 669.4,814 679.8,820.3" fill="#09823f" stroke="#09823f" stroke-width=".8"/>
<polygon points="957.9,844.8 947.7,842 958,836.3 968.3,838.9" fill="#0cab9c" stroke="#0cab9c" stroke-width=".8"/>
<polygon points="731.7,836.4 721.4,830.8 731.7,829.6 742,835.1" fill="#0a8e6f" stroke="#0a8e6f" stroke-width=".8"/>
<polygon points="988.8,843.8 978.5,841.4 988.9,835 999.2,837.3" fill="#0cae95" stroke="#0cae95" stroke-width=".8"/>
<polygon points="968.2,847.4 957.9,844.8 968.3,838.9 978.5,841.4" fill="#0cad9e" stroke="#0cad9e" stroke-width=".8"/>
<polygon points="947.6,850.3 937.3,847.4 947.7,842 957.9,844.8" fill="#0caca5" stroke="#0caca5" stroke-width=".8"/>
<polygon points="927,852.5 916.8,849.3 927.1,844.4 937.3,847.4" fill="#0caaaa" stroke="#0caaaa" stroke-width=".8"/>
<polygon points="906.4,854 896.2,850.6 906.5,846.1 916.8,849.3" fill="#0ca4a8" stroke="#0ca4a8" stroke-width=".8"/>
<polygon points="885.9,854.7 875.7,851.1 886,847.1 896.2,850.6" fill="#0ca0a6" stroke="#0ca0a6" stroke-width=".8"/>
<polygon points="865.4,854.9 855.2,850.9 865.4,847.3 875.7,851.1" fill="#0b9da4" stroke="#0b9da4" stroke-width=".8"/>
<polygon points="844.9,854.3 834.6,850.1 844.9,846.9 855.2,850.9" fill="#0b9da1" stroke="#0b9da1" stroke-width=".8"/>
<polygon points="824.4,853.1 814.1,848.7 824.4,845.9 834.6,850.1" fill="#0b9d9f" stroke="#0b9d9f" stroke-width=".8"/>
<polygon points="803.8,851.3 793.5,846.6 803.8,844.1 814.1,848.7" fill="#0b9c98" stroke="#0b9c98" stroke-width=".8"/>
<polygon points="783.3,848.8 773,843.8 783.3,841.8 793.5,846.6" fill="#0b988f" stroke="#0b988f" stroke-width=".8"/>
<polygon points="742,841.9 731.7,836.4 742,835.1 752.4,840.4" fill="#0a9178" stroke="#0a9178" stroke-width=".8"/>
<polygon points="700.6,832.6 690.2,826.5 700.6,825.8 711,831.8" fill="#0a895c" stroke="#0a895c" stroke-width=".8"/>
<polygon points="679.8,826.9 669.4,820.5 679.8,820.3 690.2,826.5" fill="#09854a" stroke="#09854a" stroke-width=".8"/>
<polygon points="762.7,845.7 752.4,840.4 762.7,838.7 773,843.8" fill="#0a9584" stroke="#0a9584" stroke-width=".8"/>
<polygon points="721.4,837.6 711,831.8 721.4,830.8 731.7,836.4" fill="#0a8d6a" stroke="#0a8d6a" stroke-width=".8"/>
<polygon points="896.2,858.3 885.9,854.7 896.2,850.6 906.4,854" fill="#0c9fa9" stroke="#0c9fa9" stroke-width=".8"/>
<polygon points="875.6,858.7 865.4,854.9 875.7,851.1 885.9,854.7" fill="#0c9ca7" stroke="#0c9ca7" stroke-width=".8"/>
<polygon points="793.5,853.7 783.3,848.8 793.5,846.6 803.8,851.3" fill="#0b9b97" stroke="#0b9b97" stroke-width=".8"/>
<polygon points="773,850.8 762.7,845.7 773,843.8 783.3,848.8" fill="#0b988c" stroke="#0b988c" stroke-width=".8"/>
<polygon points="731.7,843.3 721.4,837.6 731.7,836.4 742,841.9" fill="#0a9073" stroke="#0a9073" stroke-width=".8"/>
<polygon points="690.2,833.2 679.8,826.9 690.2,826.5 700.6,832.6" fill="#0a8856" stroke="#0a8856" stroke-width=".8"/>
<polygon points="978.4,850 968.2,847.4 978.5,841.4 988.8,843.8" fill="#0cafa0" stroke="#0cafa0" stroke-width=".8"/>
<polygon points="957.8,853.1 947.6,850.3 957.9,844.8 968.2,847.4" fill="#0caea7" stroke="#0caea7" stroke-width=".8"/>
<polygon points="937.2,855.5 927,852.5 937.3,847.4 947.6,850.3" fill="#0cacac" stroke="#0cacac" stroke-width=".8"/>
<polygon points="916.7,857.3 906.4,854 916.8,849.3 927,852.5" fill="#0ca6ab" stroke="#0ca6ab" stroke-width=".8"/>
<polygon points="855.1,858.4 844.9,854.3 855.2,850.9 865.4,854.9" fill="#0b9ba4" stroke="#0b9ba4" stroke-width=".8"/>
<polygon points="834.6,857.4 824.4,853.1 834.6,850.1 844.9,854.3" fill="#0b9ca1" stroke="#0b9ca1" stroke-width=".8"/>
<polygon points="814.1,855.9 803.8,851.3 814.1,848.7 824.4,853.1" fill="#0b9e9f" stroke="#0b9e9f" stroke-width=".8"/>
<polygon points="752.3,847.4 742,841.9 752.4,840.4 762.7,845.7" fill="#0a9480" stroke="#0a9480" stroke-width=".8"/>
<polygon points="711,838.6 700.6,832.6 711,831.8 721.4,837.6" fill="#0a8c65" stroke="#0a8c65" stroke-width=".8"/>
<polygon points="947.5,858.5 937.2,855.5 947.6,850.3 957.8,853.1" fill="#0caeaf" stroke="#0caeaf" stroke-width=".8"/>
<polygon points="926.9,860.5 916.7,857.3 927,852.5 937.2,855.5" fill="#0ca7ad" stroke="#0ca7ad" stroke-width=".8"/>
<polygon points="906.4,861.7 896.2,858.3 906.4,854 916.7,857.3" fill="#0c9fab" stroke="#0c9fab" stroke-width=".8"/>
<polygon points="865.4,862.3 855.1,858.4 865.4,854.9 875.6,858.7" fill="#0c98a7" stroke="#0c98a7" stroke-width=".8"/>
<polygon points="783.2,855.9 773,850.8 783.3,848.8 793.5,853.7" fill="#0b9b94" stroke="#0b9b94" stroke-width=".8"/>
<polygon points="762.6,852.7 752.3,847.4 762.7,845.7 773,850.8" fill="#0b9789" stroke="#0b9789" stroke-width=".8"/>
<polygon points="968.1,855.8 957.8,853.1 968.2,847.4 978.4,850" fill="#0cb0a9" stroke="#0cb0a9" stroke-width=".8"/>
<polygon points="885.9,862.4 875.6,858.7 885.9,854.7 896.2,858.3" fill="#0c9aa9" stroke="#0c9aa9" stroke-width=".8"/>
<polygon points="844.8,861.7 834.6,857.4 844.9,854.3 855.1,858.4" fill="#0b99a4" stroke="#0b99a4" stroke-width=".8"/>
<polygon points="824.3,860.4 814.1,855.9 824.4,853.1 834.6,857.4" fill="#0b9ca1" stroke="#0b9ca1" stroke-width=".8"/>
<polygon points="803.8,858.4 793.5,853.7 803.8,851.3 814.1,855.9" fill="#0b9e9e" stroke="#0b9e9e" stroke-width=".8"/>
<polygon points="742,848.9 731.7,843.3 742,841.9 752.3,847.4" fill="#0a937c" stroke="#0a937c" stroke-width=".8"/>
<polygon points="721.4,844.5 711,838.6 721.4,837.6 731.7,843.3" fill="#0a8f6e" stroke="#0a8f6e" stroke-width=".8"/>
<polygon points="700.6,839.4 690.2,833.2 700.6,832.6 711,838.6" fill="#0a8b60" stroke="#0a8b60" stroke-width=".8"/>
<polygon points="957.7,861.3 947.5,858.5 957.8,853.1 968.1,855.8" fill="#0cb1b1" stroke="#0cb1b1" stroke-width=".8"/>
<polygon points="937.2,863.6 926.9,860.5 937.2,855.5 947.5,858.5" fill="#0ca8b0" stroke="#0ca8b0" stroke-width=".8"/>
<polygon points="916.6,865.1 906.4,861.7 916.7,857.3 926.9,860.5" fill="#0c9fae" stroke="#0c9fae" stroke-width=".8"/>
<polygon points="896.1,866 885.9,862.4 896.2,858.3 906.4,861.7" fill="#0c99ac" stroke="#0c99ac" stroke-width=".8"/>
<polygon points="875.6,866.2 865.4,862.3 875.6,858.7 885.9,862.4" fill="#0c96aa" stroke="#0c96aa" stroke-width=".8"/>
<polygon points="855.1,865.8 844.8,861.7 855.1,858.4 865.4,862.3" fill="#0c96a7" stroke="#0c96a7" stroke-width=".8"/>
<polygon points="834.6,864.7 824.3,860.4 834.6,857.4 844.8,861.7" fill="#0c99a4" stroke="#0c99a4" stroke-width=".8"/>
<polygon points="814,863.1 803.8,858.4 814.1,855.9 824.3,860.4" fill="#0b9da1" stroke="#0b9da1" stroke-width=".8"/>
<polygon points="793.5,860.8 783.2,855.9 793.5,853.7 803.8,858.4" fill="#0b9e9c" stroke="#0b9e9c" stroke-width=".8"/>
<polygon points="772.9,857.9 762.6,852.7 773,850.8 783.2,855.9" fill="#0b9a91" stroke="#0b9a91" stroke-width=".8"/>
<polygon points="752.3,854.4 742,848.9 752.3,847.4 762.6,852.7" fill="#0b9685" stroke="#0b9685" stroke-width=".8"/>
<polygon points="731.7,850.3 721.4,844.5 731.7,843.3 742,848.9" fill="#0a9278" stroke="#0a9278" stroke-width=".8"/>
<polygon points="711,845.5 700.6,839.4 711,838.6 721.4,844.5" fill="#0a8e69" stroke="#0a8e69" stroke-width=".8"/>
<polygon points="947.4,866.6 937.2,863.6 947.5,858.5 957.7,861.3" fill="#0caab3" stroke="#0caab3" stroke-width=".8"/>
<polygon points="926.9,868.3 916.6,865.1 926.9,860.5 937.2,863.6" fill="#0ca0b1" stroke="#0ca0b1" stroke-width=".8"/>
<polygon points="906.3,869.5 896.1,866 906.4,861.7 916.6,865.1" fill="#0c99af" stroke="#0c99af" stroke-width=".8"/>
<polygon points="885.8,870 875.6,866.2 885.9,862.4 896.1,866" fill="#0c95ad" stroke="#0c95ad" stroke-width=".8"/>
<polygon points="865.3,869.8 855.1,865.8 865.4,862.3 875.6,866.2" fill="#0c94aa" stroke="#0c94aa" stroke-width=".8"/>
<polygon points="844.8,869 834.6,864.7 844.8,861.7 855.1,865.8" fill="#0c95a7" stroke="#0c95a7" stroke-width=".8"/>
<polygon points="824.3,867.6 814,863.1 824.3,860.4 834.6,864.7" fill="#0b99a4" stroke="#0b99a4" stroke-width=".8"/>
<polygon points="783.2,863 772.9,857.9 783.2,855.9 793.5,860.8" fill="#0b9d9a" stroke="#0b9d9a" stroke-width=".8"/>
<polygon points="762.6,859.8 752.3,854.4 762.6,852.7 772.9,857.9" fill="#0b9a8e" stroke="#0b9a8e" stroke-width=".8"/>
<polygon points="742,855.9 731.7,850.3 742,848.9 752.3,854.4" fill="#0a9581" stroke="#0a9581" stroke-width=".8"/>
<polygon points="803.8,865.6 793.5,860.8 803.8,858.4 814,863.1" fill="#0b9ea1" stroke="#0b9ea1" stroke-width=".8"/>
<polygon points="721.3,851.5 711,845.5 721.4,844.5 731.7,850.3" fill="#0a9173" stroke="#0a9173" stroke-width=".8"/>
<polygon points="937.1,871.5 926.9,868.3 937.2,863.6 947.4,866.6" fill="#0da1b3" stroke="#0da1b3" stroke-width=".8"/>
<polygon points="916.6,872.9 906.3,869.5 916.6,865.1 926.9,868.3" fill="#0c99b2" stroke="#0c99b2" stroke-width=".8"/>
<polygon points="875.5,873.7 865.3,869.8 875.6,866.2 885.8,870" fill="#0c92ad" stroke="#0c92ad" stroke-width=".8"/>
<polygon points="834.5,872.1 824.3,867.6 834.6,864.7 844.8,869" fill="#0c95a7" stroke="#0c95a7" stroke-width=".8"/>
<polygon points="772.9,865.1 762.6,859.8 772.9,857.9 783.2,863" fill="#0b9d97" stroke="#0b9d97" stroke-width=".8"/>
<polygon points="752.3,861.5 742,855.9 752.3,854.4 762.6,859.8" fill="#0b998a" stroke="#0b998a" stroke-width=".8"/>
<polygon points="896.1,873.6 885.8,870 896.1,866 906.3,869.5" fill="#0c94af" stroke="#0c94af" stroke-width=".8"/>
<polygon points="814,870.3 803.8,865.6 814,863.1 824.3,867.6" fill="#0b9aa4" stroke="#0b9aa4" stroke-width=".8"/>
<polygon points="793.5,868 783.2,863 793.5,860.8 803.8,865.6" fill="#0b9fa0" stroke="#0b9fa0" stroke-width=".8"/>
<polygon points="731.7,857.4 721.3,851.5 731.7,850.3 742,855.9" fill="#0a947c" stroke="#0a947c" stroke-width=".8"/>
<polygon points="855,873.2 844.8,869 855.1,865.8 865.3,869.8" fill="#0c92aa" stroke="#0c92aa" stroke-width=".8"/>
<polygon points="906.3,877.2 896.1,873.6 906.3,869.5 916.6,872.9" fill="#0c94b2" stroke="#0c94b2" stroke-width=".8"/>
<polygon points="885.8,877.5 875.5,873.7 885.8,870 896.1,873.6" fill="#0c90b0" stroke="#0c90b0" stroke-width=".8"/>
<polygon points="824.3,874.9 814,870.3 824.3,867.6 834.5,872.1" fill="#0c96a7" stroke="#0c96a7" stroke-width=".8"/>
<polygon points="803.7,872.9 793.5,868 803.8,865.6 814,870.3" fill="#0b9ca4" stroke="#0b9ca4" stroke-width=".8"/>
<polygon points="742,863.1 731.7,857.4 742,855.9 752.3,861.5" fill="#0b9786" stroke="#0b9786" stroke-width=".8"/>
<polygon points="926.8,876.2 916.6,872.9 926.9,868.3 937.1,871.5" fill="#0d9ab4" stroke="#0d9ab4" stroke-width=".8"/>
<polygon points="865.3,877.3 855,873.2 865.3,869.8 875.5,873.7" fill="#0c90ad" stroke="#0c90ad" stroke-width=".8"/>
<polygon points="844.8,876.4 834.5,872.1 844.8,869 855,873.2" fill="#0c91aa" stroke="#0c91aa" stroke-width=".8"/>
<polygon points="783.2,870.2 772.9,865.1 783.2,863 793.5,868" fill="#0ba09f" stroke="#0ba09f" stroke-width=".8"/>
<polygon points="762.6,867 752.3,861.5 762.6,859.8 772.9,865.1" fill="#0b9c93" stroke="#0b9c93" stroke-width=".8"/>
<polygon points="814,877.6 803.7,872.9 814,870.3 824.3,874.9" fill="#0c97a7" stroke="#0c97a7" stroke-width=".8"/>
<polygon points="916.5,880.6 906.3,877.2 916.6,872.9 926.8,876.2" fill="#0d94b5" stroke="#0d94b5" stroke-width=".8"/>
<polygon points="896,881.2 885.8,877.5 896.1,873.6 906.3,877.2" fill="#0d8fb3" stroke="#0d8fb3" stroke-width=".8"/>
<polygon points="875.5,881.2 865.3,877.3 875.5,873.7 885.8,877.5" fill="#0c8db0" stroke="#0c8db0" stroke-width=".8"/>
<polygon points="855,880.6 844.8,876.4 855,873.2 865.3,877.3" fill="#0c8ead" stroke="#0c8ead" stroke-width=".8"/>
<polygon points="834.5,879.4 824.3,874.9 834.5,872.1 844.8,876.4" fill="#0c91aa" stroke="#0c91aa" stroke-width=".8"/>
<polygon points="793.5,875.3 783.2,870.2 793.5,868 803.7,872.9" fill="#0b9ea3" stroke="#0b9ea3" stroke-width=".8"/>
<polygon points="772.9,872.3 762.6,867 772.9,865.1 783.2,870.2" fill="#0b9f9c" stroke="#0b9f9c" stroke-width=".8"/>
<polygon points="752.3,868.8 742,863.1 752.3,861.5 762.6,867" fill="#0b9b8f" stroke="#0b9b8f" stroke-width=".8"/>
<polygon points="906.2,884.8 896,881.2 906.3,877.2 916.5,880.6" fill="#0d8fb6" stroke="#0d8fb6" stroke-width=".8"/>
<polygon points="885.7,885.1 875.5,881.2 885.8,877.5 896,881.2" fill="#0d8cb3" stroke="#0d8cb3" stroke-width=".8"/>
<polygon points="865.2,884.7 855,880.6 865.3,877.3 875.5,881.2" fill="#0c8cb0" stroke="#0c8cb0" stroke-width=".8"/>
<polygon points="844.7,883.8 834.5,879.4 844.8,876.4 855,880.6" fill="#0c8ead" stroke="#0c8ead" stroke-width=".8"/>
<polygon points="824.2,882.3 814,877.6 824.3,874.9 834.5,879.4" fill="#0c92aa" stroke="#0c92aa" stroke-width=".8"/>
<polygon points="803.7,880.2 793.5,875.3 803.7,872.9 814,877.6" fill="#0c99a6" stroke="#0c99a6" stroke-width=".8"/>
<polygon points="783.2,877.5 772.9,872.3 783.2,870.2 793.5,875.3" fill="#0b9fa2" stroke="#0b9fa2" stroke-width=".8"/>
<polygon points="762.6,874.3 752.3,868.8 762.6,867 772.9,872.3" fill="#0b9e98" stroke="#0b9e98" stroke-width=".8"/>
<polygon points="896,888.8 885.7,885.1 896,881.2 906.2,884.8" fill="#0d8bb6" stroke="#0d8bb6" stroke-width=".8"/>
<polygon points="875.5,888.7 865.2,884.7 875.5,881.2 885.7,885.1" fill="#0d89b4" stroke="#0d89b4" stroke-width=".8"/>
<polygon points="834.5,886.8 824.2,882.3 834.5,879.4 844.7,883.8" fill="#0c8ead" stroke="#0c8ead" stroke-width=".8"/>
<polygon points="793.4,882.7 783.2,877.5 793.5,875.3 803.7,880.2" fill="#0c9ba5" stroke="#0c9ba5" stroke-width=".8"/>
<polygon points="855,888.1 844.7,883.8 855,880.6 865.2,884.7" fill="#0c8ab0" stroke="#0c8ab0" stroke-width=".8"/>
<polygon points="814,885 803.7,880.2 814,877.6 824.2,882.3" fill="#0c93a9" stroke="#0c93a9" stroke-width=".8"/>
<polygon points="772.9,879.7 762.6,874.3 772.9,872.3 783.2,877.5" fill="#0ba1a1" stroke="#0ba1a1" stroke-width=".8"/>
<polygon points="885.7,892.6 875.5,888.7 885.7,885.1 896,888.8" fill="#0d88b7" stroke="#0d88b7" stroke-width=".8"/>
<polygon points="865.2,892.2 855,888.1 865.2,884.7 875.5,888.7" fill="#0d88b4" stroke="#0d88b4" stroke-width=".8"/>
<polygon points="844.7,891.2 834.5,886.8 844.7,883.8 855,888.1" fill="#0c8ab0" stroke="#0c8ab0" stroke-width=".8"/>
<polygon points="824.2,889.7 814,885 824.2,882.3 834.5,886.8" fill="#0c8fad" stroke="#0c8fad" stroke-width=".8"/>
<polygon points="783.2,885 772.9,879.7 783.2,877.5 793.4,882.7" fill="#0c9da4" stroke="#0c9da4" stroke-width=".8"/>
<polygon points="803.7,887.6 793.4,882.7 803.7,880.2 814,885" fill="#0c95a9" stroke="#0c95a9" stroke-width=".8"/>
<polygon points="834.5,894.3 824.2,889.7 834.5,886.8 844.7,891.2" fill="#0c8ab0" stroke="#0c8ab0" stroke-width=".8"/>
<polygon points="875.4,896.2 865.2,892.2 875.5,888.7 885.7,892.6" fill="#0d85b7" stroke="#0d85b7" stroke-width=".8"/>
<polygon points="854.9,895.5 844.7,891.2 855,888.1 865.2,892.2" fill="#0d87b4" stroke="#0d87b4" stroke-width=".8"/>
<polygon points="814,892.5 803.7,887.6 814,885 824.2,889.7" fill="#0c90ac" stroke="#0c90ac" stroke-width=".8"/>
<polygon points="793.4,890.1 783.2,885 793.4,882.7 803.7,887.6" fill="#0c97a8" stroke="#0c97a8" stroke-width=".8"/>
<polygon points="865.2,899.7 854.9,895.5 865.2,892.2 875.4,896.2" fill="#0d84b7" stroke="#0d84b7" stroke-width=".8"/>
<polygon points="844.7,898.7 834.5,894.3 844.7,891.2 854.9,895.5" fill="#0d86b3" stroke="#0d86b3" stroke-width=".8"/>
<polygon points="824.2,897.2 814,892.5 824.2,889.7 834.5,894.3" fill="#0c8baf" stroke="#0c8baf" stroke-width=".8"/>
<polygon points="803.7,895.2 793.4,890.1 803.7,887.6 814,892.5" fill="#0c91ab" stroke="#0c91ab" stroke-width=".8"/>
<polygon points="854.9,903.1 844.7,898.7 854.9,895.5 865.2,899.7" fill="#0d83b7" stroke="#0d83b7" stroke-width=".8"/>
<polygon points="834.4,901.8 824.2,897.2 834.5,894.3 844.7,898.7" fill="#0d86b3" stroke="#0d86b3" stroke-width=".8"/>
<polygon points="813.9,900.1 803.7,895.2 814,892.5 824.2,897.2" fill="#0c8caf" stroke="#0c8caf" stroke-width=".8"/>
<polygon points="844.7,906.3 834.4,901.8 844.7,898.7 854.9,903.1" fill="#0d82b6" stroke="#0d82b6" stroke-width=".8"/>
<polygon points="824.2,904.9 813.9,900.1 824.2,897.2 834.4,901.8" fill="#0c87b2" stroke="#0c87b2" stroke-width=".8"/>
<polygon points="834.4,909.5 824.2,904.9 834.4,901.8 844.7,906.3" fill="#0d82b5" stroke="#0d82b5" stroke-width=".8"/>
<path d="M834.4,909.5 L856.6,902.5 L878.9,895 L901.1,886.8 L923.4,877.7 L945.7,867.4 L968.1,855.8 L990.6,842.7 L1013.2,828 L1035.9,811.4 L1058.9,792.8 L1082.1,772 L1105.6,749 M834.4,909.5 L812.2,899.3 L790,888.4 L767.8,877 L745.4,865 L723.1,852.5 L700.6,839.4 L678.1,825.9 L655.5,811.9 L632.8,797.4 L610,782.4 L587.1,767.1 L564.1,751.3 M831.4,908.2 L853.7,901.3 L875.9,893.9 L898.1,885.8 L920.4,876.7 L942.7,866.5 L965.1,855 L987.6,842.1 L1010.2,827.4 L1032.9,810.9 L1055.9,792.4 L1079.1,771.8 L1102.6,748.9 M837.4,908.6 L815.2,898.5 L793,887.7 L770.7,876.4 L748.4,864.6 L726.1,852.1 L703.6,839.2 L681.1,825.8 L658.5,811.9 L635.8,797.5 L613.1,782.7 L590.2,767.5 L567.1,751.8 M828.5,906.8 L850.7,900.1 L872.9,892.7 L895.2,884.7 L917.5,875.7 L939.8,865.7 L962.1,854.3 L984.6,841.4 L1007.2,826.8 L1030,810.5 L1052.9,792.1 L1076.1,771.6 L1099.6,748.8 M840.3,907.7 L818.2,897.7 L795.9,887 L773.7,875.8 L751.4,864.1 L729,851.8 L706.6,839 L684.1,825.6 L661.5,811.9 L638.9,797.6 L616.1,782.9 L593.2,767.8 L570.2,752.3 M825.5,905.5 L847.8,898.8 L870,891.6 L892.2,883.6 L914.5,874.8 L936.8,864.8 L959.2,853.5 L981.6,840.7 L1004.2,826.2 L1027,810 L1049.9,791.7 L1073.1,771.4 L1096.5,748.8 M843.3,906.8 L821.1,896.8 L798.9,886.3 L776.7,875.2 L754.4,863.6 L732,851.4 L709.6,838.7 L687.1,825.5 L664.6,811.8 L641.9,797.7 L619.1,783.2 L596.3,768.2 L573.3,752.8 M822.6,904.1 L844.8,897.5 L867,890.4 L889.3,882.6 L911.5,873.8 L933.9,863.9 L956.2,852.7 L978.7,840 L1001.3,825.6 L1024,809.5 L1046.9,791.4 L1070.1,771.1 L1093.5,748.7 M846.3,905.8 L824.1,896 L801.9,885.6 L779.6,874.6 L757.4,863.1 L735,851 L712.6,838.4 L690.1,825.4 L667.6,811.8 L644.9,797.8 L622.2,783.4 L599.3,768.5 L576.4,753.3 M819.6,902.8 L841.8,896.3 L864.1,889.3 L886.3,881.5 L908.6,872.8 L930.9,863 L953.3,851.9 L975.7,839.3 L998.3,825 L1021,809 L1043.9,791 L1067.1,770.9 L1090.5,748.6 M849.2,904.9 L827,895.2 L804.9,884.9 L782.6,874 L760.3,862.6 L738,850.6 L715.6,838.1 L693.1,825.2 L670.6,811.8 L648,797.9 L625.2,783.6 L602.4,768.8 L579.4,753.7 M816.7,901.4 L838.9,895 L861.1,888.1 L883.4,880.4 L905.6,871.8 L927.9,862.1 L950.3,851.1 L972.7,838.6 L995.3,824.4 L1018,808.5 L1040.9,790.6 L1064,770.7 L1087.4,748.5 M852.2,903.9 L830,894.3 L807.8,884.1 L785.6,873.4 L763.3,862 L741,850.2 L718.6,837.9 L696.1,825 L673.6,811.7 L651,797.9 L628.3,783.8 L605.4,769.2 L582.5,754.2 M813.7,900 L835.9,893.7 L858.2,886.9 L880.4,879.3 L902.7,870.8 L925,861.2 L947.3,850.3 L969.8,837.9 L992.3,823.8 L1015,808 L1037.9,790.2 L1061,770.4 L1084.4,748.3 M855.1,903 L833,893.5 L810.8,883.4 L788.6,872.7 L766.3,861.5 L744,849.8 L721.6,837.5 L699.1,824.8 L676.6,811.6 L654,798 L631.3,783.9 L608.5,769.5 L585.6,754.6 M810.7,898.6 L833,892.4 L855.2,885.7 L877.5,878.2 L899.7,869.8 L922,860.3 L944.4,849.4 L966.8,837.1 L989.4,823.2 L1012.1,807.5 L1034.9,789.9 L1058,770.1 L1081.4,748.2 M858.1,902 L835.9,892.6 L813.8,882.6 L791.5,872.1 L769.3,861 L747,849.3 L724.6,837.2 L702.1,824.6 L679.6,811.5 L657,798 L634.3,784.1 L611.5,769.7 L588.6,755 M807.8,897.2 L830,891.1 L852.3,884.5 L874.5,877.1 L896.8,868.8 L919.1,859.3 L941.4,848.6 L963.8,836.4 L986.4,822.6 L1009.1,807 L1031.9,789.5 L1055,769.9 L1078.3,748.1 M861.1,901.1 L838.9,891.7 L816.7,881.8 L794.5,871.4 L772.2,860.4 L749.9,848.9 L727.6,836.9 L705.1,824.4 L682.6,811.4 L660,798 L637.4,784.2 L614.6,770 L591.7,755.4 M804.8,895.7 L827.1,889.8 L849.3,883.2 L871.6,876 L893.8,867.7 L916.1,858.4 L938.5,847.7 L960.9,835.7 L983.4,821.9 L1006.1,806.5 L1028.9,789.1 L1052,769.6 L1075.3,748 M864,900.1 L841.9,890.9 L819.7,881.1 L797.5,870.7 L775.2,859.8 L752.9,848.4 L730.6,836.5 L708.1,824.2 L685.6,811.3 L663.1,798 L640.4,784.3 L617.6,770.2 L594.8,755.7 M801.9,894.3 L824.1,888.4 L846.4,882 L868.6,874.8 L890.9,866.7 L913.1,857.4 L935.5,846.9 L957.9,834.9 L980.4,821.3 L1003.1,805.9 L1025.9,788.7 L1049,769.3 L1072.3,747.9 M867,899.1 L844.8,890 L822.7,880.3 L800.4,870 L778.2,859.3 L755.9,848 L733.5,836.2 L711.1,823.9 L688.6,811.2 L666.1,798 L643.4,784.5 L620.7,770.5 L597.8,756.1 M798.9,892.8 L821.1,887.1 L843.4,880.8 L865.6,873.7 L887.9,865.6 L910.2,856.5 L932.5,846 L954.9,834.1 L977.5,820.6 L1000.1,805.4 L1022.9,788.2 L1046,769.1 L1069.3,747.7 M870,898.1 L847.8,889.1 L825.6,879.5 L803.4,869.3 L781.2,858.7 L758.9,847.5 L736.5,835.8 L714.1,823.7 L691.6,811.1 L669.1,798 L646.5,784.5 L623.7,770.7 L600.9,756.4 M795.9,891.4 L818.2,885.7 L840.4,879.5 L862.7,872.5 L884.9,864.6 L907.2,855.5 L929.6,845.2 L952,833.4 L974.5,820 L997.1,804.9 L1020,787.8 L1043,768.8 L1066.2,747.6 M872.9,897.1 L850.8,888.1 L828.6,878.6 L806.4,868.6 L784.1,858 L761.9,847 L739.5,835.4 L717.1,823.4 L694.7,810.9 L672.1,798 L649.5,784.6 L626.8,770.9 L603.9,756.7 M793,889.9 L815.2,884.4 L837.5,878.2 L859.7,871.4 L882,863.5 L904.3,854.5 L926.6,844.3 L949,832.6 L971.5,819.3 L994.2,804.3 L1017,787.4 L1040,768.5 L1063.2,747.4 M875.9,896.1 L853.7,887.2 L831.6,877.8 L809.4,867.9 L787.1,857.4 L764.8,846.5 L742.5,835 L720.1,823.1 L697.7,810.7 L675.1,797.9 L652.5,784.7 L629.8,771 L607,757 M790,888.4 L812.3,883 L834.5,877 L856.8,870.2 L879,862.4 L901.3,853.6 L923.7,843.4 L946.1,831.8 L968.6,818.7 L991.2,803.7 L1014,787 L1037,768.2 L1060.2,747.3 M878.9,895 L856.7,886.3 L834.5,877 L812.3,867.1 L790.1,856.8 L767.8,845.9 L745.5,834.6 L723.1,822.8 L700.7,810.5 L678.1,797.8 L655.5,784.7 L632.8,771.2 L610,757.3 M787,887 L809.3,881.6 L831.6,875.7 L853.8,869 L876.1,861.3 L898.4,852.6 L920.7,842.5 L943.1,831.1 L965.6,818 L988.2,803.2 L1011,786.5 L1034,767.9 L1057.2,747.1 M881.8,894 L859.7,885.3 L837.5,876.1 L815.3,866.4 L793.1,856.1 L770.8,845.4 L748.5,834.1 L726.1,822.5 L703.7,810.3 L681.1,797.7 L658.5,784.7 L635.9,771.3 L613.1,757.6 M784.1,885.5 L806.3,880.2 L828.6,874.4 L850.9,867.8 L873.1,860.3 L895.4,851.6 L917.7,841.6 L940.1,830.3 L962.6,817.3 L985.2,802.6 L1008,786.1 L1031,767.6 L1054.2,746.9 M884.8,892.9 L862.6,884.3 L840.5,875.2 L818.3,865.6 L796,855.5 L773.8,844.8 L751.5,833.7 L729.1,822.1 L706.7,810.1 L684.1,797.6 L661.6,784.7 L638.9,771.5 L616.1,757.8 M781.1,883.9 L803.4,878.8 L825.6,873.1 L847.9,866.6 L870.2,859.1 L892.4,850.6 L914.8,840.7 L937.2,829.5 L959.6,816.6 L982.2,802 L1005,785.6 L1028,767.2 L1051.1,746.8 M887.7,891.8 L865.6,883.4 L843.4,874.4 L821.2,864.8 L799,854.8 L776.7,844.2 L754.4,833.2 L732.1,821.8 L709.6,809.8 L687.2,797.5 L664.6,784.7 L641.9,771.6 L619.2,758 M778.1,882.4 L800.4,877.4 L822.7,871.8 L844.9,865.4 L867.2,858 L889.5,849.6 L911.8,839.8 L934.2,828.6 L956.7,815.9 L979.3,801.5 L1002,785.2 L1025,766.9 L1048.1,746.6 M890.7,890.7 L868.6,882.4 L846.4,873.5 L824.2,864 L802,854.1 L779.7,843.6 L757.4,832.7 L735.1,821.4 L712.6,809.6 L690.2,797.3 L667.6,784.7 L645,771.7 L622.2,758.2 M775.2,880.9 L797.5,876 L819.7,870.5 L842,864.2 L864.2,856.9 L886.5,848.5 L908.9,838.9 L931.2,827.8 L953.7,815.2 L976.3,800.9 L999,784.7 L1022,766.6 L1045.1,746.4 M893.7,889.6 L871.5,881.4 L849.4,872.5 L827.2,863.2 L804.9,853.4 L782.7,843 L760.4,832.2 L738,821 L715.6,809.3 L693.2,797.2 L670.6,784.6 L648,771.7 L625.3,758.4 M772.2,879.3 L794.5,874.6 L816.8,869.1 L839,862.9 L861.3,855.8 L883.6,847.5 L905.9,838 L928.3,827 L950.7,814.5 L973.3,800.3 L996,784.2 L1018.9,766.3 L1042.1,746.2 M896.6,888.5 L874.5,880.3 L852.3,871.6 L830.1,862.4 L807.9,852.6 L785.7,842.4 L763.4,831.7 L741,820.6 L718.6,809 L696.2,797 L673.6,784.6 L651,771.8 L628.3,758.6 M769.2,877.8 L791.5,873.1 L813.8,867.8 L836.1,861.7 L858.3,854.7 L880.6,846.5 L902.9,837 L925.3,826.2 L947.8,813.8 L970.3,799.7 L993.1,783.8 L1015.9,765.9 L1039.1,746 M899.6,887.4 L877.5,879.3 L855.3,870.7 L833.1,861.5 L810.9,851.9 L788.6,841.8 L766.4,831.2 L744,820.2 L721.6,808.7 L699.2,796.8 L676.6,784.5 L654,771.8 L631.3,758.8 M766.3,876.2 L788.6,871.7 L810.8,866.5 L833.1,860.5 L855.4,853.5 L877.7,845.4 L900,836.1 L922.3,825.3 L944.8,813 L967.4,799.1 L990.1,783.3 L1012.9,765.6 L1036.1,745.8 M902.6,886.2 L880.4,878.2 L858.3,869.7 L836.1,860.7 L813.9,851.1 L791.6,841.1 L769.3,830.6 L747,819.7 L724.6,808.4 L702.2,796.6 L679.7,784.4 L657.1,771.8 L634.4,758.9 M763.3,874.7 L785.6,870.2 L807.9,865.1 L830.1,859.2 L852.4,852.4 L874.7,844.4 L897,835.1 L919.4,824.5 L941.8,812.3 L964.4,798.5 L987.1,782.8 L1009.9,765.2 L1033,745.6 M905.5,885.1 L883.4,877.1 L861.2,868.7 L839,859.8 L816.8,850.3 L794.6,840.4 L772.3,830.1 L750,819.3 L727.6,808 L705.2,796.3 L682.7,784.3 L660.1,771.8 L637.4,759 M760.3,873.1 L782.6,868.7 L804.9,863.7 L827.2,857.9 L849.5,851.2 L871.7,843.3 L894,834.2 L916.4,823.7 L938.9,811.6 L961.4,797.8 L984.1,782.3 L1007,764.9 L1030,745.4 M908.5,883.9 L886.4,876 L864.2,867.7 L842,858.9 L819.8,849.5 L797.6,839.7 L775.3,829.5 L753,818.8 L730.6,807.6 L708.2,796.1 L685.7,784.1 L663.1,771.8 L640.4,759.1 M757.3,871.5 L779.7,867.3 L802,862.4 L824.2,856.7 L846.5,850 L868.8,842.3 L891.1,833.2 L913.4,822.8 L935.9,810.8 L958.4,797.2 L981.1,781.8 L1004,764.5 L1027,745.2 M911.5,882.7 L889.3,874.9 L867.2,866.7 L845,857.9 L822.8,848.7 L800.5,839 L778.3,828.9 L756,818.3 L733.6,807.3 L711.2,795.8 L688.7,784 L666.1,771.8 L643.5,759.2 M754.4,869.9 L776.7,865.8 L799,861 L821.3,855.4 L843.5,848.8 L865.8,841.2 L888.1,832.3 L910.5,821.9 L932.9,810.1 L955.5,796.6 L978.1,781.3 L1001,764.1 L1024,745 M914.5,881.4 L892.3,873.8 L870.1,865.7 L847.9,857 L825.7,847.9 L803.5,838.3 L781.2,828.2 L758.9,817.8 L736.6,806.8 L714.2,795.5 L691.7,783.8 L669.1,771.7 L646.5,759.2 M751.4,868.3 L773.7,864.3 L796,859.6 L818.3,854.1 L840.6,847.7 L862.9,840.1 L885.2,831.3 L907.5,821.1 L929.9,809.3 L952.5,795.9 L975.1,780.8 L998,763.8 L1021,744.8 M917.4,880.2 L895.3,872.7 L873.1,864.6 L850.9,856.1 L828.7,847 L806.5,837.5 L784.2,827.6 L761.9,817.2 L739.6,806.4 L717.2,795.2 L694.7,783.6 L672.1,771.6 L649.5,759.3 M748.4,866.7 L770.8,862.8 L793.1,858.2 L815.3,852.8 L837.6,846.5 L859.9,839 L882.2,830.3 L904.6,820.2 L927,808.6 L949.5,795.3 L972.2,780.3 L995,763.4 L1018,744.5 M920.4,878.9 L898.2,871.5 L876.1,863.5 L853.9,855.1 L831.7,846.2 L809.5,836.8 L787.2,826.9 L764.9,816.7 L742.6,806 L720.2,794.9 L697.7,783.4 L675.2,771.5 L652.6,759.3 M745.4,865 L767.8,861.2 L790.1,856.8 L812.4,851.5 L834.7,845.3 L856.9,837.9 L879.2,829.3 L901.6,819.3 L924,807.8 L946.5,794.6 L969.2,779.7 L992,763 L1015,744.3 M923.4,877.7 L901.2,870.3 L879,862.4 L856.9,854.1 L834.7,845.3 L812.4,836 L790.2,826.3 L767.9,816.1 L745.5,805.5 L723.1,794.5 L700.7,783.2 L678.2,771.4 L655.6,759.3 M742.5,863.4 L764.8,859.7 L787.1,855.4 L809.4,850.2 L831.7,844 L854,836.8 L876.3,828.3 L898.6,818.4 L921,807 L943.6,794 L966.2,779.2 L989,762.6 L1012,744 M926.3,876.4 L904.2,869.1 L882,861.3 L859.8,853.1 L837.6,844.3 L815.4,835.2 L793.2,825.5 L770.9,815.5 L748.5,805 L726.1,794.2 L703.7,782.9 L681.2,771.3 L658.6,759.3 M739.5,861.7 L761.8,858.2 L784.2,853.9 L806.4,848.9 L828.7,842.8 L851,835.7 L873.3,827.3 L895.7,817.5 L918.1,806.2 L940.6,793.3 L963.2,778.7 L986,762.2 L1008.9,743.8 M929.3,875 L907.1,867.9 L885,860.2 L862.8,852 L840.6,843.4 L818.4,834.3 L796.1,824.8 L773.8,814.9 L751.5,804.5 L729.1,793.8 L706.7,782.6 L684.2,771.1 L661.6,759.2 M736.5,860.1 L758.9,856.6 L781.2,852.5 L803.5,847.5 L825.8,841.6 L848.1,834.6 L870.4,826.3 L892.7,816.6 L915.1,805.4 L937.6,792.6 L960.2,778.1 L983,761.8 L1005.9,743.5 M932.3,873.7 L910.1,866.6 L887.9,859 L865.8,851 L843.6,842.5 L821.4,833.5 L799.1,824.1 L776.8,814.3 L754.5,804 L732.1,793.4 L709.7,782.3 L687.2,770.9 L664.6,759.2 M733.5,858.4 L755.9,855.1 L778.2,851.1 L800.5,846.2 L822.8,840.4 L845.1,833.4 L867.4,825.2 L889.7,815.7 L912.1,804.6 L934.6,792 L957.2,777.6 L980,761.4 L1002.9,743.3 M935.3,872.3 L913.1,865.3 L890.9,857.9 L868.7,849.9 L846.5,841.5 L824.3,832.6 L802.1,823.3 L779.8,813.6 L757.5,803.5 L735.1,792.9 L712.7,782 L690.2,770.7 L667.6,759.1 M730.5,856.7 L752.9,853.5 L775.2,849.6 L797.6,844.8 L819.8,839.1 L842.1,832.3 L864.4,824.2 L886.8,814.8 L909.2,803.8 L931.7,791.3 L954.3,777 L977,761 L999.9,743 M938.2,871 L916.1,864 L893.9,856.7 L871.7,848.8 L849.5,840.5 L827.3,831.7 L805.1,822.5 L782.8,812.9 L760.5,802.9 L738.1,792.5 L715.7,781.7 L693.2,770.5 L670.7,759 M727.6,855 L749.9,851.9 L772.3,848.1 L794.6,843.5 L816.9,837.9 L839.2,831.1 L861.5,823.2 L883.8,813.8 L906.2,803 L928.7,790.6 L951.3,776.5 L974,760.6 L996.9,742.8 M941.2,869.5 L919,862.7 L896.9,855.4 L874.7,847.7 L852.5,839.5 L830.3,830.8 L808,821.7 L785.8,812.2 L763.4,802.3 L741.1,792 L718.7,781.3 L696.2,770.3 L673.7,758.9 M724.6,853.4 L747,850.4 L769.3,846.7 L791.6,842.1 L813.9,836.6 L836.2,830 L858.5,822.1 L880.8,812.9 L903.2,802.2 L925.7,789.9 L948.3,775.9 L971,760.1 L993.9,742.5 M944.2,868.1 L922,861.4 L899.8,854.2 L877.6,846.5 L855.5,838.4 L833.2,829.9 L811,820.9 L788.7,811.5 L766.4,801.7 L744.1,791.5 L721.7,781 L699.2,770 L676.7,758.7 M721.6,851.6 L744,848.8 L766.3,845.2 L788.6,840.8 L811,835.3 L833.2,828.8 L855.6,821.1 L877.9,811.9 L900.3,801.4 L922.7,789.2 L945.3,775.3 L968,759.7 L990.9,742.2 M947.2,866.7 L925,860 L902.8,852.9 L880.6,845.4 L858.4,837.4 L836.2,828.9 L814,820.1 L791.7,810.8 L769.4,801.1 L747.1,791 L724.7,780.6 L702.2,769.7 L679.7,758.6 M718.6,849.9 L741,847.2 L763.4,843.7 L785.7,839.4 L808,834.1 L830.3,827.7 L852.6,820 L874.9,811 L897.3,800.5 L919.8,788.5 L942.3,774.8 L965,759.3 L987.9,741.9 M950.2,865.2 L928,858.7 L905.8,851.6 L883.6,844.2 L861.4,836.3 L839.2,827.9 L817,819.2 L794.7,810 L772.4,800.4 L750.1,790.5 L727.7,780.1 L705.2,769.4 L682.7,758.4 M715.6,848.2 L738,845.6 L760.4,842.2 L782.7,838 L805,832.8 L827.3,826.5 L849.6,818.9 L872,810 L894.3,799.7 L916.8,787.8 L939.3,774.2 L962,758.8 L984.9,741.6 M953.1,863.7 L930.9,857.2 L908.8,850.3 L886.6,843 L864.4,835.2 L842.2,826.9 L819.9,818.3 L797.7,809.2 L775.4,799.8 L753,789.9 L730.7,779.7 L708.2,769.1 L685.7,758.2 M712.6,846.5 L735,843.9 L757.4,840.7 L779.7,836.6 L802.1,831.5 L824.4,825.3 L846.7,817.9 L869,809.1 L891.4,798.8 L913.8,787 L936.4,773.6 L959.1,758.4 L981.9,741.3 M956.1,862.2 L933.9,855.8 L911.7,849 L889.5,841.7 L867.3,834 L845.1,825.9 L822.9,817.4 L800.6,808.4 L778.4,799.1 L756,789.3 L733.6,779.2 L711.2,768.8 L688.7,758 M709.6,844.7 L732,842.3 L754.4,839.2 L776.8,835.2 L799.1,830.2 L821.4,824.1 L843.7,816.8 L866,808.1 L888.4,798 L910.8,786.3 L933.4,773 L956.1,757.9 L978.9,741 M959.1,860.6 L936.9,854.4 L914.7,847.6 L892.5,840.5 L870.3,832.9 L848.1,824.9 L825.9,816.4 L803.6,807.6 L781.3,798.4 L759,788.8 L736.6,778.8 L714.2,768.4 L691.7,757.7 M706.6,843 L729.1,840.7 L751.4,837.7 L773.8,833.8 L796.1,828.9 L818.4,822.9 L840.7,815.7 L863.1,807.1 L885.4,797.1 L907.9,785.6 L930.4,772.4 L953.1,757.5 L975.9,740.7 M962.1,859 L939.9,852.9 L917.7,846.3 L895.5,839.2 L873.3,831.7 L851.1,823.8 L828.9,815.5 L806.6,806.8 L784.3,797.6 L762,788.1 L739.6,778.3 L717.2,768 L694.7,757.4 M703.6,841.2 L726.1,839 L748.5,836.1 L770.8,832.3 L793.1,827.6 L815.5,821.7 L837.8,814.6 L860.1,806.1 L882.5,796.3 L904.9,784.8 L927.4,771.8 L950.1,757 L972.9,740.4 M965.1,857.4 L942.9,851.4 L920.7,844.9 L898.5,837.9 L876.3,830.5 L854.1,822.7 L831.8,814.5 L809.6,805.9 L787.3,796.9 L765,787.5 L742.6,777.7 L720.2,767.6 L697.7,757.2 M700.6,839.4 L723.1,837.4 L745.5,834.6 L767.8,830.9 L790.2,826.3 L812.5,820.5 L834.8,813.5 L857.1,805.2 L879.5,795.4 L901.9,784.1 L924.5,771.2 L947.1,756.5 L969.9,740.1 M968.1,855.8 L945.9,849.8 L923.7,843.4 L901.4,836.6 L879.2,829.3 L857,821.6 L834.8,813.5 L812.6,805 L790.3,796.1 L768,786.8 L745.6,777.2 L723.2,767.2 L700.7,756.9 M697.6,837.7 L720.1,835.7 L742.5,833 L764.9,829.5 L787.2,824.9 L809.5,819.3 L831.8,812.4 L854.2,804.2 L876.5,794.5 L899,783.3 L921.5,770.6 L944.1,756 L966.9,739.7 M971.1,854.2 L948.8,848.3 L926.6,842 L904.4,835.2 L882.2,828 L860,820.4 L837.8,812.5 L815.5,804.1 L793.2,795.3 L770.9,786.1 L748.6,776.6 L726.2,766.8 L703.7,756.5 M694.6,835.9 L717.1,834.1 L739.5,831.5 L761.9,828 L784.2,823.6 L806.6,818 L828.9,811.3 L851.2,803.2 L873.6,793.6 L896,782.6 L918.5,769.9 L941.1,755.6 L963.9,739.4 M974.1,852.5 L951.8,846.7 L929.6,840.5 L907.4,833.8 L885.2,826.8 L863,819.3 L840.8,811.4 L818.5,803.1 L796.2,794.5 L773.9,785.4 L751.6,776 L729.2,766.3 L706.7,756.2 M691.6,834.1 L714.1,832.4 L736.5,829.9 L758.9,826.6 L781.3,822.2 L803.6,816.8 L825.9,810.1 L848.2,802.1 L870.6,792.7 L893,781.8 L915.5,769.3 L938.1,755.1 L960.9,739.1 M977.1,850.8 L954.8,845.1 L932.6,839 L910.4,832.4 L888.2,825.5 L866,818.1 L843.7,810.3 L821.5,802.2 L799.2,793.6 L776.9,784.7 L754.6,775.4 L732.2,765.8 L709.7,755.8 M688.6,832.3 L711.1,830.7 L733.6,828.3 L755.9,825.1 L778.3,820.9 L800.6,815.6 L822.9,809 L845.3,801.1 L867.6,791.8 L890,781 L912.5,768.7 L935.1,754.6 L957.9,738.7 M980,849 L957.8,843.4 L935.6,837.4 L913.4,831 L891.2,824.1 L868.9,816.9 L846.7,809.2 L824.5,801.2 L802.2,792.7 L779.9,783.9 L757.5,774.8 L735.2,765.3 L712.7,755.4 M685.6,830.5 L708.1,829 L730.6,826.8 L753,823.6 L775.3,819.5 L797.7,814.3 L820,807.9 L842.3,800.1 L864.7,790.9 L887.1,780.3 L909.6,768 L932.2,754.1 L954.9,738.4 M983,847.3 L960.8,841.8 L938.6,835.9 L916.4,829.5 L894.1,822.8 L871.9,815.6 L849.7,808.1 L827.4,800.2 L805.2,791.8 L782.9,783.2 L760.5,774.1 L738.2,764.7 L715.7,755 M682.6,828.6 L705.1,827.3 L727.6,825.2 L750,822.2 L772.3,818.2 L794.7,813 L817,806.7 L839.3,799.1 L861.7,790 L884.1,779.5 L906.6,767.4 L929.2,753.6 L951.9,738 M986,845.5 L963.8,840.1 L941.6,834.3 L919.3,828 L897.1,821.4 L874.9,814.4 L852.7,806.9 L830.4,799.1 L808.1,790.9 L785.8,782.4 L763.5,773.5 L741.1,764.2 L718.7,754.6 M679.6,826.8 L702.1,825.6 L724.6,823.6 L747,820.7 L769.4,816.8 L791.7,811.8 L814,805.6 L836.4,798 L858.7,789.1 L881.1,778.7 L903.6,766.7 L926.2,753.1 L948.9,737.7 M989.1,843.7 L966.8,838.4 L944.6,832.7 L922.3,826.5 L900.1,820 L877.9,813.1 L855.6,805.8 L833.4,798.1 L811.1,790 L788.8,781.5 L766.5,772.8 L744.1,763.6 L721.7,754.1 M676.6,825 L699.1,823.9 L721.6,822 L744,819.2 L766.4,815.4 L788.7,810.5 L811.1,804.4 L833.4,797 L855.8,788.2 L878.2,777.9 L900.6,766 L923.2,752.5 L945.9,737.3 M992.1,841.8 L969.8,836.6 L947.6,831 L925.3,825 L903.1,818.6 L880.9,811.8 L858.6,804.6 L836.4,797 L814.1,789 L791.8,780.7 L769.5,772 L747.1,763 L724.7,753.6 M673.6,823.1 L696.1,822.1 L718.6,820.4 L741,817.7 L763.4,814 L785.8,809.2 L808.1,803.2 L830.4,795.9 L852.8,787.3 L875.2,777.1 L897.7,765.4 L920.2,752 L942.9,736.9 M995.1,839.9 L972.8,834.8 L950.5,829.3 L928.3,823.4 L906.1,817.1 L883.8,810.4 L861.6,803.3 L839.3,795.9 L817.1,788 L794.8,779.8 L772.5,771.3 L750.1,762.4 L727.7,753.2 M670.6,821.3 L693.1,820.4 L715.6,818.7 L738.1,816.2 L760.4,812.6 L782.8,807.9 L805.1,802.1 L827.5,794.9 L849.8,786.3 L872.2,776.3 L894.7,764.7 L917.2,751.5 L939.9,736.6 M998.1,838 L975.8,833 L953.5,827.6 L931.3,821.8 L909.1,815.6 L886.8,809 L864.6,802.1 L842.3,794.7 L820.1,787 L797.8,778.9 L775.5,770.5 L753.1,761.7 L730.7,752.6 M667.6,819.4 L690.1,818.7 L712.6,817.1 L735.1,814.7 L757.5,811.2 L779.8,806.6 L802.2,800.9 L824.5,793.8 L846.8,785.4 L869.2,775.5 L891.7,764 L914.3,751 L936.9,736.2 M1001.1,836.1 L978.8,831.2 L956.5,825.9 L934.3,820.2 L912,814.1 L889.8,807.6 L867.6,800.8 L845.3,793.6 L823,786 L800.8,778 L778.4,769.7 L756.1,761.1 L733.7,752.1 M664.6,817.5 L687.1,816.9 L709.6,815.5 L732.1,813.1 L754.5,809.8 L776.8,805.3 L799.2,799.7 L821.5,792.8 L843.9,784.4 L866.3,774.7 L888.7,763.3 L911.3,750.4 L933.9,735.8 M1004.1,834.1 L981.8,829.3 L959.5,824.1 L937.3,818.5 L915,812.6 L892.8,806.2 L870.5,799.5 L848.3,792.4 L826,784.9 L803.7,777.1 L781.4,768.9 L759.1,760.4 L736.7,751.5 M661.5,815.6 L684.1,815.1 L706.6,813.8 L729.1,811.6 L751.5,808.4 L773.9,804 L796.2,798.5 L818.6,791.7 L840.9,783.5 L863.3,773.8 L885.7,762.6 L908.3,749.9 L930.9,735.4 M1007.1,832.1 L984.8,827.4 L962.5,822.3 L940.3,816.9 L918,811 L895.8,804.8 L873.5,798.1 L851.3,791.2 L829,783.8 L806.7,776.1 L784.4,768.1 L762.1,759.7 L739.7,750.9 M658.5,813.8 L681.1,813.4 L703.7,812.2 L726.1,810.1 L748.5,807 L770.9,802.7 L793.2,797.3 L815.6,790.6 L837.9,782.5 L860.3,773 L882.8,762 L905.3,749.3 L927.9,735 M1010.1,830 L987.8,825.5 L965.5,820.5 L943.3,815.2 L921,809.4 L898.8,803.3 L876.5,796.8 L854.3,789.9 L832,782.7 L809.7,775.1 L787.4,767.2 L765,758.9 L742.7,750.3 M655.5,811.9 L678.1,811.6 L700.7,810.5 L723.1,808.5 L745.5,805.5 L767.9,801.4 L790.3,796.1 L812.6,789.5 L835,781.6 L857.3,772.2 L879.8,761.3 L902.3,748.8 L925,734.6 M1013.2,828 L990.8,823.5 L968.6,818.7 L946.3,813.4 L924,807.8 L901.8,801.8 L879.5,795.4 L857.2,788.7 L835,781.6 L812.7,774.1 L790.4,766.3 L768,758.2 L745.7,749.7 M652.5,809.9 L675.1,809.8 L697.7,808.8 L720.1,807 L742.6,804.1 L764.9,800.1 L787.3,794.9 L809.6,788.4 L832,780.6 L854.4,771.3 L876.8,760.5 L899.3,748.2 L922,734.2 M1016.2,825.9 L993.9,821.5 L971.6,816.8 L949.3,811.6 L927,806.1 L904.7,800.2 L882.5,794 L860.2,787.4 L837.9,780.4 L815.7,773.1 L793.4,765.4 L771,757.4 L748.6,749 M649.5,808 L672.1,808 L694.7,807.2 L717.1,805.4 L739.6,802.6 L762,798.7 L784.3,793.7 L806.7,787.3 L829,779.6 L851.4,770.5 L873.8,759.8 L896.4,747.6 L919,733.8 M1019.2,823.7 L996.9,819.5 L974.6,814.9 L952.3,809.8 L930,804.4 L907.7,798.7 L885.5,792.5 L863.2,786 L840.9,779.2 L818.6,772 L796.3,764.5 L774,756.6 L751.6,748.4 M646.4,806.1 L669.1,806.2 L691.7,805.5 L714.2,803.8 L736.6,801.2 L759,797.4 L781.3,792.4 L803.7,786.2 L826.1,778.6 L848.4,769.6 L870.9,759.1 L893.4,747.1 L916,733.4 M1022.3,821.6 L999.9,817.4 L977.6,812.9 L955.3,808 L933,802.7 L910.7,797.1 L888.5,791.1 L866.2,784.7 L843.9,778 L821.6,770.9 L799.3,763.5 L777,755.7 L754.6,747.7 M643.4,804.2 L666.1,804.4 L688.7,803.8 L711.2,802.3 L733.6,799.7 L756,796 L778.4,791.2 L800.7,785.1 L823.1,777.6 L845.5,768.7 L867.9,758.4 L890.4,746.5 L913,733 M1025.3,819.4 L1002.9,815.3 L980.6,810.9 L958.3,806.1 L936,801 L913.7,795.5 L891.5,789.6 L869.2,783.3 L846.9,776.7 L824.6,769.8 L802.3,762.5 L780,754.9 L757.6,746.9 M640.4,802.2 L663.1,802.6 L685.6,802.1 L708.2,800.7 L730.6,798.2 L753,794.7 L775.4,790 L797.8,784 L820.1,776.6 L842.5,767.9 L864.9,757.7 L887.4,745.9 L910,732.5 M1028.3,817.1 L1006,813.2 L983.6,808.9 L961.3,804.2 L939,799.2 L916.7,793.8 L894.4,788 L872.2,781.9 L849.9,775.5 L827.6,768.6 L805.3,761.5 L783,754 L760.6,746.2 M637.4,800.3 L660,800.8 L682.6,800.4 L705.2,799.1 L727.6,796.8 L750,793.3 L772.4,788.7 L794.8,782.8 L817.1,775.6 L839.5,767 L861.9,756.9 L884.4,745.3 L907,732.1 M1031.4,814.9 L1009,811.1 L986.6,806.9 L964.3,802.3 L942,797.4 L919.7,792.1 L897.4,786.5 L875.2,780.5 L852.9,774.2 L830.6,767.5 L808.3,760.5 L785.9,753.1 L763.6,745.4 M634.3,798.3 L657,798.9 L679.6,798.7 L702.2,797.5 L724.6,795.3 L747.1,792 L769.4,787.5 L791.8,781.7 L814.2,774.6 L836.5,766.1 L859,756.2 L881.4,744.7 L904,731.6 M1034.4,812.5 L1012,808.9 L989.7,804.8 L967.3,800.4 L945,795.6 L922.7,790.4 L900.4,784.9 L878.1,779 L855.9,772.8 L833.6,766.3 L811.3,759.4 L788.9,752.2 L766.6,744.7 M631.3,796.4 L654,797.1 L676.6,797 L699.2,795.9 L721.7,793.8 L744.1,790.6 L766.5,786.2 L788.8,780.6 L811.2,773.6 L833.6,765.2 L856,755.4 L878.5,744.1 L901,731.2 M1037.5,810.2 L1015.1,806.6 L992.7,802.7 L970.4,798.4 L948,793.7 L925.7,788.7 L903.4,783.3 L881.1,777.6 L858.8,771.5 L836.5,765.1 L814.2,758.3 L791.9,751.2 L769.6,743.8 M628.3,794.4 L651,795.2 L673.6,795.2 L696.2,794.3 L718.7,792.3 L741.1,789.2 L763.5,784.9 L785.9,779.4 L808.2,772.6 L830.6,764.3 L853,754.7 L875.5,743.5 L898,730.7 M1040.5,807.8 L1018.1,804.4 L995.7,800.5 L973.4,796.4 L951,791.8 L928.7,786.9 L906.4,781.6 L884.1,776 L861.8,770.1 L839.5,763.8 L817.2,757.2 L794.9,750.3 L772.6,743 M625.2,792.4 L648,793.4 L670.6,793.5 L693.2,792.7 L715.7,790.8 L738.1,787.8 L760.5,783.7 L782.9,778.3 L805.2,771.5 L827.6,763.4 L850,753.9 L872.5,742.9 L895.1,730.3 M1043.6,805.4 L1021.1,802.1 L998.8,798.4 L976.4,794.3 L954.1,789.9 L931.7,785.1 L909.4,780 L887.1,774.5 L864.8,768.7 L842.5,762.5 L820.2,756.1 L797.9,749.3 L775.5,742.1 M622.2,790.4 L644.9,791.5 L667.6,791.8 L690.2,791 L712.7,789.3 L735.1,786.4 L757.5,782.4 L779.9,777.1 L802.3,770.5 L824.6,762.5 L847.1,753.1 L869.5,742.3 L892.1,729.8 M1046.6,803 L1024.2,799.7 L1001.8,796.2 L979.4,792.2 L957.1,787.9 L934.7,783.3 L912.4,778.3 L890.1,772.9 L867.8,767.3 L845.5,761.3 L823.2,754.9 L800.9,748.2 L778.5,741.3 M619.1,788.4 L641.9,789.7 L664.6,790 L687.2,789.4 L709.7,787.8 L732.1,785 L754.5,781.1 L776.9,775.9 L799.3,769.5 L821.7,761.6 L844.1,752.4 L866.5,741.6 L889.1,729.4 M1049.7,800.5 L1027.2,797.4 L1004.8,793.9 L982.5,790.1 L960.1,785.9 L937.8,781.4 L915.4,776.5 L893.1,771.3 L870.8,765.8 L848.5,759.9 L826.2,753.7 L803.9,747.2 L781.5,740.4 M616.1,786.4 L638.9,787.8 L661.6,788.2 L684.2,787.8 L706.7,786.2 L729.2,783.6 L751.6,779.8 L773.9,774.8 L796.3,768.4 L818.7,760.7 L841.1,751.6 L863.6,741 L886.1,728.9 M1052.8,798 L1030.3,795 L1007.9,791.6 L985.5,787.9 L963.1,783.9 L940.8,779.5 L918.4,774.8 L896.1,769.7 L873.8,764.3 L851.5,758.6 L829.2,752.5 L806.8,746.1 L784.5,739.4 M613.1,784.4 L635.8,785.9 L658.5,786.5 L681.2,786.1 L703.7,784.7 L726.2,782.2 L748.6,778.5 L771,773.6 L793.3,767.4 L815.7,759.8 L838.1,750.8 L860.6,740.4 L883.1,728.4 M1055.8,795.4 L1033.4,792.5 L1010.9,789.3 L988.5,785.7 L966.1,781.8 L943.8,777.6 L921.4,773 L899.1,768.1 L876.8,762.8 L854.5,757.2 L832.2,751.3 L809.8,745 L787.5,738.5 M610,782.4 L632.8,784 L655.5,784.7 L678.1,784.5 L700.7,783.2 L723.2,780.8 L745.6,777.2 L768,772.4 L790.4,766.3 L812.7,758.9 L835.1,750 L857.6,739.7 L880.1,727.9 M1058.9,792.8 L1036.4,790.1 L1014,787 L991.6,783.5 L969.2,779.7 L946.8,775.6 L924.5,771.2 L902.1,766.4 L879.8,761.3 L857.5,755.8 L835.1,750 L812.8,743.9 L790.5,737.5 M607,780.4 L629.8,782.1 L652.5,782.9 L675.1,782.8 L697.7,781.6 L720.2,779.3 L742.6,775.9 L765,771.2 L787.4,765.2 L809.8,757.9 L832.2,749.2 L854.6,739.1 L877.1,727.4 M1062,790.2 L1039.5,787.5 L1017,784.6 L994.6,781.3 L972.2,777.6 L949.8,773.6 L927.5,769.3 L905.1,764.7 L882.8,759.7 L860.5,754.4 L838.1,748.7 L815.8,742.8 L793.5,736.5 M603.9,778.4 L626.7,780.2 L649.5,781.1 L672.1,781.1 L694.7,780.1 L717.2,777.9 L739.6,774.6 L762,770 L784.4,764.2 L806.8,757 L829.2,748.4 L851.6,738.4 L874.1,726.9 M1065.1,787.5 L1042.6,785 L1020.1,782.2 L997.6,779 L975.2,775.5 L952.8,771.6 L930.5,767.4 L908.1,762.9 L885.8,758.1 L863.5,752.9 L841.1,747.4 L818.8,741.6 L796.5,735.5 M600.9,776.3 L623.7,778.3 L646.5,779.4 L669.1,779.4 L691.7,778.5 L714.2,776.5 L736.6,773.2 L759.1,768.8 L781.4,763.1 L803.8,756 L826.2,747.6 L848.7,737.8 L871.2,726.4 M1068.2,784.8 L1045.6,782.4 L1023.1,779.7 L1000.7,776.7 L978.3,773.3 L955.9,769.6 L933.5,765.5 L911.1,761.1 L888.8,756.4 L866.5,751.4 L844.1,746.1 L821.8,740.4 L799.4,734.4 M597.8,774.3 L620.7,776.4 L643.4,777.6 L666.1,777.8 L688.7,776.9 L711.2,775 L733.7,771.9 L756.1,767.6 L778.5,762 L800.8,755.1 L823.2,746.8 L845.7,737.1 L868.2,725.9 M1071.3,782 L1048.7,779.8 L1026.2,777.2 L1003.7,774.3 L981.3,771.1 L958.9,767.5 L936.5,763.6 L914.1,759.3 L891.8,754.8 L869.5,749.9 L847.1,744.7 L824.8,739.2 L802.4,733.4 M594.7,772.2 L617.6,774.4 L640.4,775.7 L663.1,776.1 L685.7,775.4 L708.2,773.5 L730.7,770.6 L753.1,766.4 L775.5,760.9 L797.9,754.1 L820.3,746 L842.7,736.4 L865.2,725.4 M1074.4,779.2 L1051.8,777.1 L1029.3,774.7 L1006.8,771.9 L984.3,768.8 L961.9,765.4 L939.5,761.6 L917.2,757.5 L894.8,753.1 L872.4,748.4 L850.1,743.3 L827.8,737.9 L805.4,732.3 M591.7,770.2 L614.6,772.5 L637.4,773.9 L660.1,774.4 L682.7,773.8 L705.2,772.1 L727.7,769.2 L750.1,765.2 L772.5,759.8 L794.9,753.2 L817.3,745.2 L839.7,735.8 L862.2,724.9 M1077.5,776.4 L1054.9,774.4 L1032.3,772.1 L1009.9,769.5 L987.4,766.5 L965,763.2 L942.6,759.6 L920.2,755.7 L897.8,751.4 L875.4,746.8 L853.1,741.9 L830.8,736.7 L808.4,731.1 M588.6,768.1 L611.5,770.6 L634.3,772.1 L657.1,772.7 L679.7,772.2 L702.2,770.6 L724.7,767.9 L747.1,763.9 L769.5,758.7 L791.9,752.2 L814.3,744.3 L836.7,735.1 L859.2,724.4 M1080.6,773.5 L1058,771.7 L1035.4,769.5 L1012.9,767 L990.4,764.2 L968,761 L945.6,757.6 L923.2,753.8 L900.8,749.6 L878.5,745.2 L856.1,740.5 L833.7,735.4 L811.4,730 M585.6,766 L608.5,768.6 L631.3,770.3 L654,771 L676.7,770.6 L699.2,769.1 L721.7,766.5 L744.1,762.7 L766.5,757.6 L788.9,751.2 L811.3,743.5 L833.8,734.4 L856.2,723.8 M1083.7,770.6 L1061.1,768.9 L1038.5,766.9 L1016,764.5 L993.5,761.8 L971,758.8 L948.6,755.5 L926.2,751.8 L903.8,747.9 L881.5,743.6 L859.1,739 L836.7,734.1 L814.4,728.8 M582.5,763.9 L605.4,766.7 L628.3,768.5 L651,769.3 L673.7,769 L696.2,767.7 L718.7,765.2 L741.2,761.5 L763.6,756.5 L786,750.2 L808.3,742.7 L830.8,733.7 L853.3,723.3 M1086.8,767.6 L1064.2,766.1 L1041.6,764.2 L1019.1,762 L996.6,759.4 L974.1,756.6 L951.6,753.4 L929.2,749.9 L906.8,746.1 L884.5,741.9 L862.1,737.5 L839.7,732.7 L817.4,727.7 M579.4,761.9 L602.4,764.7 L625.2,766.6 L648,767.5 L670.6,767.4 L693.2,766.2 L715.7,763.8 L738.2,760.2 L760.6,755.4 L783,749.3 L805.4,741.8 L827.8,733 L850.3,722.8 M1089.9,764.6 L1067.3,763.2 L1044.7,761.4 L1022.1,759.4 L999.6,757 L977.1,754.3 L954.7,751.2 L932.3,747.9 L909.8,744.2 L887.5,740.3 L865.1,736 L842.7,731.4 L820.4,726.4 M576.4,759.8 L599.3,762.7 L622.2,764.8 L645,765.8 L667.6,765.8 L690.2,764.7 L712.7,762.4 L735.2,759 L757.6,754.3 L780,748.3 L802.4,741 L824.8,732.3 L847.3,722.2 M1093.1,761.6 L1070.4,760.3 L1047.8,758.7 L1025.2,756.8 L1002.7,754.5 L980.2,752 L957.7,749.1 L935.3,745.9 L912.9,742.4 L890.5,738.5 L868.1,734.4 L845.7,730 L823.4,725.2 M573.3,757.7 L596.3,760.8 L619.2,762.9 L641.9,764.1 L664.6,764.2 L687.2,763.2 L709.7,761 L732.2,757.7 L754.6,753.1 L777,747.3 L799.4,740.1 L821.8,731.6 L844.3,721.7 M1096.2,758.5 L1073.5,757.4 L1050.9,755.9 L1028.3,754.1 L1005.7,752 L983.2,749.6 L960.8,746.9 L938.3,743.8 L915.9,740.5 L893.5,736.8 L871.1,732.8 L848.7,728.5 L826.4,723.9 M570.2,755.5 L593.2,758.8 L616.1,761 L638.9,762.3 L661.6,762.5 L684.2,761.7 L706.7,759.6 L729.2,756.4 L751.6,752 L774,746.3 L796.4,739.2 L818.9,730.9 L841.3,721.1 M1099.3,755.4 L1076.6,754.4 L1054,753.1 L1031.4,751.4 L1008.8,749.5 L986.3,747.2 L963.8,744.6 L941.3,741.8 L918.9,738.6 L896.5,735 L874.1,731.2 L851.7,727.1 L829.4,722.6 M567.1,753.4 L590.2,756.8 L613.1,759.2 L635.9,760.6 L658.6,760.9 L681.2,760.2 L703.7,758.3 L726.2,755.2 L748.6,750.8 L771.1,745.3 L793.5,738.4 L815.9,730.2 L838.3,720.6 M1102.5,752.2 L1079.8,751.4 L1057.1,750.2 L1034.5,748.7 L1011.9,746.9 L989.3,744.8 L966.8,742.4 L944.4,739.6 L921.9,736.6 L899.5,733.2 L877.1,729.6 L854.7,725.6 L832.4,721.3 M564.1,751.3 L587.1,754.8 L610,757.3 L632.9,758.8 L655.6,759.3 L678.2,758.6 L700.7,756.9 L723.2,753.9 L745.7,749.7 L768.1,744.2 L790.5,737.5 L812.9,729.4 L835.3,720 M1105.6,749 L1082.9,748.3 L1060.2,747.3 L1037.6,745.9 L1015,744.3 L992.4,742.3 L969.9,740.1 L947.4,737.5 L925,734.6 L902.5,731.4 L880.1,727.9 L857.7,724.1 L835.3,720" fill="none" stroke="#000" stroke-opacity="0.6" stroke-width="0.8"/>
<path d="M834.4,909.5 L820.4,903.1 L806.4,896.5 L792.3,889.6 L778.3,882.5 L764.2,875.2 L750.1,867.6 L736,859.8 L721.9,851.8 L707.7,843.6 L693.5,835.2 L679.3,826.6 L665,817.8 L650.7,808.8 L636.4,799.7 L622,790.3 L607.6,780.8 L593.1,771.1 L578.6,761.3 L564.1,751.3 L564.1,751.3 L578.6,753.6 L593.2,755.5 L607.6,757.1 L622.1,758.2 L636.5,759 L650.8,759.3 L665.1,759.1 L679.4,758.6 L693.6,757.5 L707.8,756.1 L722,754.1 L736.2,751.6 L750.4,748.7 L764.5,745.2 L778.7,741.2 L792.8,736.7 L807,731.7 L821.2,726.1 L835.3,720 L835.3,720 L849.5,722.6 L863.6,725.1 L877.8,727.5 L891.9,729.8 L906.1,731.9 L920.2,734 L934.4,735.9 L948.6,737.6 L962.8,739.3 L977,740.8 L991.2,742.2 L1005.5,743.5 L1019.7,744.7 L1034,745.7 L1048.3,746.6 L1062.6,747.4 L1076.9,748.1 L1091.3,748.6 L1105.6,749 L1105.6,749 L1090.7,763.8 L1076,777.7 L1061.3,790.7 L1046.8,802.8 L1032.3,814.1 L1017.9,824.6 L1003.6,834.4 L989.4,843.5 L975.2,851.9 L961,859.6 L946.9,866.8 L932.8,873.5 L918.7,879.7 L904.6,885.4 L890.6,890.8 L876.5,895.8 L862.5,900.6 L848.4,905.1 L834.4,909.5Z" fill="none" stroke="#111" stroke-opacity=".5" stroke-width=".8"/>
<g><ellipse cx="149.5" cy="274.2" rx="4.9" ry="3.4" fill="#ff0000" stroke="#600" stroke-width=".6"/><ellipse cx="410.8" cy="245" rx="4.9" ry="3.4" fill="#ff0000" stroke="#600" stroke-width=".6"/><ellipse cx="410.8" cy="361.3" rx="4.9" ry="3.4" fill="#ff0000" stroke="#600" stroke-width=".6"/><ellipse cx="677.6" cy="201.5" rx="4.9" ry="3.4" fill="#f4b8b8" stroke="#600" stroke-width=".6"/><ellipse cx="943" cy="139.7" rx="4.9" ry="3.4" fill="#ff0000" stroke="#600" stroke-width=".6"/><ellipse cx="1227.7" cy="61.7" rx="4.9" ry="3.4" fill="#ff0000" stroke="#600" stroke-width=".6"/><ellipse cx="1227.8" cy="217.8" rx="4.9" ry="3.4" fill="#ff0000" stroke="#600" stroke-width=".6"/><ellipse cx="1227.5" cy="340.3" rx="4.9" ry="3.4" fill="#f4b8b8" stroke="#600" stroke-width=".6"/><ellipse cx="1504.8" cy="248.6" rx="4.9" ry="3.4" fill="#f4b8b8" stroke="#600" stroke-width=".6"/><ellipse cx="563.5" cy="752" rx="4.9" ry="3.4" fill="#f4b8b8" stroke="#600" stroke-width=".6"/><ellipse cx="835" cy="713.4" rx="4.9" ry="3.4" fill="#ff0000" stroke="#600" stroke-width=".6"/><ellipse cx="834.3" cy="805.5" rx="4.9" ry="3.4" fill="#ff0000" stroke="#600" stroke-width=".6"/><ellipse cx="834.9" cy="915.5" rx="4.9" ry="3.4" fill="#f4b8b8" stroke="#600" stroke-width=".6"/><ellipse cx="1105" cy="745.8" rx="4.9" ry="3.4" fill="#ff0000" stroke="#600" stroke-width=".6"/></g>
<path d="M1525.6,367.8 L1527.7,373.3 M1119.6,959.7 L1122,967" stroke="#333" stroke-width="1.6" stroke-linecap="round"/>
<path d="M544.6,694.3 L546.9,694.3 M551.4,694 L553.6,694 L553.9,702.5 M555.9,731.3 L555.9,735.3 M555.9,740.5 L555.9,741.6 M564,841 L564,846 M922.7,70.9 L930.5,70.9 M930.5,118.3 L933.6,118.3 M147,394.5 L148.6,394.5" stroke="#aaa" stroke-width="1"/>
<g class="t" text-anchor="middle" dominant-baseline="central"><text transform="translate(17.1 15.5)" font-size="30">A</text><text transform="translate(803.7 15.4)" font-size="29">B</text><text transform="translate(406.6 633.5)" font-size="29">C</text><text transform="translate(46.8 279.6) rotate(90) scale(0.93 1)" font-size="30">DH</text><text transform="translate(105.6 121.3) rotate(-45)" font-size="21">14</text><text transform="translate(113.4 175.5)" font-size="21">12</text><text transform="translate(115.7 217.8)" font-size="21">10</text><text transform="translate(123.9 257.1)" font-size="21">8</text><text transform="translate(126.6 303.3)" font-size="21">6</text><text transform="translate(129.3 336.2)" font-size="21">4</text><text transform="translate(133.4 377.3) rotate(-15)" font-size="21">2</text><text transform="translate(169.8 425.9) rotate(-62)" font-size="21">2567</text><text transform="translate(208.9 442.5) rotate(-62)" font-size="21">2309</text><text transform="translate(249 458.2) rotate(-62)" font-size="21">2052</text><text transform="translate(293.9 474.8) rotate(-62)" font-size="21">1796</text><text transform="translate(336 489.4) rotate(-62)" font-size="21">1539</text><text transform="translate(377 505) rotate(-62)" font-size="21">1283</text><text transform="translate(191.3 505) rotate(24)" font-size="27">Protamax</text><text transform="translate(433.5 492) rotate(-22)" font-size="21">0</text><text transform="translate(501.3 468) rotate(-22)" font-size="21">337</text><text transform="translate(567 448.2) rotate(-22)" font-size="21">675</text><text transform="translate(645.1 418) rotate(-22)" font-size="21">1012</text><text transform="translate(706.6 399.2) rotate(-25)" font-size="21">1350</text><text transform="translate(659.7 470) rotate(-18)" font-size="27">Flavorzyme</text><text transform="translate(827.5 253.5) rotate(70) scale(0.93 1)" font-size="30">DH</text><text transform="translate(908.6 95.5)" font-size="21">14</text><text transform="translate(909.3 145.8) rotate(-12)" font-size="21">12</text><text transform="translate(914 188) rotate(-12)" font-size="21">10</text><text transform="translate(924.6 225.6)" font-size="21">8</text><text transform="translate(928.1 267.8)" font-size="21">6</text><text transform="translate(929.3 305.3)" font-size="21">4</text><text transform="translate(935.1 369.9)" font-size="21">2</text><text transform="translate(974.4 416.5) rotate(-66)" font-size="21">1350</text><text transform="translate(1019.9 434.7) rotate(-66)" font-size="21">1012</text><text transform="translate(1069.3 445.8) rotate(-66)" font-size="21">675</text><text transform="translate(1129.9 470) rotate(-66)" font-size="21">337</text><text transform="translate(1201.6 481.2) rotate(-66)" font-size="21">0</text><text transform="translate(1010.8 510.4) rotate(26)" font-size="27">Flavorzyme</text><text transform="translate(1241.5 485.2) rotate(-22)" font-size="21">2</text><text transform="translate(1304.1 465.7) rotate(-22)" font-size="21">2.5</text><text transform="translate(1361.6 443.1) rotate(-22)" font-size="21">3</text><text transform="translate(1430.3 419.5) rotate(-22)" font-size="21">3.5</text><text transform="translate(1510.4 385.7) rotate(-22)" font-size="21">4</text><text transform="translate(1417 489.3) rotate(-21)" font-size="27">Time</text><text transform="translate(442.9 811) rotate(80) scale(0.93 1)" font-size="30">DH</text><text transform="translate(529.8 670.6)" font-size="21">14</text><text transform="translate(529 721.2)" font-size="21">12</text><text transform="translate(533.2 771.3) rotate(-12)" font-size="21">10</text><text transform="translate(543 822.7)" font-size="21">8</text><text transform="translate(544.3 861.7)" font-size="21">6</text><text transform="translate(548.5 909)" font-size="21">4</text><text transform="translate(553 996.3) rotate(-64)" font-size="21">2567</text><text transform="translate(598.5 1012.7) rotate(-64)" font-size="21">2309</text><text transform="translate(642.9 1033.9) rotate(-64)" font-size="21">2052</text><text transform="translate(704.5 1054.1) rotate(-64)" font-size="21">1796</text><text transform="translate(756 1074.3) rotate(-64)" font-size="21">1539</text><text transform="translate(816.6 1096.5) rotate(-64)" font-size="21">1283</text><text transform="translate(626.7 1105.6) rotate(24)" font-size="27">Protamax</text><text transform="translate(866.4 1073.1) rotate(-22)" font-size="21">2</text><text transform="translate(926 1052.6) rotate(-22)" font-size="21">2.5</text><text transform="translate(970 1036) rotate(-22)" font-size="21">3</text><text transform="translate(1025.7 1012.5) rotate(-22)" font-size="21">3.5</text><text transform="translate(1085.3 990) rotate(-22)" font-size="21">4</text><text transform="translate(1047.2 1063.3) rotate(-20)" font-size="27">Time</text></g>
</svg>
</body></html>
